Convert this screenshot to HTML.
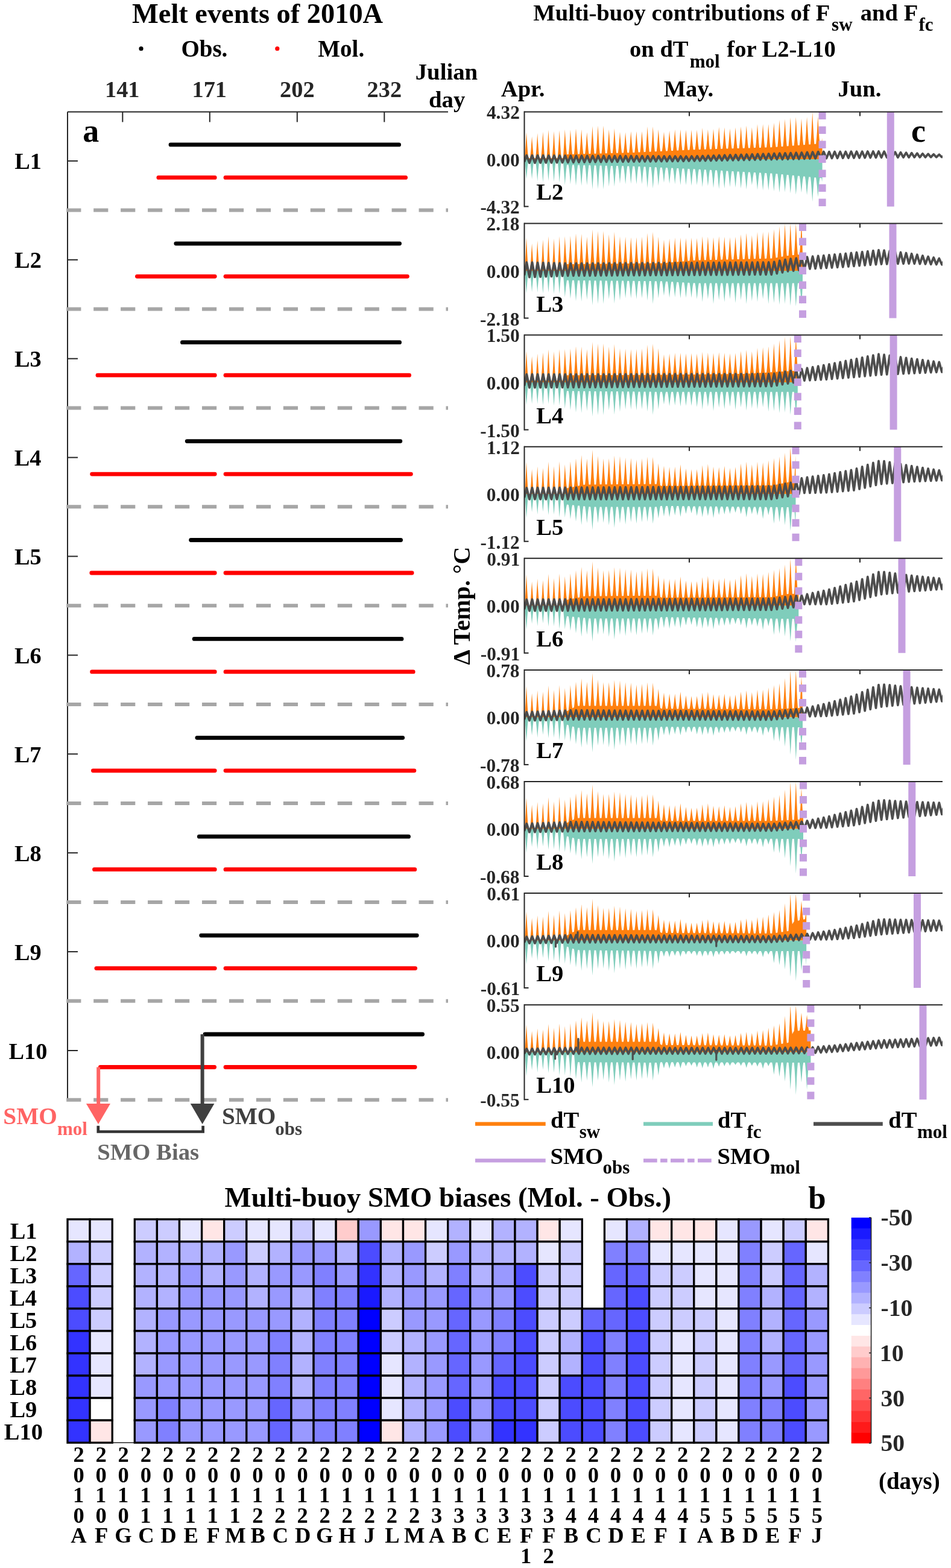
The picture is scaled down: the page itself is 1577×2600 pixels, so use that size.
<!DOCTYPE html>
<html><head><meta charset="utf-8"><title>Figure</title>
<style>html,body{margin:0;padding:0;background:#fff;} svg{display:block;} text{font-family:'Liberation Serif', 'Times New Roman', serif;font-weight:bold;}</style>
</head><body>
<svg width="1577" height="2600" viewBox="0 0 1577 2600">
<rect width="1577" height="2600" fill="#fff"/>
<text x="219.0" y="37.6" font-size="46.4" fill="#000" text-anchor="start" >Melt events of 2010A</text>
<circle cx="234" cy="80.7" r="3.6" fill="#000"/>
<text x="300.4" y="94.0" font-size="39" fill="#000" text-anchor="start" >Obs.</text>
<circle cx="459.8" cy="80.7" r="3.6" fill="#f00"/>
<text x="527.3" y="94.0" font-size="39" fill="#000" text-anchor="start" >Mol.</text>
<line x1="112.0" y1="185.4" x2="743.0" y2="185.4" stroke="#262626" stroke-width="2" />
<line x1="112.0" y1="185.4" x2="112.0" y2="1824.5" stroke="#262626" stroke-width="2" />
<line x1="203.3" y1="185.4" x2="203.3" y2="202.4" stroke="#262626" stroke-width="2" />
<text x="174.0" y="161.0" font-size="38.3" fill="#262626" text-anchor="start" >141</text>
<line x1="347.8" y1="185.4" x2="347.8" y2="202.4" stroke="#262626" stroke-width="2" />
<text x="318.5" y="161.0" font-size="38.3" fill="#262626" text-anchor="start" >171</text>
<line x1="492.8" y1="185.4" x2="492.8" y2="202.4" stroke="#262626" stroke-width="2" />
<text x="464.1" y="161.0" font-size="38.3" fill="#262626" text-anchor="start" >202</text>
<line x1="637.3" y1="185.4" x2="637.3" y2="202.4" stroke="#262626" stroke-width="2" />
<text x="608.6" y="161.0" font-size="38.3" fill="#262626" text-anchor="start" >232</text>
<text x="688.7" y="132.0" font-size="38.8" fill="#000" text-anchor="start" >Julian</text>
<text x="711.0" y="177.6" font-size="38.8" fill="#000" text-anchor="start" >day</text>
<text x="137.3" y="235.0" font-size="54" fill="#000" text-anchor="start" >a</text>
<line x1="112.0" y1="266.9" x2="129.0" y2="266.9" stroke="#262626" stroke-width="2" />
<text x="24.3" y="280.4" font-size="38.3" fill="#000" text-anchor="start" >L1</text>
<line x1="283.0" y1="239.9" x2="661.6" y2="239.9" stroke="#000" stroke-width="6.8" stroke-linecap="round"/>
<line x1="262.9" y1="294.4" x2="356.20000000000005" y2="294.4" stroke="#f00" stroke-width="6.8" stroke-linecap="round"/>
<line x1="374.0" y1="294.4" x2="672.6" y2="294.4" stroke="#f00" stroke-width="6.8" stroke-linecap="round"/>
<line x1="110.2" y1="348.6" x2="743" y2="348.6" stroke="#a6a6a6" stroke-width="6" stroke-dasharray="24.2 20.75"/>
<line x1="112.0" y1="430.8" x2="129.0" y2="430.8" stroke="#262626" stroke-width="2" />
<text x="24.1" y="444.3" font-size="38.3" fill="#000" text-anchor="start" >L2</text>
<line x1="291.79999999999995" y1="403.8" x2="662.6" y2="403.8" stroke="#000" stroke-width="6.8" stroke-linecap="round"/>
<line x1="227.4" y1="458.3" x2="356.20000000000005" y2="458.3" stroke="#f00" stroke-width="6.8" stroke-linecap="round"/>
<line x1="374.0" y1="458.3" x2="675.4" y2="458.3" stroke="#f00" stroke-width="6.8" stroke-linecap="round"/>
<line x1="110.2" y1="512.5" x2="743" y2="512.5" stroke="#a6a6a6" stroke-width="6" stroke-dasharray="24.2 20.75"/>
<line x1="112.0" y1="594.7" x2="129.0" y2="594.7" stroke="#262626" stroke-width="2" />
<text x="24.0" y="608.2" font-size="38.3" fill="#000" text-anchor="start" >L3</text>
<line x1="302.4" y1="567.7" x2="662.6" y2="567.7" stroke="#000" stroke-width="6.8" stroke-linecap="round"/>
<line x1="162.0" y1="622.2" x2="356.20000000000005" y2="622.2" stroke="#f00" stroke-width="6.8" stroke-linecap="round"/>
<line x1="374.0" y1="622.2" x2="678.6" y2="622.2" stroke="#f00" stroke-width="6.8" stroke-linecap="round"/>
<line x1="110.2" y1="676.4" x2="743" y2="676.4" stroke="#a6a6a6" stroke-width="6" stroke-dasharray="24.2 20.75"/>
<line x1="112.0" y1="758.6" x2="129.0" y2="758.6" stroke="#262626" stroke-width="2" />
<text x="23.7" y="772.1" font-size="38.3" fill="#000" text-anchor="start" >L4</text>
<line x1="310.2" y1="731.6" x2="663.8000000000001" y2="731.6" stroke="#000" stroke-width="6.8" stroke-linecap="round"/>
<line x1="152.6" y1="786.1" x2="356.20000000000005" y2="786.1" stroke="#f00" stroke-width="6.8" stroke-linecap="round"/>
<line x1="374.0" y1="786.1" x2="681.4" y2="786.1" stroke="#f00" stroke-width="6.8" stroke-linecap="round"/>
<line x1="110.2" y1="840.3" x2="743" y2="840.3" stroke="#a6a6a6" stroke-width="6" stroke-dasharray="24.2 20.75"/>
<line x1="112.0" y1="922.5" x2="129.0" y2="922.5" stroke="#262626" stroke-width="2" />
<text x="24.0" y="936.0" font-size="38.3" fill="#000" text-anchor="start" >L5</text>
<line x1="316.59999999999997" y1="895.5" x2="664.6" y2="895.5" stroke="#000" stroke-width="6.8" stroke-linecap="round"/>
<line x1="151.8" y1="950.0" x2="356.20000000000005" y2="950.0" stroke="#f00" stroke-width="6.8" stroke-linecap="round"/>
<line x1="374.0" y1="950.0" x2="683.1" y2="950.0" stroke="#f00" stroke-width="6.8" stroke-linecap="round"/>
<line x1="110.2" y1="1004.2" x2="743" y2="1004.2" stroke="#a6a6a6" stroke-width="6" stroke-dasharray="24.2 20.75"/>
<line x1="112.0" y1="1086.4" x2="129.0" y2="1086.4" stroke="#262626" stroke-width="2" />
<text x="23.9" y="1099.9" font-size="38.3" fill="#000" text-anchor="start" >L6</text>
<line x1="322.09999999999997" y1="1059.4" x2="666.0" y2="1059.4" stroke="#000" stroke-width="6.8" stroke-linecap="round"/>
<line x1="152.6" y1="1113.9" x2="356.20000000000005" y2="1113.9" stroke="#f00" stroke-width="6.8" stroke-linecap="round"/>
<line x1="374.0" y1="1113.9" x2="685.2" y2="1113.9" stroke="#f00" stroke-width="6.8" stroke-linecap="round"/>
<line x1="110.2" y1="1168.1" x2="743" y2="1168.1" stroke="#a6a6a6" stroke-width="6" stroke-dasharray="24.2 20.75"/>
<line x1="112.0" y1="1250.3" x2="129.0" y2="1250.3" stroke="#262626" stroke-width="2" />
<text x="23.8" y="1263.8" font-size="38.3" fill="#000" text-anchor="start" >L7</text>
<line x1="326.9" y1="1223.3" x2="667.7" y2="1223.3" stroke="#000" stroke-width="6.8" stroke-linecap="round"/>
<line x1="154.4" y1="1277.8" x2="356.20000000000005" y2="1277.8" stroke="#f00" stroke-width="6.8" stroke-linecap="round"/>
<line x1="374.0" y1="1277.8" x2="686.9" y2="1277.8" stroke="#f00" stroke-width="6.8" stroke-linecap="round"/>
<line x1="110.2" y1="1332.0" x2="743" y2="1332.0" stroke="#a6a6a6" stroke-width="6" stroke-dasharray="24.2 20.75"/>
<line x1="112.0" y1="1414.2" x2="129.0" y2="1414.2" stroke="#262626" stroke-width="2" />
<text x="24.0" y="1427.7" font-size="38.3" fill="#000" text-anchor="start" >L8</text>
<line x1="330.29999999999995" y1="1387.2" x2="677.5" y2="1387.2" stroke="#000" stroke-width="6.8" stroke-linecap="round"/>
<line x1="156.5" y1="1441.7" x2="356.20000000000005" y2="1441.7" stroke="#f00" stroke-width="6.8" stroke-linecap="round"/>
<line x1="374.0" y1="1441.7" x2="687.8000000000001" y2="1441.7" stroke="#f00" stroke-width="6.8" stroke-linecap="round"/>
<line x1="110.2" y1="1495.9" x2="743" y2="1495.9" stroke="#a6a6a6" stroke-width="6" stroke-dasharray="24.2 20.75"/>
<line x1="112.0" y1="1578.1" x2="129.0" y2="1578.1" stroke="#262626" stroke-width="2" />
<text x="24.0" y="1591.6" font-size="38.3" fill="#000" text-anchor="start" >L9</text>
<line x1="333.7" y1="1551.1" x2="691.2" y2="1551.1" stroke="#000" stroke-width="6.8" stroke-linecap="round"/>
<line x1="159.9" y1="1605.6" x2="356.20000000000005" y2="1605.6" stroke="#f00" stroke-width="6.8" stroke-linecap="round"/>
<line x1="374.0" y1="1605.6" x2="688.6" y2="1605.6" stroke="#f00" stroke-width="6.8" stroke-linecap="round"/>
<line x1="110.2" y1="1659.8" x2="743" y2="1659.8" stroke="#a6a6a6" stroke-width="6" stroke-dasharray="24.2 20.75"/>
<line x1="112.0" y1="1742.0" x2="129.0" y2="1742.0" stroke="#262626" stroke-width="2" />
<text x="14.5" y="1755.5" font-size="38.3" fill="#000" text-anchor="start" >L10</text>
<line x1="340.0" y1="1715.0" x2="700.6" y2="1715.0" stroke="#000" stroke-width="6.8" stroke-linecap="round"/>
<line x1="166.4" y1="1769.5" x2="355.6" y2="1769.5" stroke="#f00" stroke-width="6.8" stroke-linecap="round"/>
<line x1="374.0" y1="1769.5" x2="688.1" y2="1769.5" stroke="#f00" stroke-width="6.8" stroke-linecap="round"/>
<line x1="110.2" y1="1823.7" x2="743" y2="1823.7" stroke="#a6a6a6" stroke-width="6" stroke-dasharray="24.2 20.75"/>
<line x1="163.2" y1="1769.5" x2="163.2" y2="1832.0" stroke="#ff6464" stroke-width="6" />
<polygon points="142.9,1830 183,1830 163,1864.1" fill="#ff6464"/>
<line x1="335.6" y1="1715.0" x2="335.6" y2="1832.0" stroke="#404040" stroke-width="6" />
<polygon points="315.8,1830 355.4,1830 335.6,1864.1" fill="#404040"/>
<polyline points="162.8,1866.8 162.8,1876.5 336.6,1876.5 336.6,1866.8" fill="none" stroke="#333" stroke-width="4.7"/>
<text x="161.3" y="1923.0" font-size="38.7" fill="#666" text-anchor="start" >SMO Bias</text>
<text x="5.3" y="1864.1" font-size="39.3" fill="#ff6464" text-anchor="start" >SMO</text>
<text x="94.9" y="1882.2" font-size="31" fill="#ff6464" text-anchor="start" >mol</text>
<text x="367.9" y="1864.1" font-size="39.3" fill="#404040" text-anchor="start" >SMO</text>
<text x="456.3" y="1882.2" font-size="31" fill="#404040" text-anchor="start" >obs</text>
<text x="884.3" y="34.0" font-size="38.6" fill="#000" text-anchor="start" >Multi-buoy contributions of F</text>
<text x="1379.1" y="50.5" font-size="31" fill="#000" text-anchor="start" >sw</text>
<text x="1426.8" y="34.0" font-size="38.6" fill="#000" text-anchor="start" >and F</text>
<text x="1523.4" y="50.5" font-size="31" fill="#000" text-anchor="start" >fc</text>
<text x="1044.0" y="94.0" font-size="38.6" fill="#000" text-anchor="start" >on dT</text>
<text x="1143.7" y="112.0" font-size="31" fill="#000" text-anchor="start" >mol</text>
<text x="1205.3" y="94.0" font-size="38.6" fill="#000" text-anchor="start" >for L2-L10</text>
<text x="830.8" y="160.0" font-size="38.6" fill="#000" text-anchor="start" >Apr.</text>
<text x="1100.7" y="160.0" font-size="38.6" fill="#000" text-anchor="start" >May.</text>
<text x="1389.5" y="160.0" font-size="38.6" fill="#000" text-anchor="start" >Jun.</text>
<text x="1511.0" y="235.0" font-size="54" fill="#000" text-anchor="start" >c</text>
<text transform="translate(778.6,1004.5) rotate(-90)" x="0" y="0" font-size="40.4" fill="#000" text-anchor="middle">Δ Temp. °C</text>
<clipPath id="cp0"><rect x="869.5" y="185.4" width="693.5" height="157"/></clipPath>
<g clip-path="url(#cp0)">
<path d="M869.5,263.9L869.5,262.3L869.8,262.3L870.7,253.7L871.6,241.6L872.3,229.9L873.0,219.2L873.6,229.9L874.3,241.6L875.2,253.7L876.2,262.3L877.5,262.3L878.9,262.3L879.8,255.1L880.7,245.0L881.4,235.2L882.1,226.2L882.7,235.2L883.5,245.0L884.4,255.1L885.3,262.3L886.6,262.3L888.0,262.3L888.9,254.0L889.8,242.4L890.6,231.1L891.2,220.7L891.8,231.1L892.6,242.4L893.5,254.0L894.4,262.3L895.8,262.3L897.1,262.3L898.0,253.5L899.0,241.2L899.7,229.4L900.3,218.4L901.0,229.4L901.7,241.2L902.6,253.5L903.5,262.3L904.9,262.3L906.3,262.3L907.2,252.9L908.1,239.7L908.8,227.0L909.4,215.2L910.1,227.0L910.8,239.7L911.7,252.9L912.6,262.3L914.0,262.3L915.4,262.3L916.3,253.4L917.2,240.9L917.9,228.8L918.6,217.6L919.2,228.8L919.9,240.9L920.8,253.4L921.8,262.3L923.1,262.3L924.5,262.3L925.4,253.1L926.3,240.1L927.0,227.6L927.7,216.0L928.3,227.6L929.1,240.1L930.0,253.1L930.9,262.3L932.2,262.3L933.6,262.0L934.5,251.7L935.4,238.1L936.2,225.6L936.8,214.4L937.4,225.2L938.2,236.5L939.1,247.7L940.0,256.0L941.4,256.0L942.7,255.9L943.6,247.8L944.6,236.4L945.3,225.4L945.9,215.2L946.6,225.4L947.3,236.3L948.2,247.7L949.1,255.8L950.5,255.7L951.9,255.7L952.8,247.1L953.7,235.1L954.4,223.6L955.0,212.9L955.7,223.6L956.4,235.1L957.3,247.0L958.2,255.5L959.6,255.5L961.0,255.4L961.9,247.2L962.8,235.7L963.5,224.7L964.2,214.4L964.8,224.7L965.5,235.7L966.4,247.1L967.4,255.3L968.7,255.2L970.1,255.2L971.0,248.0L971.9,237.9L972.6,228.1L973.3,219.2L973.9,228.1L974.7,237.8L975.6,247.9L976.5,255.0L977.8,255.0L979.2,254.9L980.1,245.7L981.0,232.8L981.8,220.4L982.4,208.9L983.0,220.4L983.8,232.8L984.7,245.6L985.6,254.8L987.0,254.7L988.3,254.7L989.2,245.4L990.2,232.3L990.9,219.8L991.5,208.2L992.2,219.8L992.9,232.3L993.8,245.3L994.7,254.5L996.1,254.5L997.5,254.4L998.4,245.2L999.3,232.2L1000.0,219.7L1000.6,208.2L1001.3,219.7L1002.0,232.2L1002.9,245.0L1003.8,254.2L1005.2,254.2L1006.6,254.2L1007.5,246.2L1008.4,235.1L1009.1,224.4L1009.8,214.4L1010.4,224.3L1011.1,235.0L1012.0,246.1L1013.0,254.0L1014.3,254.0L1015.7,253.9L1016.6,245.7L1017.5,234.2L1018.2,223.1L1018.9,212.9L1019.5,223.1L1020.3,234.2L1021.2,245.6L1022.1,253.7L1023.4,253.7L1024.8,253.7L1025.7,246.6L1026.6,236.7L1027.4,227.2L1028.0,218.4L1028.6,227.2L1029.4,236.7L1030.3,246.5L1031.2,253.5L1032.6,253.4L1033.9,253.4L1034.8,246.5L1035.8,236.9L1036.5,227.7L1037.1,219.2L1037.8,227.7L1038.5,236.9L1039.4,246.4L1040.3,253.2L1041.7,253.2L1043.1,253.2L1044.0,246.0L1044.9,236.1L1045.6,226.5L1046.2,217.6L1046.9,226.5L1047.6,236.0L1048.5,245.9L1049.4,253.0L1050.8,252.9L1052.2,252.9L1053.1,245.8L1054.0,235.9L1054.7,226.4L1055.4,217.6L1056.0,226.4L1056.7,235.8L1057.6,245.6L1058.6,252.6L1059.9,252.5L1061.3,252.5L1062.2,245.5L1063.1,235.7L1063.8,226.3L1064.5,217.6L1065.1,226.3L1065.9,235.6L1066.8,245.3L1067.7,252.2L1069.0,252.1L1070.4,252.0L1071.3,243.5L1072.2,231.7L1073.0,220.3L1073.6,209.7L1074.2,220.3L1075.0,231.6L1075.9,243.4L1076.8,251.7L1078.2,251.7L1079.5,251.6L1080.4,243.2L1081.4,231.5L1082.1,220.2L1082.7,209.7L1083.4,220.2L1084.1,231.4L1085.0,243.0L1085.9,251.3L1087.3,251.2L1088.7,251.2L1089.6,243.8L1090.5,233.5L1091.2,223.6L1091.8,214.4L1092.5,223.6L1093.2,233.4L1094.1,243.6L1095.0,250.9L1096.4,250.8L1097.8,250.8L1098.7,244.2L1099.6,235.2L1100.3,226.4L1101.0,218.4L1101.6,226.4L1102.3,235.1L1103.2,244.1L1104.2,250.5L1105.5,250.4L1106.9,250.3L1107.8,243.6L1108.7,234.2L1109.4,225.2L1110.1,216.8L1110.7,225.1L1111.5,234.1L1112.4,243.4L1113.3,250.0L1114.6,250.0L1116.0,249.9L1116.9,242.8L1117.8,232.8L1118.6,223.3L1119.2,214.4L1119.8,223.3L1120.6,232.8L1121.5,242.6L1122.4,249.6L1123.8,249.5L1125.1,249.5L1126.0,242.4L1127.0,232.6L1127.7,223.2L1128.3,214.4L1129.0,223.2L1129.7,232.5L1130.6,242.3L1131.5,249.2L1132.9,249.1L1134.3,249.0L1135.2,242.2L1136.1,232.8L1136.8,223.7L1137.4,215.2L1138.1,223.6L1138.8,232.7L1139.7,242.1L1140.6,248.7L1142.0,248.7L1143.4,248.6L1144.3,241.9L1145.2,232.5L1145.9,223.5L1146.6,215.2L1147.2,223.5L1147.9,232.5L1148.8,241.7L1149.8,248.3L1151.1,248.3L1152.5,248.2L1153.4,241.6L1154.3,232.3L1155.0,223.5L1155.7,215.2L1156.3,223.4L1157.1,232.3L1158.0,241.5L1158.9,248.0L1160.2,248.0L1161.6,247.9L1162.5,240.7L1163.4,230.7L1164.2,221.0L1164.8,212.1L1165.4,221.0L1166.2,230.6L1167.1,240.6L1168.0,247.7L1169.4,247.7L1170.7,247.6L1171.6,241.0L1172.6,231.7L1173.3,222.7L1173.9,214.4L1174.6,222.7L1175.3,231.6L1176.2,240.9L1177.1,247.4L1178.5,247.4L1179.9,247.4L1180.8,240.6L1181.7,231.1L1182.4,222.1L1183.0,213.7L1183.7,222.1L1184.4,231.1L1185.3,240.5L1186.2,247.2L1187.6,247.1L1189.0,247.1L1189.9,239.7L1190.8,229.5L1191.5,219.6L1192.2,210.5L1192.8,219.6L1193.5,229.5L1194.4,239.6L1195.4,246.9L1196.7,246.8L1198.1,246.8L1199.0,239.7L1199.9,229.7L1200.6,220.2L1201.3,211.3L1201.9,220.1L1202.7,229.7L1203.6,239.6L1204.5,246.6L1205.8,246.6L1207.2,246.5L1208.1,239.8L1209.0,230.3L1209.8,221.3L1210.4,212.9L1211.0,221.3L1211.8,230.3L1212.7,239.6L1213.6,246.3L1215.0,246.3L1216.3,246.2L1217.2,239.2L1218.2,229.4L1218.9,220.0L1219.5,211.3L1220.2,220.0L1220.9,229.4L1221.8,239.1L1222.7,246.0L1224.1,246.0L1225.5,245.9L1226.4,238.7L1227.3,228.5L1228.0,218.8L1228.6,209.7L1229.3,218.8L1230.0,228.5L1230.9,238.6L1231.8,245.8L1233.2,245.7L1234.6,245.7L1235.5,238.1L1236.4,227.6L1237.1,217.5L1237.8,208.2L1238.4,217.5L1239.1,227.6L1240.0,238.0L1241.0,245.5L1242.3,245.4L1243.7,245.4L1244.6,238.5L1245.5,229.0L1246.2,219.8L1246.9,211.3L1247.5,219.8L1248.3,229.0L1249.2,238.4L1250.1,245.2L1251.4,245.1L1252.8,245.1L1253.7,237.2L1254.6,226.2L1255.4,215.6L1256.0,205.8L1256.6,215.6L1257.4,226.2L1258.3,237.1L1259.2,244.9L1260.6,244.9L1261.9,244.8L1262.8,237.0L1263.8,226.1L1264.5,215.5L1265.1,205.8L1265.8,215.5L1266.5,226.0L1267.4,236.9L1268.3,244.6L1269.7,244.6L1271.1,244.5L1272.0,236.8L1272.9,225.9L1273.6,215.5L1274.2,205.8L1274.9,215.5L1275.6,225.9L1276.5,236.7L1277.4,244.4L1278.8,244.3L1280.2,244.3L1281.1,236.0L1282.0,224.6L1282.7,213.6L1283.4,203.5L1284.0,213.6L1284.7,224.5L1285.6,235.8L1286.6,243.8L1287.9,243.7L1289.3,243.6L1290.2,234.5L1291.1,222.0L1291.8,209.9L1292.5,198.7L1293.1,209.9L1293.9,221.9L1294.8,234.3L1295.7,243.1L1297.0,243.0L1298.4,242.9L1299.3,233.7L1300.2,220.9L1301.0,208.5L1301.6,197.2L1302.2,208.5L1303.0,220.7L1303.9,233.4L1304.8,242.4L1306.2,242.3L1307.5,242.2L1308.4,232.6L1309.4,219.4L1310.1,206.6L1310.7,194.8L1311.4,206.6L1312.1,219.3L1313.0,232.4L1313.9,241.7L1315.3,241.6L1316.7,241.5L1317.6,231.9L1318.5,218.6L1319.2,205.8L1319.8,194.0L1320.5,205.8L1321.2,218.5L1322.1,231.6L1323.0,241.0L1324.4,240.9L1325.8,240.8L1326.7,231.8L1327.6,219.4L1328.3,207.4L1329.0,196.4L1329.6,207.4L1330.3,219.3L1331.2,231.6L1332.2,240.3L1333.5,240.2L1334.9,240.1L1335.8,230.8L1336.7,217.9L1337.4,205.5L1338.1,194.0L1338.7,205.5L1339.5,217.8L1340.4,230.5L1341.3,239.6L1342.6,239.5L1344.0,239.4L1344.9,228.5L1345.8,213.4L1346.6,198.8L1347.2,185.4L1347.8,198.8L1348.6,213.3L1349.5,228.2L1350.4,238.9L1351.8,238.8L1353.1,238.7L1354.0,229.5L1355.0,216.8L1355.7,204.6L1356.3,193.2L1357.0,204.5L1357.7,216.7L1358.6,229.3L1359.5,238.2L1360.9,238.1L1362.3,238.0L1363.2,229.0L1363.6,238.0L1363.6,263.9Z" fill="#ff800e"/>
<path d="M869.5,263.9L869.5,266.3L869.8,266.3L870.7,272.4L871.6,281.0L872.3,289.2L873.0,296.9L873.6,289.2L874.3,281.0L875.2,272.4L876.2,266.3L877.5,266.3L878.9,266.3L879.8,272.4L880.7,281.0L881.4,289.2L882.1,296.9L882.7,289.2L883.5,281.0L884.4,272.4L885.3,266.3L886.6,266.3L888.0,266.3L888.9,273.2L889.8,282.8L890.6,292.2L891.2,300.8L891.8,292.2L892.6,282.8L893.5,273.2L894.4,266.3L895.8,266.3L897.1,266.3L898.0,273.5L899.0,283.6L899.7,293.3L900.3,302.4L901.0,293.3L901.7,283.6L902.6,273.5L903.5,266.3L904.9,266.3L906.3,266.3L907.2,273.0L908.1,282.5L908.8,291.6L909.4,300.0L910.1,291.6L910.8,282.5L911.7,273.0L912.6,266.3L914.0,266.3L915.4,266.3L916.3,273.3L917.2,283.2L917.9,292.7L918.6,301.6L919.2,292.7L919.9,283.2L920.8,273.3L921.8,266.3L923.1,266.3L924.5,266.3L925.4,273.6L926.3,284.0L927.0,293.9L927.7,303.1L928.3,293.9L929.1,284.0L930.0,273.6L930.9,266.3L932.2,266.3L933.6,266.6L934.5,275.6L935.4,287.3L936.2,297.8L936.8,307.1L937.4,298.2L938.2,289.1L939.1,280.1L940.0,273.3L941.4,273.4L942.7,273.4L943.6,279.8L944.6,288.8L945.3,297.5L945.9,305.5L946.6,297.5L947.3,288.9L948.2,279.9L949.1,273.5L950.5,273.6L951.9,273.6L952.8,280.5L953.7,290.1L954.4,299.3L955.0,307.9L955.7,299.3L956.4,290.1L957.3,280.5L958.2,273.7L959.6,273.8L961.0,273.8L961.9,280.6L962.8,290.2L963.5,299.4L964.2,307.9L964.8,299.4L965.5,290.2L966.4,280.7L967.4,273.9L968.7,273.9L970.1,274.0L971.0,280.6L971.9,289.9L972.6,298.8L973.3,307.1L973.9,298.8L974.7,289.9L975.6,280.7L976.5,274.1L977.8,274.1L979.2,274.2L980.1,282.2L981.0,293.4L981.8,304.2L982.4,314.1L983.0,304.2L983.8,293.4L984.7,282.2L985.6,274.3L987.0,274.3L988.3,274.4L989.2,282.2L990.2,293.1L990.9,303.6L991.5,313.4L992.2,303.6L992.9,293.1L993.8,282.2L994.7,274.5L996.1,274.5L997.5,274.5L998.4,282.5L999.3,293.6L1000.0,304.3L1000.6,314.1L1001.3,304.3L1002.0,293.6L1002.9,282.6L1003.8,274.7L1005.2,274.7L1006.6,274.7L1007.5,281.7L1008.4,291.4L1009.1,300.8L1009.8,309.4L1010.4,300.8L1011.1,291.4L1012.0,281.8L1013.0,274.9L1014.3,274.9L1015.7,274.9L1016.6,281.8L1017.5,291.5L1018.2,300.8L1018.9,309.4L1019.5,300.8L1020.3,291.5L1021.2,281.9L1022.1,275.1L1023.4,275.1L1024.8,275.1L1025.7,281.0L1026.6,289.3L1027.4,297.3L1028.0,304.7L1028.6,297.3L1029.4,289.4L1030.3,281.1L1031.2,275.2L1032.6,275.3L1033.9,275.3L1034.8,281.4L1035.8,289.8L1036.5,298.0L1037.1,305.5L1037.8,298.0L1038.5,289.8L1039.4,281.4L1040.3,275.4L1041.7,275.5L1043.1,275.5L1044.0,281.4L1044.9,289.5L1045.6,297.4L1046.2,304.7L1046.9,297.4L1047.6,289.6L1048.5,281.4L1049.4,275.6L1050.8,275.7L1052.2,275.7L1053.1,281.7L1054.0,290.0L1054.7,298.1L1055.4,305.5L1056.0,298.1L1056.7,290.1L1057.6,281.9L1058.6,276.0L1059.9,276.1L1061.3,276.1L1062.2,282.0L1063.1,290.3L1063.8,298.2L1064.5,305.5L1065.1,298.2L1065.9,290.3L1066.8,282.2L1067.7,276.4L1069.0,276.5L1070.4,276.5L1071.3,283.6L1072.2,293.5L1073.0,303.0L1073.6,311.8L1074.2,303.0L1075.0,293.6L1075.9,283.8L1076.8,276.8L1078.2,276.9L1079.5,277.0L1080.4,284.1L1081.4,294.1L1082.1,303.7L1082.7,312.6L1083.4,303.7L1084.1,294.2L1085.0,284.3L1085.9,277.3L1087.3,277.3L1088.7,277.4L1089.6,283.5L1090.5,292.1L1091.2,300.3L1091.8,307.9L1092.5,300.3L1093.2,292.1L1094.1,283.7L1095.0,277.7L1096.4,277.8L1097.8,277.8L1098.7,282.9L1099.6,290.0L1100.3,296.8L1101.0,303.1L1101.6,296.9L1102.3,290.1L1103.2,283.1L1104.2,278.1L1105.5,278.2L1106.9,278.3L1107.8,283.6L1108.7,291.0L1109.4,298.1L1110.1,304.7L1110.7,298.1L1111.5,291.1L1112.4,283.8L1113.3,278.6L1114.6,278.6L1116.0,278.7L1116.9,284.1L1117.8,291.6L1118.6,298.8L1119.2,305.5L1119.8,298.8L1120.6,291.7L1121.5,284.3L1122.4,279.0L1123.8,279.0L1125.1,279.1L1126.0,284.7L1127.0,292.6L1127.7,300.1L1128.3,307.1L1129.0,300.1L1129.7,292.6L1130.6,284.9L1131.5,279.4L1132.9,279.5L1134.3,279.5L1135.2,285.1L1136.1,292.8L1136.8,300.2L1137.4,307.1L1138.1,300.2L1138.8,292.9L1139.7,285.3L1140.6,279.8L1142.0,279.9L1143.4,280.0L1144.3,285.6L1145.2,293.4L1145.9,300.9L1146.6,307.9L1147.2,300.9L1147.9,293.5L1148.8,285.8L1149.8,280.3L1151.1,280.3L1152.5,280.4L1153.4,285.8L1154.3,293.3L1155.0,300.4L1155.7,307.1L1156.3,300.5L1157.1,293.3L1158.0,286.0L1158.9,280.8L1160.2,280.8L1161.6,280.9L1162.5,286.8L1163.4,295.0L1164.2,302.9L1164.8,310.2L1165.4,302.9L1166.2,295.1L1167.1,287.0L1168.0,281.3L1169.4,281.3L1170.7,281.4L1171.6,286.9L1172.6,294.5L1173.3,301.9L1173.9,308.6L1174.6,301.9L1175.3,294.6L1176.2,287.1L1177.1,281.8L1178.5,281.8L1179.9,281.9L1180.8,287.9L1181.7,296.3L1182.4,304.4L1183.0,311.8L1183.7,304.4L1184.4,296.4L1185.3,288.1L1186.2,282.3L1187.6,282.3L1189.0,282.4L1189.9,288.6L1190.8,297.3L1191.5,305.7L1192.2,313.4L1192.8,305.7L1193.5,297.4L1194.4,288.8L1195.4,282.8L1196.7,282.8L1198.1,282.9L1199.0,288.9L1199.9,297.2L1200.6,305.2L1201.3,312.6L1201.9,305.2L1202.7,297.3L1203.6,289.1L1204.5,283.3L1205.8,283.4L1207.2,283.4L1208.1,288.8L1209.0,296.3L1209.8,303.6L1210.4,310.2L1211.0,303.6L1211.8,296.4L1212.7,289.0L1213.6,283.8L1215.0,283.9L1216.3,283.9L1217.2,289.4L1218.2,297.0L1218.9,304.3L1219.5,311.0L1220.2,304.3L1220.9,297.1L1221.8,289.6L1222.7,284.3L1224.1,284.4L1225.5,284.4L1226.4,290.1L1227.3,298.0L1228.0,305.6L1228.6,312.6L1229.3,305.6L1230.0,298.1L1230.9,290.3L1231.8,284.8L1233.2,284.9L1234.6,284.9L1235.5,290.8L1236.4,299.0L1237.1,306.9L1237.8,314.1L1238.4,306.9L1239.1,299.1L1240.0,291.0L1241.0,285.3L1242.3,285.4L1243.7,285.4L1244.6,289.8L1245.5,295.9L1246.2,301.7L1246.9,307.1L1247.5,301.7L1248.3,296.0L1249.2,290.0L1250.1,285.8L1251.4,285.9L1252.8,286.0L1253.7,291.8L1254.6,299.9L1255.4,307.7L1256.0,314.9L1256.6,307.7L1257.4,300.0L1258.3,292.0L1259.2,286.3L1260.6,286.4L1261.9,286.5L1262.8,292.3L1263.8,300.6L1264.5,308.4L1265.1,315.7L1265.8,308.4L1266.5,300.6L1267.4,292.5L1268.3,286.8L1269.7,286.9L1271.1,287.0L1272.0,292.8L1272.9,300.8L1273.6,308.6L1274.2,315.7L1274.9,308.6L1275.6,300.9L1276.5,293.0L1277.4,287.3L1278.8,287.4L1280.2,287.5L1281.1,293.5L1282.0,301.9L1282.7,309.9L1283.4,317.3L1284.0,309.9L1284.7,302.0L1285.6,293.9L1286.6,288.1L1287.9,288.2L1289.3,288.3L1290.2,294.7L1291.1,303.5L1291.8,311.9L1292.5,319.6L1293.1,311.9L1293.9,303.6L1294.8,295.0L1295.7,289.0L1297.0,289.1L1298.4,289.2L1299.3,295.2L1300.2,303.5L1301.0,311.5L1301.6,318.8L1302.2,311.5L1303.0,303.7L1303.9,295.6L1304.8,289.8L1306.2,290.0L1307.5,290.1L1308.4,296.2L1309.4,304.7L1310.1,312.9L1310.7,320.4L1311.4,312.9L1312.1,304.9L1313.0,296.6L1313.9,290.7L1315.3,290.8L1316.7,291.0L1317.6,297.4L1318.5,306.3L1319.2,314.9L1319.8,322.8L1320.5,314.9L1321.2,306.5L1322.1,297.7L1323.0,291.6L1324.4,291.7L1325.8,291.8L1326.7,297.5L1327.6,305.3L1328.3,312.7L1329.0,319.6L1329.6,312.8L1330.3,305.4L1331.2,297.8L1332.2,292.4L1333.5,292.6L1334.9,292.7L1335.8,298.9L1336.7,307.6L1337.4,315.9L1338.1,323.6L1338.7,315.9L1339.5,307.7L1340.4,299.3L1341.3,293.3L1342.6,293.5L1344.0,293.6L1344.9,301.8L1345.8,313.3L1346.6,324.4L1347.2,334.5L1347.8,324.4L1348.6,313.5L1349.5,302.2L1350.4,294.2L1351.8,294.3L1353.1,294.5L1354.0,301.0L1355.0,310.0L1355.7,318.7L1356.3,326.7L1357.0,318.7L1357.7,310.2L1358.6,301.3L1359.5,295.1L1360.9,295.2L1362.3,295.3L1363.2,301.6L1363.6,295.3L1363.6,263.9Z" fill="#7fcdbb"/>
<path d="M869.5,268.4L869.9,267.2L871.1,263.9L872.2,260.6L873.3,257.6L874.5,260.6L875.6,263.9L876.8,267.2L877.9,270.1L879.0,267.2L880.2,263.9L881.3,260.6L882.5,257.7L883.6,260.6L884.7,263.9L885.9,267.1L887.0,270.0L888.2,267.1L889.3,263.8L890.4,260.6L891.6,257.7L892.7,260.6L893.9,263.8L895.0,267.0L896.1,269.9L897.3,267.0L898.4,263.8L899.6,260.6L900.7,257.8L901.8,260.6L903.0,263.8L904.1,267.0L905.3,269.8L906.4,267.0L907.5,263.8L908.7,260.6L909.8,257.9L911.0,260.6L912.1,263.8L913.2,266.9L914.4,269.7L915.5,266.9L916.7,263.8L917.8,260.6L918.9,257.9L920.1,260.7L921.2,263.8L922.4,266.8L923.5,269.6L924.6,266.8L925.8,263.7L926.9,260.7L928.1,258.0L929.2,260.7L930.3,263.7L931.5,266.8L932.6,269.5L933.8,266.8L934.9,263.7L936.0,260.7L937.2,258.0L938.3,260.7L939.5,263.7L940.6,266.7L941.7,269.4L942.9,266.7L944.0,263.7L945.2,260.7L946.3,258.1L947.4,260.7L948.6,263.7L949.7,266.6L950.9,269.2L952.0,266.6L953.1,263.7L954.3,260.7L955.4,258.1L956.6,260.7L957.7,263.6L958.8,266.6L960.0,269.1L961.1,266.6L962.3,263.6L963.4,260.7L964.5,258.2L965.7,260.7L966.8,263.6L968.0,266.5L969.1,269.0L970.2,266.5L971.4,263.6L972.5,260.7L973.7,258.2L974.8,260.7L975.9,263.6L977.1,266.4L978.2,268.9L979.4,266.4L980.5,263.6L981.6,260.8L982.8,258.3L983.9,260.8L985.1,263.6L986.2,266.4L987.3,268.8L988.5,266.3L989.6,263.6L990.8,260.8L991.9,258.3L993.0,260.8L994.2,263.5L995.3,266.3L996.5,268.7L997.6,266.3L998.7,263.5L999.9,260.8L1001.0,258.4L1002.2,260.8L1003.3,263.5L1004.4,266.2L1005.6,268.6L1006.7,266.2L1007.9,263.5L1009.0,260.8L1010.1,258.4L1011.3,260.8L1012.4,263.5L1013.6,266.2L1014.7,268.5L1015.8,266.1L1017.0,263.5L1018.1,260.8L1019.3,258.5L1020.4,260.8L1021.5,263.5L1022.7,266.1L1023.8,268.4L1025.0,266.1L1026.1,263.5L1027.2,260.8L1028.4,258.5L1029.5,260.8L1030.7,263.4L1031.8,266.0L1032.9,268.3L1034.1,266.0L1035.2,263.4L1036.4,260.8L1037.5,258.6L1038.6,260.9L1039.8,263.4L1040.9,266.0L1042.1,268.2L1043.2,265.9L1044.3,263.4L1045.5,260.9L1046.6,258.6L1047.8,260.9L1048.9,263.4L1050.0,265.9L1051.2,268.1L1052.3,265.9L1053.5,263.4L1054.6,260.9L1055.7,258.7L1056.9,260.9L1058.0,263.4L1059.2,265.8L1060.3,268.0L1061.4,265.8L1062.6,263.3L1063.7,260.9L1064.9,258.7L1066.0,260.9L1067.1,263.3L1068.3,265.8L1069.4,267.9L1070.6,265.7L1071.7,263.3L1072.8,260.9L1074.0,258.8L1075.1,260.9L1076.3,263.3L1077.4,265.7L1078.5,267.8L1079.7,265.7L1080.8,263.3L1082.0,260.9L1083.1,258.8L1084.2,260.9L1085.4,263.3L1086.5,265.6L1087.7,267.7L1088.8,265.6L1089.9,263.3L1091.1,260.9L1092.2,258.9L1093.4,260.9L1094.5,263.3L1095.6,265.6L1096.8,267.6L1097.9,265.5L1099.1,263.2L1100.2,261.0L1101.3,259.0L1102.5,261.0L1103.6,263.2L1104.8,265.5L1105.9,267.5L1107.0,265.5L1108.2,263.2L1109.3,261.0L1110.5,259.0L1111.6,261.0L1112.7,263.2L1113.9,265.4L1115.0,267.4L1116.2,265.4L1117.3,263.2L1118.4,261.0L1119.6,259.1L1120.7,261.0L1121.9,263.2L1123.0,265.3L1124.1,267.3L1125.3,265.3L1126.4,263.2L1127.6,261.0L1128.7,259.1L1129.8,261.0L1131.0,263.1L1132.1,265.3L1133.3,267.2L1134.4,265.3L1135.5,263.1L1136.7,261.0L1137.8,259.2L1139.0,261.0L1140.1,263.1L1141.2,265.2L1142.4,267.0L1143.5,265.2L1144.7,263.1L1145.8,261.0L1146.9,259.1L1148.1,260.9L1149.2,263.0L1150.4,265.0L1151.5,266.9L1152.6,265.0L1153.8,262.8L1154.9,260.7L1156.1,258.8L1157.2,260.6L1158.3,262.7L1159.5,264.8L1160.6,266.7L1161.8,264.8L1162.9,262.6L1164.0,260.4L1165.2,258.5L1166.3,260.3L1167.5,262.5L1168.6,264.6L1169.7,266.5L1170.9,264.6L1172.0,262.4L1173.2,260.1L1174.3,258.2L1175.4,260.1L1176.6,262.3L1177.7,264.4L1178.9,266.4L1180.0,264.4L1181.1,262.1L1182.3,259.9L1183.4,257.9L1184.6,259.8L1185.7,262.0L1186.8,264.2L1188.0,266.2L1189.1,264.2L1190.3,261.9L1191.4,259.6L1192.5,257.6L1193.7,259.5L1194.8,261.8L1196.0,264.0L1197.1,266.0L1198.2,264.0L1199.4,261.7L1200.5,259.3L1201.7,257.3L1202.8,259.3L1203.9,261.5L1205.1,263.8L1206.2,265.9L1207.4,263.8L1208.5,261.4L1209.6,259.1L1210.8,257.0L1211.9,259.0L1213.1,261.3L1214.2,263.6L1215.3,265.7L1216.5,263.6L1217.6,261.2L1218.8,258.8L1219.9,256.7L1221.0,258.7L1222.2,261.1L1223.3,263.4L1224.5,265.5L1225.6,263.4L1226.7,261.0L1227.9,258.5L1229.0,256.4L1230.2,258.5L1231.3,260.8L1232.4,263.2L1233.6,265.4L1234.7,263.2L1235.9,260.7L1237.0,258.2L1238.1,256.1L1239.3,258.2L1240.4,260.6L1241.6,263.0L1242.7,265.2L1243.8,263.0L1245.0,260.5L1246.1,258.0L1247.3,255.8L1248.4,257.9L1249.5,260.4L1250.7,262.8L1251.8,265.0L1253.0,262.8L1254.1,260.2L1255.2,257.7L1256.4,255.5L1257.5,257.6L1258.7,260.1L1259.8,262.6L1260.9,264.8L1262.1,262.6L1263.2,260.0L1264.4,257.4L1265.5,255.2L1266.6,257.4L1267.8,259.9L1268.9,262.4L1270.1,264.7L1271.2,262.4L1272.3,259.8L1273.5,257.2L1274.6,254.9L1275.8,257.1L1276.9,259.7L1278.0,262.2L1279.2,264.5L1280.3,262.2L1281.5,259.5L1282.6,256.9L1283.7,254.5L1284.9,256.8L1286.0,259.4L1287.2,262.0L1288.3,264.3L1289.4,262.0L1290.6,259.3L1291.7,256.6L1292.9,254.2L1294.0,256.6L1295.1,259.2L1296.3,261.8L1297.4,264.2L1298.6,261.8L1299.7,259.1L1300.8,256.4L1302.0,253.9L1303.1,256.3L1304.3,259.0L1305.4,261.6L1306.5,264.0L1307.7,261.6L1308.8,258.8L1310.0,256.1L1311.1,253.6L1312.2,256.0L1313.4,258.7L1314.5,261.4L1315.7,263.8L1316.8,261.4L1317.9,258.6L1319.1,255.8L1320.2,253.3L1321.4,255.7L1322.5,258.5L1323.6,261.2L1324.8,263.7L1325.9,261.2L1327.1,258.3L1328.2,255.5L1329.3,253.0L1330.5,255.4L1331.6,258.1L1332.8,260.9L1333.9,263.3L1335.0,260.8L1336.2,257.9L1337.3,255.1L1338.5,252.5L1339.6,255.0L1340.7,257.7L1341.9,260.5L1343.0,263.0L1344.2,260.5L1345.3,257.6L1346.4,254.6L1347.6,252.1L1348.7,254.5L1349.9,257.4L1351.0,260.2L1352.1,262.7L1353.3,260.1L1354.4,257.2L1355.6,254.2L1356.7,251.6L1357.8,254.1L1359.0,257.0L1360.1,259.8L1361.3,262.4L1362.4,259.8L1363.5,256.9L1364.7,254.0L1365.8,251.4L1367.0,254.0L1368.1,257.0L1369.2,259.9L1370.4,262.5L1371.5,259.9L1372.7,257.0L1373.8,254.2L1374.9,251.6L1376.1,254.2L1377.2,257.0L1378.4,259.9L1379.5,262.4L1380.6,259.9L1381.8,257.0L1382.9,254.1L1384.1,251.5L1385.2,254.1L1386.3,256.9L1387.5,259.8L1388.6,262.3L1389.8,259.7L1390.9,256.9L1392.0,254.0L1393.2,251.5L1394.3,254.0L1395.5,256.8L1396.6,259.7L1397.7,262.1L1398.9,259.6L1400.0,256.8L1401.2,253.9L1402.3,251.4L1403.4,253.9L1404.6,256.7L1405.7,259.5L1406.9,262.0L1408.0,259.5L1409.1,256.7L1410.3,253.8L1411.4,251.3L1412.6,253.8L1413.7,256.6L1414.8,259.4L1416.0,261.9L1417.1,259.4L1418.3,256.6L1419.4,253.7L1420.5,251.3L1421.7,253.7L1422.8,256.5L1424.0,259.3L1425.1,261.7L1426.2,259.3L1427.4,256.5L1428.5,253.7L1429.7,251.2L1430.8,253.6L1431.9,256.4L1433.1,259.2L1434.2,261.6L1435.4,259.1L1436.5,256.3L1437.6,253.6L1438.8,251.1L1439.9,253.6L1441.1,256.3L1442.2,259.0L1443.3,261.4L1444.5,259.0L1445.6,256.2L1446.8,253.5L1447.9,251.1L1449.0,253.5L1450.2,256.2L1451.3,258.9L1452.5,261.3L1453.6,258.9L1454.7,256.1L1455.9,253.4L1457.0,251.0L1458.2,253.4L1459.3,256.1L1460.4,258.8L1461.6,261.2L1462.7,258.8L1463.9,256.1L1465.0,253.5L1466.1,251.2L1467.3,253.5L1468.4,256.2L1469.6,258.8L1470.7,261.1L1471.8,258.8L1473.0,256.3L1474.1,253.8L1475.3,251.7L1476.4,253.9L1477.5,256.4L1478.7,258.9L1479.8,261.0L1481.0,258.9L1482.1,256.5L1483.2,254.2L1484.4,252.2L1485.5,254.3L1486.7,256.7L1487.8,259.0L1488.9,261.0L1490.1,259.0L1491.2,256.8L1492.4,254.6L1493.5,252.7L1494.6,254.7L1495.8,256.9L1496.9,259.1L1498.1,260.9L1499.2,259.1L1500.3,257.0L1501.5,255.0L1502.6,253.2L1503.8,255.1L1504.9,257.1L1506.0,259.1L1507.2,260.9L1508.3,259.1L1509.5,257.2L1510.6,255.4L1511.7,253.7L1512.9,255.4L1514.0,257.3L1515.2,259.2L1516.3,260.8L1517.4,259.2L1518.6,257.5L1519.7,255.7L1520.9,254.2L1522.0,255.8L1523.1,257.6L1524.3,259.3L1525.4,260.8L1526.6,259.3L1527.7,257.7L1528.8,256.1L1530.0,254.8L1531.1,256.2L1532.3,257.8L1533.4,259.4L1534.5,260.7L1535.7,259.4L1536.8,257.9L1538.0,256.5L1539.1,255.3L1540.2,256.6L1541.4,258.0L1542.5,259.4L1543.7,260.6L1544.8,259.5L1545.9,258.1L1547.1,256.9L1548.2,255.8L1549.4,257.0L1550.5,258.3L1551.6,259.5L1552.8,260.6L1553.9,259.5L1555.1,258.4L1556.2,257.3L1557.3,256.3L1558.5,257.3L1559.6,258.5L1560.8,259.6L1561.9,260.5L1563.0,259.6L1564.2,258.6L1564.4,258.3" fill="none" stroke="#4d4d4d" stroke-width="3.8" stroke-linejoin="round"/>
</g>
<line x1="1363.6" y1="185.4" x2="1363.6" y2="342.4" stroke="#c59fe0" stroke-width="12" stroke-dasharray="12.5 11.5"/>
<line x1="1476.8" y1="185.4" x2="1476.8" y2="342.4" stroke="#c59fe0" stroke-width="12"/>
<line x1="869.5" y1="185.4" x2="1563.0" y2="185.4" stroke="#262626" stroke-width="2" />
<line x1="869.5" y1="184.4" x2="869.5" y2="343.4" stroke="#262626" stroke-width="2" />
<line x1="869.5" y1="342.4" x2="876.5" y2="342.4" stroke="#262626" stroke-width="2" />
<line x1="1143.0" y1="185.4" x2="1143.0" y2="192.4" stroke="#262626" stroke-width="2" />
<line x1="1426.0" y1="185.4" x2="1426.0" y2="192.4" stroke="#262626" stroke-width="2" />
<text x="806.9" y="197.2" font-size="31.4" fill="#262626" text-anchor="start" >4.32</text>
<text x="806.7" y="275.5" font-size="31.4" fill="#262626" text-anchor="start" >0.00</text>
<text x="796.4" y="354.4" font-size="31.4" fill="#262626" text-anchor="start" >-4.32</text>
<text x="889.3" y="331.4" font-size="38.6" fill="#000" text-anchor="start" >L2</text>
<clipPath id="cp1"><rect x="869.5" y="370.5" width="693.5" height="157"/></clipPath>
<g clip-path="url(#cp1)">
<path d="M869.5,449.0L869.5,447.4L869.8,447.4L870.7,436.8L871.6,421.8L872.3,407.4L873.0,394.1L873.6,407.4L874.3,421.8L875.2,436.8L876.2,447.4L877.5,447.4L878.9,447.4L879.8,438.6L880.7,426.3L881.4,414.5L882.1,403.5L882.7,414.5L883.5,426.3L884.4,438.6L885.3,447.4L886.6,447.4L888.0,447.4L888.9,437.7L889.8,424.1L890.6,410.9L891.2,398.8L891.8,410.9L892.6,424.1L893.5,437.7L894.4,447.4L895.8,447.4L897.1,447.4L898.0,437.4L899.0,423.3L899.7,409.8L900.3,397.2L901.0,409.8L901.7,423.3L902.6,437.4L903.5,447.4L904.9,447.4L906.3,447.4L907.2,436.3L908.1,420.7L908.8,405.6L909.4,391.7L910.1,405.6L910.8,420.7L911.7,436.3L912.6,447.4L914.0,447.4L915.4,447.4L916.3,437.1L917.2,422.6L917.9,408.6L918.6,395.6L919.2,408.6L919.9,422.6L920.8,437.1L921.8,447.4L923.1,447.4L924.5,447.4L925.4,436.3L926.3,420.7L927.0,405.6L927.7,391.7L928.3,405.6L929.1,420.7L930.0,436.3L930.9,447.4L932.2,447.4L933.6,447.0L934.5,434.7L935.4,418.8L936.2,404.4L936.8,391.7L937.4,403.9L938.2,416.4L939.1,428.7L940.0,438.0L941.4,438.0L942.7,438.0L943.6,428.6L944.6,415.4L945.3,402.7L945.9,390.9L946.6,402.7L947.3,415.4L948.2,428.5L949.1,437.9L950.5,437.9L951.9,437.9L952.8,427.7L953.7,413.4L954.4,399.7L955.0,387.0L955.7,399.7L956.4,413.4L957.3,427.7L958.2,437.8L959.6,437.8L961.0,437.8L961.9,427.8L962.8,413.8L963.5,400.3L964.2,387.8L964.8,400.3L965.5,413.8L966.4,427.7L967.4,437.7L968.7,437.7L970.1,437.7L971.0,428.6L971.9,416.0L972.6,403.8L973.3,392.5L973.9,403.8L974.7,416.0L975.6,428.6L976.5,437.6L977.8,437.6L979.2,437.6L980.1,426.1L981.0,410.1L981.8,394.6L982.4,380.3L983.0,394.6L983.8,410.1L984.7,426.1L985.6,437.5L987.0,437.5L988.3,437.5L989.2,426.6L990.2,411.4L990.9,396.7L991.5,383.1L992.2,396.7L992.9,411.4L993.8,426.6L994.7,437.5L996.1,437.4L997.5,437.4L998.4,426.5L999.3,411.3L1000.0,396.6L1000.6,383.1L1001.3,396.6L1002.0,411.3L1002.9,426.5L1003.8,437.4L1005.2,437.4L1006.6,437.3L1007.5,427.6L1008.4,413.9L1009.1,400.7L1009.8,388.6L1010.4,400.7L1011.1,413.9L1012.0,427.5L1013.0,437.3L1014.3,437.3L1015.7,437.2L1016.6,426.7L1017.5,412.0L1018.2,397.8L1018.9,384.6L1019.5,397.8L1020.3,412.0L1021.2,426.7L1022.1,437.2L1023.4,437.2L1024.8,437.2L1025.7,428.1L1026.6,415.3L1027.4,403.1L1028.0,391.7L1028.6,403.1L1029.4,415.3L1030.3,428.0L1031.2,437.1L1032.6,437.1L1033.9,437.1L1034.8,428.1L1035.8,415.7L1036.5,403.6L1037.1,392.5L1037.8,403.6L1038.5,415.6L1039.4,428.1L1040.3,437.0L1041.7,437.0L1043.1,437.0L1044.0,428.2L1044.9,416.0L1045.6,404.2L1046.2,393.3L1046.9,404.2L1047.6,416.0L1048.5,428.2L1049.4,436.9L1050.8,436.9L1052.2,436.9L1053.1,428.2L1054.0,415.9L1054.7,404.2L1055.4,393.3L1056.0,404.2L1056.7,415.9L1057.6,428.1L1058.6,436.8L1059.9,436.8L1061.3,436.8L1062.2,427.9L1063.1,415.5L1063.8,403.6L1064.5,392.5L1065.1,403.6L1065.9,415.5L1066.8,427.9L1067.7,436.7L1069.0,436.7L1070.4,436.7L1071.3,426.6L1072.2,412.5L1073.0,398.8L1073.6,386.2L1074.2,398.8L1075.0,412.4L1075.9,426.6L1076.8,436.6L1078.2,436.6L1079.5,436.6L1080.4,426.2L1081.4,411.7L1082.1,397.6L1082.7,384.6L1083.4,397.6L1084.1,411.6L1085.0,426.2L1085.9,436.6L1087.3,436.5L1088.7,436.5L1089.6,427.7L1090.5,415.4L1091.2,403.5L1091.8,392.5L1092.5,403.5L1093.2,415.4L1094.1,427.7L1095.0,436.5L1096.4,436.5L1097.8,436.4L1098.7,428.5L1099.6,417.5L1100.3,406.9L1101.0,397.2L1101.6,406.9L1102.3,417.4L1103.2,428.2L1104.2,435.9L1105.5,435.7L1106.9,435.6L1107.8,427.6L1108.7,416.3L1109.4,405.6L1110.1,395.6L1110.7,405.5L1111.5,416.2L1112.4,427.3L1113.3,435.1L1114.6,435.0L1116.0,434.8L1116.9,426.6L1117.8,415.2L1118.6,404.2L1119.2,394.1L1119.8,404.2L1120.6,415.1L1121.5,426.3L1122.4,434.3L1123.8,434.2L1125.1,434.1L1126.0,426.0L1127.0,414.8L1127.7,404.0L1128.3,394.1L1129.0,404.0L1129.7,414.7L1130.6,425.7L1131.5,433.5L1132.9,433.4L1134.3,433.3L1135.2,425.5L1136.1,414.7L1136.8,404.4L1137.4,394.8L1138.1,404.4L1138.8,414.6L1139.7,425.2L1140.6,432.7L1142.0,432.6L1143.4,432.5L1144.3,424.7L1145.2,414.0L1145.9,403.6L1146.6,394.1L1147.2,403.6L1147.9,413.8L1148.8,424.4L1149.8,431.9L1151.1,431.8L1152.5,431.7L1153.4,424.3L1154.3,414.0L1155.0,404.0L1155.7,394.8L1156.3,404.0L1157.1,414.0L1158.0,424.2L1158.9,431.6L1160.2,431.5L1161.6,431.5L1162.5,423.5L1163.4,412.4L1164.2,401.6L1164.8,391.7L1165.4,401.6L1166.2,412.3L1167.1,423.4L1168.0,431.3L1169.4,431.3L1170.7,431.3L1171.6,423.5L1172.6,412.6L1173.3,402.2L1173.9,392.5L1174.6,402.2L1175.3,412.6L1176.2,423.4L1177.1,431.1L1178.5,431.1L1179.9,431.1L1180.8,423.5L1181.7,412.9L1182.4,402.7L1183.0,393.3L1183.7,402.7L1184.4,412.9L1185.3,423.4L1186.2,430.9L1187.6,430.9L1189.0,430.8L1189.9,423.0L1190.8,412.0L1191.5,401.5L1192.2,391.7L1192.8,401.5L1193.5,412.0L1194.4,422.9L1195.4,430.7L1196.7,430.6L1198.1,430.6L1199.0,423.0L1199.9,412.3L1200.6,402.0L1201.3,392.5L1201.9,402.0L1202.7,412.2L1203.6,422.9L1204.5,430.4L1205.8,430.4L1207.2,430.4L1208.1,422.9L1209.0,412.5L1209.8,402.5L1210.4,393.3L1211.0,402.5L1211.8,412.5L1212.7,422.8L1213.6,430.2L1215.0,430.2L1216.3,430.2L1217.2,422.6L1218.2,412.0L1218.9,401.9L1219.5,392.5L1220.2,401.9L1220.9,412.0L1221.8,422.5L1222.7,430.0L1224.1,430.0L1225.5,429.9L1226.4,421.6L1227.3,410.0L1228.0,398.9L1228.6,388.6L1229.3,398.9L1230.0,410.0L1230.9,421.5L1231.8,429.8L1233.2,429.7L1234.6,429.7L1235.5,421.0L1236.4,408.8L1237.1,397.1L1237.8,386.2L1238.4,397.1L1239.1,408.8L1240.0,420.9L1241.0,429.5L1242.3,429.5L1243.7,429.5L1244.6,421.6L1245.5,410.6L1246.2,399.9L1246.9,390.1L1247.5,399.9L1248.3,410.5L1249.2,421.5L1250.1,429.3L1251.4,429.3L1252.8,429.3L1253.7,420.3L1254.6,407.8L1255.4,395.8L1256.0,384.6L1256.6,395.8L1257.4,407.8L1258.3,420.2L1259.2,429.1L1260.6,429.1L1261.9,429.0L1262.8,420.1L1263.8,407.7L1264.5,395.7L1265.1,384.6L1265.8,395.7L1266.5,407.7L1267.4,420.0L1268.3,428.9L1269.7,428.8L1271.1,428.8L1272.0,419.8L1272.9,407.2L1273.6,395.1L1274.2,383.8L1274.9,395.1L1275.6,407.2L1276.5,419.7L1277.4,428.7L1278.8,428.6L1280.2,428.5L1281.1,418.7L1282.0,405.0L1282.7,392.0L1283.4,379.9L1284.0,391.9L1284.7,404.8L1285.6,418.1L1286.6,427.4L1287.9,427.2L1289.3,427.0L1290.2,416.5L1291.1,402.0L1291.8,388.0L1292.5,375.2L1293.1,388.0L1293.9,401.7L1294.8,415.9L1295.7,425.9L1297.0,425.6L1298.4,425.4L1299.3,414.3L1300.2,398.9L1301.0,384.1L1301.6,370.5L1302.2,384.1L1303.0,398.6L1303.9,413.7L1304.8,424.3L1306.2,424.1L1307.5,423.9L1308.4,413.1L1309.4,398.1L1310.1,383.8L1310.7,370.5L1311.4,383.7L1312.1,398.0L1313.0,412.7L1313.9,423.2L1315.3,423.1L1316.7,422.9L1317.6,412.4L1318.5,397.7L1319.2,383.5L1319.8,370.5L1320.5,383.5L1321.2,397.5L1322.1,412.0L1323.0,422.3L1324.4,422.2L1325.8,422.0L1326.7,411.7L1327.6,397.2L1328.3,383.3L1329.0,370.5L1329.6,383.3L1330.3,397.1L1331.0,421.5L1331.0,449.0Z" fill="#ff800e"/>
<path d="M869.5,449.0L869.5,451.4L869.8,451.4L870.7,458.4L871.6,468.3L872.3,477.8L873.0,486.7L873.6,477.8L874.3,468.3L875.2,458.4L876.2,451.4L877.5,451.4L878.9,451.4L879.8,457.9L880.7,467.2L881.4,476.1L882.1,484.3L882.7,476.1L883.5,467.2L884.4,457.9L885.3,451.4L886.6,451.4L888.0,451.4L888.9,458.1L889.8,467.6L890.6,476.7L891.2,485.1L891.8,476.7L892.6,467.6L893.5,458.1L894.4,451.4L895.8,451.4L897.1,451.4L898.0,458.4L899.0,468.3L899.7,477.8L900.3,486.7L901.0,477.8L901.7,468.3L902.6,458.4L903.5,451.4L904.9,451.4L906.3,451.4L907.2,458.1L908.1,467.6L908.8,476.7L909.4,485.1L910.1,476.7L910.8,467.6L911.7,458.1L912.6,451.4L914.0,451.4L915.4,451.4L916.3,458.6L917.2,468.7L917.9,478.4L918.6,487.5L919.2,478.4L919.9,468.7L920.8,458.6L921.8,451.4L923.1,451.4L924.5,451.4L925.4,458.6L926.3,468.7L927.0,478.4L927.7,487.5L928.3,478.4L929.1,468.7L930.0,458.6L930.9,451.4L932.2,451.4L933.6,452.0L934.5,462.0L935.4,474.0L936.2,484.3L936.8,493.0L937.4,485.1L938.2,477.5L939.1,470.4L940.0,464.7L941.4,464.7L942.7,464.7L943.6,470.9L944.6,479.4L945.3,487.7L945.9,495.3L946.6,487.7L947.3,479.4L948.2,470.9L949.1,464.8L950.5,464.8L951.9,464.8L952.8,471.7L953.7,481.4L954.4,490.6L955.0,499.2L955.7,490.6L956.4,481.4L957.3,471.8L958.2,464.9L959.6,464.9L961.0,464.9L961.9,471.9L962.8,481.8L963.5,491.3L964.2,500.0L964.8,491.3L965.5,481.8L966.4,472.0L967.4,465.0L968.7,465.0L970.1,465.0L971.0,471.4L971.9,480.3L972.6,488.9L973.3,496.9L973.9,488.9L974.7,480.3L975.6,471.4L976.5,465.1L977.8,465.1L979.2,465.1L980.1,473.3L981.0,484.9L981.8,496.0L982.4,506.3L983.0,496.0L983.8,484.9L984.7,473.4L985.6,465.2L987.0,465.2L988.3,465.2L989.2,472.9L990.2,483.8L990.9,494.3L991.5,503.9L992.2,494.3L992.9,483.8L993.8,473.0L994.7,465.3L996.1,465.3L997.5,465.3L998.4,473.0L999.3,483.9L1000.0,494.3L1000.6,503.9L1001.3,494.3L1002.0,483.9L1002.9,473.1L1003.8,465.3L1005.2,465.4L1006.6,465.4L1007.5,471.5L1008.4,480.1L1009.1,488.4L1009.8,496.1L1010.4,488.4L1011.1,480.1L1012.0,471.6L1013.0,465.4L1014.3,465.4L1015.7,465.5L1016.6,473.0L1017.5,483.6L1018.2,493.7L1018.9,503.2L1019.5,493.7L1020.3,483.6L1021.2,473.0L1022.1,465.5L1023.4,465.5L1024.8,465.6L1025.7,472.1L1026.6,481.4L1027.4,490.2L1028.0,498.5L1028.6,490.2L1029.4,481.4L1030.3,472.2L1031.2,465.6L1032.6,465.6L1033.9,465.6L1034.8,471.4L1035.8,479.5L1036.5,487.3L1037.1,494.5L1037.8,487.3L1038.5,479.5L1039.4,471.5L1040.3,465.7L1041.7,465.7L1043.1,465.7L1044.0,471.5L1044.9,479.6L1045.6,487.3L1046.2,494.5L1046.9,487.3L1047.6,479.6L1048.5,471.5L1049.4,465.8L1050.8,465.8L1052.2,465.8L1053.1,471.9L1054.0,480.4L1054.7,488.5L1055.4,496.1L1056.0,488.5L1056.7,480.4L1057.6,471.9L1058.6,465.9L1059.9,465.9L1061.3,465.9L1062.2,471.6L1063.1,479.7L1063.8,487.4L1064.5,494.5L1065.1,487.4L1065.9,479.7L1066.8,471.7L1067.7,466.0L1069.0,466.0L1070.4,466.0L1071.3,472.5L1072.2,481.6L1073.0,490.3L1073.6,498.5L1074.2,490.4L1075.0,481.6L1075.9,472.5L1076.8,466.1L1078.2,466.1L1079.5,466.1L1080.4,473.7L1081.4,484.3L1082.1,494.5L1082.7,503.9L1083.4,494.5L1084.1,484.3L1085.0,473.7L1085.9,466.2L1087.3,466.2L1088.7,466.2L1089.6,471.9L1090.5,479.8L1091.2,487.4L1091.8,494.5L1092.5,487.5L1093.2,479.8L1094.1,471.9L1095.0,466.2L1096.4,466.3L1097.8,466.3L1098.7,471.2L1099.6,478.0L1100.3,484.6L1101.0,490.6L1101.6,484.6L1102.3,478.1L1103.2,471.4L1104.2,466.7L1105.5,466.7L1106.9,466.8L1107.8,472.2L1108.7,479.8L1109.4,487.0L1110.1,493.7L1110.7,487.1L1111.5,479.9L1112.4,472.4L1113.3,467.2L1114.6,467.3L1116.0,467.3L1116.9,472.5L1117.8,479.7L1118.6,486.6L1119.2,493.0L1119.8,486.6L1120.6,479.8L1121.5,472.7L1122.4,467.7L1123.8,467.8L1125.1,467.9L1126.0,473.2L1127.0,480.7L1127.7,487.9L1128.3,494.5L1129.0,487.9L1129.7,480.8L1130.6,473.4L1131.5,468.2L1132.9,468.3L1134.3,468.4L1135.2,473.5L1136.1,480.6L1136.8,487.4L1137.4,493.7L1138.1,487.5L1138.8,480.7L1139.7,473.7L1140.6,468.7L1142.0,468.8L1143.4,468.9L1144.3,473.9L1145.2,480.9L1145.9,487.6L1146.6,493.7L1147.2,487.6L1147.9,481.0L1148.8,474.1L1149.8,469.3L1151.1,469.3L1152.5,469.4L1153.4,474.7L1154.3,482.2L1155.0,489.4L1155.7,496.1L1156.3,489.4L1157.1,482.2L1158.0,474.7L1158.9,469.4L1160.2,469.4L1161.6,469.4L1162.5,475.7L1163.4,484.5L1164.2,493.0L1164.8,500.8L1165.4,493.0L1166.2,484.5L1167.1,475.7L1168.0,469.4L1169.4,469.4L1170.7,469.4L1171.6,474.7L1172.6,482.2L1173.3,489.4L1173.9,496.1L1174.6,489.4L1175.3,482.2L1176.2,474.7L1177.1,469.4L1178.5,469.4L1179.9,469.4L1180.8,476.3L1181.7,486.0L1182.4,495.3L1183.0,503.9L1183.7,495.3L1184.4,486.0L1185.3,476.3L1186.2,469.4L1187.6,469.4L1189.0,469.4L1189.9,475.1L1190.8,483.0L1191.5,490.6L1192.2,497.7L1192.8,490.6L1193.5,483.0L1194.4,475.1L1195.4,469.4L1196.7,469.4L1198.1,469.4L1199.0,475.7L1199.9,484.5L1200.6,493.0L1201.3,500.8L1201.9,493.0L1202.7,484.5L1203.6,475.7L1204.5,469.4L1205.8,469.4L1207.2,469.4L1208.1,474.7L1209.0,482.2L1209.8,489.4L1210.4,496.1L1211.0,489.4L1211.8,482.2L1212.7,474.7L1213.6,469.4L1215.0,469.4L1216.3,469.4L1217.2,476.0L1218.2,485.2L1218.9,494.1L1219.5,502.4L1220.2,494.1L1220.9,485.2L1221.8,476.0L1222.7,469.4L1224.1,469.4L1225.5,469.4L1226.4,475.1L1227.3,483.0L1228.0,490.6L1228.6,497.7L1229.3,490.6L1230.0,483.0L1230.9,475.1L1231.8,469.4L1233.2,469.4L1234.6,469.4L1235.5,476.3L1236.4,486.0L1237.1,495.3L1237.8,503.9L1238.4,495.3L1239.1,486.0L1240.0,476.3L1241.0,469.4L1242.3,469.4L1243.7,469.4L1244.6,475.4L1245.5,483.7L1246.2,491.8L1246.9,499.2L1247.5,491.8L1248.3,483.7L1249.2,475.4L1250.1,469.4L1251.4,469.4L1252.8,469.4L1253.7,475.7L1254.6,484.5L1255.4,493.0L1256.0,500.8L1256.6,493.0L1257.4,484.5L1258.3,475.7L1259.2,469.4L1260.6,469.4L1261.9,469.4L1262.8,474.7L1263.8,482.2L1264.5,489.4L1265.1,496.1L1265.8,489.4L1266.5,482.2L1267.4,474.7L1268.3,469.4L1269.7,469.4L1271.1,469.4L1272.0,476.3L1272.9,486.0L1273.6,495.3L1274.2,503.9L1274.9,495.3L1275.6,486.0L1276.5,476.3L1277.4,469.4L1278.8,469.4L1280.2,469.4L1281.1,476.0L1282.0,485.2L1282.7,494.1L1283.4,502.4L1284.0,494.1L1284.7,485.2L1285.6,476.0L1286.6,469.4L1287.9,469.4L1289.3,469.4L1290.2,476.6L1291.1,486.7L1291.8,496.5L1292.5,505.5L1293.1,496.5L1293.9,486.7L1294.8,476.6L1295.7,469.4L1297.0,469.4L1298.4,469.4L1299.3,476.3L1300.2,486.0L1301.0,495.3L1301.6,503.9L1302.2,495.3L1303.0,486.0L1303.9,476.3L1304.8,469.4L1306.2,469.4L1307.5,469.4L1308.4,476.9L1309.4,487.5L1310.1,497.7L1310.7,507.1L1311.4,497.7L1312.1,487.5L1313.0,476.9L1313.9,469.4L1315.3,469.4L1316.7,469.4L1317.6,477.1L1318.5,487.9L1319.2,498.3L1319.8,507.9L1320.5,498.3L1321.2,487.9L1322.1,477.1L1323.0,469.4L1324.4,469.4L1325.8,469.4L1326.7,476.6L1327.6,486.7L1328.3,496.5L1329.0,505.5L1329.6,496.5L1330.3,486.7L1331.0,469.4L1331.0,449.0Z" fill="#7fcdbb"/>
<path d="M869.5,456.3L869.9,454.1L871.1,447.4L872.2,440.8L873.3,435.0L874.5,440.8L875.6,447.4L876.8,453.9L877.9,459.7L879.0,453.9L880.2,447.4L881.3,440.9L882.5,435.2L883.6,440.9L884.7,447.3L885.9,453.7L887.0,459.3L888.2,453.7L889.3,447.3L890.4,441.0L891.6,435.5L892.7,441.0L893.9,447.3L895.0,453.5L896.1,459.0L897.3,453.5L898.4,447.3L899.6,441.1L900.7,435.7L901.8,441.1L903.0,447.2L904.1,453.3L905.3,458.6L906.4,453.3L907.5,447.2L908.7,441.2L909.8,435.9L911.0,441.2L912.1,447.2L913.2,453.1L914.4,458.3L915.5,453.0L916.7,447.2L917.8,441.3L918.9,436.2L920.1,441.3L921.2,447.1L922.4,452.9L923.5,457.9L924.6,452.8L925.8,447.1L926.9,441.4L928.1,436.4L929.2,441.4L930.3,447.1L931.5,452.7L932.6,457.6L933.8,452.6L934.9,447.1L936.0,441.5L937.2,436.7L938.3,441.5L939.5,447.0L940.6,452.5L941.7,457.2L942.9,452.4L944.0,447.0L945.2,441.6L946.3,436.8L947.4,441.6L948.6,447.0L949.7,452.4L950.9,457.2L952.0,452.4L953.1,447.0L954.3,441.5L955.4,436.7L956.6,441.5L957.7,446.9L958.8,452.3L960.0,457.1L961.1,452.3L962.3,446.9L963.4,441.5L964.5,436.7L965.7,441.5L966.8,446.9L968.0,452.3L969.1,457.1L970.2,452.3L971.4,446.8L972.5,441.4L973.7,436.6L974.8,441.4L975.9,446.8L977.1,452.2L978.2,457.0L979.4,452.2L980.5,446.8L981.6,441.4L982.8,436.6L983.9,441.4L985.1,446.8L986.2,452.2L987.3,457.0L988.5,452.2L989.6,446.7L990.8,441.3L991.9,436.5L993.0,441.3L994.2,446.7L995.3,452.1L996.5,456.9L997.6,452.1L998.7,446.7L999.9,441.3L1001.0,436.5L1002.2,441.2L1003.3,446.7L1004.4,452.1L1005.6,456.9L1006.7,452.1L1007.9,446.6L1009.0,441.2L1010.1,436.4L1011.3,441.2L1012.4,446.6L1013.6,452.0L1014.7,456.8L1015.8,452.0L1017.0,446.6L1018.1,441.2L1019.3,436.4L1020.4,441.1L1021.5,446.6L1022.7,452.0L1023.8,456.7L1025.0,452.0L1026.1,446.5L1027.2,441.1L1028.4,436.3L1029.5,441.1L1030.7,446.5L1031.8,451.9L1032.9,456.7L1034.1,451.9L1035.2,446.5L1036.4,441.1L1037.5,436.3L1038.6,441.0L1039.8,446.5L1040.9,451.9L1042.1,456.6L1043.2,451.9L1044.3,446.4L1045.5,441.0L1046.6,436.2L1047.8,441.0L1048.9,446.4L1050.0,451.8L1051.2,456.6L1052.3,451.8L1053.5,446.4L1054.6,440.9L1055.7,436.2L1056.9,440.9L1058.0,446.3L1059.2,451.8L1060.3,456.5L1061.4,451.7L1062.6,446.3L1063.7,440.9L1064.9,436.1L1066.0,440.9L1067.1,446.3L1068.3,451.7L1069.4,456.5L1070.6,451.7L1071.7,446.3L1072.8,440.8L1074.0,436.1L1075.1,440.8L1076.3,446.2L1077.4,451.7L1078.5,456.4L1079.7,451.6L1080.8,446.2L1082.0,440.8L1083.1,436.0L1084.2,440.8L1085.4,446.2L1086.5,451.6L1087.7,456.4L1088.8,451.6L1089.9,446.2L1091.1,440.7L1092.2,435.9L1093.4,440.7L1094.5,446.1L1095.6,451.6L1096.8,456.3L1097.9,451.5L1099.1,446.1L1100.2,440.7L1101.3,435.9L1102.5,440.7L1103.6,446.1L1104.8,451.5L1105.9,456.3L1107.0,451.5L1108.2,446.1L1109.3,440.6L1110.5,435.8L1111.6,440.6L1112.7,446.0L1113.9,451.4L1115.0,456.2L1116.2,451.4L1117.3,446.0L1118.4,440.6L1119.6,435.8L1120.7,440.6L1121.9,446.0L1123.0,451.4L1124.1,456.2L1125.3,451.4L1126.4,446.0L1127.6,440.5L1128.7,435.7L1129.8,440.5L1131.0,445.9L1132.1,451.3L1133.3,456.1L1134.4,451.3L1135.5,445.9L1136.7,440.5L1137.8,435.7L1139.0,440.5L1140.1,445.9L1141.2,451.3L1142.4,456.1L1143.5,451.3L1144.7,445.9L1145.8,440.4L1146.9,435.6L1148.1,440.4L1149.2,445.8L1150.4,451.2L1151.5,456.0L1152.6,451.2L1153.8,445.8L1154.9,440.4L1156.1,435.6L1157.2,440.4L1158.3,445.8L1159.5,451.2L1160.6,456.0L1161.8,451.2L1162.9,445.7L1164.0,440.3L1165.2,435.5L1166.3,440.3L1167.5,445.7L1168.6,451.1L1169.7,455.9L1170.9,451.1L1172.0,445.7L1173.2,440.3L1174.3,435.5L1175.4,440.3L1176.6,445.7L1177.7,451.1L1178.9,455.9L1180.0,451.1L1181.1,445.6L1182.3,440.2L1183.4,435.4L1184.6,440.2L1185.7,445.6L1186.8,451.0L1188.0,455.8L1189.1,451.0L1190.3,445.6L1191.4,440.2L1192.5,435.4L1193.7,440.2L1194.8,445.6L1196.0,451.0L1197.1,455.8L1198.2,451.0L1199.4,445.5L1200.5,440.1L1201.7,435.3L1202.8,440.1L1203.9,445.5L1205.1,450.9L1206.2,455.7L1207.4,450.9L1208.5,445.5L1209.6,440.1L1210.8,435.3L1211.9,440.0L1213.1,445.5L1214.2,450.9L1215.3,455.7L1216.5,450.9L1217.6,445.4L1218.8,440.0L1219.9,435.2L1221.0,440.0L1222.2,445.4L1223.3,450.8L1224.5,455.6L1225.6,450.8L1226.7,445.4L1227.9,440.0L1229.0,435.2L1230.2,439.9L1231.3,445.4L1232.4,450.8L1233.6,455.5L1234.7,450.8L1235.9,445.3L1237.0,439.9L1238.1,435.1L1239.3,439.9L1240.4,445.3L1241.6,450.7L1242.7,455.5L1243.8,450.7L1245.0,445.3L1246.1,439.8L1247.3,435.1L1248.4,439.8L1249.5,445.2L1250.7,450.7L1251.8,455.4L1253.0,450.6L1254.1,445.2L1255.2,439.8L1256.4,435.0L1257.5,439.8L1258.7,445.2L1259.8,450.6L1260.9,455.4L1262.1,450.6L1263.2,445.2L1264.4,439.7L1265.5,435.0L1266.6,439.7L1267.8,445.1L1268.9,450.6L1270.1,455.3L1271.2,450.5L1272.3,445.1L1273.5,439.7L1274.6,434.9L1275.8,439.7L1276.9,445.1L1278.0,450.5L1279.2,455.3L1280.3,450.4L1281.5,444.8L1282.6,439.1L1283.7,434.1L1284.9,438.7L1286.0,443.8L1287.2,449.0L1288.3,453.6L1289.4,448.6L1290.6,442.9L1291.7,437.3L1292.9,432.3L1294.0,436.8L1295.1,442.0L1296.3,447.2L1297.4,451.8L1298.6,446.7L1299.7,441.1L1300.8,435.5L1302.0,430.4L1303.1,435.0L1304.3,440.2L1305.4,445.4L1306.5,449.9L1307.7,445.0L1308.8,439.4L1310.0,433.9L1311.1,429.0L1312.2,433.7L1313.4,439.0L1314.5,444.3L1315.7,449.0L1316.8,444.1L1317.9,438.5L1319.1,433.0L1320.2,428.1L1321.4,432.8L1322.5,438.1L1323.6,443.4L1324.8,448.0L1325.9,443.1L1327.1,437.6L1328.2,432.1L1329.3,427.2L1330.5,431.9L1331.6,437.1L1332.8,442.4L1333.9,447.1L1335.0,442.1L1336.2,436.6L1337.3,431.0L1338.5,426.1L1339.6,430.7L1340.7,436.0L1341.9,441.3L1343.0,445.9L1344.2,441.0L1345.3,435.5L1346.4,430.0L1347.6,425.1L1348.7,429.8L1349.9,435.2L1351.0,440.6L1352.1,445.4L1353.3,440.5L1354.4,434.9L1355.6,429.3L1356.7,424.3L1357.8,429.1L1359.0,434.6L1360.1,440.0L1361.3,444.8L1362.4,439.9L1363.5,434.2L1364.7,428.6L1365.8,423.6L1367.0,428.4L1368.1,433.9L1369.2,439.4L1370.4,444.3L1371.5,439.3L1372.7,433.6L1373.8,427.9L1374.9,422.8L1376.1,427.7L1377.2,433.3L1378.4,438.8L1379.5,443.8L1380.6,438.7L1381.8,432.9L1382.9,427.1L1384.1,422.0L1385.2,427.0L1386.3,432.6L1387.5,438.3L1388.6,443.2L1389.8,438.1L1390.9,432.3L1392.0,426.4L1393.2,421.2L1394.3,426.2L1395.5,431.9L1396.6,437.7L1397.7,442.7L1398.9,437.5L1400.0,431.6L1401.2,425.7L1402.3,420.4L1403.4,425.4L1404.6,431.2L1405.7,436.9L1406.9,442.0L1408.0,436.8L1409.1,430.8L1410.3,424.8L1411.4,419.4L1412.6,424.5L1413.7,430.4L1414.8,436.2L1416.0,441.3L1417.1,436.0L1418.3,430.0L1419.4,423.9L1420.5,418.5L1421.7,423.7L1422.8,429.5L1424.0,435.4L1425.1,440.6L1426.2,435.2L1427.4,429.1L1428.5,423.0L1429.7,417.6L1430.8,422.8L1431.9,428.7L1433.1,434.7L1434.2,439.9L1435.4,434.5L1436.5,428.3L1437.6,422.1L1438.8,416.6L1439.9,421.9L1441.1,427.9L1442.2,433.9L1443.3,439.2L1444.5,433.7L1445.6,427.5L1446.8,421.2L1447.9,415.7L1449.0,421.0L1450.2,427.1L1451.3,433.2L1452.5,438.6L1453.6,433.0L1454.7,426.7L1455.9,420.3L1457.0,414.7L1458.2,420.1L1459.3,426.3L1460.4,432.5L1461.6,438.0L1462.7,432.5L1463.9,426.4L1465.0,420.4L1466.1,415.2L1467.3,420.6L1468.4,426.7L1469.6,432.6L1470.7,437.8L1471.8,432.6L1473.0,426.9L1474.1,421.2L1475.3,416.3L1476.4,421.4L1477.5,427.1L1478.7,432.7L1479.8,437.6L1481.0,432.8L1482.1,427.3L1483.2,422.0L1484.4,417.4L1485.5,422.2L1486.7,427.6L1487.8,432.8L1488.9,437.4L1490.1,432.9L1491.2,427.8L1492.4,422.8L1493.5,418.4L1494.6,423.0L1495.8,428.0L1496.9,432.9L1498.1,437.2L1499.2,433.0L1500.3,428.2L1501.5,423.5L1502.6,419.5L1503.8,423.7L1504.9,428.4L1506.0,433.1L1507.2,437.1L1508.3,433.1L1509.5,428.7L1510.6,424.5L1511.7,420.8L1512.9,424.8L1514.0,429.2L1515.2,433.5L1516.3,437.3L1517.4,433.7L1518.6,429.7L1519.7,425.7L1520.9,422.3L1522.0,426.0L1523.1,430.1L1524.3,434.1L1525.4,437.6L1526.6,434.3L1527.7,430.6L1528.8,427.0L1530.0,423.9L1531.1,427.3L1532.3,431.0L1533.4,434.7L1534.5,437.9L1535.7,434.9L1536.8,431.5L1538.0,428.2L1539.1,425.4L1540.2,428.5L1541.4,432.0L1542.5,435.3L1543.7,438.2L1544.8,435.4L1545.9,432.4L1547.1,429.5L1548.2,426.9L1549.4,429.8L1550.5,432.9L1551.6,435.9L1552.8,438.5L1553.9,436.0L1555.1,433.3L1556.2,430.7L1557.3,428.5L1558.5,431.0L1559.6,433.8L1560.8,436.5L1561.9,438.8L1563.0,436.6L1564.2,434.1L1564.4,433.5" fill="none" stroke="#4d4d4d" stroke-width="3.8" stroke-linejoin="round"/>
</g>
<line x1="1331.0" y1="370.5" x2="1331.0" y2="527.5" stroke="#c59fe0" stroke-width="12" stroke-dasharray="12.5 11.5"/>
<line x1="1480.5" y1="370.5" x2="1480.5" y2="527.5" stroke="#c59fe0" stroke-width="12"/>
<line x1="869.5" y1="370.5" x2="1563.0" y2="370.5" stroke="#262626" stroke-width="2" />
<line x1="869.5" y1="369.5" x2="869.5" y2="528.5" stroke="#262626" stroke-width="2" />
<line x1="869.5" y1="527.5" x2="876.5" y2="527.5" stroke="#262626" stroke-width="2" />
<line x1="1143.0" y1="370.5" x2="1143.0" y2="377.5" stroke="#262626" stroke-width="2" />
<line x1="1426.0" y1="370.5" x2="1426.0" y2="377.5" stroke="#262626" stroke-width="2" />
<text x="806.6" y="382.3" font-size="31.4" fill="#262626" text-anchor="start" >2.18</text>
<text x="806.7" y="460.6" font-size="31.4" fill="#262626" text-anchor="start" >0.00</text>
<text x="796.1" y="539.5" font-size="31.4" fill="#262626" text-anchor="start" >-2.18</text>
<text x="889.3" y="516.5" font-size="38.6" fill="#000" text-anchor="start" >L3</text>
<clipPath id="cp2"><rect x="869.5" y="555.6" width="693.5" height="157"/></clipPath>
<g clip-path="url(#cp2)">
<path d="M869.5,634.1L869.5,631.0L869.8,631.0L870.7,621.1L871.6,607.4L872.3,594.2L873.0,581.9L873.6,594.2L874.3,607.4L875.2,621.1L876.2,631.0L877.5,631.0L878.9,631.0L879.8,622.9L880.7,611.7L881.4,600.8L882.1,590.8L882.7,600.8L883.5,611.7L884.4,622.9L885.3,631.0L886.6,631.0L888.0,631.0L888.9,622.0L889.8,609.5L890.6,597.4L891.2,586.2L891.8,597.4L892.6,609.5L893.5,622.0L894.4,631.0L895.8,631.0L897.1,631.0L898.0,621.7L899.0,608.7L899.7,596.2L900.3,584.6L901.0,596.2L901.7,608.7L902.6,621.7L903.5,631.0L904.9,631.0L906.3,631.0L907.2,620.6L908.1,606.1L908.8,592.1L909.4,579.2L910.1,592.1L910.8,606.1L911.7,620.6L912.6,631.0L914.0,631.0L915.4,631.0L916.3,621.3L917.2,607.9L917.9,594.9L918.6,582.8L919.2,594.9L919.9,607.9L920.8,621.3L921.8,631.0L923.1,631.0L924.5,631.0L925.4,620.6L926.3,606.0L927.0,591.9L927.7,578.9L928.3,591.9L929.1,606.0L930.0,620.6L930.9,631.0L932.2,631.0L933.6,630.5L934.5,619.0L935.4,604.2L936.2,590.7L936.8,578.8L937.4,590.2L938.2,602.0L939.1,613.6L940.0,622.3L941.4,622.3L942.7,622.3L943.6,613.4L944.6,601.0L945.3,589.0L945.9,577.9L946.6,589.0L947.3,601.0L948.2,613.4L949.1,622.3L950.5,622.3L951.9,622.3L952.8,612.6L953.7,599.1L954.4,586.1L955.0,574.0L955.7,586.1L956.4,599.1L957.3,612.6L958.2,622.2L959.6,622.2L961.0,622.2L961.9,612.7L962.8,599.4L963.5,586.5L964.2,574.7L964.8,586.5L965.5,599.4L966.4,612.7L967.4,622.2L968.7,622.2L970.1,622.2L971.0,613.6L971.9,601.5L972.6,589.9L973.3,579.1L973.9,589.9L974.7,601.5L975.6,613.5L976.5,622.1L977.8,622.1L979.2,622.1L980.1,611.1L981.0,595.7L981.8,580.9L982.4,567.1L983.0,580.9L983.8,595.7L984.7,611.1L985.6,622.1L987.0,622.1L988.3,622.1L989.2,611.6L990.2,596.9L990.9,582.8L991.5,569.7L992.2,582.8L992.9,596.9L993.8,611.6L994.7,622.0L996.1,622.0L997.5,622.0L998.4,611.5L999.3,596.8L1000.0,582.7L1000.6,569.5L1001.3,582.7L1002.0,596.8L1002.9,611.5L1003.8,622.0L1005.2,622.0L1006.6,622.0L1007.5,612.5L1008.4,599.3L1009.1,586.6L1009.8,574.8L1010.4,586.6L1011.1,599.3L1012.0,612.5L1013.0,622.0L1014.3,622.0L1015.7,621.9L1016.6,611.7L1017.5,597.4L1018.2,583.6L1018.9,570.8L1019.5,583.6L1020.3,597.4L1021.2,611.7L1022.1,621.9L1023.4,621.9L1024.8,621.9L1025.7,613.0L1026.6,600.6L1027.4,588.7L1028.0,577.6L1028.6,588.7L1029.4,600.6L1030.3,613.0L1031.2,621.9L1032.6,621.9L1033.9,621.9L1034.8,613.1L1035.8,600.9L1036.5,589.2L1037.1,578.3L1037.8,589.2L1038.5,600.9L1039.4,613.1L1040.3,621.8L1041.7,621.8L1043.1,621.8L1044.0,613.2L1044.9,601.2L1045.6,589.7L1046.2,578.9L1046.9,589.7L1047.6,601.2L1048.5,613.2L1049.4,621.8L1050.8,621.8L1052.2,621.8L1053.1,613.2L1054.0,601.2L1054.7,589.6L1055.4,578.8L1056.0,589.6L1056.7,601.1L1057.6,613.2L1058.6,621.7L1059.9,621.7L1061.3,621.7L1062.2,613.0L1063.1,600.7L1063.8,588.9L1064.5,577.9L1065.1,588.9L1065.9,600.7L1066.8,612.9L1067.7,621.7L1069.0,621.7L1070.4,621.7L1071.3,611.6L1072.2,597.6L1073.0,584.1L1073.6,571.6L1074.2,584.1L1075.0,597.6L1075.9,611.6L1076.8,621.6L1078.2,621.6L1079.5,621.6L1080.4,611.3L1081.4,596.8L1082.1,582.8L1082.7,569.9L1083.4,582.8L1084.1,596.8L1085.0,611.3L1085.9,621.6L1087.3,621.6L1088.7,621.6L1089.6,612.8L1090.5,600.5L1091.2,588.6L1091.8,577.6L1092.5,588.6L1093.2,600.5L1094.1,612.8L1095.0,621.6L1096.4,621.5L1097.8,621.5L1098.7,614.7L1099.6,605.2L1100.3,596.0L1101.0,587.5L1101.6,596.0L1102.3,605.2L1103.2,614.7L1104.2,621.5L1105.5,621.4L1106.9,621.4L1107.8,614.4L1108.7,604.5L1109.4,595.0L1110.1,586.2L1110.7,595.0L1111.5,604.5L1112.4,614.3L1113.3,621.4L1114.6,621.3L1116.0,621.3L1116.9,614.0L1117.8,603.8L1118.6,594.0L1119.2,584.9L1119.8,594.0L1120.6,603.8L1121.5,614.0L1122.4,621.3L1123.8,621.2L1125.1,621.2L1126.0,614.0L1127.0,603.9L1127.7,594.1L1128.3,585.1L1129.0,594.1L1129.7,603.8L1130.6,613.9L1131.5,621.1L1132.9,621.1L1134.3,621.1L1135.2,614.1L1136.1,604.2L1136.8,594.7L1137.4,585.9L1138.1,594.7L1138.8,604.2L1139.7,614.0L1140.6,621.0L1142.0,621.0L1143.4,621.0L1144.3,613.9L1145.2,603.9L1145.9,594.3L1146.6,585.4L1147.2,594.3L1147.9,603.9L1148.8,613.8L1149.8,620.9L1151.1,620.9L1152.5,620.9L1153.4,614.0L1154.3,604.2L1155.0,594.9L1155.7,586.2L1156.3,594.9L1157.1,604.2L1158.0,613.9L1158.9,620.8L1160.2,620.8L1161.6,620.8L1162.5,613.4L1163.4,602.9L1164.2,592.9L1164.8,583.6L1165.4,592.9L1166.2,602.9L1167.1,613.3L1168.0,620.7L1169.4,620.7L1170.7,620.7L1171.6,613.4L1172.6,603.3L1173.3,593.5L1173.9,584.4L1174.6,593.5L1175.3,603.3L1176.2,613.4L1177.1,620.6L1178.5,620.6L1179.9,620.6L1180.8,613.5L1181.7,603.6L1182.4,594.1L1183.0,585.3L1183.7,594.1L1184.4,603.6L1185.3,613.5L1186.2,620.5L1187.6,620.5L1189.0,620.5L1189.9,613.2L1190.8,603.0L1191.5,593.2L1192.2,584.1L1192.8,593.2L1193.5,603.0L1194.4,613.2L1195.4,620.4L1196.7,620.4L1198.1,620.4L1199.0,613.3L1199.9,603.3L1200.6,593.8L1201.3,584.9L1201.9,593.8L1202.7,603.3L1203.6,613.2L1204.5,620.3L1205.8,620.3L1207.2,620.3L1208.1,613.4L1209.0,603.7L1209.8,594.4L1210.4,585.7L1211.0,594.4L1211.8,603.7L1212.7,613.3L1213.6,620.2L1215.0,620.2L1216.3,620.2L1217.2,613.2L1218.2,603.4L1218.9,593.9L1219.5,585.2L1220.2,593.9L1220.9,603.4L1221.8,613.1L1222.7,620.1L1224.1,620.1L1225.5,620.1L1226.4,612.4L1227.3,601.8L1228.0,591.5L1228.6,582.0L1229.3,591.5L1230.0,601.7L1230.9,612.4L1231.8,620.0L1233.2,620.0L1234.6,620.0L1235.5,611.9L1236.4,600.8L1237.1,590.0L1237.8,580.1L1238.4,590.0L1239.1,600.7L1240.0,611.7L1241.0,619.6L1242.3,619.5L1243.7,619.4L1244.6,612.0L1245.5,601.7L1246.2,591.7L1246.9,582.6L1247.5,591.7L1248.3,601.6L1249.2,611.8L1250.1,619.0L1251.4,618.9L1252.8,618.8L1253.7,610.4L1254.6,598.6L1255.4,587.3L1256.0,576.8L1256.6,587.3L1257.4,598.5L1258.3,610.1L1259.2,618.4L1260.6,618.3L1261.9,618.3L1262.8,609.7L1263.8,597.8L1264.5,586.4L1265.1,575.8L1265.8,586.4L1266.5,597.8L1267.4,609.5L1268.3,617.9L1269.7,617.8L1271.1,617.7L1272.0,608.9L1272.9,596.7L1273.6,585.0L1274.2,574.2L1274.9,585.0L1275.6,596.6L1276.5,608.7L1277.4,617.3L1278.8,617.2L1280.2,617.1L1281.1,607.6L1282.0,594.2L1282.7,581.4L1283.4,569.5L1284.0,581.4L1284.7,594.1L1285.6,607.3L1286.6,616.7L1287.9,616.6L1289.3,616.6L1290.2,606.0L1291.1,591.3L1291.8,577.1L1292.5,564.0L1293.1,577.1L1293.9,591.2L1294.8,605.8L1295.7,616.2L1297.0,616.1L1298.4,616.0L1299.3,604.5L1300.2,588.4L1301.0,572.9L1301.6,558.5L1302.2,572.8L1303.0,588.3L1303.9,604.2L1304.8,615.6L1306.2,615.5L1307.5,615.4L1308.4,603.8L1309.4,587.6L1310.1,572.0L1310.7,557.6L1311.4,572.0L1312.1,587.5L1313.0,603.6L1313.9,615.0L1315.3,614.9L1316.7,614.9L1317.6,603.2L1318.5,586.8L1319.2,571.1L1319.8,556.6L1320.5,571.1L1321.2,586.7L1322.1,602.9L1322.8,614.5L1322.8,634.1Z" fill="#ff800e"/>
<path d="M869.5,634.1L869.5,636.5L869.8,636.5L870.7,643.5L871.6,653.4L872.3,662.9L873.0,671.8L873.6,662.9L874.3,653.4L875.2,643.5L876.2,636.5L877.5,636.5L878.9,636.5L879.8,643.0L880.7,652.3L881.4,661.2L882.1,669.4L882.7,661.2L883.5,652.3L884.4,643.0L885.3,636.5L886.6,636.5L888.0,636.5L888.9,643.2L889.8,652.6L890.6,661.7L891.2,670.1L891.8,661.7L892.6,652.6L893.5,643.2L894.4,636.5L895.8,636.5L897.1,636.5L898.0,643.5L899.0,653.4L899.7,662.9L900.3,671.7L901.0,662.9L901.7,653.4L902.6,643.5L903.5,636.5L904.9,636.5L906.3,636.5L907.2,643.2L908.1,652.6L908.8,661.7L909.4,670.1L910.1,661.7L910.8,652.6L911.7,643.2L912.6,636.5L914.0,636.5L915.4,636.5L916.3,643.6L917.2,653.7L917.9,663.4L918.6,672.4L919.2,663.4L919.9,653.7L920.8,643.6L921.8,636.5L923.1,636.5L924.5,636.5L925.4,643.6L926.3,653.7L927.0,663.4L927.7,672.4L928.3,663.4L929.1,653.7L930.0,643.6L930.9,636.5L932.2,636.5L933.6,637.0L934.5,646.8L935.4,658.6L936.2,669.0L936.8,677.8L937.4,669.7L938.2,661.7L939.1,654.1L940.0,648.2L941.4,648.3L942.7,648.3L943.6,654.6L944.6,663.6L945.3,672.2L945.9,680.1L946.6,672.2L947.3,663.6L948.2,654.7L949.1,648.3L950.5,648.3L951.9,648.4L952.8,655.5L953.7,665.5L954.4,675.1L955.0,684.0L955.7,675.1L956.4,665.5L957.3,655.5L958.2,648.4L959.6,648.4L961.0,648.4L961.9,655.7L962.8,665.9L963.5,675.6L964.2,684.7L964.8,675.6L965.5,665.9L966.4,655.7L967.4,648.5L968.7,648.5L970.1,648.5L971.0,655.1L971.9,664.4L972.6,673.3L973.3,681.5L973.9,673.3L974.7,664.4L975.6,655.2L976.5,648.6L977.8,648.6L979.2,648.6L980.1,657.1L981.0,668.9L981.8,680.3L982.4,690.8L983.0,680.3L983.8,668.9L984.7,657.1L985.6,648.7L987.0,648.7L988.3,648.7L989.2,656.7L990.2,667.8L990.9,678.5L991.5,688.5L992.2,678.5L992.9,667.8L993.8,656.7L994.7,648.8L996.1,648.8L997.5,648.8L998.4,656.7L999.3,667.8L1000.0,678.5L1000.6,688.4L1001.3,678.5L1002.0,667.8L1002.9,656.8L1003.8,648.9L1005.2,648.9L1006.6,648.9L1007.5,655.2L1008.4,664.1L1009.1,672.7L1009.8,680.6L1010.4,672.7L1011.1,664.1L1012.0,655.3L1013.0,649.0L1014.3,649.0L1015.7,649.0L1016.6,656.7L1017.5,667.5L1018.2,677.9L1018.9,687.5L1019.5,677.9L1020.3,667.5L1021.2,656.7L1022.1,649.1L1023.4,649.1L1024.8,649.1L1025.7,655.8L1026.6,665.3L1027.4,674.4L1028.0,682.9L1028.6,674.4L1029.4,665.3L1030.3,655.9L1031.2,649.1L1032.6,649.2L1033.9,649.2L1034.8,655.1L1035.8,663.5L1036.5,671.5L1037.1,678.9L1037.8,671.5L1038.5,663.5L1039.4,655.2L1040.3,649.2L1041.7,649.2L1043.1,649.3L1044.0,655.2L1044.9,663.5L1045.6,671.5L1046.2,678.9L1046.9,671.5L1047.6,663.5L1048.5,655.2L1049.4,649.3L1050.8,649.3L1052.2,649.4L1053.1,655.6L1054.0,664.3L1054.7,672.7L1055.4,680.4L1056.0,672.7L1056.7,664.3L1057.6,655.6L1058.6,649.4L1059.9,649.4L1061.3,649.4L1062.2,655.3L1063.1,663.6L1063.8,671.5L1064.5,678.8L1065.1,671.5L1065.9,663.6L1066.8,655.4L1067.7,649.5L1069.0,649.5L1070.4,649.5L1071.3,656.2L1072.2,665.4L1073.0,674.4L1073.6,682.6L1074.2,674.4L1075.0,665.5L1075.9,656.2L1076.8,649.6L1078.2,649.6L1079.5,649.6L1080.4,657.3L1081.4,668.1L1082.1,678.4L1082.7,688.0L1083.4,678.4L1084.1,668.1L1085.0,657.3L1085.9,649.7L1087.3,649.7L1088.7,649.7L1089.6,655.5L1090.5,663.6L1091.2,671.5L1091.8,678.7L1092.5,671.5L1093.2,663.7L1094.1,655.6L1095.0,649.8L1096.4,649.8L1097.8,649.8L1098.7,654.0L1099.6,659.8L1100.3,665.5L1101.0,670.7L1101.6,665.5L1102.3,659.8L1103.2,654.0L1104.2,649.8L1105.5,649.8L1106.9,649.8L1107.8,654.5L1108.7,661.1L1109.4,667.5L1110.1,673.4L1110.7,667.5L1111.5,661.1L1112.4,654.5L1113.3,649.8L1114.6,649.8L1116.0,649.8L1116.9,654.4L1117.8,660.7L1118.6,666.9L1119.2,672.6L1119.8,666.9L1120.6,660.7L1121.5,654.4L1122.4,649.8L1123.8,649.8L1125.1,649.8L1126.0,654.6L1127.0,661.4L1127.7,667.9L1128.3,673.9L1129.0,667.9L1129.7,661.4L1130.6,654.6L1131.5,649.8L1132.9,649.8L1134.3,649.8L1135.2,654.5L1136.1,661.0L1136.8,667.3L1137.4,673.1L1138.1,667.3L1138.8,661.0L1139.7,654.5L1140.6,649.8L1142.0,649.8L1143.4,649.8L1144.3,654.4L1145.2,660.9L1145.9,667.2L1146.6,673.0L1147.2,667.2L1147.9,660.9L1148.8,654.4L1149.8,649.8L1151.1,649.8L1152.5,649.8L1153.4,654.8L1154.3,661.9L1155.0,668.7L1155.7,675.0L1156.3,668.7L1157.1,661.9L1158.0,654.8L1158.9,649.8L1160.2,649.8L1161.6,649.8L1162.5,655.6L1163.4,663.8L1164.2,671.7L1164.8,679.0L1165.4,671.7L1166.2,663.8L1167.1,655.6L1168.0,649.8L1169.4,649.8L1170.7,649.8L1171.6,654.8L1172.6,661.8L1173.3,668.5L1173.9,674.8L1174.6,668.5L1175.3,661.8L1176.2,654.8L1177.1,649.8L1178.5,649.8L1179.9,649.8L1180.8,656.1L1181.7,665.0L1182.4,673.6L1183.0,681.5L1183.7,673.6L1184.4,665.0L1185.3,656.1L1186.2,649.8L1187.6,649.8L1189.0,649.8L1189.9,655.0L1190.8,662.4L1191.5,669.4L1192.2,676.0L1192.8,669.4L1193.5,662.4L1194.4,655.0L1195.4,649.8L1196.7,649.8L1198.1,649.8L1199.0,655.6L1199.9,663.6L1200.6,671.4L1201.3,678.6L1201.9,671.4L1202.7,663.6L1203.6,655.6L1204.5,649.8L1205.8,649.8L1207.2,649.8L1208.1,654.7L1209.0,661.6L1209.8,668.3L1210.4,674.4L1211.0,668.3L1211.8,661.6L1212.7,654.7L1213.6,649.8L1215.0,649.8L1216.3,649.8L1217.2,655.8L1218.2,664.1L1218.9,672.2L1219.5,679.7L1220.2,672.2L1220.9,664.1L1221.8,655.8L1222.7,649.8L1224.1,649.8L1225.5,649.8L1226.4,655.0L1227.3,662.2L1228.0,669.1L1228.6,675.6L1229.3,669.1L1230.0,662.2L1230.9,655.0L1231.8,649.8L1233.2,649.8L1234.6,649.8L1235.5,656.0L1236.4,664.7L1237.1,673.1L1237.8,680.8L1238.4,673.1L1239.1,664.7L1240.0,656.0L1241.0,649.8L1242.3,649.8L1243.7,649.8L1244.6,655.3L1245.5,663.0L1246.2,670.4L1246.9,677.2L1247.5,670.4L1248.3,663.0L1249.2,655.3L1250.1,649.8L1251.4,649.8L1252.8,649.8L1253.7,655.6L1254.6,663.8L1255.4,671.7L1256.0,679.0L1256.6,671.7L1257.4,663.8L1258.3,655.6L1259.2,649.8L1260.6,649.8L1261.9,649.8L1262.8,654.9L1263.8,662.0L1264.5,668.9L1265.1,675.3L1265.8,668.9L1266.5,662.0L1267.4,654.9L1268.3,649.8L1269.7,649.8L1271.1,649.8L1272.0,656.4L1272.9,665.6L1273.6,674.4L1274.2,682.6L1274.9,674.4L1275.6,665.6L1276.5,656.4L1277.4,649.8L1278.8,649.8L1280.2,649.8L1281.1,656.2L1282.0,665.1L1282.7,673.7L1283.4,681.7L1284.0,673.7L1284.7,665.1L1285.6,656.2L1286.6,649.8L1287.9,649.8L1289.3,649.8L1290.2,656.8L1291.1,666.7L1291.8,676.2L1292.5,685.0L1293.1,676.2L1293.9,666.7L1294.8,656.8L1295.7,649.8L1297.0,649.8L1298.4,649.8L1299.3,656.7L1300.2,666.3L1301.0,675.6L1301.6,684.2L1302.2,675.6L1303.0,666.3L1303.9,656.7L1304.8,649.8L1306.2,649.8L1307.5,649.8L1308.4,657.4L1309.4,668.1L1310.1,678.3L1310.7,687.8L1311.4,678.3L1312.1,668.1L1313.0,657.4L1313.9,649.8L1315.3,649.8L1316.7,649.8L1317.6,657.7L1318.5,668.8L1319.2,679.4L1319.8,689.3L1320.5,679.4L1321.2,668.8L1322.1,657.7L1322.8,649.8L1322.8,634.1Z" fill="#7fcdbb"/>
<path d="M869.5,639.5L869.9,637.6L871.1,631.7L872.2,625.9L873.3,620.7L874.5,625.9L875.6,631.7L876.8,637.5L877.9,642.7L879.0,637.5L880.2,631.7L881.3,625.9L882.5,620.7L883.6,625.9L884.7,631.7L885.9,637.5L887.0,642.6L888.2,637.5L889.3,631.7L890.4,625.8L891.6,620.7L892.7,625.8L893.9,631.7L895.0,637.5L896.1,642.6L897.3,637.4L898.4,631.6L899.6,625.8L900.7,620.7L901.8,625.8L903.0,631.6L904.1,637.4L905.3,642.5L906.4,637.4L907.5,631.6L908.7,625.8L909.8,620.7L911.0,625.8L912.1,631.6L913.2,637.4L914.4,642.5L915.5,637.4L916.7,631.6L917.8,625.8L918.9,620.7L920.1,625.8L921.2,631.5L922.4,637.3L923.5,642.4L924.6,637.3L925.8,631.5L926.9,625.7L928.1,620.6L929.2,625.7L930.3,631.5L931.5,637.3L932.6,642.4L933.8,637.3L934.9,631.5L936.0,625.7L937.2,620.6L938.3,625.7L939.5,631.5L940.6,637.2L941.7,642.3L942.9,637.2L944.0,631.5L945.2,625.7L946.3,620.6L947.4,625.7L948.6,631.4L949.7,637.2L950.9,642.3L952.0,637.2L953.1,631.4L954.3,625.7L955.4,620.6L956.6,625.7L957.7,631.4L958.8,637.2L960.0,642.2L961.1,637.1L962.3,631.4L963.4,625.6L964.5,620.6L965.7,625.6L966.8,631.4L968.0,637.1L969.1,642.2L970.2,637.1L971.4,631.4L972.5,625.6L973.7,620.5L974.8,625.6L975.9,631.3L977.1,637.1L978.2,642.1L979.4,637.1L980.5,631.3L981.6,625.6L982.8,620.5L983.9,625.6L985.1,631.3L986.2,637.0L987.3,642.1L988.5,637.0L989.6,631.3L990.8,625.6L991.9,620.5L993.0,625.5L994.2,631.3L995.3,637.0L996.5,642.0L997.6,637.0L998.7,631.3L999.9,625.5L1001.0,620.5L1002.2,625.5L1003.3,631.2L1004.4,636.9L1005.6,642.0L1006.7,636.9L1007.9,631.2L1009.0,625.5L1010.1,620.5L1011.3,625.5L1012.4,631.2L1013.6,636.9L1014.7,641.9L1015.8,636.9L1017.0,631.2L1018.1,625.5L1019.3,620.4L1020.4,625.5L1021.5,631.2L1022.7,636.9L1023.8,641.9L1025.0,636.8L1026.1,631.1L1027.2,625.5L1028.4,620.4L1029.5,625.4L1030.7,631.1L1031.8,636.8L1032.9,641.8L1034.1,636.8L1035.2,631.1L1036.4,625.4L1037.5,620.4L1038.6,625.4L1039.8,631.1L1040.9,636.8L1042.1,641.8L1043.2,636.8L1044.3,631.1L1045.5,625.4L1046.6,620.4L1047.8,625.4L1048.9,631.1L1050.0,636.7L1051.2,641.7L1052.3,636.7L1053.5,631.0L1054.6,625.4L1055.7,620.4L1056.9,625.4L1058.0,631.0L1059.2,636.7L1060.3,641.7L1061.4,636.7L1062.6,631.0L1063.7,625.3L1064.9,620.3L1066.0,625.3L1067.1,631.0L1068.3,636.6L1069.4,641.6L1070.6,636.6L1071.7,631.0L1072.8,625.3L1074.0,620.3L1075.1,625.3L1076.3,631.0L1077.4,636.6L1078.5,641.6L1079.7,636.6L1080.8,630.9L1082.0,625.3L1083.1,620.3L1084.2,625.3L1085.4,630.9L1086.5,636.6L1087.7,641.5L1088.8,636.5L1089.9,630.9L1091.1,625.3L1092.2,620.3L1093.4,625.3L1094.5,630.9L1095.6,636.5L1096.8,641.5L1097.9,636.5L1099.1,630.9L1100.2,625.2L1101.3,620.3L1102.5,625.2L1103.6,630.8L1104.8,636.5L1105.9,641.4L1107.0,636.5L1108.2,630.8L1109.3,625.2L1110.5,620.3L1111.6,625.2L1112.7,630.8L1113.9,636.4L1115.0,641.4L1116.2,636.4L1117.3,630.8L1118.4,625.2L1119.6,620.2L1120.7,625.2L1121.9,630.8L1123.0,636.4L1124.1,641.3L1125.3,636.4L1126.4,630.8L1127.6,625.2L1128.7,620.2L1129.8,625.2L1131.0,630.7L1132.1,636.3L1133.3,641.3L1134.4,636.3L1135.5,630.7L1136.7,625.1L1137.8,620.2L1139.0,625.1L1140.1,630.7L1141.2,636.3L1142.4,641.2L1143.5,636.3L1144.7,630.7L1145.8,625.1L1146.9,620.2L1148.1,625.1L1149.2,630.7L1150.4,636.2L1151.5,641.2L1152.6,636.2L1153.8,630.7L1154.9,625.1L1156.1,620.2L1157.2,625.1L1158.3,630.6L1159.5,636.2L1160.6,641.1L1161.8,636.2L1162.9,630.6L1164.0,625.1L1165.2,620.1L1166.3,625.0L1167.5,630.6L1168.6,636.2L1169.7,641.1L1170.9,636.2L1172.0,630.6L1173.2,625.0L1174.3,620.1L1175.4,625.0L1176.6,630.6L1177.7,636.1L1178.9,641.0L1180.0,636.1L1181.1,630.6L1182.3,625.0L1183.4,620.1L1184.6,625.0L1185.7,630.5L1186.8,636.1L1188.0,641.0L1189.1,636.1L1190.3,630.5L1191.4,625.0L1192.5,620.1L1193.7,625.0L1194.8,630.5L1196.0,636.0L1197.1,640.9L1198.2,636.0L1199.4,630.5L1200.5,624.9L1201.7,620.1L1202.8,624.9L1203.9,630.5L1205.1,636.0L1206.2,640.9L1207.4,636.0L1208.5,630.4L1209.6,624.9L1210.8,620.0L1211.9,624.9L1213.1,630.4L1214.2,635.9L1215.3,640.8L1216.5,635.9L1217.6,630.4L1218.8,624.9L1219.9,620.0L1221.0,624.9L1222.2,630.4L1223.3,635.9L1224.5,640.8L1225.6,635.9L1226.7,630.4L1227.9,624.9L1229.0,620.0L1230.2,624.9L1231.3,630.4L1232.4,635.9L1233.6,640.7L1234.7,635.8L1235.9,630.3L1237.0,624.8L1238.1,620.0L1239.3,624.8L1240.4,630.3L1241.6,635.8L1242.7,640.7L1243.8,635.8L1245.0,630.3L1246.1,624.8L1247.3,620.0L1248.4,624.8L1249.5,630.3L1250.7,635.8L1251.8,640.6L1253.0,635.8L1254.1,630.3L1255.2,624.8L1256.4,619.9L1257.5,624.8L1258.7,630.3L1259.8,635.7L1260.9,640.6L1262.1,635.7L1263.2,630.2L1264.4,624.8L1265.5,619.9L1266.6,624.8L1267.8,630.2L1268.9,635.7L1270.1,640.5L1271.2,635.7L1272.3,630.2L1273.5,624.7L1274.6,619.9L1275.8,624.7L1276.9,630.2L1278.0,635.6L1279.2,640.5L1280.3,635.6L1281.5,629.9L1282.6,624.3L1283.7,619.3L1284.9,623.9L1286.0,629.2L1287.2,634.4L1288.3,639.1L1289.4,634.1L1290.6,628.4L1291.7,622.8L1292.9,617.8L1294.0,622.4L1295.1,627.7L1296.3,632.9L1297.4,637.5L1298.6,632.5L1299.7,626.9L1300.8,621.3L1302.0,616.3L1303.1,620.9L1304.3,626.2L1305.4,631.4L1306.5,636.0L1307.7,631.0L1308.8,625.4L1310.0,619.8L1311.1,614.8L1312.2,619.4L1313.4,624.7L1314.5,629.9L1315.7,634.5L1316.8,629.5L1317.9,623.9L1319.1,618.3L1320.2,613.3L1321.4,617.9L1322.5,623.2L1323.6,628.3L1324.8,632.8L1325.9,627.8L1327.1,622.2L1328.2,616.7L1329.3,611.8L1330.5,616.3L1331.6,621.4L1332.8,626.5L1333.9,631.1L1335.0,626.3L1336.2,620.8L1337.3,615.3L1338.5,610.3L1339.6,614.9L1340.7,620.3L1341.9,625.8L1343.0,630.6L1344.2,625.6L1345.3,619.8L1346.4,613.9L1347.6,608.7L1348.7,613.6L1349.9,619.3L1351.0,625.0L1352.1,630.1L1353.3,624.8L1354.4,618.7L1355.6,612.6L1356.7,607.1L1357.8,612.3L1359.0,618.2L1360.1,624.2L1361.3,629.6L1362.4,624.0L1363.5,617.7L1364.7,611.3L1365.8,605.5L1367.0,611.0L1368.1,617.2L1369.2,623.5L1370.4,629.1L1371.5,623.3L1372.7,616.6L1373.8,609.9L1374.9,603.9L1376.1,609.5L1377.2,616.0L1378.4,622.5L1379.5,628.4L1380.6,622.3L1381.8,615.4L1382.9,608.4L1384.1,602.1L1385.2,608.0L1386.3,614.7L1387.5,621.6L1388.6,627.7L1389.8,621.3L1390.9,614.1L1392.0,606.8L1393.2,600.3L1394.3,606.4L1395.5,613.5L1396.6,620.6L1397.7,626.9L1398.9,620.4L1400.0,612.8L1401.2,605.3L1402.3,598.5L1403.4,604.9L1404.6,612.2L1405.7,619.6L1406.9,626.2L1408.0,619.4L1409.1,611.6L1410.3,603.7L1411.4,596.7L1412.6,603.4L1413.7,611.0L1414.8,618.6L1416.0,625.5L1417.1,618.4L1418.3,610.3L1419.4,602.2L1420.5,594.9L1421.7,601.7L1422.8,609.6L1424.0,617.6L1425.1,624.6L1426.2,617.3L1427.4,608.9L1428.5,600.5L1429.7,592.9L1430.8,600.1L1431.9,608.2L1433.1,616.5L1434.2,623.8L1435.4,616.2L1436.5,607.5L1437.6,598.8L1438.8,591.0L1439.9,598.4L1441.1,606.8L1442.2,615.3L1443.3,622.9L1444.5,615.1L1445.6,606.1L1446.8,597.1L1447.9,589.1L1449.0,596.7L1450.2,605.4L1451.3,614.2L1452.5,622.0L1453.6,613.9L1454.7,604.7L1455.9,595.4L1457.0,587.2L1458.2,595.1L1459.3,604.3L1460.4,613.4L1461.6,621.4L1462.7,613.4L1463.9,604.6L1465.0,595.8L1466.1,588.2L1467.3,596.0L1468.4,604.8L1469.6,613.4L1470.7,620.9L1471.8,613.4L1473.0,605.0L1474.1,596.7L1475.3,589.5L1476.4,596.9L1477.5,605.2L1478.7,613.4L1479.8,620.5L1481.0,613.4L1482.1,605.4L1483.2,597.6L1484.4,590.8L1485.5,597.8L1486.7,605.6L1487.8,613.4L1488.9,620.1L1490.1,613.3L1491.2,605.8L1492.4,598.4L1493.5,592.0L1494.6,598.7L1495.8,606.1L1496.9,613.3L1498.1,619.6L1499.2,613.3L1500.3,606.3L1501.5,599.3L1502.6,593.3L1503.8,599.6L1504.9,606.5L1506.0,613.3L1507.2,619.2L1508.3,613.3L1509.5,606.7L1510.6,600.2L1511.7,594.6L1512.9,600.4L1514.0,606.9L1515.2,613.3L1516.3,618.8L1517.4,613.3L1518.6,607.1L1519.7,601.0L1520.9,595.7L1522.0,601.2L1523.1,607.3L1524.3,613.3L1525.4,618.4L1526.6,613.2L1527.7,607.5L1528.8,601.8L1530.0,596.9L1531.1,602.0L1532.3,607.7L1533.4,613.2L1534.5,618.0L1535.7,613.2L1536.8,607.9L1538.0,602.6L1539.1,598.1L1540.2,602.8L1541.4,608.1L1542.5,613.2L1543.7,617.6L1544.8,613.2L1545.9,608.3L1547.1,603.4L1548.2,599.3L1549.4,603.6L1550.5,608.5L1551.6,613.2L1552.8,617.3L1553.9,613.2L1555.1,608.7L1556.2,604.2L1557.3,600.4L1558.5,604.4L1559.6,608.9L1560.8,613.2L1561.9,616.9L1563.0,613.1L1564.2,609.0L1564.4,608.0" fill="none" stroke="#4d4d4d" stroke-width="3.8" stroke-linejoin="round"/>
</g>
<line x1="1322.8" y1="555.6" x2="1322.8" y2="712.6" stroke="#c59fe0" stroke-width="12" stroke-dasharray="12.5 11.5"/>
<line x1="1481.6" y1="555.6" x2="1481.6" y2="712.6" stroke="#c59fe0" stroke-width="12"/>
<line x1="869.5" y1="555.6" x2="1563.0" y2="555.6" stroke="#262626" stroke-width="2" />
<line x1="869.5" y1="554.6" x2="869.5" y2="713.6" stroke="#262626" stroke-width="2" />
<line x1="869.5" y1="712.6" x2="876.5" y2="712.6" stroke="#262626" stroke-width="2" />
<line x1="1143.0" y1="555.6" x2="1143.0" y2="562.6" stroke="#262626" stroke-width="2" />
<line x1="1426.0" y1="555.6" x2="1426.0" y2="562.6" stroke="#262626" stroke-width="2" />
<text x="806.7" y="567.4" font-size="31.4" fill="#262626" text-anchor="start" >1.50</text>
<text x="806.7" y="645.7" font-size="31.4" fill="#262626" text-anchor="start" >0.00</text>
<text x="796.3" y="724.6" font-size="31.4" fill="#262626" text-anchor="start" >-1.50</text>
<text x="889.3" y="701.6" font-size="38.6" fill="#000" text-anchor="start" >L4</text>
<clipPath id="cp3"><rect x="869.5" y="740.6999999999999" width="693.5" height="157"/></clipPath>
<g clip-path="url(#cp3)">
<path d="M869.5,819.2L869.5,819.2L869.8,819.2L870.7,808.5L871.6,793.6L872.3,779.2L873.0,765.8L873.6,779.2L874.3,793.6L875.2,808.5L876.2,819.2L877.5,819.2L878.9,819.2L879.8,811.0L880.7,799.5L881.4,788.3L882.1,778.1L882.7,788.3L883.5,799.5L884.4,811.0L885.3,819.2L886.6,819.2L888.0,819.2L888.9,810.0L889.8,797.2L890.6,784.8L891.2,773.3L891.8,784.8L892.6,797.2L893.5,810.0L894.4,819.2L895.8,819.2L897.1,819.2L898.0,810.5L899.0,798.4L899.7,786.7L900.3,775.9L901.0,786.7L901.7,798.4L902.6,810.5L903.5,819.2L904.9,819.2L906.3,819.2L907.2,808.5L908.1,793.4L908.8,779.0L909.4,765.6L910.1,779.0L910.8,793.4L911.7,808.5L912.6,819.2L914.0,819.2L915.4,819.2L916.3,809.9L917.2,797.0L917.9,784.5L918.6,772.9L919.2,784.5L919.9,797.0L920.8,809.9L921.8,819.2L923.1,819.2L924.5,819.2L925.4,808.4L926.3,793.2L927.0,778.6L927.7,765.0L928.3,778.6L929.1,793.2L930.0,808.4L930.9,819.2L932.2,819.2L933.6,818.7L934.5,807.7L935.4,793.7L936.2,781.0L936.8,769.9L937.4,780.5L938.2,791.2L939.1,801.8L940.0,809.5L941.4,809.3L942.7,809.0L943.6,800.1L944.6,787.8L945.3,776.1L945.9,765.3L946.6,776.0L947.3,787.5L948.2,799.4L949.1,807.7L950.5,807.4L951.9,807.1L952.8,797.5L953.7,784.3L954.4,771.6L955.0,759.9L955.7,771.5L956.4,784.0L957.3,796.8L958.2,805.8L959.6,805.6L961.0,805.3L961.9,795.0L962.8,780.7L963.5,767.1L964.2,754.5L964.8,767.0L965.5,780.4L966.4,794.2L967.4,804.0L968.7,803.7L970.1,803.5L971.0,794.8L971.9,782.7L972.6,771.0L973.3,760.2L973.9,771.0L974.7,782.7L975.6,794.8L976.5,803.5L977.8,803.4L979.2,803.4L980.1,791.9L981.0,775.8L981.8,760.2L982.4,745.8L983.0,760.2L983.8,775.8L984.7,791.9L985.6,803.4L987.0,803.4L988.3,803.4L989.2,793.9L990.2,780.6L990.9,767.8L991.5,756.0L992.2,767.8L992.9,780.6L993.8,793.9L994.7,803.3L996.1,803.3L997.5,803.3L998.4,794.7L999.3,782.7L1000.0,771.1L1000.6,760.3L1001.3,771.1L1002.0,782.7L1002.9,794.7L1003.8,803.3L1005.2,803.3L1006.6,803.3L1007.5,794.6L1008.4,782.5L1009.1,770.8L1009.8,759.9L1010.4,770.8L1011.1,782.5L1012.0,794.6L1013.0,803.2L1014.3,803.2L1015.7,803.2L1016.6,793.7L1017.5,780.3L1018.2,767.4L1018.9,755.5L1019.5,767.4L1020.3,780.3L1021.2,793.6L1022.1,803.2L1023.4,803.1L1024.8,803.1L1025.7,793.7L1026.6,780.5L1027.4,767.7L1028.0,755.9L1028.6,767.7L1029.4,780.5L1030.3,793.7L1031.2,803.1L1032.6,803.1L1033.9,803.1L1034.8,794.2L1035.8,781.8L1036.5,769.9L1037.1,758.8L1037.8,769.9L1038.5,781.8L1039.4,794.2L1040.3,803.0L1041.7,803.0L1043.1,803.0L1044.0,794.3L1044.9,782.0L1045.6,770.2L1046.2,759.2L1046.9,770.2L1047.6,782.0L1048.5,794.2L1049.4,803.0L1050.8,803.0L1052.2,803.0L1053.1,794.8L1054.0,783.4L1054.7,772.3L1055.4,762.1L1056.0,772.3L1056.7,783.4L1057.6,794.8L1058.6,802.9L1059.9,802.9L1061.3,802.9L1062.2,794.3L1063.1,782.4L1063.8,770.8L1064.5,760.1L1065.1,770.8L1065.9,782.3L1066.8,794.3L1067.7,802.9L1069.0,802.8L1070.4,802.8L1071.3,793.7L1072.2,780.9L1073.0,768.6L1073.6,757.2L1074.2,768.6L1075.0,780.9L1075.9,793.7L1076.8,802.8L1078.2,802.8L1079.5,802.8L1080.4,793.8L1081.4,781.1L1082.1,769.0L1082.7,757.7L1083.4,769.0L1084.1,781.1L1085.0,793.7L1085.9,802.7L1087.3,802.7L1088.7,802.8L1089.6,796.2L1090.5,786.6L1091.2,777.2L1091.8,768.3L1092.5,777.3L1093.2,787.1L1094.1,797.4L1095.0,805.0L1096.4,805.5L1097.8,805.9L1098.7,799.1L1099.6,789.7L1100.3,780.7L1101.0,772.3L1101.6,780.7L1102.3,789.7L1103.2,799.1L1104.2,805.8L1105.5,805.8L1106.9,805.8L1107.8,799.4L1108.7,790.5L1109.4,781.9L1110.1,773.9L1110.7,781.9L1111.5,790.5L1112.4,799.4L1113.3,805.8L1114.6,805.8L1116.0,805.8L1116.9,799.4L1117.8,790.4L1118.6,781.8L1119.2,773.8L1119.8,781.8L1120.6,790.4L1121.5,799.4L1122.4,805.7L1123.8,805.7L1125.1,805.7L1126.0,798.6L1127.0,788.6L1127.7,779.0L1128.3,770.0L1129.0,779.0L1129.7,788.6L1130.6,798.6L1131.5,805.7L1132.9,805.7L1134.3,805.7L1135.2,799.9L1136.1,791.8L1136.8,784.0L1137.4,776.7L1138.1,784.0L1138.8,791.8L1139.7,799.9L1140.6,805.7L1142.0,805.7L1143.4,805.7L1144.3,800.1L1145.2,792.4L1145.9,784.9L1146.6,778.0L1147.2,784.9L1147.9,792.4L1148.8,800.1L1149.8,805.6L1151.1,805.6L1152.5,805.6L1153.4,800.1L1154.3,792.3L1155.0,784.8L1155.7,777.9L1156.3,784.8L1157.1,792.3L1158.0,800.0L1158.9,805.6L1160.2,805.6L1161.6,805.6L1162.5,798.7L1163.4,789.1L1164.2,779.9L1164.8,771.3L1165.4,779.9L1166.2,789.1L1167.1,798.7L1168.0,805.6L1169.4,805.5L1170.7,805.5L1171.6,798.3L1172.6,788.2L1173.3,778.4L1173.9,769.3L1174.6,778.4L1175.3,788.1L1176.2,798.3L1177.1,805.5L1178.5,805.5L1179.9,805.5L1180.8,799.2L1181.7,790.3L1182.4,781.7L1183.0,773.8L1183.7,781.7L1184.4,790.3L1185.3,799.1L1186.2,805.5L1187.6,805.5L1189.0,805.5L1189.9,799.3L1190.8,790.6L1191.5,782.3L1192.2,774.6L1192.8,782.3L1193.5,790.6L1194.4,799.3L1195.4,805.4L1196.7,805.4L1198.1,805.4L1199.0,798.9L1199.9,789.7L1200.6,780.8L1201.3,772.6L1201.9,780.8L1202.7,789.7L1203.6,798.8L1204.5,805.4L1205.8,805.4L1207.2,805.4L1208.1,799.5L1209.0,791.2L1209.8,783.2L1210.4,775.8L1211.0,783.2L1211.8,791.2L1212.7,799.4L1213.6,805.4L1215.0,805.3L1216.3,805.3L1217.2,799.1L1218.2,790.4L1218.9,782.0L1219.5,774.2L1220.2,782.0L1220.9,790.4L1221.8,799.1L1222.7,805.3L1224.1,805.3L1225.5,805.3L1226.4,797.9L1227.3,787.6L1228.0,777.7L1228.6,768.5L1229.3,777.7L1230.0,787.6L1230.9,797.9L1231.8,805.3L1233.2,805.3L1234.6,805.3L1235.5,797.3L1236.4,786.2L1237.1,775.4L1237.8,765.5L1238.4,775.4L1239.1,786.2L1240.0,797.3L1241.0,805.2L1242.3,805.2L1243.7,805.2L1244.6,798.2L1245.5,788.3L1246.2,778.8L1246.9,770.0L1247.5,778.8L1248.3,788.3L1249.2,798.2L1250.1,805.2L1251.4,805.2L1252.8,805.2L1253.7,797.3L1254.6,786.2L1255.4,775.5L1256.0,765.6L1256.6,775.5L1257.4,786.2L1258.3,797.3L1259.2,805.2L1260.6,805.2L1261.9,805.1L1262.8,797.4L1263.8,786.5L1264.5,776.1L1265.1,766.4L1265.8,776.1L1266.5,786.5L1267.4,797.4L1268.3,805.1L1269.7,805.1L1271.1,805.1L1272.0,796.7L1272.9,785.0L1273.6,773.6L1274.2,763.2L1274.9,773.6L1275.6,785.0L1276.5,796.7L1277.4,805.1L1278.8,805.1L1280.2,805.0L1281.1,795.8L1282.0,783.0L1282.7,770.8L1283.4,759.6L1284.0,770.8L1284.7,782.7L1285.6,795.1L1286.6,803.7L1287.9,803.5L1289.3,803.2L1290.2,793.8L1291.1,780.8L1291.8,768.4L1292.5,757.0L1293.1,768.4L1293.9,780.6L1294.8,793.1L1295.7,801.9L1297.0,801.6L1298.4,801.4L1299.3,791.1L1300.2,776.9L1301.0,763.3L1301.6,750.8L1302.2,763.2L1303.0,776.6L1303.9,790.4L1304.8,800.1L1306.2,799.8L1307.5,799.6L1308.4,788.0L1309.4,771.7L1310.1,756.0L1310.7,741.5L1311.4,756.0L1312.1,771.7L1313.0,788.0L1313.9,799.6L1315.3,799.6L1316.7,799.6L1317.6,787.8L1318.5,771.3L1319.2,755.4L1319.5,799.6L1319.5,819.2Z" fill="#ff800e"/>
<path d="M869.5,819.2L869.5,820.8L869.8,820.8L870.7,828.5L871.6,839.2L872.3,849.6L873.0,859.2L873.6,849.6L874.3,839.2L875.2,828.5L876.2,820.8L877.5,820.8L878.9,820.8L879.8,826.4L880.7,834.4L881.4,842.0L882.1,849.1L882.7,842.0L883.5,834.4L884.4,826.4L885.3,820.8L886.6,820.8L888.0,820.8L888.9,827.2L889.8,836.3L890.6,845.0L891.2,853.1L891.8,845.0L892.6,836.3L893.5,827.2L894.4,820.8L895.8,820.8L897.1,820.8L898.0,826.3L899.0,834.0L899.7,841.5L900.3,848.4L901.0,841.5L901.7,834.0L902.6,826.3L903.5,820.8L904.9,820.8L906.3,820.8L907.2,827.4L908.1,836.7L908.8,845.7L909.4,854.0L910.1,845.7L910.8,836.7L911.7,827.4L912.6,820.8L914.0,820.8L915.4,820.8L916.3,827.3L917.2,836.4L917.9,845.2L918.6,853.3L919.2,845.2L919.9,836.4L920.8,827.3L921.8,820.8L923.1,820.8L924.5,820.8L925.4,828.2L926.3,838.7L927.0,848.8L927.7,858.1L928.3,848.8L929.1,838.7L930.0,828.2L930.9,820.8L932.2,820.8L933.6,821.6L934.5,831.0L935.4,841.9L936.2,850.9L936.8,858.2L937.4,851.8L938.2,846.0L939.1,840.8L940.0,836.6L941.4,836.7L942.7,836.9L943.6,841.7L944.6,848.4L945.3,854.8L945.9,860.7L946.6,854.8L947.3,848.5L948.2,842.1L949.1,837.5L950.5,837.6L951.9,837.7L952.8,843.2L953.7,850.8L954.4,858.1L955.0,864.8L955.7,858.1L956.4,851.0L957.3,843.6L958.2,838.4L959.6,838.5L961.0,838.6L961.9,845.1L962.8,854.0L963.5,862.6L964.2,870.5L964.8,862.6L965.5,854.2L966.4,845.4L967.4,839.3L968.7,839.4L970.1,839.5L971.0,845.2L971.9,853.0L972.6,860.5L973.3,867.4L973.9,860.5L974.7,853.1L975.6,845.5L976.5,840.2L977.8,840.3L979.2,840.4L980.1,848.1L981.0,858.8L981.8,869.2L982.4,878.7L983.0,869.2L983.8,858.8L984.7,848.1L985.6,840.4L987.0,840.4L988.3,840.4L989.2,845.8L990.2,853.4L990.9,860.8L991.5,867.6L992.2,860.8L992.9,853.4L993.8,845.8L994.7,840.4L996.1,840.4L997.5,840.4L998.4,845.7L999.3,853.1L1000.0,860.2L1000.6,866.9L1001.3,860.2L1002.0,853.1L1002.9,845.7L1003.8,840.4L1005.2,840.4L1006.6,840.4L1007.5,846.5L1008.4,855.1L1009.1,863.4L1009.8,871.0L1010.4,863.4L1011.1,855.1L1012.0,846.5L1013.0,840.4L1014.3,840.4L1015.7,840.4L1016.6,847.4L1017.5,857.1L1018.2,866.5L1018.9,875.2L1019.5,866.5L1020.3,857.1L1021.2,847.4L1022.1,840.4L1023.4,840.4L1024.8,840.4L1025.7,845.9L1026.6,853.6L1027.4,861.1L1028.0,868.0L1028.6,861.1L1029.4,853.6L1030.3,845.9L1031.2,840.4L1032.6,840.4L1033.9,840.4L1034.8,846.3L1035.8,854.5L1036.5,862.4L1037.1,869.7L1037.8,862.4L1038.5,854.5L1039.4,846.3L1040.3,840.4L1041.7,840.4L1043.1,840.4L1044.0,845.5L1044.9,852.5L1045.6,859.4L1046.2,865.7L1046.9,859.4L1047.6,852.5L1048.5,845.5L1049.4,840.4L1050.8,840.4L1052.2,840.4L1053.1,846.0L1054.0,853.8L1054.7,861.3L1055.4,868.3L1056.0,861.3L1056.7,853.8L1057.6,846.0L1058.6,840.4L1059.9,840.4L1061.3,840.4L1062.2,845.5L1063.1,852.6L1063.8,859.5L1064.5,865.9L1065.1,859.5L1065.9,852.6L1066.8,845.5L1067.7,840.4L1069.0,840.4L1070.4,840.4L1071.3,845.4L1072.2,852.3L1073.0,859.0L1073.6,865.2L1074.2,859.0L1075.0,852.3L1075.9,845.4L1076.8,840.4L1078.2,840.4L1079.5,840.4L1080.4,846.0L1081.4,853.9L1082.1,861.5L1082.7,868.6L1083.4,861.5L1084.1,853.9L1085.0,846.0L1085.9,840.4L1087.3,840.4L1088.7,840.3L1089.6,844.1L1090.5,849.4L1091.2,854.7L1091.8,859.6L1092.5,854.6L1093.2,849.2L1094.1,843.4L1095.0,839.2L1096.4,839.0L1097.8,838.8L1098.7,842.4L1099.6,847.3L1100.3,852.1L1101.0,856.5L1101.6,852.1L1102.3,847.3L1103.2,842.4L1104.2,838.9L1105.5,838.9L1106.9,838.9L1107.8,842.7L1108.7,847.9L1109.4,853.0L1110.1,857.6L1110.7,853.0L1111.5,847.9L1112.4,842.7L1113.3,839.0L1114.6,839.0L1116.0,839.0L1116.9,842.2L1117.8,846.6L1118.6,850.9L1119.2,854.8L1119.8,850.9L1120.6,846.6L1121.5,842.2L1122.4,839.1L1123.8,839.1L1125.1,839.1L1126.0,842.7L1127.0,847.7L1127.7,852.5L1128.3,857.0L1129.0,852.5L1129.7,847.7L1130.6,842.7L1131.5,839.2L1132.9,839.2L1134.3,839.2L1135.2,841.8L1136.1,845.4L1136.8,848.9L1137.4,852.1L1138.1,848.9L1138.8,845.4L1139.7,841.8L1140.6,839.3L1142.0,839.3L1143.4,839.3L1144.3,841.7L1145.2,845.1L1145.9,848.3L1146.6,851.3L1147.2,848.3L1147.9,845.1L1148.8,841.7L1149.8,839.4L1151.1,839.4L1152.5,839.4L1153.4,842.6L1154.3,847.1L1155.0,851.4L1155.7,855.4L1156.3,851.4L1157.1,847.1L1158.0,842.7L1158.9,839.5L1160.2,839.5L1161.6,839.5L1162.5,843.1L1163.4,848.2L1164.2,853.1L1164.8,857.6L1165.4,853.1L1166.2,848.2L1167.1,843.2L1168.0,839.6L1169.4,839.6L1170.7,839.6L1171.6,842.8L1172.6,847.3L1173.3,851.7L1173.9,855.7L1174.6,851.7L1175.3,847.4L1176.2,842.9L1177.1,839.7L1178.5,839.7L1179.9,839.7L1180.8,843.6L1181.7,848.9L1182.4,854.1L1183.0,858.9L1183.7,854.1L1184.4,849.0L1185.3,843.6L1186.2,839.8L1187.6,839.8L1189.0,839.8L1189.9,842.6L1190.8,846.6L1191.5,850.4L1192.2,854.0L1192.8,850.4L1193.5,846.6L1194.4,842.7L1195.4,839.9L1196.7,839.9L1198.1,839.9L1199.0,842.5L1199.9,846.2L1200.6,849.8L1201.3,853.1L1201.9,849.8L1202.7,846.2L1203.6,842.6L1204.5,840.0L1205.8,840.0L1207.2,840.0L1208.1,842.4L1209.0,845.9L1209.8,849.1L1210.4,852.2L1211.0,849.1L1211.8,845.9L1212.7,842.5L1213.6,840.1L1215.0,840.1L1216.3,840.1L1217.2,842.1L1218.2,845.0L1218.9,847.7L1219.5,850.2L1220.2,847.7L1220.9,845.0L1221.8,842.2L1222.7,840.2L1224.1,840.2L1225.5,840.2L1226.4,842.6L1227.3,846.1L1228.0,849.4L1228.6,852.5L1229.3,849.4L1230.0,846.1L1230.9,842.7L1231.8,840.3L1233.2,840.3L1234.6,840.3L1235.5,843.8L1236.4,848.7L1237.1,853.4L1237.8,857.8L1238.4,853.4L1239.1,848.7L1240.0,843.8L1241.0,840.3L1242.3,840.4L1243.7,840.4L1244.6,842.9L1245.5,846.3L1246.2,849.6L1246.9,852.7L1247.5,849.6L1248.3,846.3L1249.2,842.9L1250.1,840.4L1251.4,840.5L1252.8,840.5L1253.7,843.4L1254.6,847.4L1255.4,851.3L1256.0,855.0L1256.6,851.3L1257.4,847.4L1258.3,843.4L1259.2,840.5L1260.6,840.6L1261.9,840.6L1262.8,844.5L1263.8,850.1L1264.5,855.4L1265.1,860.4L1265.8,855.4L1266.5,850.1L1267.4,844.6L1268.3,840.6L1269.7,840.7L1271.1,840.7L1272.0,843.4L1272.9,847.2L1273.6,850.8L1274.2,854.2L1274.9,850.8L1275.6,847.2L1276.5,843.4L1277.4,840.7L1278.8,840.8L1280.2,840.8L1281.1,846.3L1282.0,854.0L1282.7,861.4L1283.4,868.3L1284.0,861.4L1284.7,854.0L1285.6,846.3L1286.6,840.8L1287.9,840.8L1289.3,840.9L1290.2,845.9L1291.1,853.0L1291.8,859.8L1292.5,866.1L1293.1,859.8L1293.9,853.0L1294.8,846.0L1295.7,840.9L1297.0,840.9L1298.4,841.0L1299.3,847.0L1300.2,855.4L1301.0,863.6L1301.6,871.1L1302.2,863.6L1303.0,855.5L1303.9,847.0L1304.8,841.0L1306.2,841.0L1307.5,841.1L1308.4,848.9L1309.4,859.8L1310.1,870.4L1310.7,880.2L1311.4,870.4L1312.1,859.9L1313.0,848.9L1313.9,841.1L1315.3,841.1L1316.7,841.2L1317.6,849.5L1318.5,861.1L1319.2,872.4L1319.5,841.2L1319.5,819.2Z" fill="#7fcdbb"/>
<path d="M869.5,825.1L869.9,823.4L871.1,818.4L872.2,813.4L873.3,809.0L874.5,813.4L875.6,818.4L876.8,823.4L877.9,827.8L879.0,823.4L880.2,818.4L881.3,813.3L882.5,808.9L883.6,813.3L884.7,818.4L885.9,823.4L887.0,827.8L888.2,823.4L889.3,818.3L890.4,813.3L891.6,808.8L892.7,813.3L893.9,818.3L895.0,823.4L896.1,827.8L897.3,823.4L898.4,818.3L899.6,813.2L900.7,808.8L901.8,813.2L903.0,818.3L904.1,823.3L905.3,827.8L906.4,823.3L907.5,818.3L908.7,813.2L909.8,808.7L911.0,813.2L912.1,818.3L913.2,823.3L914.4,827.8L915.5,823.3L916.7,818.2L917.8,813.1L918.9,808.6L920.1,813.1L921.2,818.2L922.4,823.3L923.5,827.8L924.6,823.3L925.8,818.2L926.9,813.1L928.1,808.6L929.2,813.1L930.3,818.2L931.5,823.3L932.6,827.8L933.8,823.3L934.9,818.2L936.0,813.0L937.2,808.5L938.3,813.0L939.5,818.1L940.6,823.3L941.7,827.8L942.9,823.3L944.0,818.1L945.2,813.0L946.3,808.4L947.4,813.0L948.6,818.1L949.7,823.3L950.9,827.8L952.0,823.3L953.1,818.1L954.3,812.9L955.4,808.4L956.6,812.9L957.7,818.1L958.8,823.2L960.0,827.8L961.1,823.2L962.3,818.1L963.4,812.9L964.5,808.3L965.7,812.9L966.8,818.0L968.0,823.2L969.1,827.8L970.2,823.2L971.4,818.0L972.5,812.8L973.7,808.2L974.8,812.8L975.9,818.0L977.1,823.2L978.2,827.8L979.4,823.2L980.5,818.0L981.6,812.8L982.8,808.2L983.9,812.8L985.1,818.0L986.2,823.2L987.3,827.8L988.5,823.2L989.6,818.0L990.8,812.7L991.9,808.1L993.0,812.7L994.2,817.9L995.3,823.2L996.5,827.8L997.6,823.2L998.7,817.9L999.9,812.7L1001.0,808.0L1002.2,812.7L1003.3,817.9L1004.4,823.2L1005.6,827.8L1006.7,823.1L1007.9,817.9L1009.0,812.6L1010.1,808.0L1011.3,812.6L1012.4,817.9L1013.6,823.1L1014.7,827.8L1015.8,823.1L1017.0,817.9L1018.1,812.6L1019.3,807.9L1020.4,812.6L1021.5,817.8L1022.7,823.1L1023.8,827.8L1025.0,823.1L1026.1,817.8L1027.2,812.5L1028.4,807.8L1029.5,812.5L1030.7,817.8L1031.8,823.1L1032.9,827.8L1034.1,823.1L1035.2,817.8L1036.4,812.5L1037.5,807.8L1038.6,812.5L1039.8,817.8L1040.9,823.1L1042.1,827.8L1043.2,823.1L1044.3,817.7L1045.5,812.4L1046.6,807.7L1047.8,812.4L1048.9,817.7L1050.0,823.1L1051.2,827.8L1052.3,823.1L1053.5,817.7L1054.6,812.4L1055.7,807.6L1056.9,812.3L1058.0,817.7L1059.2,823.0L1060.3,827.8L1061.4,823.0L1062.6,817.7L1063.7,812.3L1064.9,807.6L1066.0,812.3L1067.1,817.7L1068.3,823.0L1069.4,827.8L1070.6,823.0L1071.7,817.6L1072.8,812.3L1074.0,807.5L1075.1,812.2L1076.3,817.6L1077.4,823.0L1078.5,827.8L1079.7,823.0L1080.8,817.6L1082.0,812.2L1083.1,807.4L1084.2,812.2L1085.4,817.6L1086.5,823.0L1087.7,827.8L1088.8,823.0L1089.9,817.6L1091.1,812.2L1092.2,807.4L1093.4,812.1L1094.5,817.6L1095.6,823.0L1096.8,827.8L1097.9,823.0L1099.1,817.5L1100.2,812.1L1101.3,807.3L1102.5,812.1L1103.6,817.5L1104.8,823.0L1105.9,827.8L1107.0,822.9L1108.2,817.5L1109.3,812.1L1110.5,807.2L1111.6,812.0L1112.7,817.5L1113.9,822.9L1115.0,827.8L1116.2,822.9L1117.3,817.5L1118.4,812.0L1119.6,807.2L1120.7,812.0L1121.9,817.4L1123.0,822.9L1124.1,827.8L1125.3,822.9L1126.4,817.4L1127.6,811.9L1128.7,807.1L1129.8,811.9L1131.0,817.4L1132.1,822.9L1133.3,827.7L1134.4,822.9L1135.5,817.4L1136.7,811.9L1137.8,807.0L1139.0,811.9L1140.1,817.4L1141.2,822.9L1142.4,827.7L1143.5,822.9L1144.7,817.4L1145.8,811.8L1146.9,807.0L1148.1,811.8L1149.2,817.3L1150.4,822.9L1151.5,827.7L1152.6,822.9L1153.8,817.3L1154.9,811.8L1156.1,806.9L1157.2,811.8L1158.3,817.3L1159.5,822.8L1160.6,827.7L1161.8,822.8L1162.9,817.3L1164.0,811.7L1165.2,806.8L1166.3,811.7L1167.5,817.3L1168.6,822.8L1169.7,827.7L1170.9,822.8L1172.0,817.3L1173.2,811.7L1174.3,806.8L1175.4,811.7L1176.6,817.2L1177.7,822.8L1178.9,827.7L1180.0,822.8L1181.1,817.2L1182.3,811.6L1183.4,806.7L1184.6,811.6L1185.7,817.2L1186.8,822.8L1188.0,827.7L1189.1,822.8L1190.3,817.2L1191.4,811.6L1192.5,806.6L1193.7,811.6L1194.8,817.2L1196.0,822.8L1197.1,827.7L1198.2,822.8L1199.4,817.2L1200.5,811.5L1201.7,806.6L1202.8,811.5L1203.9,817.1L1205.1,822.8L1206.2,827.7L1207.4,822.8L1208.5,817.1L1209.6,811.5L1210.8,806.5L1211.9,811.5L1213.1,817.1L1214.2,822.7L1215.3,827.7L1216.5,822.7L1217.6,817.1L1218.8,811.4L1219.9,806.4L1221.0,811.4L1222.2,817.1L1223.3,822.7L1224.5,827.7L1225.6,822.7L1226.7,817.0L1227.9,811.4L1229.0,806.4L1230.2,811.4L1231.3,817.0L1232.4,822.7L1233.6,827.7L1234.7,822.7L1235.9,817.0L1237.0,811.3L1238.1,806.3L1239.3,811.3L1240.4,817.0L1241.6,822.7L1242.7,827.7L1243.8,822.7L1245.0,817.0L1246.1,811.3L1247.3,806.2L1248.4,811.3L1249.5,817.0L1250.7,822.7L1251.8,827.7L1253.0,822.7L1254.1,816.9L1255.2,811.2L1256.4,806.2L1257.5,811.2L1258.7,816.9L1259.8,822.6L1260.9,827.7L1262.1,822.6L1263.2,816.9L1264.4,811.2L1265.5,806.1L1266.6,811.2L1267.8,816.9L1268.9,822.6L1270.1,827.7L1271.2,822.6L1272.3,816.9L1273.5,811.1L1274.6,806.0L1275.8,811.1L1276.9,816.9L1278.0,822.6L1279.2,827.7L1280.3,822.5L1281.5,816.6L1282.6,810.6L1283.7,805.3L1284.9,810.2L1286.0,815.7L1287.2,821.3L1288.3,826.2L1289.4,820.9L1290.6,814.9L1291.7,808.9L1292.9,803.6L1294.0,808.5L1295.1,814.1L1296.3,819.7L1297.4,824.6L1298.6,819.3L1299.7,813.3L1300.8,807.3L1302.0,801.9L1303.1,806.9L1304.3,812.5L1305.4,818.1L1306.5,823.0L1307.7,817.7L1308.8,811.6L1310.0,805.6L1311.1,800.3L1312.2,805.2L1313.4,810.8L1314.5,816.4L1315.7,821.4L1316.8,816.0L1317.9,810.0L1319.1,804.0L1320.2,798.2L1321.4,802.8L1322.5,808.3L1323.6,814.0L1324.8,819.1L1325.9,813.2L1327.1,806.4L1328.2,799.3L1329.3,792.9L1330.5,798.4L1331.6,805.0L1332.8,811.6L1333.9,817.5L1335.0,811.5L1336.2,804.6L1337.3,797.6L1338.5,791.4L1339.6,797.4L1340.7,804.3L1341.9,811.2L1343.0,817.3L1344.2,811.1L1345.3,803.9L1346.4,796.7L1347.6,790.2L1348.7,796.4L1349.9,803.6L1351.0,810.7L1352.1,817.1L1353.3,810.6L1354.4,803.2L1355.6,795.7L1356.7,789.0L1357.8,795.5L1359.0,802.9L1360.1,810.3L1361.3,816.9L1362.4,810.2L1363.5,802.5L1364.7,794.7L1365.8,787.8L1367.0,794.5L1368.1,802.2L1369.2,809.9L1370.4,816.7L1371.5,809.7L1372.7,801.7L1373.8,793.6L1374.9,786.4L1376.1,793.2L1377.2,801.1L1378.4,809.0L1379.5,816.0L1380.6,808.8L1381.8,800.5L1382.9,792.1L1384.1,784.6L1385.2,791.7L1386.3,799.8L1387.5,808.0L1388.6,815.3L1389.8,807.8L1390.9,799.2L1392.0,790.6L1393.2,782.9L1394.3,790.2L1395.5,798.6L1396.6,807.0L1397.7,814.5L1398.9,806.8L1400.0,797.9L1401.2,789.1L1402.3,781.1L1403.4,788.7L1404.6,797.3L1405.7,806.0L1406.9,813.8L1408.0,805.8L1409.1,796.7L1410.3,787.5L1411.4,779.4L1412.6,787.2L1413.7,796.1L1414.8,805.0L1416.0,813.0L1417.1,804.7L1418.3,795.2L1419.4,785.6L1420.5,777.0L1421.7,784.9L1422.8,793.9L1424.0,802.9L1425.1,810.9L1426.2,802.3L1427.4,792.5L1428.5,782.7L1429.7,773.9L1430.8,781.9L1431.9,791.2L1433.1,800.5L1434.2,808.8L1435.4,799.9L1436.5,789.9L1437.6,779.7L1438.8,770.7L1439.9,779.0L1441.1,788.5L1442.2,798.1L1443.3,806.6L1444.5,797.5L1445.6,787.2L1446.8,776.8L1447.9,767.5L1449.0,776.1L1450.2,785.8L1451.3,795.7L1452.5,804.4L1453.6,795.1L1454.7,784.5L1455.9,773.9L1457.0,764.4L1458.2,773.1L1459.3,783.2L1460.4,793.5L1461.6,802.6L1462.7,793.4L1463.9,783.3L1465.0,773.3L1466.1,764.6L1467.3,773.6L1468.4,783.5L1469.6,793.3L1470.7,801.8L1471.8,793.3L1473.0,783.7L1474.1,774.4L1475.3,766.3L1476.4,774.6L1477.5,784.0L1478.7,793.1L1479.8,801.1L1481.0,793.1L1482.1,784.2L1483.2,775.5L1484.4,767.9L1485.5,775.7L1486.7,784.4L1487.8,792.9L1488.9,800.3L1490.1,792.9L1491.2,784.6L1492.4,776.5L1493.5,769.5L1494.6,776.8L1495.8,784.9L1496.9,792.8L1498.1,799.6L1499.2,792.7L1500.3,785.1L1501.5,777.6L1502.6,771.2L1503.8,777.9L1504.9,785.3L1506.0,792.6L1507.2,798.8L1508.3,792.5L1509.5,785.5L1510.6,778.7L1511.7,772.7L1512.9,778.9L1514.0,785.8L1515.2,792.6L1516.3,798.4L1517.4,792.6L1518.6,786.1L1519.7,779.7L1520.9,774.1L1522.0,779.9L1523.1,786.3L1524.3,792.6L1525.4,798.0L1526.6,792.6L1527.7,786.6L1528.8,780.7L1530.0,775.6L1531.1,780.9L1532.3,786.8L1533.4,792.6L1534.5,797.6L1535.7,792.6L1536.8,787.1L1538.0,781.7L1539.1,777.0L1540.2,781.9L1541.4,787.4L1542.5,792.7L1543.7,797.3L1544.8,792.7L1545.9,787.6L1547.1,782.7L1548.2,778.5L1549.4,782.9L1550.5,787.9L1551.6,792.7L1552.8,796.9L1553.9,792.7L1555.1,788.2L1556.2,783.7L1557.3,779.9L1558.5,784.0L1559.6,788.4L1560.8,792.7L1561.9,796.5L1563.0,792.8L1564.2,788.6L1564.4,787.6" fill="none" stroke="#4d4d4d" stroke-width="3.8" stroke-linejoin="round"/>
</g>
<line x1="1319.5" y1="740.7" x2="1319.5" y2="897.7" stroke="#c59fe0" stroke-width="12" stroke-dasharray="12.5 11.5"/>
<line x1="1488.3" y1="740.7" x2="1488.3" y2="897.7" stroke="#c59fe0" stroke-width="12"/>
<line x1="869.5" y1="740.7" x2="1563.0" y2="740.7" stroke="#262626" stroke-width="2" />
<line x1="869.5" y1="739.7" x2="869.5" y2="898.7" stroke="#262626" stroke-width="2" />
<line x1="869.5" y1="897.7" x2="876.5" y2="897.7" stroke="#262626" stroke-width="2" />
<line x1="1143.0" y1="740.7" x2="1143.0" y2="747.7" stroke="#262626" stroke-width="2" />
<line x1="1426.0" y1="740.7" x2="1426.0" y2="747.7" stroke="#262626" stroke-width="2" />
<text x="806.9" y="752.5" font-size="31.4" fill="#262626" text-anchor="start" >1.12</text>
<text x="806.7" y="830.8" font-size="31.4" fill="#262626" text-anchor="start" >0.00</text>
<text x="796.4" y="909.7" font-size="31.4" fill="#262626" text-anchor="start" >-1.12</text>
<text x="889.3" y="886.7" font-size="38.6" fill="#000" text-anchor="start" >L5</text>
<clipPath id="cp4"><rect x="869.5" y="925.8" width="693.5" height="157"/></clipPath>
<g clip-path="url(#cp4)">
<path d="M869.5,1004.3L869.5,1004.3L869.8,1004.3L870.7,993.9L871.6,979.4L872.3,965.4L873.0,952.5L873.6,965.4L874.3,979.4L875.2,993.9L876.2,1004.3L877.5,1004.3L878.9,1004.3L879.8,996.3L880.7,985.1L881.4,974.3L882.1,964.3L882.7,974.3L883.5,985.1L884.4,996.3L885.3,1004.3L886.6,1004.3L888.0,1004.3L888.9,995.4L889.8,982.8L890.6,970.7L891.2,959.6L891.8,970.7L892.6,982.8L893.5,995.4L894.4,1004.3L895.8,1004.3L897.1,1004.3L898.0,995.8L899.0,984.0L899.7,972.5L900.3,961.9L901.0,972.5L901.7,984.0L902.6,995.8L903.5,1004.3L904.9,1004.3L906.3,1004.3L907.2,993.8L908.1,979.1L908.8,964.9L909.4,951.7L910.1,964.9L910.8,979.1L911.7,993.8L912.6,1004.3L914.0,1004.3L915.4,1004.3L916.3,995.2L917.2,982.4L917.9,970.2L918.6,958.8L919.2,970.2L919.9,982.4L920.8,995.2L921.8,1004.3L923.1,1004.3L924.5,1004.3L925.4,993.6L926.3,978.7L927.0,964.3L927.7,950.9L928.3,964.3L929.1,978.7L930.0,993.6L930.9,1004.3L932.2,1004.3L933.6,1003.8L934.5,992.9L935.4,979.1L936.2,966.6L936.8,955.6L937.4,966.0L938.2,976.6L939.1,987.0L940.0,994.6L941.4,994.4L942.7,994.1L943.6,985.3L944.6,973.2L945.3,961.6L945.9,950.9L946.6,961.5L947.3,972.9L948.2,984.6L949.1,992.8L950.5,992.5L951.9,992.2L952.8,982.7L953.7,969.6L954.4,957.0L955.0,945.4L955.7,956.9L956.4,969.3L957.3,982.0L958.2,990.9L959.6,990.7L961.0,990.4L961.9,980.2L962.8,966.0L963.5,952.4L964.2,939.9L964.8,952.4L965.5,965.7L966.4,979.4L967.4,989.1L968.7,988.8L970.1,988.6L971.0,980.0L971.9,967.9L972.6,956.2L973.3,945.4L973.9,956.2L974.7,967.9L975.6,979.9L976.5,988.6L977.8,988.5L979.2,988.5L980.1,977.0L981.0,960.9L981.8,945.3L982.4,930.9L983.0,945.3L983.8,960.9L984.7,977.0L985.6,988.5L987.0,988.5L988.3,988.5L989.2,979.0L990.2,965.7L990.9,952.9L991.5,941.1L992.2,952.9L992.9,965.7L993.8,979.0L994.7,988.4L996.1,988.4L997.5,988.4L998.4,979.8L999.3,967.8L1000.0,956.2L1000.6,945.4L1001.3,956.2L1002.0,967.8L1002.9,979.8L1003.8,988.4L1005.2,988.4L1006.6,988.4L1007.5,979.7L1008.4,967.6L1009.1,955.9L1009.8,945.0L1010.4,955.9L1011.1,967.6L1012.0,979.7L1013.0,988.3L1014.3,988.3L1015.7,988.3L1016.6,978.8L1017.5,965.4L1018.2,952.5L1018.9,940.6L1019.5,952.5L1020.3,965.4L1021.2,978.7L1022.1,988.3L1023.4,988.2L1024.8,988.2L1025.7,978.8L1026.6,965.6L1027.4,952.8L1028.0,941.0L1028.6,952.8L1029.4,965.6L1030.3,978.8L1031.2,988.2L1032.6,988.2L1033.9,988.2L1034.8,979.3L1035.8,966.9L1036.5,955.0L1037.1,943.9L1037.8,955.0L1038.5,966.9L1039.4,979.3L1040.3,988.1L1041.7,988.1L1043.1,988.1L1044.0,979.4L1044.9,967.1L1045.6,955.3L1046.2,944.3L1046.9,955.3L1047.6,967.1L1048.5,979.3L1049.4,988.1L1050.8,988.1L1052.2,988.1L1053.1,979.9L1054.0,968.5L1054.7,957.4L1055.4,947.2L1056.0,957.4L1056.7,968.5L1057.6,979.9L1058.6,988.0L1059.9,988.0L1061.3,988.0L1062.2,979.4L1063.1,967.5L1063.8,955.9L1064.5,945.2L1065.1,955.9L1065.9,967.4L1066.8,979.4L1067.7,988.0L1069.0,987.9L1070.4,987.9L1071.3,978.8L1072.2,966.0L1073.0,953.7L1073.6,942.3L1074.2,953.7L1075.0,966.0L1075.9,978.8L1076.8,987.9L1078.2,987.9L1079.5,987.9L1080.4,978.9L1081.4,966.2L1082.1,954.1L1082.7,942.8L1083.4,954.1L1084.1,966.2L1085.0,978.8L1085.9,987.8L1087.3,987.8L1088.7,987.9L1089.6,981.3L1090.5,971.7L1091.2,962.3L1091.8,953.4L1092.5,962.4L1093.2,972.2L1094.1,982.5L1095.0,990.1L1096.4,990.6L1097.8,991.0L1098.7,984.5L1099.6,975.4L1100.3,966.7L1101.0,958.6L1101.6,966.7L1102.3,975.4L1103.2,984.5L1104.2,990.9L1105.5,990.9L1106.9,990.9L1107.8,984.8L1108.7,976.1L1109.4,967.8L1110.1,960.1L1110.7,967.8L1111.5,976.1L1112.4,984.7L1113.3,990.9L1114.6,990.9L1116.0,990.9L1116.9,984.7L1117.8,976.0L1118.6,967.7L1119.2,959.9L1119.8,967.7L1120.6,976.0L1121.5,984.7L1122.4,990.8L1123.8,990.8L1125.1,990.8L1126.0,983.9L1127.0,974.2L1127.7,964.8L1128.3,956.1L1129.0,964.8L1129.7,974.2L1130.6,983.9L1131.5,990.8L1132.9,990.8L1134.3,990.8L1135.2,985.2L1136.1,977.3L1136.8,969.7L1137.4,962.6L1138.1,969.7L1138.8,977.3L1139.7,985.1L1140.6,990.8L1142.0,990.8L1143.4,990.8L1144.3,985.4L1145.2,977.8L1145.9,970.5L1146.6,963.8L1147.2,970.5L1147.9,977.8L1148.8,985.3L1149.8,990.7L1151.1,990.7L1152.5,990.7L1153.4,985.3L1154.3,977.7L1155.0,970.4L1155.7,963.6L1156.3,970.4L1157.1,977.7L1158.0,985.3L1158.9,990.7L1160.2,990.7L1161.6,990.7L1162.5,984.0L1163.4,974.5L1164.2,965.5L1164.8,957.1L1165.4,965.5L1166.2,974.5L1167.1,983.9L1168.0,990.7L1169.4,990.6L1170.7,990.6L1171.6,983.5L1172.6,973.5L1173.3,963.9L1173.9,955.0L1174.6,963.9L1175.3,973.5L1176.2,983.5L1177.1,990.6L1178.5,990.6L1179.9,990.6L1180.8,984.4L1181.7,975.6L1182.4,967.2L1183.0,959.4L1183.7,967.2L1184.4,975.6L1185.3,984.3L1186.2,990.6L1187.6,990.6L1189.0,990.6L1189.9,984.5L1190.8,975.9L1191.5,967.7L1192.2,960.1L1192.8,967.7L1193.5,975.9L1194.4,984.4L1195.4,990.5L1196.7,990.5L1198.1,990.5L1199.0,984.0L1199.9,974.9L1200.6,966.2L1201.3,958.0L1201.9,966.2L1202.7,974.9L1203.6,984.0L1204.5,990.5L1205.8,990.5L1207.2,990.5L1208.1,984.6L1209.0,976.4L1209.8,968.4L1210.4,961.1L1211.0,968.4L1211.8,976.4L1212.7,984.6L1213.6,990.5L1215.0,990.4L1216.3,990.4L1217.2,984.2L1218.2,975.6L1218.9,967.2L1219.5,959.5L1220.2,967.2L1220.9,975.6L1221.8,984.2L1222.7,990.4L1224.1,990.4L1225.5,990.4L1226.4,983.1L1227.3,972.8L1228.0,962.8L1228.6,953.7L1229.3,962.8L1230.0,972.8L1230.9,983.0L1231.8,990.4L1233.2,990.4L1234.6,990.4L1235.5,982.4L1236.4,971.3L1237.1,960.5L1237.8,950.6L1238.4,960.5L1239.1,971.3L1240.0,982.4L1241.0,990.3L1242.3,990.3L1243.7,990.3L1244.6,983.3L1245.5,973.4L1246.2,963.9L1246.9,955.1L1247.5,963.9L1248.3,973.4L1249.2,983.3L1250.1,990.3L1251.4,990.3L1252.8,990.3L1253.7,982.4L1254.6,971.3L1255.4,960.6L1256.0,950.7L1256.6,960.6L1257.4,971.3L1258.3,982.4L1259.2,990.3L1260.6,990.3L1261.9,990.2L1262.8,982.5L1263.8,971.6L1264.5,961.2L1265.1,951.5L1265.8,961.2L1266.5,971.6L1267.4,982.5L1268.3,990.2L1269.7,990.2L1271.1,990.2L1272.0,981.8L1272.9,970.1L1273.6,958.7L1274.2,948.3L1274.9,958.7L1275.6,970.1L1276.5,981.8L1277.4,990.2L1278.8,990.2L1280.2,990.1L1281.1,980.9L1282.0,968.1L1282.7,955.9L1283.4,944.7L1284.0,955.9L1284.7,967.8L1285.6,980.2L1286.6,988.8L1287.9,988.6L1289.3,988.3L1290.2,978.9L1291.1,965.9L1291.8,953.5L1292.5,942.1L1293.1,953.5L1293.9,965.7L1294.8,978.2L1295.7,987.0L1297.0,986.7L1298.4,986.5L1299.3,976.2L1300.2,962.0L1301.0,948.4L1301.6,935.9L1302.2,948.3L1303.0,961.7L1303.9,975.5L1304.8,985.2L1306.2,984.9L1307.5,984.7L1308.4,973.1L1309.4,956.8L1310.1,941.1L1310.7,926.6L1311.4,941.1L1312.1,956.8L1313.0,973.1L1313.9,984.7L1315.3,984.7L1316.7,984.7L1317.6,972.9L1318.5,956.4L1319.2,940.5L1319.8,925.8L1320.5,940.5L1321.2,956.4L1322.1,972.9L1323.0,984.7L1324.3,984.7L1324.3,1004.3Z" fill="#ff800e"/>
<path d="M869.5,1004.3L869.5,1005.9L869.8,1005.9L870.7,1013.6L871.6,1024.3L872.3,1034.7L873.0,1044.3L873.6,1034.7L874.3,1024.3L875.2,1013.6L876.2,1005.9L877.5,1005.9L878.9,1005.9L879.8,1011.5L880.7,1019.5L881.4,1027.1L882.1,1034.2L882.7,1027.1L883.5,1019.5L884.4,1011.5L885.3,1005.9L886.6,1005.9L888.0,1005.9L888.9,1012.3L889.8,1021.4L890.6,1030.1L891.2,1038.2L891.8,1030.1L892.6,1021.4L893.5,1012.3L894.4,1005.9L895.8,1005.9L897.1,1005.9L898.0,1011.4L899.0,1019.1L899.7,1026.6L900.3,1033.5L901.0,1026.6L901.7,1019.1L902.6,1011.4L903.5,1005.9L904.9,1005.9L906.3,1005.9L907.2,1012.5L908.1,1021.8L908.8,1030.8L909.4,1039.1L910.1,1030.8L910.8,1021.8L911.7,1012.5L912.6,1005.9L914.0,1005.9L915.4,1005.9L916.3,1012.4L917.2,1021.5L917.9,1030.3L918.6,1038.4L919.2,1030.3L919.9,1021.5L920.8,1012.4L921.8,1005.9L923.1,1005.9L924.5,1005.9L925.4,1013.3L926.3,1023.8L927.0,1033.9L927.7,1043.2L928.3,1033.9L929.1,1023.8L930.0,1013.3L930.9,1005.9L932.2,1005.9L933.6,1006.7L934.5,1016.1L935.4,1027.0L936.2,1036.0L936.8,1043.3L937.4,1036.9L938.2,1031.1L939.1,1025.9L940.0,1021.7L941.4,1021.8L942.7,1022.0L943.6,1026.8L944.6,1033.5L945.3,1039.9L945.9,1045.8L946.6,1039.9L947.3,1033.6L948.2,1027.2L949.1,1022.6L950.5,1022.7L951.9,1022.8L952.8,1028.3L953.7,1035.9L954.4,1043.2L955.0,1049.9L955.7,1043.2L956.4,1036.1L957.3,1028.7L958.2,1023.5L959.6,1023.6L961.0,1023.7L961.9,1030.2L962.8,1039.1L963.5,1047.7L964.2,1055.6L964.8,1047.7L965.5,1039.3L966.4,1030.5L967.4,1024.4L968.7,1024.5L970.1,1024.6L971.0,1030.3L971.9,1038.1L972.6,1045.6L973.3,1052.5L973.9,1045.6L974.7,1038.2L975.6,1030.6L976.5,1025.3L977.8,1025.4L979.2,1025.5L980.1,1033.2L981.0,1043.9L981.8,1054.3L982.4,1063.8L983.0,1054.3L983.8,1043.9L984.7,1033.2L985.6,1025.5L987.0,1025.5L988.3,1025.5L989.2,1030.9L990.2,1038.5L990.9,1045.9L991.5,1052.7L992.2,1045.9L992.9,1038.5L993.8,1030.9L994.7,1025.5L996.1,1025.5L997.5,1025.5L998.4,1030.8L999.3,1038.2L1000.0,1045.3L1000.6,1052.0L1001.3,1045.3L1002.0,1038.2L1002.9,1030.8L1003.8,1025.5L1005.2,1025.5L1006.6,1025.5L1007.5,1031.6L1008.4,1040.2L1009.1,1048.5L1009.8,1056.1L1010.4,1048.5L1011.1,1040.2L1012.0,1031.6L1013.0,1025.5L1014.3,1025.5L1015.7,1025.5L1016.6,1032.5L1017.5,1042.2L1018.2,1051.6L1018.9,1060.3L1019.5,1051.6L1020.3,1042.2L1021.2,1032.5L1022.1,1025.5L1023.4,1025.5L1024.8,1025.5L1025.7,1031.0L1026.6,1038.7L1027.4,1046.2L1028.0,1053.1L1028.6,1046.2L1029.4,1038.7L1030.3,1031.0L1031.2,1025.5L1032.6,1025.5L1033.9,1025.5L1034.8,1031.4L1035.8,1039.6L1036.5,1047.5L1037.1,1054.8L1037.8,1047.5L1038.5,1039.6L1039.4,1031.4L1040.3,1025.5L1041.7,1025.5L1043.1,1025.5L1044.0,1030.6L1044.9,1037.6L1045.6,1044.5L1046.2,1050.8L1046.9,1044.5L1047.6,1037.6L1048.5,1030.6L1049.4,1025.5L1050.8,1025.5L1052.2,1025.5L1053.1,1031.1L1054.0,1038.9L1054.7,1046.4L1055.4,1053.4L1056.0,1046.4L1056.7,1038.9L1057.6,1031.1L1058.6,1025.5L1059.9,1025.5L1061.3,1025.5L1062.2,1030.6L1063.1,1037.7L1063.8,1044.6L1064.5,1051.0L1065.1,1044.6L1065.9,1037.7L1066.8,1030.6L1067.7,1025.5L1069.0,1025.5L1070.4,1025.5L1071.3,1030.5L1072.2,1037.4L1073.0,1044.1L1073.6,1050.3L1074.2,1044.1L1075.0,1037.4L1075.9,1030.5L1076.8,1025.5L1078.2,1025.5L1079.5,1025.5L1080.4,1031.1L1081.4,1039.0L1082.1,1046.6L1082.7,1053.7L1083.4,1046.6L1084.1,1039.0L1085.0,1031.1L1085.9,1025.5L1087.3,1025.5L1088.7,1025.4L1089.6,1029.1L1090.5,1034.4L1091.2,1039.7L1091.8,1044.7L1092.5,1039.6L1093.2,1034.1L1094.1,1028.1L1095.0,1023.8L1096.4,1023.4L1097.8,1023.1L1098.7,1026.8L1099.6,1032.0L1100.3,1037.0L1101.0,1041.6L1101.6,1037.0L1102.3,1032.0L1103.2,1026.9L1104.2,1023.2L1105.5,1023.3L1106.9,1023.3L1107.8,1027.2L1108.7,1032.6L1109.4,1037.8L1110.1,1042.7L1110.7,1037.8L1111.5,1032.6L1112.4,1027.2L1113.3,1023.4L1114.6,1023.4L1116.0,1023.4L1116.9,1026.7L1117.8,1031.3L1118.6,1035.7L1119.2,1039.8L1119.8,1035.7L1120.6,1031.3L1121.5,1026.7L1122.4,1023.5L1123.8,1023.5L1125.1,1023.5L1126.0,1027.2L1127.0,1032.4L1127.7,1037.3L1128.3,1041.9L1129.0,1037.3L1129.7,1032.4L1130.6,1027.3L1131.5,1023.6L1132.9,1023.6L1134.3,1023.6L1135.2,1026.3L1136.1,1030.1L1136.8,1033.7L1137.4,1037.1L1138.1,1033.7L1138.8,1030.1L1139.7,1026.4L1140.6,1023.7L1142.0,1023.8L1143.4,1023.8L1144.3,1026.3L1145.2,1029.7L1145.9,1033.1L1146.6,1036.2L1147.2,1033.1L1147.9,1029.8L1148.8,1026.3L1149.8,1023.9L1151.1,1023.9L1152.5,1023.9L1153.4,1027.2L1154.3,1031.8L1155.0,1036.2L1155.7,1040.2L1156.3,1036.2L1157.1,1031.8L1158.0,1027.2L1158.9,1024.0L1160.2,1024.0L1161.6,1024.0L1162.5,1027.7L1163.4,1032.8L1164.2,1037.8L1164.8,1042.4L1165.4,1037.8L1166.2,1032.9L1167.1,1027.8L1168.0,1024.1L1169.4,1024.1L1170.7,1024.2L1171.6,1027.4L1172.6,1032.0L1173.3,1036.4L1173.9,1040.5L1174.6,1036.4L1175.3,1032.0L1176.2,1027.5L1177.1,1024.2L1178.5,1024.3L1179.9,1024.3L1180.8,1028.1L1181.7,1033.6L1182.4,1038.8L1183.0,1043.6L1183.7,1038.8L1184.4,1033.6L1185.3,1028.2L1186.2,1024.4L1187.6,1024.4L1189.0,1024.4L1189.9,1027.3L1190.8,1031.3L1191.5,1035.1L1192.2,1038.6L1192.8,1035.1L1193.5,1031.3L1194.4,1027.3L1195.4,1024.5L1196.7,1024.5L1198.1,1024.5L1199.0,1027.2L1199.9,1030.9L1200.6,1034.4L1201.3,1037.7L1201.9,1034.4L1202.7,1030.9L1203.6,1027.2L1204.5,1024.6L1205.8,1024.6L1207.2,1024.7L1208.1,1027.1L1209.0,1030.5L1209.8,1033.8L1210.4,1036.8L1211.0,1033.8L1211.8,1030.5L1212.7,1027.1L1213.6,1024.7L1215.0,1024.8L1216.3,1024.8L1217.2,1026.8L1218.2,1029.6L1218.9,1032.4L1219.5,1034.9L1220.2,1032.4L1220.9,1029.7L1221.8,1026.9L1222.7,1024.9L1224.1,1024.9L1225.5,1024.9L1226.4,1027.3L1227.3,1030.7L1228.0,1034.0L1228.6,1037.0L1229.3,1034.0L1230.0,1030.7L1230.9,1027.4L1231.8,1025.0L1233.2,1025.0L1234.6,1025.0L1235.5,1028.5L1236.4,1033.3L1237.1,1037.9L1237.8,1042.2L1238.4,1037.9L1239.1,1033.3L1240.0,1028.5L1241.0,1025.1L1242.3,1025.1L1243.7,1025.2L1244.6,1027.6L1245.5,1030.9L1246.2,1034.2L1246.9,1037.2L1247.5,1034.2L1248.3,1031.0L1249.2,1027.6L1250.1,1025.2L1251.4,1025.3L1252.8,1025.3L1253.7,1028.1L1254.6,1032.0L1255.4,1035.8L1256.0,1039.3L1256.6,1035.8L1257.4,1032.1L1258.3,1028.2L1259.2,1025.4L1260.6,1025.4L1261.9,1025.4L1262.8,1029.3L1263.8,1034.6L1264.5,1039.8L1265.1,1044.6L1265.8,1039.8L1266.5,1034.7L1267.4,1029.3L1268.3,1025.5L1269.7,1025.5L1271.1,1025.5L1272.0,1028.1L1272.9,1031.8L1273.6,1035.3L1274.2,1038.5L1274.9,1035.3L1275.6,1031.8L1276.5,1028.2L1277.4,1025.6L1278.8,1025.6L1280.2,1025.7L1281.1,1031.1L1282.0,1038.7L1282.7,1046.0L1283.4,1052.8L1284.0,1046.0L1284.7,1038.7L1285.6,1031.1L1286.6,1025.8L1287.9,1025.8L1289.3,1025.8L1290.2,1030.9L1291.1,1038.0L1291.8,1044.9L1292.5,1051.2L1293.1,1044.9L1293.9,1038.0L1294.8,1030.9L1295.7,1025.9L1297.0,1025.9L1298.4,1025.9L1299.3,1031.8L1300.2,1040.1L1301.0,1048.0L1301.6,1055.4L1302.2,1048.0L1303.0,1040.1L1303.9,1031.9L1304.8,1026.0L1306.2,1026.0L1307.5,1026.0L1308.4,1033.5L1309.4,1043.9L1310.1,1053.9L1310.7,1063.2L1311.4,1053.9L1312.1,1043.9L1313.0,1033.5L1313.9,1026.1L1315.3,1026.2L1316.7,1026.2L1317.6,1033.8L1318.5,1044.5L1319.2,1054.8L1319.8,1064.4L1320.5,1054.8L1321.2,1044.5L1322.1,1033.9L1323.0,1026.3L1324.3,1026.3L1324.3,1004.3Z" fill="#7fcdbb"/>
<path d="M869.5,1010.2L869.9,1008.5L871.1,1003.5L872.2,998.5L873.3,994.1L874.5,998.5L875.6,1003.5L876.8,1008.5L877.9,1012.9L879.0,1008.5L880.2,1003.5L881.3,998.5L882.5,994.0L883.6,998.5L884.7,1003.5L885.9,1008.5L887.0,1012.9L888.2,1008.4L889.3,1003.4L890.4,998.4L891.6,994.0L892.7,998.4L893.9,1003.4L895.0,1008.4L896.1,1012.8L897.3,1008.4L898.4,1003.4L899.6,998.4L900.7,994.0L901.8,998.4L903.0,1003.4L904.1,1008.4L905.3,1012.8L906.4,1008.4L907.5,1003.4L908.7,998.4L909.8,993.9L911.0,998.4L912.1,1003.4L913.2,1008.4L914.4,1012.8L915.5,1008.3L916.7,1003.3L917.8,998.3L918.9,993.9L920.1,998.3L921.2,1003.3L922.4,1008.3L923.5,1012.7L924.6,1008.3L925.8,1003.3L926.9,998.3L928.1,993.9L929.2,998.3L930.3,1003.3L931.5,1008.3L932.6,1012.7L933.8,1008.3L934.9,1003.3L936.0,998.3L937.2,993.8L938.3,998.2L939.5,1003.2L940.6,1008.2L941.7,1012.7L942.9,1008.2L944.0,1003.2L945.2,998.2L946.3,993.8L947.4,998.2L948.6,1003.2L949.7,1008.2L950.9,1012.6L952.0,1008.2L953.1,1003.2L954.3,998.2L955.4,993.8L956.6,998.2L957.7,1003.2L958.8,1008.2L960.0,1012.6L961.1,1008.2L962.3,1003.2L963.4,998.2L964.5,993.7L965.7,998.1L966.8,1003.1L968.0,1008.1L969.1,1012.6L970.2,1008.1L971.4,1003.1L972.5,998.1L973.7,993.7L974.8,998.1L975.9,1003.1L977.1,1008.1L978.2,1012.5L979.4,1008.1L980.5,1003.1L981.6,998.1L982.8,993.7L983.9,998.1L985.1,1003.1L986.2,1008.1L987.3,1012.5L988.5,1008.1L989.6,1003.1L990.8,998.0L991.9,993.6L993.0,998.0L994.2,1003.0L995.3,1008.0L996.5,1012.4L997.6,1008.0L998.7,1003.0L999.9,998.0L1001.0,993.6L1002.2,998.0L1003.3,1003.0L1004.4,1008.0L1005.6,1012.4L1006.7,1008.0L1007.9,1003.0L1009.0,998.0L1010.1,993.6L1011.3,998.0L1012.4,1003.0L1013.6,1008.0L1014.7,1012.4L1015.8,1008.0L1017.0,1003.0L1018.1,997.9L1019.3,993.5L1020.4,997.9L1021.5,1002.9L1022.7,1007.9L1023.8,1012.3L1025.0,1007.9L1026.1,1002.9L1027.2,997.9L1028.4,993.5L1029.5,997.9L1030.7,1002.9L1031.8,1007.9L1032.9,1012.3L1034.1,1007.9L1035.2,1002.9L1036.4,997.9L1037.5,993.5L1038.6,997.9L1039.8,1002.9L1040.9,1007.9L1042.1,1012.3L1043.2,1007.9L1044.3,1002.8L1045.5,997.8L1046.6,993.4L1047.8,997.8L1048.9,1002.8L1050.0,1007.8L1051.2,1012.2L1052.3,1007.8L1053.5,1002.8L1054.6,997.8L1055.7,993.4L1056.9,997.8L1058.0,1002.8L1059.2,1007.8L1060.3,1012.2L1061.4,1007.8L1062.6,1002.8L1063.7,997.8L1064.9,993.3L1066.0,997.8L1067.1,1002.8L1068.3,1007.8L1069.4,1012.2L1070.6,1007.7L1071.7,1002.7L1072.8,997.7L1074.0,993.3L1075.1,997.7L1076.3,1002.7L1077.4,1007.7L1078.5,1012.1L1079.7,1007.7L1080.8,1002.7L1082.0,997.7L1083.1,993.3L1084.2,997.7L1085.4,1002.7L1086.5,1007.7L1087.7,1012.1L1088.8,1007.7L1089.9,1002.7L1091.1,997.7L1092.2,993.2L1093.4,997.7L1094.5,1002.7L1095.6,1007.7L1096.8,1012.1L1097.9,1007.6L1099.1,1002.6L1100.2,997.6L1101.3,993.2L1102.5,997.6L1103.6,1002.6L1104.8,1007.6L1105.9,1012.0L1107.0,1007.6L1108.2,1002.6L1109.3,997.6L1110.5,993.2L1111.6,997.6L1112.7,1002.6L1113.9,1007.6L1115.0,1012.0L1116.2,1007.6L1117.3,1002.6L1118.4,997.6L1119.6,993.1L1120.7,997.6L1121.9,1002.5L1123.0,1007.5L1124.1,1012.0L1125.3,1007.5L1126.4,1002.5L1127.6,997.5L1128.7,993.1L1129.8,997.5L1131.0,1002.5L1132.1,1007.5L1133.3,1011.9L1134.4,1007.5L1135.5,1002.5L1136.7,997.5L1137.8,993.1L1139.0,997.5L1140.1,1002.5L1141.2,1007.5L1142.4,1011.9L1143.5,1007.5L1144.7,1002.5L1145.8,997.5L1146.9,993.0L1148.1,997.4L1149.2,1002.4L1150.4,1007.4L1151.5,1011.9L1152.6,1007.4L1153.8,1002.4L1154.9,997.4L1156.1,993.0L1157.2,997.4L1158.3,1002.4L1159.5,1007.4L1160.6,1011.8L1161.8,1007.4L1162.9,1002.4L1164.0,997.4L1165.2,993.0L1166.3,997.4L1167.5,1002.4L1168.6,1007.4L1169.7,1011.8L1170.9,1007.4L1172.0,1002.4L1173.2,997.4L1174.3,992.9L1175.4,997.3L1176.6,1002.3L1177.7,1007.3L1178.9,1011.8L1180.0,1007.3L1181.1,1002.3L1182.3,997.3L1183.4,992.9L1184.6,997.3L1185.7,1002.3L1186.8,1007.3L1188.0,1011.7L1189.1,1007.3L1190.3,1002.3L1191.4,997.3L1192.5,992.9L1193.7,997.3L1194.8,1002.3L1196.0,1007.3L1197.1,1011.7L1198.2,1007.3L1199.4,1002.3L1200.5,997.2L1201.7,992.8L1202.8,997.2L1203.9,1002.2L1205.1,1007.2L1206.2,1011.6L1207.4,1007.2L1208.5,1002.2L1209.6,997.2L1210.8,992.8L1211.9,997.2L1213.1,1002.2L1214.2,1007.2L1215.3,1011.6L1216.5,1007.2L1217.6,1002.2L1218.8,997.2L1219.9,992.8L1221.0,997.2L1222.2,1002.2L1223.3,1007.2L1224.5,1011.6L1225.6,1007.2L1226.7,1002.1L1227.9,997.1L1229.0,992.7L1230.2,997.1L1231.3,1002.1L1232.4,1007.1L1233.6,1011.5L1234.7,1007.1L1235.9,1002.1L1237.0,997.1L1238.1,992.7L1239.3,997.1L1240.4,1002.1L1241.6,1007.1L1242.7,1011.5L1243.8,1007.1L1245.0,1002.1L1246.1,997.1L1247.3,992.6L1248.4,997.1L1249.5,1002.1L1250.7,1007.1L1251.8,1011.5L1253.0,1007.1L1254.1,1002.0L1255.2,997.0L1256.4,992.6L1257.5,997.0L1258.7,1002.0L1259.8,1007.0L1260.9,1011.4L1262.1,1007.0L1263.2,1002.0L1264.4,997.0L1265.5,992.6L1266.6,997.0L1267.8,1002.0L1268.9,1007.0L1270.1,1011.4L1271.2,1007.0L1272.3,1002.0L1273.5,997.0L1274.6,992.5L1275.8,997.0L1276.9,1002.0L1278.0,1007.0L1279.2,1011.4L1280.3,1006.9L1281.5,1001.8L1282.6,996.6L1283.7,992.1L1284.9,996.3L1286.0,1001.2L1287.2,1006.1L1288.3,1010.3L1289.4,1005.8L1290.6,1000.6L1291.7,995.5L1292.9,990.9L1294.0,995.2L1295.1,1000.1L1296.3,1004.9L1297.4,1009.2L1298.6,1004.7L1299.7,999.5L1300.8,994.4L1302.0,989.8L1303.1,994.1L1304.3,999.0L1305.4,1003.8L1306.5,1008.1L1307.7,1003.5L1308.8,998.4L1310.0,993.2L1311.1,988.7L1312.2,993.0L1313.4,997.8L1314.5,1002.7L1315.7,1007.0L1316.8,1002.4L1317.9,997.3L1319.1,992.1L1320.2,987.6L1321.4,991.8L1322.5,996.7L1323.6,1001.6L1324.8,1005.7L1325.9,1000.7L1327.1,995.6L1328.2,990.8L1329.3,987.0L1330.5,990.5L1331.6,994.3L1332.8,998.3L1333.9,1001.9L1335.0,998.2L1336.2,993.8L1337.3,989.4L1338.5,985.3L1339.6,989.0L1340.7,993.4L1341.9,997.9L1343.0,1001.9L1344.2,997.8L1345.3,992.9L1346.4,987.9L1347.6,983.3L1348.7,987.5L1349.9,992.4L1351.0,997.4L1352.1,1001.9L1353.3,997.3L1354.4,991.9L1355.6,986.4L1356.7,981.4L1357.8,986.1L1359.0,991.4L1360.1,997.0L1361.3,1001.9L1362.4,996.9L1363.5,991.0L1364.7,985.0L1365.8,979.5L1367.0,984.6L1368.1,990.5L1369.2,996.5L1370.4,1001.9L1371.5,996.4L1372.7,989.9L1373.8,983.3L1374.9,977.3L1376.1,982.8L1377.2,989.0L1378.4,995.4L1379.5,1001.1L1380.6,995.0L1381.8,988.1L1382.9,981.2L1384.1,974.9L1385.2,980.6L1386.3,987.3L1387.5,994.1L1388.6,1000.1L1389.8,993.7L1390.9,986.4L1392.0,979.0L1393.2,972.4L1394.3,978.5L1395.5,985.6L1396.6,992.7L1397.7,999.1L1398.9,992.4L1400.0,984.7L1401.2,976.9L1402.3,969.9L1403.4,976.3L1404.6,983.8L1405.7,991.4L1406.9,998.2L1408.0,991.1L1409.1,983.0L1410.3,974.7L1411.4,967.4L1412.6,974.2L1413.7,982.1L1414.8,990.1L1416.0,997.2L1417.1,989.7L1418.3,981.0L1419.4,972.2L1420.5,964.3L1421.7,971.3L1422.8,979.4L1424.0,987.6L1425.1,994.9L1426.2,986.9L1427.4,977.8L1428.5,968.6L1429.7,960.3L1430.8,967.7L1431.9,976.2L1433.1,984.9L1434.2,992.5L1435.4,984.2L1436.5,974.6L1437.6,965.0L1438.8,956.4L1439.9,964.1L1441.1,973.1L1442.2,982.1L1443.3,990.1L1444.5,981.4L1445.6,971.5L1446.8,961.4L1447.9,952.4L1449.0,960.5L1450.2,969.9L1451.3,979.3L1452.5,987.7L1453.6,978.6L1454.7,968.3L1455.9,957.9L1457.0,948.5L1458.2,957.0L1459.3,966.7L1460.4,976.8L1461.6,985.6L1462.7,976.7L1463.9,966.7L1465.0,956.8L1466.1,948.3L1467.3,957.0L1468.4,966.8L1469.6,976.3L1470.7,984.7L1471.8,976.2L1473.0,966.8L1474.1,957.6L1475.3,949.6L1476.4,957.8L1477.5,966.9L1478.7,975.9L1479.8,983.7L1481.0,975.8L1482.1,967.0L1483.2,958.3L1484.4,950.8L1485.5,958.5L1486.7,967.1L1487.8,975.5L1488.9,982.8L1490.1,975.4L1491.2,967.1L1492.4,959.1L1493.5,952.1L1494.6,959.2L1495.8,967.2L1496.9,975.0L1498.1,981.8L1499.2,974.9L1500.3,967.3L1501.5,959.8L1502.6,953.3L1503.8,960.0L1504.9,967.4L1506.0,974.6L1507.2,980.8L1508.3,974.5L1509.5,967.4L1510.6,960.5L1511.7,954.4L1512.9,960.6L1514.0,967.5L1515.2,974.3L1516.3,980.1L1517.4,974.2L1518.6,967.6L1519.7,961.0L1520.9,955.4L1522.0,961.2L1523.1,967.6L1524.3,974.0L1525.4,979.5L1526.6,973.9L1527.7,967.7L1528.8,961.6L1530.0,956.3L1531.1,961.7L1532.3,967.8L1533.4,973.7L1534.5,978.8L1535.7,973.6L1536.8,967.8L1538.0,962.1L1539.1,957.2L1540.2,962.3L1541.4,967.9L1542.5,973.4L1543.7,978.2L1544.8,973.3L1545.9,968.0L1547.1,962.7L1548.2,958.1L1549.4,962.8L1550.5,968.0L1551.6,973.1L1552.8,977.5L1553.9,973.0L1555.1,968.1L1556.2,963.2L1557.3,959.0L1558.5,963.4L1559.6,968.1L1560.8,972.8L1561.9,976.9L1563.0,972.8L1564.2,968.2L1564.4,967.1" fill="none" stroke="#4d4d4d" stroke-width="3.8" stroke-linejoin="round"/>
</g>
<line x1="1324.3" y1="925.8" x2="1324.3" y2="1082.8" stroke="#c59fe0" stroke-width="12" stroke-dasharray="12.5 11.5"/>
<line x1="1495.5" y1="925.8" x2="1495.5" y2="1082.8" stroke="#c59fe0" stroke-width="12"/>
<line x1="869.5" y1="925.8" x2="1563.0" y2="925.8" stroke="#262626" stroke-width="2" />
<line x1="869.5" y1="924.8" x2="869.5" y2="1083.8" stroke="#262626" stroke-width="2" />
<line x1="869.5" y1="1082.8" x2="876.5" y2="1082.8" stroke="#262626" stroke-width="2" />
<line x1="1143.0" y1="925.8" x2="1143.0" y2="932.8" stroke="#262626" stroke-width="2" />
<line x1="1426.0" y1="925.8" x2="1426.0" y2="932.8" stroke="#262626" stroke-width="2" />
<text x="807.2" y="937.6" font-size="31.4" fill="#262626" text-anchor="start" >0.91</text>
<text x="806.7" y="1015.9" font-size="31.4" fill="#262626" text-anchor="start" >0.00</text>
<text x="796.7" y="1094.8" font-size="31.4" fill="#262626" text-anchor="start" >-0.91</text>
<text x="889.3" y="1071.8" font-size="38.6" fill="#000" text-anchor="start" >L6</text>
<clipPath id="cp5"><rect x="869.5" y="1110.9" width="693.5" height="157"/></clipPath>
<g clip-path="url(#cp5)">
<path d="M869.5,1189.4L869.5,1189.4L869.8,1189.4L870.7,1179.0L871.6,1164.5L872.3,1150.5L873.0,1137.6L873.6,1150.5L874.3,1164.5L875.2,1179.0L876.2,1189.4L877.5,1189.4L878.9,1189.4L879.8,1181.4L880.7,1170.2L881.4,1159.4L882.1,1149.4L882.7,1159.4L883.5,1170.2L884.4,1181.4L885.3,1189.4L886.6,1189.4L888.0,1189.4L888.9,1180.5L889.8,1167.9L890.6,1155.8L891.2,1144.7L891.8,1155.8L892.6,1167.9L893.5,1180.5L894.4,1189.4L895.8,1189.4L897.1,1189.4L898.0,1180.9L899.0,1169.1L899.7,1157.6L900.3,1147.0L901.0,1157.6L901.7,1169.1L902.6,1180.9L903.5,1189.4L904.9,1189.4L906.3,1189.4L907.2,1178.9L908.1,1164.2L908.8,1150.0L909.4,1136.8L910.1,1150.0L910.8,1164.2L911.7,1178.9L912.6,1189.4L914.0,1189.4L915.4,1189.4L916.3,1180.3L917.2,1167.5L917.9,1155.3L918.6,1143.9L919.2,1155.3L919.9,1167.5L920.8,1180.3L921.8,1189.4L923.1,1189.4L924.5,1189.4L925.4,1178.7L926.3,1163.8L927.0,1149.4L927.7,1136.0L928.3,1149.4L929.1,1163.8L930.0,1178.7L930.9,1189.4L932.2,1189.4L933.6,1188.9L934.5,1178.0L935.4,1164.2L936.2,1151.7L936.8,1140.7L937.4,1151.1L938.2,1161.7L939.1,1172.0L940.0,1179.3L941.4,1178.6L942.7,1177.8L943.6,1169.1L944.6,1157.3L945.3,1146.1L945.9,1136.0L946.6,1146.0L947.3,1156.5L948.2,1167.1L949.1,1174.4L950.5,1173.6L951.9,1172.9L952.8,1164.0L953.7,1152.0L954.4,1140.8L955.0,1130.5L955.7,1140.6L956.4,1151.3L957.3,1162.6L958.2,1170.6L959.6,1170.6L961.0,1170.6L961.9,1161.5L962.8,1148.7L963.5,1136.4L964.2,1125.0L964.8,1136.4L965.5,1148.7L966.4,1161.5L967.4,1170.6L968.7,1170.6L970.1,1170.6L971.0,1162.6L971.9,1151.3L972.6,1140.5L973.3,1130.5L973.9,1140.5L974.7,1151.3L975.6,1162.6L976.5,1170.6L977.8,1170.6L979.2,1170.6L980.1,1159.6L981.0,1144.4L981.8,1129.6L982.4,1116.0L983.0,1129.6L983.8,1144.4L984.7,1159.6L985.6,1170.6L987.0,1170.6L988.3,1170.6L989.2,1161.8L990.2,1149.5L990.9,1137.6L991.5,1126.6L992.2,1137.6L992.9,1149.5L993.8,1161.8L994.7,1170.6L996.1,1170.6L997.5,1170.6L998.4,1162.7L999.3,1151.7L1000.0,1141.1L1000.6,1131.3L1001.3,1141.1L1002.0,1151.7L1002.9,1162.7L1003.8,1170.6L1005.2,1170.6L1006.6,1170.6L1007.5,1162.7L1008.4,1151.7L1009.1,1141.1L1009.8,1131.3L1010.4,1141.1L1011.1,1151.7L1012.0,1162.7L1013.0,1170.6L1014.3,1170.6L1015.7,1170.6L1016.6,1161.9L1017.5,1149.8L1018.2,1138.2L1018.9,1127.4L1019.5,1138.2L1020.3,1149.8L1021.2,1161.9L1022.1,1170.6L1023.4,1170.6L1024.8,1170.6L1025.7,1162.1L1026.6,1150.2L1027.4,1138.8L1028.0,1128.2L1028.6,1138.8L1029.4,1150.2L1030.3,1162.1L1031.2,1170.6L1032.6,1170.6L1033.9,1170.6L1034.8,1162.7L1035.8,1151.7L1036.5,1141.1L1037.1,1131.3L1037.8,1141.1L1038.5,1151.7L1039.4,1162.7L1040.3,1170.6L1041.7,1170.6L1043.1,1170.6L1044.0,1162.9L1044.9,1152.1L1045.6,1141.7L1046.2,1132.1L1046.9,1141.7L1047.6,1152.1L1048.5,1162.9L1049.4,1170.6L1050.8,1170.6L1052.2,1170.6L1053.1,1163.5L1054.0,1153.6L1054.7,1144.1L1055.4,1135.2L1056.0,1144.1L1056.7,1153.6L1057.6,1163.5L1058.6,1170.6L1059.9,1170.6L1061.3,1170.6L1062.2,1163.2L1063.1,1152.9L1063.8,1142.9L1064.5,1133.7L1065.1,1142.9L1065.9,1152.9L1066.8,1163.2L1067.7,1170.6L1069.0,1170.6L1070.4,1170.6L1071.3,1162.7L1072.2,1151.7L1073.0,1141.1L1073.6,1131.3L1074.2,1141.1L1075.0,1151.7L1075.9,1162.7L1076.8,1170.6L1078.2,1170.6L1079.5,1170.6L1080.4,1162.9L1081.4,1152.1L1082.1,1141.7L1082.7,1132.1L1083.4,1141.7L1084.1,1152.1L1085.0,1162.9L1085.9,1170.6L1087.3,1170.6L1088.7,1170.7L1089.6,1165.4L1090.5,1157.6L1091.2,1149.7L1091.8,1142.3L1092.5,1149.9L1093.2,1158.3L1094.1,1167.3L1095.0,1174.0L1096.4,1174.7L1097.8,1175.3L1098.7,1169.9L1099.6,1162.5L1100.3,1155.3L1101.0,1148.6L1101.6,1155.3L1102.3,1162.5L1103.2,1170.0L1104.2,1175.3L1105.5,1175.3L1106.9,1175.3L1107.8,1170.3L1108.7,1163.2L1109.4,1156.4L1110.1,1150.2L1110.7,1156.4L1111.5,1163.2L1112.4,1170.3L1113.3,1175.3L1114.6,1175.3L1116.0,1175.3L1116.9,1170.3L1117.8,1163.3L1118.6,1156.5L1119.2,1150.2L1119.8,1156.5L1120.6,1163.3L1121.5,1170.3L1122.4,1175.4L1123.8,1175.4L1125.1,1175.4L1126.0,1169.7L1127.0,1161.8L1127.7,1154.1L1128.3,1147.0L1129.0,1154.1L1129.7,1161.8L1130.6,1169.7L1131.5,1175.4L1132.9,1175.4L1134.3,1175.4L1135.2,1170.9L1136.1,1164.6L1136.8,1158.5L1137.4,1152.9L1138.1,1158.5L1138.8,1164.6L1139.7,1170.9L1140.6,1175.5L1142.0,1175.5L1143.4,1175.5L1144.3,1171.2L1145.2,1165.2L1145.9,1159.4L1146.6,1154.1L1147.2,1159.4L1147.9,1165.2L1148.8,1171.2L1149.8,1175.5L1151.1,1175.5L1152.5,1175.5L1153.4,1171.2L1154.3,1165.2L1155.0,1159.4L1155.7,1154.1L1156.3,1159.4L1157.1,1165.2L1158.0,1171.2L1158.9,1175.5L1160.2,1175.5L1161.6,1175.5L1162.5,1170.2L1163.4,1162.6L1164.2,1155.3L1164.8,1148.6L1165.4,1155.3L1166.2,1162.6L1167.1,1170.2L1168.0,1175.6L1169.4,1175.6L1170.7,1175.6L1171.6,1169.9L1172.6,1161.9L1173.3,1154.2L1173.9,1147.0L1174.6,1154.2L1175.3,1161.9L1176.2,1169.9L1177.1,1175.6L1178.5,1175.6L1179.9,1175.6L1180.8,1170.7L1181.7,1163.8L1182.4,1157.1L1183.0,1150.9L1183.7,1157.1L1184.4,1163.8L1185.3,1170.7L1186.2,1175.7L1187.6,1175.7L1189.0,1175.7L1189.9,1170.9L1190.8,1164.2L1191.5,1157.7L1192.2,1151.7L1192.8,1157.7L1193.5,1164.2L1194.4,1170.9L1195.4,1175.7L1196.7,1175.7L1198.1,1175.7L1199.0,1170.6L1199.9,1163.4L1200.6,1156.5L1201.3,1150.2L1201.9,1156.5L1202.7,1163.4L1203.6,1170.6L1204.5,1175.7L1205.8,1175.7L1207.2,1175.7L1208.1,1171.2L1209.0,1164.8L1209.8,1158.6L1210.4,1152.9L1211.0,1158.6L1211.8,1164.8L1212.7,1171.2L1213.6,1175.8L1215.0,1175.8L1216.3,1175.8L1217.2,1171.0L1218.2,1164.2L1218.9,1157.7L1219.5,1151.7L1220.2,1157.7L1220.9,1164.2L1221.8,1171.0L1222.7,1175.8L1224.1,1175.8L1225.5,1175.8L1226.4,1170.1L1227.3,1162.0L1228.0,1154.2L1228.6,1147.0L1229.3,1154.2L1230.0,1162.0L1230.9,1170.1L1231.8,1175.8L1233.2,1175.9L1234.6,1175.9L1235.5,1169.6L1236.4,1160.9L1237.1,1152.5L1237.8,1144.7L1238.4,1152.5L1239.1,1160.9L1240.0,1169.6L1241.0,1175.9L1242.3,1175.9L1243.7,1175.9L1244.6,1170.3L1245.5,1162.4L1246.2,1154.8L1246.9,1147.8L1247.5,1154.8L1248.3,1162.4L1249.2,1170.3L1250.1,1175.9L1251.4,1175.9L1252.8,1175.9L1253.7,1169.4L1254.6,1160.4L1255.4,1151.6L1256.0,1143.5L1256.6,1151.6L1257.4,1160.4L1258.3,1169.5L1259.2,1176.0L1260.6,1176.0L1261.9,1176.0L1262.8,1169.5L1263.8,1160.4L1264.5,1151.6L1265.1,1143.5L1265.8,1151.6L1266.5,1160.4L1267.4,1169.5L1268.3,1176.0L1269.7,1176.0L1271.1,1176.0L1272.0,1168.8L1272.9,1158.7L1273.6,1149.0L1274.2,1139.9L1274.9,1149.0L1275.6,1158.7L1276.5,1168.8L1277.4,1176.0L1278.8,1176.1L1280.2,1176.0L1281.1,1168.0L1282.0,1156.8L1282.7,1146.0L1283.4,1136.0L1284.0,1146.0L1284.7,1156.7L1285.6,1167.8L1286.6,1175.7L1287.9,1175.7L1289.3,1175.6L1290.2,1167.0L1291.1,1155.1L1291.8,1143.5L1292.5,1132.9L1293.1,1143.5L1293.9,1155.0L1294.8,1166.9L1295.7,1175.3L1297.0,1175.3L1298.4,1175.2L1299.3,1165.0L1300.2,1150.7L1301.0,1137.0L1301.6,1124.2L1302.2,1136.9L1303.0,1150.6L1303.9,1164.8L1304.8,1174.9L1306.2,1174.8L1307.5,1174.8L1308.4,1162.1L1309.4,1144.5L1310.1,1127.4L1310.7,1111.7L1311.4,1127.4L1312.1,1144.4L1313.0,1162.0L1313.9,1174.5L1315.3,1174.4L1316.7,1174.4L1317.6,1161.6L1318.5,1143.9L1319.2,1126.7L1319.8,1110.9L1320.5,1126.7L1321.2,1143.8L1322.1,1161.5L1323.0,1174.1L1324.4,1174.0L1325.8,1173.9L1326.7,1163.5L1327.6,1148.9L1328.3,1134.9L1329.0,1121.9L1329.6,1134.9L1330.3,1148.8L1331.0,1173.7L1331.0,1189.4Z" fill="#ff800e"/>
<path d="M869.5,1189.4L869.5,1191.0L869.8,1191.0L870.7,1198.7L871.6,1209.4L872.3,1219.8L873.0,1229.4L873.6,1219.8L874.3,1209.4L875.2,1198.7L876.2,1191.0L877.5,1191.0L878.9,1191.0L879.8,1196.6L880.7,1204.5L881.4,1212.2L882.1,1219.2L882.7,1212.2L883.5,1204.5L884.4,1196.6L885.3,1191.0L886.6,1191.0L888.0,1191.0L888.9,1197.4L889.8,1206.4L890.6,1215.1L891.2,1223.2L891.8,1215.1L892.6,1206.4L893.5,1197.4L894.4,1191.0L895.8,1191.0L897.1,1191.0L898.0,1196.5L899.0,1204.2L899.7,1211.6L900.3,1218.4L901.0,1211.6L901.7,1204.2L902.6,1196.5L903.5,1191.0L904.9,1191.0L906.3,1191.0L907.2,1197.6L908.1,1206.8L908.8,1215.7L909.4,1223.9L910.1,1215.7L910.8,1206.8L911.7,1197.6L912.6,1191.0L914.0,1191.0L915.4,1191.0L916.3,1197.4L917.2,1206.4L917.9,1215.1L918.6,1223.2L919.2,1215.1L919.9,1206.4L920.8,1197.4L921.8,1191.0L923.1,1191.0L924.5,1191.0L925.4,1198.3L926.3,1208.7L927.0,1218.6L927.7,1227.9L928.3,1218.6L929.1,1208.7L930.0,1198.3L930.9,1191.0L932.2,1191.0L933.6,1191.5L934.5,1200.1L935.4,1210.7L936.2,1220.0L936.8,1227.9L937.4,1220.6L938.2,1213.4L939.1,1206.6L940.0,1201.6L941.4,1202.0L942.7,1202.4L943.6,1208.2L944.6,1216.1L945.3,1223.5L945.9,1230.2L946.6,1223.6L947.3,1216.5L948.2,1209.4L949.1,1204.4L950.5,1204.9L951.9,1205.3L952.8,1211.3L953.7,1219.5L954.4,1227.1L955.0,1234.1L955.7,1227.2L956.4,1219.9L957.3,1212.2L958.2,1206.7L959.6,1206.7L961.0,1206.7L961.9,1213.3L962.8,1222.5L963.5,1231.4L964.2,1239.6L964.8,1231.4L965.5,1222.5L966.4,1213.3L967.4,1206.7L968.7,1206.7L970.1,1206.7L971.0,1212.6L971.9,1221.0L972.6,1229.0L973.3,1236.5L973.9,1229.0L974.7,1221.0L975.6,1212.6L976.5,1206.7L977.8,1206.7L979.2,1206.7L980.1,1214.8L981.0,1226.3L981.8,1237.3L982.4,1247.5L983.0,1237.3L983.8,1226.3L984.7,1214.8L985.6,1206.7L987.0,1206.7L988.3,1206.7L989.2,1212.6L990.2,1221.0L990.9,1229.0L991.5,1236.5L992.2,1229.0L992.9,1221.0L993.8,1212.6L994.7,1206.7L996.1,1206.7L997.5,1206.7L998.4,1212.5L999.3,1220.6L1000.0,1228.5L1000.6,1235.7L1001.3,1228.5L1002.0,1220.6L1002.9,1212.5L1003.8,1206.7L1005.2,1206.7L1006.6,1206.7L1007.5,1213.3L1008.4,1222.5L1009.1,1231.4L1009.8,1239.6L1010.4,1231.4L1011.1,1222.5L1012.0,1213.3L1013.0,1206.7L1014.3,1206.7L1015.7,1206.7L1016.6,1214.0L1017.5,1224.4L1018.2,1234.3L1018.9,1243.6L1019.5,1234.3L1020.3,1224.4L1021.2,1214.0L1022.1,1206.7L1023.4,1206.7L1024.8,1206.7L1025.7,1212.6L1026.6,1221.0L1027.4,1229.0L1028.0,1236.5L1028.6,1229.0L1029.4,1221.0L1030.3,1212.6L1031.2,1206.7L1032.6,1206.7L1033.9,1206.7L1034.8,1213.0L1035.8,1221.7L1036.5,1230.2L1037.1,1238.1L1037.8,1230.2L1038.5,1221.7L1039.4,1213.0L1040.3,1206.7L1041.7,1206.7L1043.1,1206.7L1044.0,1212.2L1044.9,1219.9L1045.6,1227.3L1046.2,1234.1L1046.9,1227.3L1047.6,1219.9L1048.5,1212.2L1049.4,1206.7L1050.8,1206.7L1052.2,1206.7L1053.1,1212.6L1054.0,1221.0L1054.7,1229.0L1055.4,1236.5L1056.0,1229.0L1056.7,1221.0L1057.6,1212.6L1058.6,1206.7L1059.9,1206.7L1061.3,1206.7L1062.2,1212.2L1063.1,1219.9L1063.8,1227.3L1064.5,1234.1L1065.1,1227.3L1065.9,1219.9L1066.8,1212.2L1067.7,1206.7L1069.0,1206.7L1070.4,1206.7L1071.3,1212.0L1072.2,1219.5L1073.0,1226.7L1073.6,1233.4L1074.2,1226.7L1075.0,1219.5L1075.9,1212.0L1076.8,1206.7L1078.2,1206.7L1079.5,1206.7L1080.4,1212.6L1081.4,1221.0L1082.1,1229.0L1082.7,1236.5L1083.4,1229.0L1084.1,1221.0L1085.0,1212.6L1085.9,1206.7L1087.3,1206.7L1088.7,1206.6L1089.6,1210.7L1090.5,1216.7L1091.2,1222.4L1091.8,1227.9L1092.5,1222.4L1093.2,1216.4L1094.1,1210.1L1095.0,1205.5L1096.4,1205.3L1097.8,1205.1L1098.7,1207.9L1099.6,1211.9L1100.3,1215.7L1101.0,1219.2L1101.6,1215.7L1102.3,1211.9L1103.2,1207.9L1104.2,1205.1L1105.5,1205.1L1106.9,1205.1L1107.8,1208.1L1108.7,1212.3L1109.4,1216.3L1110.1,1220.0L1110.7,1216.3L1111.5,1212.3L1112.4,1208.1L1113.3,1205.2L1114.6,1205.2L1116.0,1205.2L1116.9,1207.7L1117.8,1211.2L1118.6,1214.5L1119.2,1217.7L1119.8,1214.5L1120.6,1211.2L1121.5,1207.7L1122.4,1205.2L1123.8,1205.2L1125.1,1205.2L1126.0,1208.0L1127.0,1211.9L1127.7,1215.7L1128.3,1219.2L1129.0,1215.7L1129.7,1211.9L1130.6,1208.0L1131.5,1205.2L1132.9,1205.2L1134.3,1205.2L1135.2,1207.2L1136.1,1210.1L1136.8,1212.8L1137.4,1215.3L1138.1,1212.8L1138.8,1210.1L1139.7,1207.3L1140.6,1205.2L1142.0,1205.2L1143.4,1205.3L1144.3,1207.1L1145.2,1209.7L1145.9,1212.2L1146.6,1214.5L1147.2,1212.2L1147.9,1209.7L1148.8,1207.1L1149.8,1205.3L1151.1,1205.3L1152.5,1205.3L1153.4,1207.8L1154.3,1211.2L1155.0,1214.6L1155.7,1217.7L1156.3,1214.6L1157.1,1211.2L1158.0,1207.8L1158.9,1205.3L1160.2,1205.3L1161.6,1205.3L1162.5,1208.1L1163.4,1212.0L1164.2,1215.8L1164.8,1219.2L1165.4,1215.8L1166.2,1212.0L1167.1,1208.1L1168.0,1205.3L1169.4,1205.3L1170.7,1205.3L1171.6,1207.8L1172.6,1211.3L1173.3,1214.6L1173.9,1217.7L1174.6,1214.6L1175.3,1211.3L1176.2,1207.8L1177.1,1205.4L1178.5,1205.4L1179.9,1205.4L1180.8,1208.3L1181.7,1212.4L1182.4,1216.4L1183.0,1220.0L1183.7,1216.4L1184.4,1212.4L1185.3,1208.3L1186.2,1205.4L1187.6,1205.4L1189.0,1205.4L1189.9,1207.5L1190.8,1210.5L1191.5,1213.4L1192.2,1216.1L1192.8,1213.4L1193.5,1210.5L1194.4,1207.6L1195.4,1205.4L1196.7,1205.4L1198.1,1205.4L1199.0,1207.4L1199.9,1210.2L1200.6,1212.8L1201.3,1215.3L1201.9,1212.8L1202.7,1210.2L1203.6,1207.4L1204.5,1205.5L1205.8,1205.5L1207.2,1205.5L1208.1,1207.3L1209.0,1209.8L1209.8,1212.3L1210.4,1214.5L1211.0,1212.3L1211.8,1209.8L1212.7,1207.3L1213.6,1205.5L1215.0,1205.5L1216.3,1205.5L1217.2,1207.0L1218.2,1209.1L1218.9,1211.1L1219.5,1213.0L1220.2,1211.1L1220.9,1209.1L1221.8,1207.0L1222.7,1205.5L1224.1,1205.5L1225.5,1205.5L1226.4,1207.3L1227.3,1209.8L1228.0,1212.3L1228.6,1214.5L1229.3,1212.3L1230.0,1209.9L1230.9,1207.3L1231.8,1205.6L1233.2,1205.6L1234.6,1205.6L1235.5,1208.1L1236.4,1211.7L1237.1,1215.2L1237.8,1218.4L1238.4,1215.2L1239.1,1211.8L1240.0,1208.2L1241.0,1205.6L1242.3,1205.6L1243.7,1205.6L1244.6,1207.4L1245.5,1209.9L1246.2,1212.3L1246.9,1214.5L1247.5,1212.3L1248.3,1209.9L1249.2,1207.4L1250.1,1205.6L1251.4,1205.6L1252.8,1205.6L1253.7,1207.7L1254.6,1210.6L1255.4,1213.5L1256.0,1216.1L1256.6,1213.5L1257.4,1210.7L1258.3,1207.7L1259.2,1205.6L1260.6,1205.6L1261.9,1205.7L1262.8,1208.5L1263.8,1212.5L1264.5,1216.4L1265.1,1220.0L1265.8,1216.4L1266.5,1212.6L1267.4,1208.5L1268.3,1205.7L1269.7,1205.7L1271.1,1205.7L1272.0,1207.6L1272.9,1210.3L1273.6,1212.9L1274.2,1215.3L1274.9,1212.9L1275.6,1210.3L1276.5,1207.6L1277.4,1205.7L1278.8,1205.7L1280.2,1205.7L1281.1,1210.3L1282.0,1216.7L1282.7,1222.9L1283.4,1228.7L1284.0,1222.9L1284.7,1216.7L1285.6,1210.3L1286.6,1205.7L1287.9,1205.7L1289.3,1205.7L1290.2,1210.6L1291.1,1217.5L1291.8,1224.1L1292.5,1230.2L1293.1,1224.1L1293.9,1217.5L1294.8,1210.7L1295.7,1205.8L1297.0,1205.8L1298.4,1205.8L1299.3,1212.2L1300.2,1221.3L1301.0,1230.0L1301.6,1238.1L1302.2,1230.0L1303.0,1221.3L1303.9,1212.2L1304.8,1205.8L1306.2,1205.8L1307.5,1205.8L1308.4,1214.9L1309.4,1227.7L1310.1,1240.0L1310.7,1251.4L1311.4,1240.0L1312.1,1227.7L1313.0,1214.9L1313.9,1205.8L1315.3,1205.8L1316.7,1205.8L1317.6,1216.7L1318.5,1231.9L1319.2,1246.5L1319.8,1260.1L1320.5,1246.5L1321.2,1231.9L1322.1,1216.7L1323.0,1205.9L1324.4,1205.9L1325.8,1205.9L1326.7,1212.0L1327.6,1220.6L1328.3,1228.8L1329.0,1236.5L1329.6,1228.8L1330.3,1220.6L1331.0,1205.9L1331.0,1189.4Z" fill="#7fcdbb"/>
<path d="M869.5,1192.8L869.9,1191.6L871.1,1187.8L872.2,1184.0L873.3,1180.6L874.5,1183.9L875.6,1187.7L876.8,1191.4L877.9,1194.7L879.0,1191.4L880.2,1187.5L881.3,1183.7L882.5,1180.3L883.6,1183.6L884.7,1187.4L885.9,1191.2L887.0,1194.6L888.2,1191.1L889.3,1187.3L890.4,1183.4L891.6,1179.9L892.7,1183.3L893.9,1187.1L895.0,1191.0L896.1,1194.4L897.3,1190.9L898.4,1187.0L899.6,1183.1L900.7,1179.6L901.8,1183.0L903.0,1186.9L904.1,1190.8L905.3,1194.2L906.4,1190.7L907.5,1186.7L908.7,1182.8L909.8,1179.2L911.0,1182.7L912.1,1186.6L913.2,1190.5L914.4,1194.0L915.5,1190.5L916.7,1186.5L917.8,1182.4L918.9,1178.9L920.1,1182.4L921.2,1186.3L922.4,1190.3L923.5,1193.9L924.6,1190.3L925.8,1186.2L926.9,1182.1L928.1,1178.5L929.2,1182.1L930.3,1186.1L931.5,1190.1L932.6,1193.7L933.8,1190.1L934.9,1186.0L936.0,1181.8L937.2,1178.2L938.3,1181.8L939.5,1185.8L940.6,1189.9L941.7,1193.5L942.9,1189.8L944.0,1185.7L945.2,1181.5L946.3,1177.8L947.4,1181.4L948.6,1185.6L949.7,1189.7L950.9,1193.3L952.0,1189.6L953.1,1185.5L954.3,1181.3L955.4,1177.7L956.6,1181.3L957.7,1185.5L958.8,1189.7L960.0,1193.3L961.1,1189.7L962.3,1185.5L963.4,1181.4L964.5,1177.7L965.7,1181.4L966.8,1185.5L968.0,1189.7L969.1,1193.3L970.2,1189.7L971.4,1185.5L972.5,1181.4L973.7,1177.8L974.8,1181.4L975.9,1185.6L977.1,1189.7L978.2,1193.3L979.4,1189.7L980.5,1185.6L981.6,1181.5L982.8,1177.8L983.9,1181.5L985.1,1185.6L986.2,1189.7L987.3,1193.3L988.5,1189.7L989.6,1185.6L990.8,1181.5L991.9,1177.9L993.0,1181.5L994.2,1185.6L995.3,1189.7L996.5,1193.3L997.6,1189.7L998.7,1185.6L999.9,1181.6L1001.0,1178.0L1002.2,1181.6L1003.3,1185.7L1004.4,1189.7L1005.6,1193.4L1006.7,1189.8L1007.9,1185.7L1009.0,1181.6L1010.1,1178.0L1011.3,1181.6L1012.4,1185.7L1013.6,1189.8L1014.7,1193.4L1015.8,1189.8L1017.0,1185.7L1018.1,1181.7L1019.3,1178.1L1020.4,1181.7L1021.5,1185.7L1022.7,1189.8L1023.8,1193.4L1025.0,1189.8L1026.1,1185.7L1027.2,1181.7L1028.4,1178.1L1029.5,1181.7L1030.7,1185.8L1031.8,1189.8L1032.9,1193.4L1034.1,1189.8L1035.2,1185.8L1036.4,1181.7L1037.5,1178.2L1038.6,1181.8L1039.8,1185.8L1040.9,1189.8L1042.1,1193.4L1043.2,1189.8L1044.3,1185.8L1045.5,1181.8L1046.6,1178.3L1047.8,1181.8L1048.9,1185.8L1050.0,1189.8L1051.2,1193.4L1052.3,1189.8L1053.5,1185.8L1054.6,1181.8L1055.7,1178.3L1056.9,1181.9L1058.0,1185.9L1059.2,1189.9L1060.3,1193.4L1061.4,1189.9L1062.6,1185.9L1063.7,1181.9L1064.9,1178.4L1066.0,1181.9L1067.1,1185.9L1068.3,1189.9L1069.4,1193.4L1070.6,1189.9L1071.7,1185.9L1072.8,1181.9L1074.0,1178.4L1075.1,1182.0L1076.3,1185.9L1077.4,1189.9L1078.5,1193.4L1079.7,1189.9L1080.8,1185.9L1082.0,1182.0L1083.1,1178.5L1084.2,1182.0L1085.4,1186.0L1086.5,1189.9L1087.7,1193.4L1088.8,1189.9L1089.9,1186.0L1091.1,1182.0L1092.2,1178.6L1093.4,1182.0L1094.5,1186.0L1095.6,1189.9L1096.8,1193.4L1097.9,1189.9L1099.1,1186.0L1100.2,1182.1L1101.3,1178.6L1102.5,1182.1L1103.6,1186.0L1104.8,1189.9L1105.9,1193.4L1107.0,1189.9L1108.2,1186.0L1109.3,1182.1L1110.5,1178.7L1111.6,1182.1L1112.7,1186.1L1113.9,1190.0L1115.0,1193.4L1116.2,1190.0L1117.3,1186.1L1118.4,1182.2L1119.6,1178.7L1120.7,1182.2L1121.9,1186.1L1123.0,1190.0L1124.1,1193.4L1125.3,1190.0L1126.4,1186.1L1127.6,1182.2L1128.7,1178.8L1129.8,1182.2L1131.0,1186.1L1132.1,1190.0L1133.3,1193.4L1134.4,1190.0L1135.5,1186.1L1136.7,1182.3L1137.8,1178.9L1139.0,1182.3L1140.1,1186.2L1141.2,1190.0L1142.4,1193.4L1143.5,1190.0L1144.7,1186.2L1145.8,1182.3L1146.9,1178.9L1148.1,1182.3L1149.2,1186.2L1150.4,1190.0L1151.5,1193.4L1152.6,1190.0L1153.8,1186.2L1154.9,1182.4L1156.1,1179.0L1157.2,1182.4L1158.3,1186.2L1159.5,1190.0L1160.6,1193.4L1161.8,1190.1L1162.9,1186.2L1164.0,1182.4L1165.2,1179.1L1166.3,1182.4L1167.5,1186.2L1168.6,1190.1L1169.7,1193.4L1170.9,1190.1L1172.0,1186.3L1173.2,1182.5L1174.3,1179.1L1175.4,1182.5L1176.6,1186.3L1177.7,1190.1L1178.9,1193.4L1180.0,1190.1L1181.1,1186.3L1182.3,1182.5L1183.4,1179.2L1184.6,1182.5L1185.7,1186.3L1186.8,1190.1L1188.0,1193.4L1189.1,1190.1L1190.3,1186.3L1191.4,1182.6L1192.5,1179.2L1193.7,1182.6L1194.8,1186.3L1196.0,1190.1L1197.1,1193.4L1198.2,1190.1L1199.4,1186.4L1200.5,1182.6L1201.7,1179.3L1202.8,1182.6L1203.9,1186.4L1205.1,1190.1L1206.2,1193.4L1207.4,1190.1L1208.5,1186.4L1209.6,1182.7L1210.8,1179.4L1211.9,1182.7L1213.1,1186.4L1214.2,1190.2L1215.3,1193.5L1216.5,1190.2L1217.6,1186.4L1218.8,1182.7L1219.9,1179.4L1221.0,1182.7L1222.2,1186.4L1223.3,1190.2L1224.5,1193.5L1225.6,1190.2L1226.7,1186.5L1227.9,1182.8L1229.0,1179.5L1230.2,1182.8L1231.3,1186.5L1232.4,1190.2L1233.6,1193.5L1234.7,1190.2L1235.9,1186.5L1237.0,1182.8L1238.1,1179.5L1239.3,1182.8L1240.4,1186.5L1241.6,1190.2L1242.7,1193.5L1243.8,1190.2L1245.0,1186.5L1246.1,1182.8L1247.3,1179.6L1248.4,1182.9L1249.5,1186.5L1250.7,1190.2L1251.8,1193.5L1253.0,1190.2L1254.1,1186.6L1255.2,1182.9L1256.4,1179.7L1257.5,1182.9L1258.7,1186.6L1259.8,1190.2L1260.9,1193.5L1262.1,1190.2L1263.2,1186.6L1264.4,1182.9L1265.5,1179.7L1266.6,1183.0L1267.8,1186.6L1268.9,1190.3L1270.1,1193.5L1271.2,1190.3L1272.3,1186.6L1273.5,1183.0L1274.6,1179.8L1275.8,1183.0L1276.9,1186.6L1278.0,1190.3L1279.2,1193.5L1280.3,1190.2L1281.5,1186.5L1282.6,1182.8L1283.7,1179.5L1284.9,1182.5L1286.0,1186.0L1287.2,1189.5L1288.3,1192.6L1289.4,1189.3L1290.6,1185.6L1291.7,1181.9L1292.9,1178.6L1294.0,1181.6L1295.1,1185.1L1296.3,1188.6L1297.4,1191.7L1298.6,1188.4L1299.7,1184.7L1300.8,1181.0L1302.0,1177.7L1303.1,1180.7L1304.3,1184.2L1305.4,1187.7L1306.5,1190.7L1307.7,1187.5L1308.8,1183.8L1310.0,1180.1L1311.1,1176.8L1312.2,1179.8L1313.4,1183.3L1314.5,1186.8L1315.7,1189.8L1316.8,1186.5L1317.9,1182.9L1319.1,1179.2L1320.2,1175.9L1321.4,1179.0L1322.5,1182.4L1323.6,1185.8L1324.8,1188.9L1325.9,1185.6L1327.1,1181.9L1328.2,1178.3L1329.3,1175.0L1330.5,1178.1L1331.6,1181.5L1332.8,1185.0L1333.9,1188.2L1335.0,1184.8L1336.2,1180.9L1337.3,1176.9L1338.5,1173.3L1339.6,1176.6L1340.7,1180.4L1341.9,1184.4L1343.0,1187.9L1344.2,1184.2L1345.3,1179.9L1346.4,1175.4L1347.6,1171.4L1348.7,1175.0L1349.9,1179.3L1351.0,1183.7L1352.1,1187.7L1353.3,1183.6L1354.4,1178.8L1355.6,1173.9L1356.7,1169.4L1357.8,1173.5L1359.0,1178.3L1360.1,1183.1L1361.3,1187.5L1362.4,1183.0L1363.5,1177.7L1364.7,1172.4L1365.8,1167.5L1367.0,1172.0L1368.1,1177.2L1369.2,1182.5L1370.4,1187.3L1371.5,1182.3L1372.7,1176.5L1373.8,1170.6L1374.9,1165.3L1376.1,1170.1L1377.2,1175.7L1378.4,1181.4L1379.5,1186.5L1380.6,1181.1L1381.8,1174.8L1382.9,1168.5L1384.1,1162.7L1385.2,1167.9L1386.3,1174.0L1387.5,1180.1L1388.6,1185.7L1389.8,1179.8L1390.9,1173.1L1392.0,1166.3L1393.2,1160.1L1394.3,1165.7L1395.5,1172.2L1396.6,1178.9L1397.7,1184.8L1398.9,1178.5L1400.0,1171.4L1401.2,1164.1L1402.3,1157.5L1403.4,1163.5L1404.6,1170.5L1405.7,1177.6L1406.9,1183.9L1408.0,1177.3L1409.1,1169.6L1410.3,1161.9L1411.4,1154.9L1412.6,1161.3L1413.7,1168.8L1414.8,1176.3L1416.0,1183.1L1417.1,1175.9L1418.3,1167.7L1419.4,1159.3L1420.5,1151.7L1421.7,1158.4L1422.8,1166.1L1424.0,1173.9L1425.1,1180.9L1426.2,1173.2L1427.4,1164.5L1428.5,1155.7L1429.7,1147.7L1430.8,1154.7L1431.9,1162.9L1433.1,1171.2L1434.2,1178.6L1435.4,1170.5L1436.5,1161.3L1437.6,1152.0L1438.8,1143.7L1439.9,1151.1L1441.1,1159.7L1442.2,1168.5L1443.3,1176.2L1444.5,1167.8L1445.6,1158.1L1446.8,1148.4L1447.9,1139.6L1449.0,1147.5L1450.2,1156.6L1451.3,1165.8L1452.5,1173.9L1453.6,1165.1L1454.7,1155.0L1455.9,1144.8L1457.0,1135.6L1458.2,1143.8L1459.3,1153.4L1460.4,1163.3L1461.6,1171.9L1462.7,1163.1L1463.9,1153.3L1465.0,1143.6L1466.1,1135.1L1467.3,1143.7L1468.4,1153.3L1469.6,1162.8L1470.7,1171.0L1471.8,1162.7L1473.0,1153.3L1474.1,1144.0L1475.3,1136.0L1476.4,1144.2L1477.5,1153.3L1478.7,1162.3L1479.8,1170.2L1481.0,1162.2L1482.1,1153.3L1483.2,1144.5L1484.4,1136.9L1485.5,1144.6L1486.7,1153.3L1487.8,1161.8L1488.9,1169.3L1490.1,1161.7L1491.2,1153.3L1492.4,1145.0L1493.5,1137.8L1494.6,1145.1L1495.8,1153.3L1496.9,1161.4L1498.1,1168.4L1499.2,1161.2L1500.3,1153.3L1501.5,1145.5L1502.6,1138.6L1503.8,1145.6L1504.9,1153.3L1506.0,1160.9L1507.2,1167.5L1508.3,1160.8L1509.5,1153.3L1510.6,1145.9L1511.7,1139.5L1512.9,1146.0L1514.0,1153.3L1515.2,1160.5L1516.3,1166.7L1517.4,1160.4L1518.6,1153.3L1519.7,1146.3L1520.9,1140.3L1522.0,1146.4L1523.1,1153.3L1524.3,1160.0L1525.4,1165.9L1526.6,1159.9L1527.7,1153.3L1528.8,1146.7L1530.0,1141.1L1531.1,1146.8L1532.3,1153.3L1533.4,1159.6L1534.5,1165.1L1535.7,1159.5L1536.8,1153.3L1538.0,1147.2L1539.1,1141.8L1540.2,1147.3L1541.4,1153.3L1542.5,1159.2L1543.7,1164.3L1544.8,1159.1L1545.9,1153.3L1547.1,1147.6L1548.2,1142.6L1549.4,1147.7L1550.5,1153.3L1551.6,1158.8L1552.8,1163.6L1553.9,1158.7L1555.1,1153.3L1556.2,1148.0L1557.3,1143.4L1558.5,1148.1L1559.6,1153.3L1560.8,1158.4L1561.9,1162.8L1563.0,1158.3L1564.2,1153.3L1564.4,1152.1" fill="none" stroke="#4d4d4d" stroke-width="3.8" stroke-linejoin="round"/>
</g>
<line x1="1331.0" y1="1110.9" x2="1331.0" y2="1267.9" stroke="#c59fe0" stroke-width="12" stroke-dasharray="12.5 11.5"/>
<line x1="1503.6" y1="1110.9" x2="1503.6" y2="1267.9" stroke="#c59fe0" stroke-width="12"/>
<line x1="869.5" y1="1110.9" x2="1563.0" y2="1110.9" stroke="#262626" stroke-width="2" />
<line x1="869.5" y1="1109.9" x2="869.5" y2="1268.9" stroke="#262626" stroke-width="2" />
<line x1="869.5" y1="1267.9" x2="876.5" y2="1267.9" stroke="#262626" stroke-width="2" />
<line x1="1143.0" y1="1110.9" x2="1143.0" y2="1117.9" stroke="#262626" stroke-width="2" />
<line x1="1426.0" y1="1110.9" x2="1426.0" y2="1117.9" stroke="#262626" stroke-width="2" />
<text x="806.6" y="1122.7" font-size="31.4" fill="#262626" text-anchor="start" >0.78</text>
<text x="806.7" y="1201.0" font-size="31.4" fill="#262626" text-anchor="start" >0.00</text>
<text x="796.1" y="1279.9" font-size="31.4" fill="#262626" text-anchor="start" >-0.78</text>
<text x="889.3" y="1256.9" font-size="38.6" fill="#000" text-anchor="start" >L7</text>
<clipPath id="cp6"><rect x="869.5" y="1296.0" width="693.5" height="157"/></clipPath>
<g clip-path="url(#cp6)">
<path d="M869.5,1374.5L869.5,1374.5L869.8,1374.5L870.7,1364.1L871.6,1349.6L872.3,1335.6L873.0,1322.7L873.6,1335.6L874.3,1349.6L875.2,1364.1L876.2,1374.5L877.5,1374.5L878.9,1374.5L879.8,1366.5L880.7,1355.3L881.4,1344.5L882.1,1334.5L882.7,1344.5L883.5,1355.3L884.4,1366.5L885.3,1374.5L886.6,1374.5L888.0,1374.5L888.9,1365.6L889.8,1353.0L890.6,1340.9L891.2,1329.8L891.8,1340.9L892.6,1353.0L893.5,1365.6L894.4,1374.5L895.8,1374.5L897.1,1374.5L898.0,1366.0L899.0,1354.2L899.7,1342.7L900.3,1332.1L901.0,1342.7L901.7,1354.2L902.6,1366.0L903.5,1374.5L904.9,1374.5L906.3,1374.5L907.2,1364.0L908.1,1349.3L908.8,1335.1L909.4,1321.9L910.1,1335.1L910.8,1349.3L911.7,1364.0L912.6,1374.5L914.0,1374.5L915.4,1374.5L916.3,1365.4L917.2,1352.6L917.9,1340.4L918.6,1329.0L919.2,1340.4L919.9,1352.6L920.8,1365.4L921.8,1374.5L923.1,1374.5L924.5,1374.5L925.4,1363.8L926.3,1348.9L927.0,1334.5L927.7,1321.1L928.3,1334.5L929.1,1348.9L930.0,1363.8L930.9,1374.5L932.2,1374.5L933.6,1374.0L934.5,1363.1L935.4,1349.3L936.2,1336.8L936.8,1325.8L937.4,1336.2L938.2,1346.8L939.1,1357.1L940.0,1364.5L941.4,1363.8L942.7,1363.1L943.6,1354.4L944.6,1342.5L945.3,1331.3L945.9,1321.1L946.6,1331.1L947.3,1341.8L948.2,1352.5L949.1,1359.9L950.5,1359.3L951.9,1358.6L952.8,1349.6L953.7,1337.5L954.4,1326.0L955.0,1315.6L955.7,1325.9L956.4,1336.9L957.3,1348.3L958.2,1356.4L959.6,1356.4L961.0,1356.4L961.9,1347.2L962.8,1334.2L963.5,1321.7L964.2,1310.1L964.8,1321.7L965.5,1334.2L966.4,1347.2L967.4,1356.4L968.7,1356.4L970.1,1356.4L971.0,1348.3L971.9,1336.9L972.6,1325.8L973.3,1315.6L973.9,1325.8L974.7,1336.9L975.6,1348.3L976.5,1356.4L977.8,1356.4L979.2,1356.4L980.1,1345.4L981.0,1329.9L981.8,1314.9L982.4,1301.1L983.0,1314.9L983.8,1329.9L984.7,1345.4L985.6,1356.4L987.0,1356.4L988.3,1356.4L989.2,1347.5L990.2,1335.0L990.9,1322.9L991.5,1311.7L992.2,1322.9L992.9,1335.0L993.8,1347.5L994.7,1356.4L996.1,1356.4L997.5,1356.4L998.4,1348.4L999.3,1337.2L1000.0,1326.4L1000.6,1316.4L1001.3,1326.4L1002.0,1337.2L1002.9,1348.4L1003.8,1356.4L1005.2,1356.4L1006.6,1356.4L1007.5,1348.4L1008.4,1337.2L1009.1,1326.4L1009.8,1316.4L1010.4,1326.4L1011.1,1337.2L1012.0,1348.4L1013.0,1356.4L1014.3,1356.4L1015.7,1356.4L1016.6,1347.7L1017.5,1335.3L1018.2,1323.5L1018.9,1312.5L1019.5,1323.5L1020.3,1335.3L1021.2,1347.7L1022.1,1356.4L1023.4,1356.4L1024.8,1356.4L1025.7,1347.8L1026.6,1335.7L1027.4,1324.1L1028.0,1313.3L1028.6,1324.1L1029.4,1335.7L1030.3,1347.8L1031.2,1356.4L1032.6,1356.4L1033.9,1356.4L1034.8,1348.4L1035.8,1337.2L1036.5,1326.4L1037.1,1316.4L1037.8,1326.4L1038.5,1337.2L1039.4,1348.4L1040.3,1356.4L1041.7,1356.4L1043.1,1356.4L1044.0,1348.6L1044.9,1337.6L1045.6,1327.0L1046.2,1317.2L1046.9,1327.0L1047.6,1337.6L1048.5,1348.6L1049.4,1356.4L1050.8,1356.4L1052.2,1356.4L1053.1,1349.2L1054.0,1339.1L1054.7,1329.4L1055.4,1320.3L1056.0,1329.4L1056.7,1339.1L1057.6,1349.2L1058.6,1356.4L1059.9,1356.4L1061.3,1356.4L1062.2,1348.9L1063.1,1338.4L1063.8,1328.2L1064.5,1318.8L1065.1,1328.2L1065.9,1338.4L1066.8,1348.9L1067.7,1356.4L1069.0,1356.4L1070.4,1356.4L1071.3,1348.4L1072.2,1337.2L1073.0,1326.4L1073.6,1316.4L1074.2,1326.4L1075.0,1337.2L1075.9,1348.4L1076.8,1356.4L1078.2,1356.4L1079.5,1356.4L1080.4,1348.6L1081.4,1337.6L1082.1,1327.0L1082.7,1317.2L1083.4,1327.0L1084.1,1337.6L1085.0,1348.6L1085.9,1356.4L1087.3,1356.4L1088.7,1356.6L1089.6,1351.1L1090.5,1343.1L1091.2,1335.0L1091.8,1327.4L1092.5,1335.2L1093.2,1343.8L1094.1,1353.0L1095.0,1359.9L1096.4,1360.6L1097.8,1361.2L1098.7,1355.7L1099.6,1348.0L1100.3,1340.5L1101.0,1333.7L1101.6,1340.5L1102.3,1348.0L1103.2,1355.7L1104.2,1361.2L1105.5,1361.2L1106.9,1361.2L1107.8,1356.0L1108.7,1348.7L1109.4,1341.7L1110.1,1335.2L1110.7,1341.7L1111.5,1348.7L1112.4,1356.0L1113.3,1361.2L1114.6,1361.2L1116.0,1361.2L1116.9,1356.0L1117.8,1348.7L1118.6,1341.7L1119.2,1335.2L1119.8,1341.7L1120.6,1348.7L1121.5,1356.0L1122.4,1361.2L1123.8,1361.2L1125.1,1361.2L1126.0,1355.3L1127.0,1347.2L1127.7,1339.4L1128.3,1332.1L1129.0,1339.4L1129.7,1347.2L1130.6,1355.3L1131.5,1361.2L1132.9,1361.2L1134.3,1361.2L1135.2,1356.5L1136.1,1350.0L1136.8,1343.8L1137.4,1338.0L1138.1,1343.8L1138.8,1350.0L1139.7,1356.5L1140.6,1361.2L1142.0,1361.2L1143.4,1361.2L1144.3,1356.8L1145.2,1350.6L1145.9,1344.7L1146.6,1339.2L1147.2,1344.7L1147.9,1350.6L1148.8,1356.8L1149.8,1361.2L1151.1,1361.2L1152.5,1361.2L1153.4,1356.8L1154.3,1350.6L1155.0,1344.7L1155.7,1339.2L1156.3,1344.7L1157.1,1350.6L1158.0,1356.8L1158.9,1361.2L1160.2,1361.2L1161.6,1361.2L1162.5,1355.7L1163.4,1348.0L1164.2,1340.5L1164.8,1333.7L1165.4,1340.5L1166.2,1348.0L1167.1,1355.7L1168.0,1361.2L1169.4,1361.2L1170.7,1361.2L1171.6,1355.3L1172.6,1347.2L1173.3,1339.4L1173.9,1332.1L1174.6,1339.4L1175.3,1347.2L1176.2,1355.3L1177.1,1361.2L1178.5,1361.2L1179.9,1361.2L1180.8,1356.1L1181.7,1349.1L1182.4,1342.3L1183.0,1336.0L1183.7,1342.3L1184.4,1349.1L1185.3,1356.1L1186.2,1361.2L1187.6,1361.2L1189.0,1361.2L1189.9,1356.3L1190.8,1349.5L1191.5,1342.9L1192.2,1336.8L1192.8,1342.9L1193.5,1349.5L1194.4,1356.3L1195.4,1361.2L1196.7,1361.2L1198.1,1361.2L1199.0,1356.0L1199.9,1348.7L1200.6,1341.7L1201.3,1335.2L1201.9,1341.7L1202.7,1348.7L1203.6,1356.0L1204.5,1361.2L1205.8,1361.2L1207.2,1361.2L1208.1,1356.5L1209.0,1350.0L1209.8,1343.8L1210.4,1338.0L1211.0,1343.8L1211.8,1350.0L1212.7,1356.5L1213.6,1361.2L1215.0,1361.2L1216.3,1361.2L1217.2,1356.3L1218.2,1349.5L1218.9,1342.9L1219.5,1336.8L1220.2,1342.9L1220.9,1349.5L1221.8,1356.3L1222.7,1361.2L1224.1,1361.2L1225.5,1361.2L1226.4,1355.3L1227.3,1347.2L1228.0,1339.4L1228.6,1332.1L1229.3,1339.4L1230.0,1347.2L1230.9,1355.3L1231.8,1361.2L1233.2,1361.2L1234.6,1361.2L1235.5,1354.9L1236.4,1346.1L1237.1,1337.6L1237.8,1329.8L1238.4,1337.6L1239.1,1346.1L1240.0,1354.9L1241.0,1361.2L1242.3,1361.2L1243.7,1361.2L1244.6,1355.5L1245.5,1347.6L1246.2,1340.0L1246.9,1332.9L1247.5,1340.0L1248.3,1347.6L1249.2,1355.5L1250.1,1361.2L1251.4,1361.2L1252.8,1361.2L1253.7,1354.6L1254.6,1345.5L1255.4,1336.7L1256.0,1328.6L1256.6,1336.7L1257.4,1345.5L1258.3,1354.6L1259.2,1361.2L1260.6,1361.2L1261.9,1361.2L1262.8,1354.6L1263.8,1345.5L1264.5,1336.7L1265.1,1328.6L1265.8,1336.7L1266.5,1345.5L1267.4,1354.6L1268.3,1361.2L1269.7,1361.2L1271.1,1361.2L1272.0,1353.9L1272.9,1343.8L1273.6,1334.1L1274.2,1325.0L1274.9,1334.1L1275.6,1343.8L1276.5,1353.9L1277.4,1361.2L1278.8,1361.2L1280.2,1361.1L1281.1,1353.1L1282.0,1341.9L1282.7,1331.1L1283.4,1321.1L1284.0,1331.1L1284.7,1341.8L1285.6,1352.9L1286.6,1360.9L1287.9,1360.8L1289.3,1360.7L1290.2,1352.1L1291.1,1340.2L1291.8,1328.6L1292.5,1318.0L1293.1,1328.6L1293.9,1340.1L1294.8,1352.0L1295.7,1360.4L1297.0,1360.4L1298.4,1360.3L1299.3,1350.1L1300.2,1335.8L1301.0,1322.1L1301.6,1309.3L1302.2,1322.0L1303.0,1335.7L1303.9,1349.9L1304.8,1360.0L1306.2,1360.0L1307.5,1359.9L1308.4,1347.2L1309.4,1329.6L1310.1,1312.5L1310.7,1296.8L1311.4,1312.5L1312.1,1329.5L1313.0,1347.1L1313.9,1359.6L1315.3,1359.6L1316.7,1359.5L1317.6,1346.8L1318.5,1329.0L1319.2,1311.8L1319.8,1296.0L1320.5,1311.8L1321.2,1328.9L1322.1,1346.6L1323.0,1359.2L1324.4,1359.1L1325.8,1359.1L1326.7,1348.6L1327.6,1334.0L1328.3,1320.0L1329.0,1307.0L1329.6,1320.0L1330.3,1334.0L1331.2,1348.5L1332.0,1358.8L1332.0,1374.5Z" fill="#ff800e"/>
<path d="M869.5,1374.5L869.5,1376.1L869.8,1376.1L870.7,1383.8L871.6,1394.5L872.3,1404.9L873.0,1414.5L873.6,1404.9L874.3,1394.5L875.2,1383.8L876.2,1376.1L877.5,1376.1L878.9,1376.1L879.8,1381.7L880.7,1389.6L881.4,1397.3L882.1,1404.3L882.7,1397.3L883.5,1389.6L884.4,1381.7L885.3,1376.1L886.6,1376.1L888.0,1376.1L888.9,1382.5L889.8,1391.5L890.6,1400.2L891.2,1408.3L891.8,1400.2L892.6,1391.5L893.5,1382.5L894.4,1376.1L895.8,1376.1L897.1,1376.1L898.0,1381.6L899.0,1389.3L899.7,1396.7L900.3,1403.5L901.0,1396.7L901.7,1389.3L902.6,1381.6L903.5,1376.1L904.9,1376.1L906.3,1376.1L907.2,1382.7L908.1,1391.9L908.8,1400.8L909.4,1409.0L910.1,1400.8L910.8,1391.9L911.7,1382.7L912.6,1376.1L914.0,1376.1L915.4,1376.1L916.3,1382.5L917.2,1391.5L917.9,1400.2L918.6,1408.3L919.2,1400.2L919.9,1391.5L920.8,1382.5L921.8,1376.1L923.1,1376.1L924.5,1376.1L925.4,1383.4L926.3,1393.8L927.0,1403.7L927.7,1413.0L928.3,1403.7L929.1,1393.8L930.0,1383.4L930.9,1376.1L932.2,1376.1L933.6,1376.6L934.5,1385.2L935.4,1395.8L936.2,1405.1L936.8,1413.0L937.4,1405.7L938.2,1398.5L939.1,1391.7L940.0,1386.6L941.4,1387.0L942.7,1387.3L943.6,1393.1L944.6,1401.0L945.3,1408.5L945.9,1415.3L946.6,1408.6L947.3,1401.4L948.2,1394.1L949.1,1389.1L950.5,1389.4L951.9,1389.8L952.8,1395.9L953.7,1404.2L954.4,1412.1L955.0,1419.2L955.7,1412.1L956.4,1404.5L957.3,1396.6L958.2,1391.0L959.6,1391.0L961.0,1391.0L961.9,1397.7L962.8,1407.2L963.5,1416.3L964.2,1424.7L964.8,1416.3L965.5,1407.2L966.4,1397.7L967.4,1391.0L968.7,1391.0L970.1,1391.0L971.0,1397.1L971.9,1405.7L972.6,1413.9L973.3,1421.6L973.9,1413.9L974.7,1405.7L975.6,1397.1L976.5,1391.0L977.8,1391.0L979.2,1391.0L980.1,1399.3L981.0,1411.0L981.8,1422.2L982.4,1432.6L983.0,1422.2L983.8,1411.0L984.7,1399.3L985.6,1391.0L987.0,1391.0L988.3,1391.0L989.2,1397.1L990.2,1405.7L990.9,1413.9L991.5,1421.6L992.2,1413.9L992.9,1405.7L993.8,1397.1L994.7,1391.0L996.1,1391.0L997.5,1391.0L998.4,1397.0L999.3,1405.3L1000.0,1413.4L1000.6,1420.8L1001.3,1413.4L1002.0,1405.3L1002.9,1397.0L1003.8,1391.0L1005.2,1391.0L1006.6,1391.0L1007.5,1397.7L1008.4,1407.2L1009.1,1416.3L1009.8,1424.7L1010.4,1416.3L1011.1,1407.2L1012.0,1397.7L1013.0,1391.0L1014.3,1391.0L1015.7,1391.0L1016.6,1398.5L1017.5,1409.1L1018.2,1419.2L1018.9,1428.7L1019.5,1419.2L1020.3,1409.1L1021.2,1398.5L1022.1,1391.0L1023.4,1391.0L1024.8,1391.0L1025.7,1397.1L1026.6,1405.7L1027.4,1413.9L1028.0,1421.6L1028.6,1413.9L1029.4,1405.7L1030.3,1397.1L1031.2,1391.0L1032.6,1391.0L1033.9,1391.0L1034.8,1397.4L1035.8,1406.4L1036.5,1415.1L1037.1,1423.2L1037.8,1415.1L1038.5,1406.4L1039.4,1397.4L1040.3,1391.0L1041.7,1391.0L1043.1,1391.0L1044.0,1396.6L1044.9,1404.5L1045.6,1412.2L1046.2,1419.2L1046.9,1412.2L1047.6,1404.5L1048.5,1396.6L1049.4,1391.0L1050.8,1391.0L1052.2,1391.0L1053.1,1397.1L1054.0,1405.7L1054.7,1413.9L1055.4,1421.6L1056.0,1413.9L1056.7,1405.7L1057.6,1397.1L1058.6,1391.0L1059.9,1391.0L1061.3,1391.0L1062.2,1396.6L1063.1,1404.5L1063.8,1412.2L1064.5,1419.2L1065.1,1412.2L1065.9,1404.5L1066.8,1396.6L1067.7,1391.0L1069.0,1391.0L1070.4,1391.0L1071.3,1396.5L1072.2,1404.2L1073.0,1411.6L1073.6,1418.5L1074.2,1411.6L1075.0,1404.2L1075.9,1396.5L1076.8,1391.0L1078.2,1391.0L1079.5,1391.0L1080.4,1397.1L1081.4,1405.7L1082.1,1413.9L1082.7,1421.6L1083.4,1413.9L1084.1,1405.7L1085.0,1397.1L1085.9,1391.0L1087.3,1391.0L1088.7,1391.0L1089.6,1395.3L1090.5,1401.4L1091.2,1407.4L1091.8,1413.0L1092.5,1407.4L1093.2,1401.3L1094.1,1395.0L1095.0,1390.4L1096.4,1390.3L1097.8,1390.2L1098.7,1393.0L1099.6,1397.0L1100.3,1400.8L1101.0,1404.3L1101.6,1400.8L1102.3,1397.0L1103.2,1393.0L1104.2,1390.2L1105.5,1390.2L1106.9,1390.2L1107.8,1393.2L1108.7,1397.4L1109.4,1401.4L1110.1,1405.1L1110.7,1401.4L1111.5,1397.4L1112.4,1393.2L1113.3,1390.3L1114.6,1390.3L1116.0,1390.3L1116.9,1392.8L1117.8,1396.3L1118.6,1399.6L1119.2,1402.8L1119.8,1399.6L1120.6,1396.3L1121.5,1392.8L1122.4,1390.3L1123.8,1390.3L1125.1,1390.3L1126.0,1393.1L1127.0,1397.0L1127.7,1400.8L1128.3,1404.3L1129.0,1400.8L1129.7,1397.0L1130.6,1393.1L1131.5,1390.3L1132.9,1390.3L1134.3,1390.3L1135.2,1392.3L1136.1,1395.2L1136.8,1397.9L1137.4,1400.4L1138.1,1397.9L1138.8,1395.2L1139.7,1392.4L1140.6,1390.3L1142.0,1390.3L1143.4,1390.4L1144.3,1392.2L1145.2,1394.8L1145.9,1397.3L1146.6,1399.6L1147.2,1397.3L1147.9,1394.8L1148.8,1392.2L1149.8,1390.4L1151.1,1390.4L1152.5,1390.4L1153.4,1392.9L1154.3,1396.3L1155.0,1399.7L1155.7,1402.8L1156.3,1399.7L1157.1,1396.3L1158.0,1392.9L1158.9,1390.4L1160.2,1390.4L1161.6,1390.4L1162.5,1393.2L1163.4,1397.1L1164.2,1400.9L1164.8,1404.3L1165.4,1400.9L1166.2,1397.1L1167.1,1393.2L1168.0,1390.4L1169.4,1390.4L1170.7,1390.4L1171.6,1392.9L1172.6,1396.4L1173.3,1399.7L1173.9,1402.8L1174.6,1399.7L1175.3,1396.4L1176.2,1392.9L1177.1,1390.5L1178.5,1390.5L1179.9,1390.5L1180.8,1393.4L1181.7,1397.5L1182.4,1401.5L1183.0,1405.1L1183.7,1401.5L1184.4,1397.5L1185.3,1393.4L1186.2,1390.5L1187.6,1390.5L1189.0,1390.5L1189.9,1392.6L1190.8,1395.6L1191.5,1398.5L1192.2,1401.2L1192.8,1398.5L1193.5,1395.6L1194.4,1392.7L1195.4,1390.5L1196.7,1390.5L1198.1,1390.5L1199.0,1392.5L1199.9,1395.3L1200.6,1397.9L1201.3,1400.4L1201.9,1397.9L1202.7,1395.3L1203.6,1392.5L1204.5,1390.6L1205.8,1390.6L1207.2,1390.6L1208.1,1392.4L1209.0,1394.9L1209.8,1397.4L1210.4,1399.6L1211.0,1397.4L1211.8,1394.9L1212.7,1392.4L1213.6,1390.6L1215.0,1390.6L1216.3,1390.6L1217.2,1392.1L1218.2,1394.2L1218.9,1396.2L1219.5,1398.0L1220.2,1396.2L1220.9,1394.2L1221.8,1392.1L1222.7,1390.6L1224.1,1390.6L1225.5,1390.6L1226.4,1392.4L1227.3,1394.9L1228.0,1397.4L1228.6,1399.6L1229.3,1397.4L1230.0,1395.0L1230.9,1392.4L1231.8,1390.6L1233.2,1390.7L1234.6,1390.7L1235.5,1393.2L1236.4,1396.8L1237.1,1400.3L1237.8,1403.5L1238.4,1400.3L1239.1,1396.9L1240.0,1393.3L1241.0,1390.7L1242.3,1390.7L1243.7,1390.7L1244.6,1392.5L1245.5,1395.0L1246.2,1397.4L1246.9,1399.6L1247.5,1397.4L1248.3,1395.0L1249.2,1392.5L1250.1,1390.7L1251.4,1390.7L1252.8,1390.7L1253.7,1392.8L1254.6,1395.7L1255.4,1398.6L1256.0,1401.2L1256.6,1398.6L1257.4,1395.8L1258.3,1392.8L1259.2,1390.7L1260.6,1390.7L1261.9,1390.8L1262.8,1393.6L1263.8,1397.6L1264.5,1401.5L1265.1,1405.1L1265.8,1401.5L1266.5,1397.7L1267.4,1393.6L1268.3,1390.8L1269.7,1390.8L1271.1,1390.8L1272.0,1392.7L1272.9,1395.4L1273.6,1398.0L1274.2,1400.4L1274.9,1398.0L1275.6,1395.4L1276.5,1392.7L1277.4,1390.8L1278.8,1390.8L1280.2,1390.8L1281.1,1395.4L1282.0,1401.8L1282.7,1408.0L1283.4,1413.8L1284.0,1408.0L1284.7,1401.8L1285.6,1395.4L1286.6,1390.8L1287.9,1390.8L1289.3,1390.8L1290.2,1395.7L1291.1,1402.6L1291.8,1409.2L1292.5,1415.3L1293.1,1409.2L1293.9,1402.6L1294.8,1395.8L1295.7,1390.9L1297.0,1390.9L1298.4,1390.9L1299.3,1397.3L1300.2,1406.4L1301.0,1415.1L1301.6,1423.2L1302.2,1415.1L1303.0,1406.4L1303.9,1397.3L1304.8,1390.9L1306.2,1390.9L1307.5,1390.9L1308.4,1400.0L1309.4,1412.8L1310.1,1425.1L1310.7,1436.5L1311.4,1425.1L1312.1,1412.8L1313.0,1400.0L1313.9,1390.9L1315.3,1390.9L1316.7,1390.9L1317.6,1402.5L1318.5,1418.7L1319.2,1434.2L1319.8,1448.7L1320.5,1434.2L1321.2,1418.7L1322.1,1402.5L1323.0,1391.0L1324.4,1391.0L1325.8,1391.0L1326.7,1398.0L1327.6,1407.9L1328.3,1417.5L1329.0,1426.3L1329.6,1417.5L1330.3,1407.9L1331.2,1398.0L1332.0,1391.0L1332.0,1374.5Z" fill="#7fcdbb"/>
<path d="M869.5,1377.9L869.9,1376.7L871.1,1372.9L872.2,1369.1L873.3,1365.7L874.5,1369.0L875.6,1372.8L876.8,1376.5L877.9,1379.8L879.0,1376.5L880.2,1372.6L881.3,1368.8L882.5,1365.4L883.6,1368.7L884.7,1372.5L885.9,1376.3L887.0,1379.7L888.2,1376.2L889.3,1372.4L890.4,1368.5L891.6,1365.0L892.7,1368.4L893.9,1372.2L895.0,1376.1L896.1,1379.5L897.3,1376.0L898.4,1372.1L899.6,1368.2L900.7,1364.7L901.8,1368.1L903.0,1372.0L904.1,1375.9L905.3,1379.3L906.4,1375.8L907.5,1371.8L908.7,1367.9L909.8,1364.3L911.0,1367.8L912.1,1371.7L913.2,1375.6L914.4,1379.1L915.5,1375.6L916.7,1371.6L917.8,1367.5L918.9,1364.0L920.1,1367.5L921.2,1371.4L922.4,1375.4L923.5,1379.0L924.6,1375.4L925.8,1371.3L926.9,1367.2L928.1,1363.6L929.2,1367.2L930.3,1371.2L931.5,1375.2L932.6,1378.8L933.8,1375.2L934.9,1371.1L936.0,1366.9L937.2,1363.3L938.3,1366.9L939.5,1370.9L940.6,1375.0L941.7,1378.6L942.9,1374.9L944.0,1370.8L945.2,1366.6L946.3,1362.9L947.4,1366.5L948.6,1370.7L949.7,1374.8L950.9,1378.4L952.0,1374.7L953.1,1370.6L954.3,1366.4L955.4,1362.8L956.6,1366.4L957.7,1370.6L958.8,1374.7L960.0,1378.4L961.1,1374.7L962.3,1370.6L963.4,1366.5L964.5,1362.9L965.7,1366.5L966.8,1370.6L968.0,1374.7L969.1,1378.4L970.2,1374.7L971.4,1370.6L972.5,1366.6L973.7,1362.9L974.8,1366.6L975.9,1370.7L977.1,1374.8L978.2,1378.4L979.4,1374.8L980.5,1370.7L981.6,1366.6L982.8,1363.0L983.9,1366.6L985.1,1370.7L986.2,1374.8L987.3,1378.3L988.5,1374.8L989.6,1370.7L990.8,1366.7L991.9,1363.1L993.0,1366.7L994.2,1370.7L995.3,1374.8L996.5,1378.3L997.6,1374.8L998.7,1370.7L999.9,1366.7L1001.0,1363.2L1002.2,1366.8L1003.3,1370.8L1004.4,1374.8L1005.6,1378.3L1006.7,1374.8L1007.9,1370.8L1009.0,1366.8L1010.1,1363.3L1011.3,1366.8L1012.4,1370.8L1013.6,1374.8L1014.7,1378.3L1015.8,1374.8L1017.0,1370.8L1018.1,1366.9L1019.3,1363.4L1020.4,1366.9L1021.5,1370.8L1022.7,1374.8L1023.8,1378.2L1025.0,1374.8L1026.1,1370.8L1027.2,1366.9L1028.4,1363.5L1029.5,1366.9L1030.7,1370.9L1031.8,1374.8L1032.9,1378.2L1034.1,1374.8L1035.2,1370.9L1036.4,1367.0L1037.5,1363.6L1038.6,1367.0L1039.8,1370.9L1040.9,1374.8L1042.1,1378.2L1043.2,1374.8L1044.3,1370.9L1045.5,1367.1L1046.6,1363.7L1047.8,1367.1L1048.9,1370.9L1050.0,1374.8L1051.2,1378.2L1052.3,1374.8L1053.5,1370.9L1054.6,1367.1L1055.7,1363.7L1056.9,1367.1L1058.0,1371.0L1059.2,1374.8L1060.3,1378.1L1061.4,1374.8L1062.6,1371.0L1063.7,1367.2L1064.9,1363.8L1066.0,1367.2L1067.1,1371.0L1068.3,1374.8L1069.4,1378.1L1070.6,1374.8L1071.7,1371.0L1072.8,1367.2L1074.0,1363.9L1075.1,1367.3L1076.3,1371.0L1077.4,1374.8L1078.5,1378.1L1079.7,1374.8L1080.8,1371.0L1082.0,1367.3L1083.1,1364.0L1084.2,1367.3L1085.4,1371.1L1086.5,1374.8L1087.7,1378.1L1088.8,1374.8L1089.9,1371.1L1091.1,1367.4L1092.2,1364.1L1093.4,1367.4L1094.5,1371.1L1095.6,1374.8L1096.8,1378.0L1097.9,1374.8L1099.1,1371.1L1100.2,1367.4L1101.3,1364.2L1102.5,1367.4L1103.6,1371.1L1104.8,1374.8L1105.9,1378.0L1107.0,1374.8L1108.2,1371.1L1109.3,1367.5L1110.5,1364.3L1111.6,1367.5L1112.7,1371.2L1113.9,1374.8L1115.0,1378.0L1116.2,1374.8L1117.3,1371.2L1118.4,1367.6L1119.6,1364.4L1120.7,1367.6L1121.9,1371.2L1123.0,1374.8L1124.1,1378.0L1125.3,1374.8L1126.4,1371.2L1127.6,1367.6L1128.7,1364.5L1129.8,1367.6L1131.0,1371.2L1132.1,1374.8L1133.3,1378.0L1134.4,1374.8L1135.5,1371.2L1136.7,1367.7L1137.8,1364.5L1139.0,1367.7L1140.1,1371.3L1141.2,1374.8L1142.4,1377.9L1143.5,1374.8L1144.7,1371.3L1145.8,1367.7L1146.9,1364.6L1148.1,1367.8L1149.2,1371.3L1150.4,1374.8L1151.5,1377.9L1152.6,1374.8L1153.8,1371.3L1154.9,1367.8L1156.1,1364.7L1157.2,1367.8L1158.3,1371.3L1159.5,1374.8L1160.6,1377.9L1161.8,1374.8L1162.9,1371.3L1164.0,1367.9L1165.2,1364.8L1166.3,1367.9L1167.5,1371.3L1168.6,1374.8L1169.7,1377.9L1170.9,1374.8L1172.0,1371.4L1173.2,1367.9L1174.3,1364.9L1175.4,1367.9L1176.6,1371.4L1177.7,1374.8L1178.9,1377.8L1180.0,1374.8L1181.1,1371.4L1182.3,1368.0L1183.4,1365.0L1184.6,1368.0L1185.7,1371.4L1186.8,1374.8L1188.0,1377.8L1189.1,1374.8L1190.3,1371.4L1191.4,1368.1L1192.5,1365.1L1193.7,1368.1L1194.8,1371.4L1196.0,1374.8L1197.1,1377.8L1198.2,1374.8L1199.4,1371.5L1200.5,1368.1L1201.7,1365.2L1202.8,1368.1L1203.9,1371.5L1205.1,1374.8L1206.2,1377.8L1207.4,1374.8L1208.5,1371.5L1209.6,1368.2L1210.8,1365.3L1211.9,1368.2L1213.1,1371.5L1214.2,1374.8L1215.3,1377.7L1216.5,1374.8L1217.6,1371.5L1218.8,1368.2L1219.9,1365.3L1221.0,1368.3L1222.2,1371.5L1223.3,1374.8L1224.5,1377.7L1225.6,1374.8L1226.7,1371.6L1227.9,1368.3L1229.0,1365.4L1230.2,1368.3L1231.3,1371.6L1232.4,1374.8L1233.6,1377.7L1234.7,1374.8L1235.9,1371.6L1237.0,1368.4L1238.1,1365.5L1239.3,1368.4L1240.4,1371.6L1241.6,1374.8L1242.7,1377.7L1243.8,1374.8L1245.0,1371.6L1246.1,1368.4L1247.3,1365.6L1248.4,1368.4L1249.5,1371.6L1250.7,1374.8L1251.8,1377.6L1253.0,1374.8L1254.1,1371.7L1255.2,1368.5L1256.4,1365.7L1257.5,1368.5L1258.7,1371.7L1259.8,1374.8L1260.9,1377.6L1262.1,1374.8L1263.2,1371.7L1264.4,1368.6L1265.5,1365.8L1266.6,1368.6L1267.8,1371.7L1268.9,1374.8L1270.1,1377.6L1271.2,1374.8L1272.3,1371.7L1273.5,1368.6L1274.6,1365.9L1275.8,1368.6L1276.9,1371.7L1278.0,1374.8L1279.2,1377.6L1280.3,1374.8L1281.5,1371.6L1282.6,1368.5L1283.7,1365.7L1284.9,1368.3L1286.0,1371.3L1287.2,1374.2L1288.3,1376.9L1289.4,1374.1L1290.6,1370.9L1291.7,1367.8L1292.9,1365.0L1294.0,1367.6L1295.1,1370.6L1296.3,1373.5L1297.4,1376.1L1298.6,1373.3L1299.7,1370.2L1300.8,1367.1L1302.0,1364.3L1303.1,1366.9L1304.3,1369.8L1305.4,1372.8L1306.5,1375.3L1307.7,1372.6L1308.8,1369.5L1310.0,1366.4L1311.1,1363.7L1312.2,1366.2L1313.4,1369.1L1314.5,1372.0L1315.7,1374.5L1316.8,1371.8L1317.9,1368.8L1319.1,1365.7L1320.2,1363.0L1321.4,1365.5L1322.5,1368.4L1323.6,1371.3L1324.8,1373.8L1325.9,1371.1L1327.1,1368.1L1328.2,1365.0L1329.3,1362.4L1330.5,1364.9L1331.6,1367.7L1332.8,1370.5L1333.9,1373.1L1335.0,1370.4L1336.2,1367.2L1337.3,1363.9L1338.5,1360.9L1339.6,1363.6L1340.7,1366.7L1341.9,1370.0L1343.0,1372.9L1344.2,1369.8L1345.3,1366.2L1346.4,1362.5L1347.6,1359.2L1348.7,1362.2L1349.9,1365.8L1351.0,1369.4L1352.1,1372.8L1353.3,1369.3L1354.4,1365.3L1355.6,1361.2L1356.7,1357.4L1357.8,1360.8L1359.0,1364.8L1360.1,1368.9L1361.3,1372.6L1362.4,1368.7L1363.5,1364.3L1364.7,1359.8L1365.8,1355.7L1367.0,1359.4L1368.1,1363.8L1369.2,1368.3L1370.4,1372.4L1371.5,1368.2L1372.7,1363.2L1373.8,1358.2L1374.9,1353.7L1376.1,1357.7L1377.2,1362.5L1378.4,1367.3L1379.5,1371.7L1380.6,1367.0L1381.8,1361.7L1382.9,1356.2L1384.1,1351.3L1385.2,1355.7L1386.3,1360.9L1387.5,1366.2L1388.6,1370.9L1389.8,1365.9L1390.9,1360.1L1392.0,1354.2L1393.2,1348.9L1394.3,1353.7L1395.5,1359.3L1396.6,1365.0L1397.7,1370.1L1398.9,1364.7L1400.0,1358.5L1401.2,1352.3L1402.3,1346.6L1403.4,1351.8L1404.6,1357.7L1405.7,1363.8L1406.9,1369.3L1408.0,1363.6L1409.1,1357.0L1410.3,1350.3L1411.4,1344.2L1412.6,1349.8L1413.7,1356.2L1414.8,1362.7L1416.0,1368.5L1417.1,1362.4L1418.3,1355.2L1419.4,1348.0L1420.5,1341.4L1421.7,1347.2L1422.8,1353.9L1424.0,1360.7L1425.1,1366.7L1426.2,1360.1L1427.4,1352.5L1428.5,1344.9L1429.7,1338.0L1430.8,1344.1L1431.9,1351.2L1433.1,1358.4L1434.2,1364.8L1435.4,1357.8L1436.5,1349.9L1437.6,1341.8L1438.8,1334.5L1439.9,1341.0L1441.1,1348.5L1442.2,1356.2L1443.3,1362.9L1444.5,1355.6L1445.6,1347.2L1446.8,1338.7L1447.9,1331.0L1449.0,1337.9L1450.2,1345.9L1451.3,1353.9L1452.5,1361.1L1453.6,1353.3L1454.7,1344.5L1455.9,1335.6L1457.0,1327.6L1458.2,1334.8L1459.3,1343.2L1460.4,1351.8L1461.6,1359.4L1462.7,1351.6L1463.9,1343.0L1465.0,1334.5L1466.1,1327.0L1467.3,1334.5L1468.4,1342.9L1469.6,1351.2L1470.7,1358.4L1471.8,1351.0L1473.0,1342.8L1474.1,1334.6L1475.3,1327.5L1476.4,1334.7L1477.5,1342.7L1478.7,1350.6L1479.8,1357.5L1481.0,1350.4L1482.1,1342.6L1483.2,1334.8L1484.4,1328.1L1485.5,1334.9L1486.7,1342.5L1487.8,1350.0L1488.9,1356.5L1490.1,1349.8L1491.2,1342.4L1492.4,1335.0L1493.5,1328.6L1494.6,1335.1L1495.8,1342.3L1496.9,1349.4L1498.1,1355.6L1499.2,1349.2L1500.3,1342.2L1501.5,1335.2L1502.6,1329.1L1503.8,1335.2L1504.9,1342.1L1506.0,1348.8L1507.2,1354.6L1508.3,1348.6L1509.5,1342.0L1510.6,1335.3L1511.7,1329.6L1512.9,1335.4L1514.0,1341.9L1515.2,1348.3L1516.3,1353.9L1517.4,1348.2L1518.6,1341.8L1519.7,1335.4L1520.9,1329.9L1522.0,1335.4L1523.1,1341.6L1524.3,1347.8L1525.4,1353.2L1526.6,1347.7L1527.7,1341.5L1528.8,1335.5L1530.0,1330.2L1531.1,1335.5L1532.3,1341.4L1533.4,1347.3L1534.5,1352.4L1535.7,1347.2L1536.8,1341.3L1538.0,1335.6L1539.1,1330.5L1540.2,1335.6L1541.4,1341.2L1542.5,1346.8L1543.7,1351.7L1544.8,1346.7L1545.9,1341.1L1547.1,1335.6L1548.2,1330.8L1549.4,1335.6L1550.5,1341.0L1551.6,1346.3L1552.8,1351.0L1553.9,1346.2L1555.1,1340.9L1556.2,1335.7L1557.3,1331.1L1558.5,1335.7L1559.6,1340.8L1560.8,1345.8L1561.9,1350.2L1563.0,1345.7L1564.2,1340.7L1564.4,1339.5" fill="none" stroke="#4d4d4d" stroke-width="3.8" stroke-linejoin="round"/>
</g>
<line x1="1332.0" y1="1296.0" x2="1332.0" y2="1453.0" stroke="#c59fe0" stroke-width="12" stroke-dasharray="12.5 11.5"/>
<line x1="1512.3" y1="1296.0" x2="1512.3" y2="1453.0" stroke="#c59fe0" stroke-width="12"/>
<line x1="869.5" y1="1296.0" x2="1563.0" y2="1296.0" stroke="#262626" stroke-width="2" />
<line x1="869.5" y1="1295.0" x2="869.5" y2="1454.0" stroke="#262626" stroke-width="2" />
<line x1="869.5" y1="1453.0" x2="876.5" y2="1453.0" stroke="#262626" stroke-width="2" />
<line x1="1143.0" y1="1296.0" x2="1143.0" y2="1303.0" stroke="#262626" stroke-width="2" />
<line x1="1426.0" y1="1296.0" x2="1426.0" y2="1303.0" stroke="#262626" stroke-width="2" />
<text x="806.6" y="1307.8" font-size="31.4" fill="#262626" text-anchor="start" >0.68</text>
<text x="806.7" y="1386.1" font-size="31.4" fill="#262626" text-anchor="start" >0.00</text>
<text x="796.1" y="1465.0" font-size="31.4" fill="#262626" text-anchor="start" >-0.68</text>
<text x="889.3" y="1442.0" font-size="38.6" fill="#000" text-anchor="start" >L8</text>
<clipPath id="cp7"><rect x="869.5" y="1481.1000000000001" width="693.5" height="157"/></clipPath>
<g clip-path="url(#cp7)">
<path d="M869.5,1559.6L869.5,1558.8L869.8,1558.8L870.7,1549.3L871.6,1536.1L872.3,1523.3L873.0,1511.4L873.6,1523.3L874.3,1536.1L875.2,1549.3L876.2,1558.8L877.5,1558.8L878.9,1558.8L879.8,1551.5L880.7,1541.3L881.4,1531.5L882.1,1522.3L882.7,1531.5L883.5,1541.3L884.4,1551.5L885.3,1558.8L886.6,1558.8L888.0,1558.8L888.9,1550.6L889.8,1539.2L890.6,1528.1L891.2,1517.9L891.8,1528.1L892.6,1539.2L893.5,1550.6L894.4,1558.8L895.8,1558.8L897.1,1558.8L898.0,1551.1L899.0,1540.2L899.7,1529.8L900.3,1520.1L901.0,1529.8L901.7,1540.2L902.6,1551.1L903.5,1558.8L904.9,1558.8L906.3,1558.8L907.2,1549.2L908.1,1535.6L908.8,1522.6L909.4,1510.5L910.1,1522.6L910.8,1535.6L911.7,1549.2L912.6,1558.8L914.0,1558.8L915.4,1558.8L916.3,1550.5L917.2,1538.8L917.9,1527.5L918.6,1517.1L919.2,1527.5L919.9,1538.8L920.8,1550.5L921.8,1558.8L923.1,1558.8L924.5,1558.8L925.4,1549.0L926.3,1535.2L927.0,1522.0L927.7,1509.7L928.3,1522.0L929.1,1535.2L930.0,1549.0L930.9,1558.8L932.2,1558.8L933.6,1558.5L934.5,1548.6L935.4,1535.9L936.2,1524.3L936.8,1514.1L937.4,1523.9L938.2,1534.1L939.1,1544.1L940.0,1551.1L941.4,1550.4L942.7,1549.6L943.6,1541.2L944.6,1529.9L945.3,1519.3L945.9,1509.6L946.6,1519.1L947.3,1529.1L948.2,1539.2L949.1,1546.1L950.5,1545.4L951.9,1544.7L952.8,1536.2L953.7,1524.8L954.4,1514.1L955.0,1504.4L955.7,1513.9L956.4,1524.1L957.3,1534.7L958.2,1542.3L959.6,1542.3L961.0,1542.3L961.9,1533.7L962.8,1521.6L963.5,1510.0L964.2,1499.2L964.8,1510.0L965.5,1521.6L966.4,1533.7L967.4,1542.3L968.7,1542.3L970.1,1542.3L971.0,1534.7L971.9,1524.1L972.6,1513.8L973.3,1504.3L973.9,1513.8L974.7,1524.1L975.6,1534.7L976.5,1542.3L977.8,1542.3L979.2,1542.3L980.1,1532.0L981.0,1517.5L981.8,1503.5L982.4,1490.6L983.0,1503.5L983.8,1517.5L984.7,1532.0L985.6,1542.3L987.0,1542.3L988.3,1542.3L989.2,1534.0L990.2,1522.4L990.9,1511.2L991.5,1500.8L992.2,1511.2L992.9,1522.4L993.8,1534.0L994.7,1542.3L996.1,1542.3L997.5,1542.3L998.4,1534.9L999.3,1524.6L1000.0,1514.6L1000.6,1505.4L1001.3,1514.6L1002.0,1524.6L1002.9,1534.9L1003.8,1542.3L1005.2,1542.3L1006.6,1542.3L1007.5,1535.0L1008.4,1524.7L1009.1,1514.8L1009.8,1505.6L1010.4,1514.8L1011.1,1524.7L1012.0,1535.0L1013.0,1542.3L1014.3,1542.3L1015.7,1542.3L1016.6,1534.3L1017.5,1523.0L1018.2,1512.2L1018.9,1502.1L1019.5,1512.2L1020.3,1523.0L1021.2,1534.3L1022.1,1542.3L1023.4,1542.3L1024.8,1542.3L1025.7,1534.5L1026.6,1523.5L1027.4,1512.9L1028.0,1503.1L1028.6,1512.9L1029.4,1523.5L1030.3,1534.5L1031.2,1542.3L1032.6,1542.3L1033.9,1542.3L1034.8,1535.1L1035.8,1525.0L1036.5,1515.2L1037.1,1506.2L1037.8,1515.2L1038.5,1525.0L1039.4,1535.1L1040.3,1542.3L1041.7,1542.3L1043.1,1542.3L1044.0,1535.3L1044.9,1525.4L1045.6,1515.9L1046.2,1507.1L1046.9,1515.9L1047.6,1525.4L1048.5,1535.3L1049.4,1542.3L1050.8,1542.3L1052.2,1542.3L1053.1,1535.9L1054.0,1526.9L1054.7,1518.2L1055.4,1510.1L1056.0,1518.2L1056.7,1526.9L1057.6,1535.9L1058.6,1542.3L1059.9,1542.3L1061.3,1542.3L1062.2,1535.6L1063.1,1526.3L1063.8,1517.2L1064.5,1508.9L1065.1,1517.2L1065.9,1526.3L1066.8,1535.6L1067.7,1542.3L1069.0,1542.3L1070.4,1542.3L1071.3,1535.3L1072.2,1525.3L1073.0,1515.8L1073.6,1506.9L1074.2,1515.8L1075.0,1525.3L1075.9,1535.3L1076.8,1542.3L1078.2,1542.3L1079.5,1542.3L1080.4,1535.4L1081.4,1525.8L1082.1,1516.5L1082.7,1507.8L1083.4,1516.5L1084.1,1525.8L1085.0,1535.4L1085.9,1542.3L1087.3,1542.3L1088.7,1542.5L1089.6,1537.8L1090.5,1530.8L1091.2,1523.9L1091.8,1517.2L1092.5,1524.0L1093.2,1531.6L1094.1,1539.7L1095.0,1545.8L1096.4,1546.5L1097.8,1547.0L1098.7,1542.6L1099.6,1536.4L1100.3,1530.4L1101.0,1524.9L1101.6,1530.4L1102.3,1536.4L1103.2,1542.6L1104.2,1547.1L1105.5,1547.1L1106.9,1547.1L1107.8,1542.9L1108.7,1537.1L1109.4,1531.5L1110.1,1526.3L1110.7,1531.5L1111.5,1537.1L1112.4,1542.9L1113.3,1547.1L1114.6,1547.1L1116.0,1547.1L1116.9,1543.0L1117.8,1537.2L1118.6,1531.6L1119.2,1526.4L1119.8,1531.6L1120.6,1537.2L1121.5,1543.0L1122.4,1547.1L1123.8,1547.2L1125.1,1547.2L1126.0,1542.5L1127.0,1536.0L1127.7,1529.7L1128.3,1523.8L1129.0,1529.7L1129.7,1536.0L1130.6,1542.5L1131.5,1547.2L1132.9,1547.2L1134.3,1547.2L1135.2,1543.5L1136.1,1538.4L1136.8,1533.5L1137.4,1528.9L1138.1,1533.5L1138.8,1538.4L1139.7,1543.6L1140.6,1547.2L1142.0,1547.2L1143.4,1547.2L1144.3,1543.8L1145.2,1538.9L1145.9,1534.3L1146.6,1529.9L1147.2,1534.3L1147.9,1538.9L1148.8,1543.8L1149.8,1547.3L1151.1,1547.3L1152.5,1547.3L1153.4,1543.8L1154.3,1539.0L1155.0,1534.3L1155.7,1530.0L1156.3,1534.3L1157.1,1539.0L1158.0,1543.8L1158.9,1547.3L1160.2,1547.3L1161.6,1547.3L1162.5,1543.0L1163.4,1536.8L1164.2,1530.9L1164.8,1525.5L1165.4,1530.9L1166.2,1536.8L1167.1,1543.0L1168.0,1547.3L1169.4,1547.3L1170.7,1547.4L1171.6,1542.7L1172.6,1536.3L1173.3,1530.0L1173.9,1524.2L1174.6,1530.0L1175.3,1536.3L1176.2,1542.8L1177.1,1547.4L1178.5,1547.4L1179.9,1547.4L1180.8,1543.4L1181.7,1537.9L1182.4,1532.5L1183.0,1527.6L1183.7,1532.6L1184.4,1537.9L1185.3,1543.5L1186.2,1547.4L1187.6,1547.4L1189.0,1547.4L1189.9,1543.6L1190.8,1538.3L1191.5,1533.1L1192.2,1528.3L1192.8,1533.1L1193.5,1538.3L1194.4,1543.6L1195.4,1547.5L1196.7,1547.5L1198.1,1547.5L1199.0,1543.4L1199.9,1537.7L1200.6,1532.2L1201.3,1527.1L1201.9,1532.2L1202.7,1537.7L1203.6,1543.4L1204.5,1547.5L1205.8,1547.5L1207.2,1547.5L1208.1,1543.9L1209.0,1538.8L1209.8,1534.0L1210.4,1529.4L1211.0,1534.0L1211.8,1538.9L1212.7,1543.9L1213.6,1547.5L1215.0,1547.5L1216.3,1547.6L1217.2,1543.8L1218.2,1538.4L1218.9,1533.3L1219.5,1528.6L1220.2,1533.3L1220.9,1538.4L1221.8,1543.8L1222.7,1547.6L1224.1,1547.6L1225.5,1547.6L1226.4,1543.0L1227.3,1536.6L1228.0,1530.5L1228.6,1524.8L1229.3,1530.5L1230.0,1536.6L1230.9,1543.0L1231.8,1547.6L1233.2,1547.6L1234.6,1547.6L1235.5,1542.7L1236.4,1535.8L1237.1,1529.1L1237.8,1522.9L1238.4,1529.1L1239.1,1535.8L1240.0,1542.7L1241.0,1547.7L1242.3,1547.7L1243.7,1547.7L1244.6,1543.1L1245.5,1536.8L1246.2,1530.6L1246.9,1524.9L1247.5,1530.6L1248.3,1536.8L1249.2,1543.1L1250.1,1547.7L1251.4,1547.7L1252.8,1547.7L1253.7,1542.3L1254.6,1534.8L1255.4,1527.5L1256.0,1520.7L1256.6,1527.5L1257.4,1534.8L1258.3,1542.3L1259.2,1547.7L1260.6,1547.7L1261.9,1547.7L1262.8,1542.2L1263.8,1534.5L1264.5,1527.0L1265.1,1520.1L1265.8,1527.0L1266.5,1534.5L1267.4,1542.2L1268.3,1547.8L1269.7,1547.8L1271.1,1547.8L1272.0,1541.5L1272.9,1532.7L1273.6,1524.3L1274.2,1516.4L1274.9,1524.3L1275.6,1532.7L1276.5,1541.5L1277.4,1547.8L1278.8,1547.8L1280.2,1547.8L1281.1,1540.6L1282.0,1530.6L1282.7,1521.1L1283.4,1512.3L1284.0,1521.0L1284.7,1530.4L1285.6,1540.1L1286.6,1546.9L1287.9,1546.7L1289.3,1546.5L1290.2,1538.8L1291.1,1528.2L1291.8,1518.1L1292.5,1508.7L1293.1,1518.0L1293.9,1528.0L1294.8,1538.3L1295.7,1545.6L1297.0,1545.4L1298.4,1545.2L1299.3,1535.6L1300.2,1522.2L1301.0,1509.5L1301.6,1497.7L1302.2,1509.4L1303.0,1522.0L1303.9,1535.0L1304.8,1544.3L1306.2,1544.1L1307.5,1543.4L1308.4,1529.9L1309.4,1512.3L1310.1,1496.2L1310.7,1481.9L1311.4,1495.6L1312.1,1509.8L1313.0,1523.6L1313.9,1532.4L1315.3,1530.1L1316.7,1528.1L1317.6,1518.8L1318.5,1505.9L1319.2,1493.6L1319.8,1482.3L1320.5,1493.5L1321.2,1505.6L1322.1,1518.0L1323.0,1526.7L1324.4,1526.4L1325.8,1526.1L1326.7,1519.5L1327.6,1510.5L1328.3,1502.0L1329.0,1494.1L1329.6,1501.9L1330.3,1510.2L1331.2,1518.7L1332.2,1524.7L1333.5,1524.4L1334.9,1524.0L1335.8,1518.6L1336.7,1511.2L1337.2,1523.5L1337.2,1559.6Z" fill="#ff800e"/>
<path d="M869.5,1559.6L869.5,1561.2L869.8,1561.2L870.7,1568.9L871.6,1579.6L872.3,1590.0L873.0,1599.6L873.6,1590.0L874.3,1579.6L875.2,1568.9L876.2,1561.2L877.5,1561.2L878.9,1561.2L879.8,1566.8L880.7,1574.7L881.4,1582.4L882.1,1589.4L882.7,1582.4L883.5,1574.7L884.4,1566.8L885.3,1561.2L886.6,1561.2L888.0,1561.2L888.9,1567.6L889.8,1576.6L890.6,1585.3L891.2,1593.4L891.8,1585.3L892.6,1576.6L893.5,1567.6L894.4,1561.2L895.8,1561.2L897.1,1561.2L898.0,1566.7L899.0,1574.4L899.7,1581.8L900.3,1588.6L901.0,1581.8L901.7,1574.4L902.6,1566.7L903.5,1561.2L904.9,1561.2L906.3,1561.2L907.2,1567.8L908.1,1577.0L908.8,1585.9L909.4,1594.1L910.1,1585.9L910.8,1577.0L911.7,1567.8L912.6,1561.2L914.0,1561.2L915.4,1561.2L916.3,1567.6L917.2,1576.6L917.9,1585.3L918.6,1593.4L919.2,1585.3L919.9,1576.6L920.8,1567.6L921.8,1561.2L923.1,1561.2L924.5,1561.2L925.4,1568.5L926.3,1578.9L927.0,1588.8L927.7,1598.1L928.3,1588.8L929.1,1578.9L930.0,1568.5L930.9,1561.2L932.2,1561.2L933.6,1561.6L934.5,1569.9L935.4,1580.4L936.2,1589.9L936.8,1598.1L937.4,1590.3L938.2,1582.5L939.1,1574.9L940.0,1569.4L941.4,1569.9L942.7,1570.4L943.6,1576.7L944.6,1585.2L945.3,1593.2L945.9,1600.4L946.6,1593.3L947.3,1585.7L948.2,1578.0L949.1,1572.8L950.5,1573.3L951.9,1573.7L952.8,1580.1L953.7,1588.8L954.4,1596.9L955.0,1604.3L955.7,1597.0L956.4,1589.2L957.3,1581.1L958.2,1575.3L959.6,1575.3L961.0,1575.4L961.9,1582.3L962.8,1591.9L963.5,1601.2L964.2,1609.8L964.8,1601.2L965.5,1591.9L966.4,1582.3L967.4,1575.4L968.7,1575.4L970.1,1575.5L971.0,1581.7L971.9,1590.5L972.6,1598.9L973.3,1606.7L973.9,1598.9L974.7,1590.5L975.6,1581.8L976.5,1575.5L977.8,1575.6L979.2,1575.6L980.1,1584.0L981.0,1595.8L981.8,1607.2L982.4,1617.7L983.0,1607.2L983.8,1595.8L984.7,1584.0L985.6,1575.6L987.0,1575.7L988.3,1575.7L989.2,1581.9L990.2,1590.6L990.9,1599.0L991.5,1606.7L992.2,1599.0L992.9,1590.6L993.8,1581.9L994.7,1575.8L996.1,1575.8L997.5,1575.8L998.4,1581.8L999.3,1590.3L1000.0,1598.4L1000.6,1605.9L1001.3,1598.4L1002.0,1590.3L1002.9,1581.9L1003.8,1575.9L1005.2,1575.9L1006.6,1575.9L1007.5,1582.7L1008.4,1592.2L1009.1,1601.4L1009.8,1609.8L1010.4,1601.4L1011.1,1592.2L1012.0,1582.7L1013.0,1576.0L1014.3,1576.0L1015.7,1576.0L1016.6,1583.6L1017.5,1594.1L1018.2,1604.3L1018.9,1613.8L1019.5,1604.3L1020.3,1594.2L1021.2,1583.6L1022.1,1576.1L1023.4,1576.1L1024.8,1576.1L1025.7,1582.2L1026.6,1590.8L1027.4,1599.1L1028.0,1606.7L1028.6,1599.1L1029.4,1590.8L1030.3,1582.3L1031.2,1576.2L1032.6,1576.2L1033.9,1576.2L1034.8,1582.6L1035.8,1591.6L1036.5,1600.3L1037.1,1608.3L1037.8,1600.3L1038.5,1591.6L1039.4,1582.7L1040.3,1576.3L1041.7,1576.3L1043.1,1576.3L1044.0,1581.9L1044.9,1589.8L1045.6,1597.3L1046.2,1604.3L1046.9,1597.4L1047.6,1589.8L1048.5,1582.0L1049.4,1576.4L1050.8,1576.4L1052.2,1576.4L1053.1,1582.5L1054.0,1591.0L1054.7,1599.1L1055.4,1606.7L1056.0,1599.1L1056.7,1591.0L1057.6,1582.5L1058.6,1576.5L1059.9,1576.5L1061.3,1576.5L1062.2,1582.1L1063.1,1589.9L1063.8,1597.4L1064.5,1604.3L1065.1,1597.4L1065.9,1589.9L1066.8,1582.2L1067.7,1576.6L1069.0,1576.6L1070.4,1576.7L1071.3,1582.0L1072.2,1589.6L1073.0,1596.8L1073.6,1603.6L1074.2,1596.8L1075.0,1589.6L1075.9,1582.1L1076.8,1576.7L1078.2,1576.7L1079.5,1576.8L1080.4,1582.8L1081.4,1591.1L1082.1,1599.2L1082.7,1606.7L1083.4,1599.2L1084.1,1591.2L1085.0,1582.8L1085.9,1576.8L1087.3,1576.9L1088.7,1576.9L1089.6,1581.1L1090.5,1587.0L1091.2,1592.8L1091.8,1598.1L1092.5,1592.8L1093.2,1587.0L1094.1,1581.1L1095.0,1576.9L1096.4,1576.9L1097.8,1576.9L1098.7,1578.8L1099.6,1581.5L1100.3,1584.1L1101.0,1586.4L1101.6,1584.1L1102.3,1581.5L1103.2,1578.8L1104.2,1576.9L1105.5,1576.9L1106.9,1576.9L1107.8,1578.9L1108.7,1581.8L1109.4,1584.6L1110.1,1587.2L1110.7,1584.6L1111.5,1581.8L1112.4,1578.9L1113.3,1576.9L1114.6,1576.9L1116.0,1576.9L1116.9,1578.5L1117.8,1580.8L1118.6,1583.0L1119.2,1585.0L1119.8,1583.0L1120.6,1580.8L1121.5,1578.5L1122.4,1576.9L1123.8,1576.9L1125.1,1576.9L1126.0,1578.8L1127.0,1581.5L1127.7,1584.1L1128.3,1586.4L1129.0,1584.1L1129.7,1581.5L1130.6,1578.8L1131.5,1576.9L1132.9,1576.9L1134.3,1576.9L1135.2,1578.1L1136.1,1579.8L1136.8,1581.4L1137.4,1582.9L1138.1,1581.4L1138.8,1579.8L1139.7,1578.1L1140.6,1576.9L1142.0,1576.9L1143.4,1576.9L1144.3,1577.9L1145.2,1579.4L1145.9,1580.9L1146.6,1582.2L1147.2,1580.9L1147.9,1579.4L1148.8,1577.9L1149.8,1576.9L1151.1,1576.9L1152.5,1576.9L1153.4,1578.5L1154.3,1580.8L1155.0,1583.0L1155.7,1585.0L1156.3,1583.0L1157.1,1580.8L1158.0,1578.5L1158.9,1576.9L1160.2,1576.9L1161.6,1576.9L1162.5,1578.8L1163.4,1581.5L1164.2,1584.1L1164.8,1586.4L1165.4,1584.1L1166.2,1581.5L1167.1,1578.8L1168.0,1576.9L1169.4,1576.9L1170.7,1576.9L1171.6,1578.5L1172.6,1580.8L1173.3,1583.0L1173.9,1585.0L1174.6,1583.0L1175.3,1580.8L1176.2,1578.5L1177.1,1576.9L1178.5,1576.9L1179.9,1576.9L1180.8,1578.9L1181.7,1581.8L1182.4,1584.6L1183.0,1587.2L1183.7,1584.6L1184.4,1581.8L1185.3,1578.9L1186.2,1576.9L1187.6,1576.9L1189.0,1576.9L1189.9,1578.2L1190.8,1580.1L1191.5,1581.9L1192.2,1583.6L1192.8,1581.9L1193.5,1580.1L1194.4,1578.2L1195.4,1576.9L1196.7,1576.9L1198.1,1576.9L1199.0,1578.1L1199.9,1579.8L1200.6,1581.4L1201.3,1582.9L1201.9,1581.4L1202.7,1579.8L1203.6,1578.1L1204.5,1576.9L1205.8,1576.9L1207.2,1576.9L1208.1,1577.9L1209.0,1579.4L1209.8,1580.9L1210.4,1582.2L1211.0,1580.9L1211.8,1579.4L1212.7,1577.9L1213.6,1576.9L1215.0,1576.9L1216.3,1576.9L1217.2,1577.7L1218.2,1578.8L1218.9,1579.8L1219.5,1580.8L1220.2,1579.8L1220.9,1578.8L1221.8,1577.7L1222.7,1576.9L1224.1,1576.9L1225.5,1576.9L1226.4,1577.9L1227.3,1579.4L1228.0,1580.9L1228.6,1582.2L1229.3,1580.9L1230.0,1579.4L1230.9,1577.9L1231.8,1576.9L1233.2,1576.9L1234.6,1576.9L1235.5,1578.6L1236.4,1581.1L1237.1,1583.5L1237.8,1585.7L1238.4,1583.5L1239.1,1581.1L1240.0,1578.6L1241.0,1576.9L1242.3,1576.9L1243.7,1576.9L1244.6,1577.9L1245.5,1579.4L1246.2,1580.9L1246.9,1582.2L1247.5,1580.9L1248.3,1579.4L1249.2,1577.9L1250.1,1576.9L1251.4,1576.9L1252.8,1576.9L1253.7,1578.2L1254.6,1580.1L1255.4,1581.9L1256.0,1583.6L1256.6,1581.9L1257.4,1580.1L1258.3,1578.2L1259.2,1576.9L1260.6,1576.9L1261.9,1576.9L1262.8,1578.9L1263.8,1581.8L1264.5,1584.6L1265.1,1587.2L1265.8,1584.6L1266.5,1581.8L1267.4,1578.9L1268.3,1576.9L1269.7,1576.9L1271.1,1576.9L1272.0,1578.1L1272.9,1579.8L1273.6,1581.4L1274.2,1582.9L1274.9,1581.4L1275.6,1579.8L1276.5,1578.1L1277.4,1576.9L1278.8,1576.9L1280.2,1576.9L1281.1,1580.9L1282.0,1586.5L1282.7,1591.9L1283.4,1596.9L1284.0,1591.9L1284.7,1586.5L1285.6,1580.9L1286.6,1576.9L1287.9,1576.9L1289.3,1576.9L1290.2,1581.6L1291.1,1588.2L1291.8,1594.5L1292.5,1600.4L1293.1,1594.5L1293.9,1588.2L1294.8,1581.6L1295.7,1576.9L1297.0,1576.9L1298.4,1576.9L1299.3,1583.0L1300.2,1591.6L1301.0,1599.8L1301.6,1607.5L1302.2,1599.8L1303.0,1591.6L1303.9,1583.0L1304.8,1576.9L1306.2,1576.9L1307.5,1576.9L1308.4,1585.4L1309.4,1597.4L1310.1,1608.9L1310.7,1619.5L1311.4,1608.9L1312.1,1597.4L1313.0,1585.4L1313.9,1576.9L1315.3,1576.9L1316.7,1576.9L1317.6,1586.8L1318.5,1600.8L1319.2,1614.3L1319.8,1626.7L1320.5,1614.3L1321.2,1600.8L1322.1,1586.8L1323.0,1576.9L1324.4,1576.9L1325.8,1576.9L1326.7,1583.5L1327.6,1592.9L1328.3,1601.9L1329.0,1610.2L1329.6,1601.9L1330.3,1592.9L1331.2,1583.5L1332.2,1576.9L1333.5,1576.9L1334.9,1576.9L1335.8,1586.6L1336.7,1600.2L1337.2,1576.9L1337.2,1559.6Z" fill="#7fcdbb"/>
<path d="M869.5,1562.7L869.9,1561.7L871.1,1558.8L872.2,1555.8L873.3,1553.2L874.5,1555.7L875.6,1558.6L876.8,1561.6L877.9,1564.1L879.0,1561.5L880.2,1558.5L881.3,1555.5L882.5,1552.8L883.6,1555.4L884.7,1558.4L885.9,1561.3L887.0,1564.0L888.2,1561.3L889.3,1558.2L890.4,1555.2L891.6,1552.5L892.7,1555.1L893.9,1558.1L895.0,1561.1L896.1,1563.8L897.3,1561.1L898.4,1558.0L899.6,1554.9L900.7,1552.1L901.8,1554.8L903.0,1557.9L904.1,1560.9L905.3,1563.6L906.4,1560.9L907.5,1557.7L908.7,1554.6L909.8,1551.8L911.0,1554.5L912.1,1557.6L913.2,1560.7L914.4,1563.5L915.5,1560.6L916.7,1557.5L917.8,1554.3L918.9,1551.4L920.1,1554.2L921.2,1557.3L922.4,1560.5L923.5,1563.3L924.6,1560.4L925.8,1557.2L926.9,1554.0L928.1,1551.1L929.2,1553.9L930.3,1557.1L931.5,1560.3L932.6,1563.1L933.8,1560.2L934.9,1556.9L936.0,1553.7L937.2,1550.7L938.3,1553.6L939.5,1556.8L940.6,1560.1L941.7,1562.9L942.9,1560.0L944.0,1556.7L945.2,1553.3L946.3,1550.4L947.4,1553.3L948.6,1556.5L949.7,1559.8L950.9,1562.8L952.0,1559.8L953.1,1556.5L954.3,1553.1L955.4,1550.2L956.6,1553.1L957.7,1556.5L958.8,1559.8L960.0,1562.7L961.1,1559.8L962.3,1556.5L963.4,1553.2L964.5,1550.3L965.7,1553.2L966.8,1556.5L968.0,1559.8L969.1,1562.7L970.2,1559.8L971.4,1556.5L972.5,1553.2L973.7,1550.3L974.8,1553.2L975.9,1556.5L977.1,1559.8L978.2,1562.7L979.4,1559.8L980.5,1556.5L981.6,1553.3L982.8,1550.4L983.9,1553.3L985.1,1556.5L986.2,1559.8L987.3,1562.7L988.5,1559.8L989.6,1556.6L990.8,1553.3L991.9,1550.4L993.0,1553.3L994.2,1556.6L995.3,1559.8L996.5,1562.7L997.6,1559.8L998.7,1556.6L999.9,1553.3L1001.0,1550.5L1002.2,1553.4L1003.3,1556.6L1004.4,1559.8L1005.6,1562.6L1006.7,1559.8L1007.9,1556.6L1009.0,1553.4L1010.1,1550.6L1011.3,1553.4L1012.4,1556.6L1013.6,1559.8L1014.7,1562.6L1015.8,1559.8L1017.0,1556.6L1018.1,1553.4L1019.3,1550.6L1020.4,1553.4L1021.5,1556.6L1022.7,1559.8L1023.8,1562.6L1025.0,1559.8L1026.1,1556.6L1027.2,1553.5L1028.4,1550.7L1029.5,1553.5L1030.7,1556.6L1031.8,1559.8L1032.9,1562.6L1034.1,1559.8L1035.2,1556.7L1036.4,1553.5L1037.5,1550.7L1038.6,1553.5L1039.8,1556.7L1040.9,1559.8L1042.1,1562.6L1043.2,1559.8L1044.3,1556.7L1045.5,1553.6L1046.6,1550.8L1047.8,1553.6L1048.9,1556.7L1050.0,1559.8L1051.2,1562.6L1052.3,1559.8L1053.5,1556.7L1054.6,1553.6L1055.7,1550.9L1056.9,1553.6L1058.0,1556.7L1059.2,1559.8L1060.3,1562.6L1061.4,1559.8L1062.6,1556.7L1063.7,1553.6L1064.9,1550.9L1066.0,1553.6L1067.1,1556.7L1068.3,1559.8L1069.4,1562.5L1070.6,1559.8L1071.7,1556.7L1072.8,1553.7L1074.0,1551.0L1075.1,1553.7L1076.3,1556.8L1077.4,1559.8L1078.5,1562.5L1079.7,1559.8L1080.8,1556.8L1082.0,1553.7L1083.1,1551.0L1084.2,1553.7L1085.4,1556.8L1086.5,1559.8L1087.7,1562.5L1088.8,1559.8L1089.9,1556.8L1091.1,1553.8L1092.2,1551.1L1093.4,1553.8L1094.5,1556.8L1095.6,1559.8L1096.8,1562.5L1097.9,1559.8L1099.1,1556.8L1100.2,1553.8L1101.3,1551.1L1102.5,1553.8L1103.6,1556.8L1104.8,1559.8L1105.9,1562.5L1107.0,1559.8L1108.2,1556.8L1109.3,1553.8L1110.5,1551.2L1111.6,1553.9L1112.7,1556.8L1113.9,1559.8L1115.0,1562.5L1116.2,1559.8L1117.3,1556.9L1118.4,1553.9L1119.6,1551.3L1120.7,1553.9L1121.9,1556.9L1123.0,1559.8L1124.1,1562.5L1125.3,1559.8L1126.4,1556.9L1127.6,1553.9L1128.7,1551.3L1129.8,1553.9L1131.0,1556.9L1132.1,1559.8L1133.3,1562.4L1134.4,1559.8L1135.5,1556.9L1136.7,1554.0L1137.8,1551.4L1139.0,1554.0L1140.1,1556.9L1141.2,1559.8L1142.4,1562.4L1143.5,1559.8L1144.7,1556.9L1145.8,1554.0L1146.9,1551.4L1148.1,1554.0L1149.2,1556.9L1150.4,1559.8L1151.5,1562.4L1152.6,1559.8L1153.8,1556.9L1154.9,1554.1L1156.1,1551.5L1157.2,1554.1L1158.3,1557.0L1159.5,1559.8L1160.6,1562.4L1161.8,1559.8L1162.9,1557.0L1164.0,1554.1L1165.2,1551.6L1166.3,1554.1L1167.5,1557.0L1168.6,1559.8L1169.7,1562.4L1170.9,1559.8L1172.0,1557.0L1173.2,1554.1L1174.3,1551.6L1175.4,1554.1L1176.6,1557.0L1177.7,1559.8L1178.9,1562.4L1180.0,1559.8L1181.1,1557.0L1182.3,1554.2L1183.4,1551.7L1184.6,1554.2L1185.7,1557.0L1186.8,1559.8L1188.0,1562.3L1189.1,1559.8L1190.3,1557.0L1191.4,1554.2L1192.5,1551.7L1193.7,1554.2L1194.8,1557.0L1196.0,1559.9L1197.1,1562.3L1198.2,1559.9L1199.4,1557.1L1200.5,1554.3L1201.7,1551.8L1202.8,1554.3L1203.9,1557.1L1205.1,1559.9L1206.2,1562.3L1207.4,1559.9L1208.5,1557.1L1209.6,1554.3L1210.8,1551.9L1211.9,1554.3L1213.1,1557.1L1214.2,1559.9L1215.3,1562.3L1216.5,1559.9L1217.6,1557.1L1218.8,1554.3L1219.9,1551.9L1221.0,1554.4L1222.2,1557.1L1223.3,1559.9L1224.5,1562.3L1225.6,1559.9L1226.7,1557.1L1227.9,1554.4L1229.0,1552.0L1230.2,1554.4L1231.3,1557.1L1232.4,1559.9L1233.6,1562.3L1234.7,1559.9L1235.9,1557.1L1237.0,1554.4L1238.1,1552.0L1239.3,1554.4L1240.4,1557.2L1241.6,1559.9L1242.7,1562.3L1243.8,1559.9L1245.0,1557.2L1246.1,1554.5L1247.3,1552.1L1248.4,1554.5L1249.5,1557.2L1250.7,1559.9L1251.8,1562.2L1253.0,1559.9L1254.1,1557.2L1255.2,1554.5L1256.4,1552.1L1257.5,1554.5L1258.7,1557.2L1259.8,1559.9L1260.9,1562.2L1262.1,1559.9L1263.2,1557.2L1264.4,1554.5L1265.5,1552.2L1266.6,1554.6L1267.8,1557.2L1268.9,1559.9L1270.1,1562.2L1271.2,1559.9L1272.3,1557.2L1273.5,1554.6L1274.6,1552.3L1275.8,1554.6L1276.9,1557.2L1278.0,1559.9L1279.2,1562.2L1280.3,1559.8L1281.5,1557.1L1282.6,1554.4L1283.7,1552.1L1284.9,1554.3L1286.0,1556.8L1287.2,1559.4L1288.3,1561.6L1289.4,1559.2L1290.6,1556.5L1291.7,1553.8L1292.9,1551.5L1294.0,1553.7L1295.1,1556.2L1296.3,1558.7L1297.4,1560.9L1298.6,1558.6L1299.7,1555.9L1300.8,1553.2L1302.0,1550.9L1303.1,1553.1L1304.3,1555.6L1305.4,1558.1L1306.5,1560.3L1307.7,1557.9L1308.8,1555.3L1310.0,1552.6L1311.1,1550.3L1312.2,1552.5L1313.4,1555.0L1314.5,1557.4L1315.7,1559.6L1316.8,1557.3L1317.9,1554.6L1319.1,1552.0L1320.2,1549.7L1321.4,1551.9L1322.5,1554.3L1323.6,1556.8L1324.8,1558.9L1325.9,1556.6L1327.1,1554.0L1328.2,1551.4L1329.3,1549.1L1330.5,1551.3L1331.6,1553.7L1332.8,1556.1L1333.9,1558.3L1335.0,1556.0L1336.2,1553.4L1337.3,1550.8L1338.5,1548.5L1339.6,1550.6L1340.7,1553.1L1341.9,1555.6L1343.0,1558.0L1344.2,1555.6L1345.3,1552.7L1346.4,1549.8L1347.6,1547.2L1348.7,1549.6L1349.9,1552.4L1351.0,1555.3L1352.1,1557.9L1353.3,1555.2L1354.4,1552.1L1355.6,1548.9L1356.7,1546.0L1357.8,1548.6L1359.0,1551.7L1360.1,1554.9L1361.3,1557.8L1362.4,1554.8L1363.5,1551.4L1364.7,1547.9L1365.8,1544.7L1367.0,1547.6L1368.1,1551.1L1369.2,1554.6L1370.4,1557.7L1371.5,1554.5L1372.7,1550.7L1373.8,1546.9L1374.9,1543.4L1376.1,1546.7L1377.2,1550.4L1378.4,1554.2L1379.5,1557.6L1380.6,1554.1L1381.8,1550.0L1382.9,1545.8L1384.1,1542.0L1385.2,1545.4L1386.3,1549.4L1387.5,1553.5L1388.6,1557.1L1389.8,1553.2L1390.9,1548.8L1392.0,1544.3L1393.2,1540.2L1394.3,1543.9L1395.5,1548.2L1396.6,1552.6L1397.7,1556.5L1398.9,1552.4L1400.0,1547.6L1401.2,1542.8L1402.3,1538.4L1403.4,1542.4L1404.6,1547.0L1405.7,1551.7L1406.9,1555.9L1408.0,1551.5L1409.1,1546.4L1410.3,1541.3L1411.4,1536.7L1412.6,1540.9L1413.7,1545.9L1414.8,1550.9L1416.0,1555.3L1417.1,1550.6L1418.3,1545.2L1419.4,1539.6L1420.5,1534.6L1421.7,1539.1L1422.8,1544.2L1424.0,1549.5L1425.1,1554.1L1426.2,1549.1L1427.4,1543.3L1428.5,1537.5L1429.7,1532.2L1430.8,1536.9L1431.9,1542.4L1433.1,1547.9L1434.2,1552.9L1435.4,1547.6L1436.5,1541.5L1437.6,1535.3L1438.8,1529.8L1439.9,1534.8L1441.1,1540.6L1442.2,1546.4L1443.3,1551.6L1444.5,1546.0L1445.6,1539.6L1446.8,1533.2L1447.9,1527.4L1449.0,1532.6L1450.2,1538.7L1451.3,1544.9L1452.5,1550.4L1453.6,1544.5L1454.7,1537.8L1455.9,1531.0L1457.0,1525.0L1458.2,1530.5L1459.3,1536.9L1460.4,1543.5L1461.6,1549.3L1462.7,1543.4L1463.9,1536.7L1465.0,1530.2L1466.1,1524.4L1467.3,1530.2L1468.4,1536.6L1469.6,1543.0L1470.7,1548.6L1471.8,1542.9L1473.0,1536.5L1474.1,1530.2L1475.3,1524.6L1476.4,1530.2L1477.5,1536.4L1478.7,1542.6L1479.8,1548.0L1481.0,1542.5L1482.1,1536.3L1483.2,1530.2L1484.4,1524.8L1485.5,1530.2L1486.7,1536.2L1487.8,1542.2L1488.9,1547.4L1490.1,1542.1L1491.2,1536.1L1492.4,1530.2L1493.5,1525.1L1494.6,1530.2L1495.8,1536.0L1496.9,1541.7L1498.1,1546.8L1499.2,1541.6L1500.3,1535.9L1501.5,1530.2L1502.6,1525.3L1503.8,1530.2L1504.9,1535.8L1506.0,1541.3L1507.2,1546.1L1508.3,1541.2L1509.5,1535.7L1510.6,1530.2L1511.7,1525.5L1512.9,1530.2L1514.0,1535.6L1515.2,1540.9L1516.3,1545.5L1517.4,1540.8L1518.6,1535.5L1519.7,1530.3L1520.9,1525.7L1522.0,1530.3L1523.1,1535.4L1524.3,1540.5L1525.4,1544.9L1526.6,1540.3L1527.7,1535.3L1528.8,1530.3L1530.0,1525.9L1531.1,1530.3L1532.3,1535.2L1533.4,1540.0L1534.5,1544.3L1535.7,1539.9L1536.8,1535.1L1538.0,1530.3L1539.1,1526.1L1540.2,1530.3L1541.4,1535.0L1542.5,1539.6L1543.7,1543.6L1544.8,1539.5L1545.9,1534.9L1547.1,1530.3L1548.2,1526.3L1549.4,1530.3L1550.5,1534.8L1551.6,1539.2L1552.8,1543.0L1553.9,1539.1L1555.1,1534.7L1556.2,1530.3L1557.3,1526.5L1558.5,1530.3L1559.6,1534.5L1560.8,1538.7L1561.9,1542.4L1563.0,1538.6L1564.2,1534.5L1564.4,1533.5" fill="none" stroke="#4d4d4d" stroke-width="3.8" stroke-linejoin="round"/>
<line x1="921.5" y1="1557.3" x2="921.5" y2="1569.8" stroke="#4d4d4d" stroke-width="3.2" stroke-linecap="round"/>
<line x1="958.0" y1="1556.5" x2="958.0" y2="1545.5" stroke="#4d4d4d" stroke-width="3.2" stroke-linecap="round"/>
<line x1="1187.8" y1="1557.0" x2="1187.8" y2="1569.0" stroke="#4d4d4d" stroke-width="3.2" stroke-linecap="round"/>
</g>
<line x1="1337.2" y1="1481.1" x2="1337.2" y2="1638.1" stroke="#c59fe0" stroke-width="12" stroke-dasharray="12.5 11.5"/>
<line x1="1521.0" y1="1481.1" x2="1521.0" y2="1638.1" stroke="#c59fe0" stroke-width="12"/>
<line x1="869.5" y1="1481.1" x2="1563.0" y2="1481.1" stroke="#262626" stroke-width="2" />
<line x1="869.5" y1="1480.1" x2="869.5" y2="1639.1" stroke="#262626" stroke-width="2" />
<line x1="869.5" y1="1638.1" x2="876.5" y2="1638.1" stroke="#262626" stroke-width="2" />
<line x1="1143.0" y1="1481.1" x2="1143.0" y2="1488.1" stroke="#262626" stroke-width="2" />
<line x1="1426.0" y1="1481.1" x2="1426.0" y2="1488.1" stroke="#262626" stroke-width="2" />
<text x="807.2" y="1492.9" font-size="31.4" fill="#262626" text-anchor="start" >0.61</text>
<text x="806.7" y="1571.2" font-size="31.4" fill="#262626" text-anchor="start" >0.00</text>
<text x="796.7" y="1650.1" font-size="31.4" fill="#262626" text-anchor="start" >-0.61</text>
<text x="889.3" y="1627.1" font-size="38.6" fill="#000" text-anchor="start" >L9</text>
<clipPath id="cp8"><rect x="869.5" y="1666.2" width="693.5" height="157"/></clipPath>
<g clip-path="url(#cp8)">
<path d="M869.5,1744.7L869.5,1744.7L869.8,1744.7L870.7,1735.6L871.6,1722.8L872.3,1710.5L873.0,1699.1L873.6,1710.5L874.3,1722.8L875.2,1735.6L876.2,1744.7L877.5,1744.7L878.9,1744.7L879.8,1737.6L880.7,1727.8L881.4,1718.2L882.1,1709.4L882.7,1718.2L883.5,1727.8L884.4,1737.6L885.3,1744.7L886.6,1744.7L888.0,1744.7L888.9,1736.8L889.8,1725.7L890.6,1715.1L891.2,1705.2L891.8,1715.1L892.6,1725.7L893.5,1736.8L894.4,1744.7L895.8,1744.7L897.1,1744.7L898.0,1737.2L899.0,1726.7L899.7,1716.6L900.3,1707.2L901.0,1716.6L901.7,1726.7L902.6,1737.2L903.5,1744.7L904.9,1744.7L906.3,1744.7L907.2,1735.4L908.1,1722.3L908.8,1709.7L909.4,1698.1L910.1,1709.7L910.8,1722.3L911.7,1735.4L912.6,1744.7L914.0,1744.7L915.4,1744.7L916.3,1736.6L917.2,1725.3L917.9,1714.4L918.6,1704.3L919.2,1714.4L919.9,1725.3L920.8,1736.6L921.8,1744.7L923.1,1744.7L924.5,1744.7L925.4,1735.2L926.3,1721.9L927.0,1709.1L927.7,1697.2L928.3,1709.1L929.1,1721.9L930.0,1735.2L930.9,1744.7L932.2,1744.7L933.6,1744.7L934.5,1736.0L935.4,1723.9L936.2,1712.2L936.8,1701.3L937.4,1712.2L938.2,1723.9L939.1,1736.0L940.0,1744.7L941.4,1744.7L942.7,1744.7L943.6,1735.2L944.6,1721.8L945.3,1708.9L945.9,1697.0L946.6,1708.9L947.3,1721.8L948.2,1735.2L949.1,1744.7L950.5,1744.7L951.9,1743.7L952.8,1730.6L953.7,1715.3L954.4,1702.5L955.0,1692.0L955.7,1701.3L956.4,1710.4L957.3,1720.3L958.2,1727.4L959.6,1727.4L961.0,1727.4L961.9,1719.3L962.8,1708.0L963.5,1697.1L964.2,1687.0L964.8,1697.1L965.5,1708.0L966.4,1719.3L967.4,1727.4L968.7,1727.4L970.1,1727.4L971.0,1720.3L971.9,1710.3L972.6,1700.7L973.3,1691.8L973.9,1700.7L974.7,1710.3L975.6,1720.3L976.5,1727.4L977.8,1727.4L979.2,1727.4L980.1,1717.7L981.0,1704.0L981.8,1690.8L982.4,1678.6L983.0,1690.8L983.8,1704.0L984.7,1717.7L985.6,1727.4L987.0,1727.4L988.3,1727.4L989.2,1719.6L990.2,1708.7L990.9,1698.2L991.5,1688.4L992.2,1698.2L992.9,1708.7L993.8,1719.6L994.7,1727.4L996.1,1727.4L997.5,1727.4L998.4,1720.5L999.3,1710.9L1000.0,1701.5L1000.6,1692.9L1001.3,1701.5L1002.0,1710.9L1002.9,1720.5L1003.8,1727.4L1005.2,1727.4L1006.6,1727.4L1007.5,1720.6L1008.4,1711.0L1009.1,1701.7L1009.8,1693.1L1010.4,1701.7L1011.1,1711.0L1012.0,1720.6L1013.0,1727.4L1014.3,1727.4L1015.7,1727.4L1016.6,1719.9L1017.5,1709.4L1018.2,1699.3L1018.9,1689.9L1019.5,1699.3L1020.3,1709.4L1021.2,1719.9L1022.1,1727.4L1023.4,1727.4L1024.8,1727.4L1025.7,1720.1L1026.6,1709.9L1027.4,1700.0L1028.0,1690.9L1028.6,1700.0L1029.4,1709.9L1030.3,1720.1L1031.2,1727.4L1032.6,1727.4L1033.9,1727.4L1034.8,1720.7L1035.8,1711.3L1036.5,1702.3L1037.1,1693.9L1037.8,1702.3L1038.5,1711.3L1039.4,1720.7L1040.3,1727.4L1041.7,1727.4L1043.1,1727.4L1044.0,1720.9L1044.9,1711.8L1045.6,1703.0L1046.2,1694.8L1046.9,1703.0L1047.6,1711.8L1048.5,1720.9L1049.4,1727.4L1050.8,1727.4L1052.2,1727.4L1053.1,1721.5L1054.0,1713.2L1054.7,1705.2L1055.4,1697.8L1056.0,1705.2L1056.7,1713.2L1057.6,1721.5L1058.6,1727.4L1059.9,1727.4L1061.3,1727.4L1062.2,1721.3L1063.1,1712.6L1063.8,1704.3L1064.5,1696.6L1065.1,1704.3L1065.9,1712.6L1066.8,1721.3L1067.7,1727.4L1069.0,1727.4L1070.4,1727.4L1071.3,1720.9L1072.2,1711.8L1073.0,1703.0L1073.6,1694.8L1074.2,1703.0L1075.0,1711.8L1075.9,1720.9L1076.8,1727.4L1078.2,1727.4L1079.5,1727.4L1080.4,1721.1L1081.4,1712.2L1082.1,1703.7L1082.7,1695.8L1083.4,1703.7L1084.1,1712.2L1085.0,1721.1L1085.9,1727.4L1087.3,1727.4L1088.7,1727.6L1089.6,1723.4L1090.5,1717.2L1091.2,1710.8L1091.8,1704.7L1092.5,1711.0L1093.2,1718.0L1094.1,1725.6L1095.0,1731.4L1096.4,1732.3L1097.8,1732.9L1098.7,1728.8L1099.6,1722.9L1100.3,1717.3L1101.0,1712.0L1101.6,1717.3L1102.3,1722.9L1103.2,1728.8L1104.2,1733.0L1105.5,1733.0L1106.9,1733.0L1107.8,1729.1L1108.7,1723.6L1109.4,1718.3L1110.1,1713.4L1110.7,1718.3L1111.5,1723.6L1112.4,1729.1L1113.3,1733.0L1114.6,1733.0L1116.0,1733.0L1116.9,1729.1L1117.8,1723.7L1118.6,1718.4L1119.2,1713.6L1119.8,1718.4L1120.6,1723.7L1121.5,1729.1L1122.4,1733.0L1123.8,1733.0L1125.1,1733.0L1126.0,1728.7L1127.0,1722.6L1127.7,1716.7L1128.3,1711.2L1129.0,1716.7L1129.7,1722.6L1130.6,1728.7L1131.5,1733.1L1132.9,1733.1L1134.3,1733.1L1135.2,1729.7L1136.1,1724.9L1136.8,1720.3L1137.4,1716.0L1138.1,1720.3L1138.8,1724.9L1139.7,1729.7L1140.6,1733.1L1142.0,1733.1L1143.4,1733.1L1144.3,1729.9L1145.2,1725.4L1145.9,1721.1L1146.6,1717.0L1147.2,1721.1L1147.9,1725.4L1148.8,1729.9L1149.8,1733.1L1151.1,1733.2L1152.5,1733.2L1153.4,1730.0L1154.3,1725.5L1155.0,1721.2L1155.7,1717.1L1156.3,1721.2L1157.1,1725.5L1158.0,1730.0L1158.9,1733.2L1160.2,1733.2L1161.6,1733.2L1162.5,1729.2L1163.4,1723.5L1164.2,1718.1L1164.8,1713.0L1165.4,1718.1L1166.2,1723.5L1167.1,1729.2L1168.0,1733.2L1169.4,1733.2L1170.7,1733.2L1171.6,1729.0L1172.6,1723.0L1173.3,1717.3L1173.9,1711.9L1174.6,1717.3L1175.3,1723.0L1176.2,1729.0L1177.1,1733.3L1178.5,1733.3L1179.9,1733.3L1180.8,1729.6L1181.7,1724.5L1182.4,1719.6L1183.0,1715.1L1183.7,1719.6L1184.4,1724.6L1185.3,1729.7L1186.2,1733.3L1187.6,1733.3L1189.0,1733.3L1189.9,1729.8L1190.8,1724.9L1191.5,1720.2L1192.2,1715.8L1192.8,1720.2L1193.5,1724.9L1194.4,1729.8L1195.4,1733.3L1196.7,1733.4L1198.1,1733.4L1199.0,1729.6L1199.9,1724.4L1200.6,1719.4L1201.3,1714.7L1201.9,1719.4L1202.7,1724.4L1203.6,1729.7L1204.5,1733.4L1205.8,1733.4L1207.2,1733.4L1208.1,1730.1L1209.0,1725.5L1209.8,1721.1L1210.4,1717.0L1211.0,1721.1L1211.8,1725.5L1212.7,1730.1L1213.6,1733.4L1215.0,1733.4L1216.3,1733.4L1217.2,1730.0L1218.2,1725.2L1218.9,1720.5L1219.5,1716.2L1220.2,1720.5L1220.9,1725.2L1221.8,1730.0L1222.7,1733.5L1224.1,1733.5L1225.5,1733.5L1226.4,1729.3L1227.3,1723.5L1228.0,1717.9L1228.6,1712.8L1229.3,1717.9L1230.0,1723.5L1230.9,1729.4L1231.8,1733.5L1233.2,1733.5L1234.6,1733.5L1235.5,1729.0L1236.4,1722.8L1237.1,1716.7L1237.8,1711.1L1238.4,1716.7L1239.1,1722.8L1240.0,1729.1L1241.0,1733.5L1242.3,1733.5L1243.7,1733.6L1244.6,1729.4L1245.5,1723.6L1246.2,1718.0L1246.9,1712.8L1247.5,1718.0L1248.3,1723.6L1249.2,1729.4L1250.1,1733.6L1251.4,1733.6L1252.8,1733.6L1253.7,1728.6L1254.6,1721.7L1255.4,1714.9L1256.0,1708.7L1256.6,1714.9L1257.4,1721.7L1258.3,1728.6L1259.2,1733.6L1260.6,1733.6L1261.9,1733.6L1262.8,1728.5L1263.8,1721.3L1264.5,1714.4L1265.1,1708.0L1265.8,1714.4L1266.5,1721.3L1267.4,1728.5L1268.3,1733.7L1269.7,1733.7L1271.1,1733.7L1272.0,1727.8L1272.9,1719.6L1273.6,1711.7L1274.2,1704.3L1274.9,1711.7L1275.6,1719.6L1276.5,1727.8L1277.4,1733.7L1278.8,1733.7L1280.2,1733.7L1281.1,1726.8L1282.0,1717.4L1282.7,1708.5L1283.4,1700.2L1284.0,1708.4L1284.7,1717.2L1285.6,1726.2L1286.6,1732.6L1287.9,1732.3L1289.3,1732.1L1290.2,1724.9L1291.1,1714.9L1291.8,1705.4L1292.5,1696.7L1293.1,1705.4L1293.9,1714.7L1294.8,1724.3L1295.7,1731.0L1297.0,1730.8L1298.4,1730.5L1299.3,1721.2L1300.2,1708.2L1301.0,1695.8L1301.6,1684.4L1302.2,1695.8L1303.0,1708.0L1303.9,1720.6L1304.8,1729.4L1306.2,1729.2L1307.5,1728.4L1308.4,1714.6L1309.4,1696.9L1310.1,1681.0L1310.7,1667.0L1311.4,1680.3L1312.1,1693.8L1313.0,1706.7L1313.9,1714.7L1315.3,1711.7L1316.7,1709.4L1317.6,1700.9L1318.5,1689.2L1319.2,1677.9L1319.8,1667.4L1320.5,1677.8L1321.2,1689.1L1322.1,1700.8L1323.0,1709.2L1324.4,1709.2L1325.8,1709.1L1326.7,1703.1L1327.6,1694.7L1328.3,1686.7L1329.0,1679.2L1329.6,1686.7L1330.3,1694.7L1331.2,1703.0L1332.2,1708.9L1333.5,1708.9L1334.9,1708.9L1335.8,1703.6L1336.7,1696.3L1337.4,1689.3L1338.1,1682.8L1338.7,1689.3L1339.5,1696.3L1340.4,1703.5L1341.3,1708.7L1342.6,1708.6L1344.0,1708.6L1344.4,1708.6L1344.4,1744.7Z" fill="#ff800e"/>
<path d="M869.5,1744.7L869.5,1746.3L869.8,1746.3L870.7,1754.0L871.6,1764.7L872.3,1775.1L873.0,1784.7L873.6,1775.1L874.3,1764.7L875.2,1754.0L876.2,1746.3L877.5,1746.3L878.9,1746.3L879.8,1751.9L880.7,1759.8L881.4,1767.5L882.1,1774.5L882.7,1767.5L883.5,1759.8L884.4,1751.9L885.3,1746.3L886.6,1746.3L888.0,1746.3L888.9,1752.7L889.8,1761.7L890.6,1770.4L891.2,1778.5L891.8,1770.4L892.6,1761.7L893.5,1752.7L894.4,1746.3L895.8,1746.3L897.1,1746.3L898.0,1751.8L899.0,1759.5L899.7,1766.9L900.3,1773.7L901.0,1766.9L901.7,1759.5L902.6,1751.8L903.5,1746.3L904.9,1746.3L906.3,1746.3L907.2,1752.9L908.1,1762.1L908.8,1771.0L909.4,1779.2L910.1,1771.0L910.8,1762.1L911.7,1752.9L912.6,1746.3L914.0,1746.3L915.4,1746.3L916.3,1752.7L917.2,1761.7L917.9,1770.4L918.6,1778.5L919.2,1770.4L919.9,1761.7L920.8,1752.7L921.8,1746.3L923.1,1746.3L924.5,1746.3L925.4,1753.6L926.3,1764.0L927.0,1773.9L927.7,1783.2L928.3,1773.9L929.1,1764.0L930.0,1753.6L930.9,1746.3L932.2,1746.3L933.6,1746.3L934.5,1753.6L935.4,1764.0L936.2,1773.9L936.8,1783.2L937.4,1773.9L938.2,1764.0L939.1,1753.6L940.0,1746.3L941.4,1746.3L942.7,1746.3L943.6,1754.1L944.6,1765.1L945.3,1775.7L945.9,1785.5L946.6,1775.7L947.3,1765.1L948.2,1754.1L949.1,1746.3L950.5,1746.3L951.9,1747.2L952.8,1758.0L953.7,1770.6L954.4,1781.0L955.0,1789.4L955.7,1782.0L956.4,1774.8L957.3,1766.8L958.2,1761.2L959.6,1761.2L961.0,1761.2L961.9,1768.0L962.8,1777.4L963.5,1786.5L964.2,1794.9L964.8,1786.5L965.5,1777.4L966.4,1768.0L967.4,1761.3L968.7,1761.3L970.1,1761.3L971.0,1767.4L971.9,1775.9L972.6,1784.2L973.3,1791.8L973.9,1784.2L974.7,1775.9L975.6,1767.4L976.5,1761.3L977.8,1761.3L979.2,1761.3L980.1,1769.6L981.0,1781.2L981.8,1792.4L982.4,1802.8L983.0,1792.4L983.8,1781.2L984.7,1769.6L985.6,1761.4L987.0,1761.4L988.3,1761.4L989.2,1767.5L990.2,1776.0L990.9,1784.2L991.5,1791.8L992.2,1784.2L992.9,1776.0L993.8,1767.5L994.7,1761.4L996.1,1761.4L997.5,1761.4L998.4,1767.4L999.3,1775.6L1000.0,1783.6L1000.6,1791.0L1001.3,1783.6L1002.0,1775.6L1002.9,1767.4L1003.8,1761.5L1005.2,1761.5L1006.6,1761.5L1007.5,1768.2L1008.4,1777.5L1009.1,1786.6L1009.8,1794.9L1010.4,1786.6L1011.1,1777.6L1012.0,1768.2L1013.0,1761.5L1014.3,1761.5L1015.7,1761.5L1016.6,1769.0L1017.5,1779.5L1018.2,1789.5L1018.9,1798.9L1019.5,1789.5L1020.3,1779.5L1021.2,1769.0L1022.1,1761.6L1023.4,1761.6L1024.8,1761.6L1025.7,1767.6L1026.6,1776.1L1027.4,1784.3L1028.0,1791.8L1028.6,1784.3L1029.4,1776.1L1030.3,1767.7L1031.2,1761.6L1032.6,1761.6L1033.9,1761.6L1034.8,1768.0L1035.8,1776.9L1036.5,1785.4L1037.1,1793.4L1037.8,1785.4L1038.5,1776.9L1039.4,1768.0L1040.3,1761.7L1041.7,1761.7L1043.1,1761.7L1044.0,1767.3L1044.9,1775.0L1045.6,1782.5L1046.2,1789.4L1046.9,1782.5L1047.6,1775.0L1048.5,1767.3L1049.4,1761.7L1050.8,1761.7L1052.2,1761.8L1053.1,1767.8L1054.0,1776.2L1054.7,1784.3L1055.4,1791.8L1056.0,1784.3L1056.7,1776.2L1057.6,1767.8L1058.6,1761.8L1059.9,1761.8L1061.3,1761.8L1062.2,1767.3L1063.1,1775.1L1063.8,1782.5L1064.5,1789.4L1065.1,1782.5L1065.9,1775.1L1066.8,1767.4L1067.7,1761.8L1069.0,1761.9L1070.4,1761.9L1071.3,1767.2L1072.2,1774.7L1073.0,1782.0L1073.6,1788.7L1074.2,1782.0L1075.0,1774.7L1075.9,1767.2L1076.8,1761.9L1078.2,1761.9L1079.5,1761.9L1080.4,1767.9L1081.4,1776.3L1082.1,1784.3L1082.7,1791.8L1083.4,1784.3L1084.1,1776.3L1085.0,1767.9L1085.9,1762.0L1087.3,1762.0L1088.7,1761.9L1089.6,1766.1L1090.5,1772.0L1091.2,1777.8L1091.8,1783.2L1092.5,1777.8L1093.2,1771.9L1094.1,1765.8L1095.0,1761.4L1096.4,1761.3L1097.8,1761.2L1098.7,1763.3L1099.6,1766.2L1100.3,1769.0L1101.0,1771.5L1101.6,1769.0L1102.3,1766.2L1103.2,1763.3L1104.2,1761.2L1105.5,1761.2L1106.9,1761.2L1107.8,1763.4L1108.7,1766.5L1109.4,1769.5L1110.1,1772.3L1110.7,1769.5L1111.5,1766.5L1112.4,1763.4L1113.3,1761.2L1114.6,1761.2L1116.0,1761.2L1116.9,1763.0L1117.8,1765.5L1118.6,1767.9L1119.2,1770.1L1119.8,1767.9L1120.6,1765.5L1121.5,1763.0L1122.4,1761.3L1123.8,1761.3L1125.1,1761.3L1126.0,1763.3L1127.0,1766.2L1127.7,1769.0L1128.3,1771.5L1129.0,1769.0L1129.7,1766.2L1130.6,1763.3L1131.5,1761.3L1132.9,1761.3L1134.3,1761.3L1135.2,1762.6L1136.1,1764.5L1136.8,1766.3L1137.4,1768.0L1138.1,1766.3L1138.8,1764.5L1139.7,1762.7L1140.6,1761.3L1142.0,1761.3L1143.4,1761.3L1144.3,1762.5L1145.2,1764.2L1145.9,1765.8L1146.6,1767.3L1147.2,1765.8L1147.9,1764.2L1148.8,1762.5L1149.8,1761.4L1151.1,1761.4L1152.5,1761.4L1153.4,1763.1L1154.3,1765.6L1155.0,1767.9L1155.7,1770.1L1156.3,1767.9L1157.1,1765.6L1158.0,1763.1L1158.9,1761.4L1160.2,1761.4L1161.6,1761.4L1162.5,1763.4L1163.4,1766.3L1164.2,1769.0L1164.8,1771.5L1165.4,1769.0L1166.2,1766.3L1167.1,1763.4L1168.0,1761.4L1169.4,1761.4L1170.7,1761.4L1171.6,1763.2L1172.6,1765.6L1173.3,1768.0L1173.9,1770.1L1174.6,1768.0L1175.3,1765.6L1176.2,1763.2L1177.1,1761.4L1178.5,1761.4L1179.9,1761.4L1180.8,1763.6L1181.7,1766.6L1182.4,1769.6L1183.0,1772.3L1183.7,1769.6L1184.4,1766.6L1185.3,1763.6L1186.2,1761.5L1187.6,1761.5L1189.0,1761.5L1189.9,1762.9L1190.8,1765.0L1191.5,1766.9L1192.2,1768.7L1192.8,1766.9L1193.5,1765.0L1194.4,1762.9L1195.4,1761.5L1196.7,1761.5L1198.1,1761.5L1199.0,1762.8L1199.9,1764.6L1200.6,1766.4L1201.3,1768.0L1201.9,1766.4L1202.7,1764.6L1203.6,1762.8L1204.5,1761.5L1205.8,1761.5L1207.2,1761.5L1208.1,1762.7L1209.0,1764.3L1209.8,1765.9L1210.4,1767.3L1211.0,1765.9L1211.8,1764.3L1212.7,1762.7L1213.6,1761.6L1215.0,1761.6L1216.3,1761.6L1217.2,1762.4L1218.2,1763.6L1218.9,1764.8L1219.5,1765.9L1220.2,1764.8L1220.9,1763.6L1221.8,1762.4L1222.7,1761.6L1224.1,1761.6L1225.5,1761.6L1226.4,1762.7L1227.3,1764.3L1228.0,1765.9L1228.6,1767.3L1229.3,1765.9L1230.0,1764.3L1230.9,1762.7L1231.8,1761.6L1233.2,1761.6L1234.6,1761.6L1235.5,1763.5L1236.4,1766.0L1237.1,1768.5L1237.8,1770.8L1238.4,1768.5L1239.1,1766.1L1240.0,1763.5L1241.0,1761.6L1242.3,1761.6L1243.7,1761.6L1244.6,1762.8L1245.5,1764.4L1246.2,1765.9L1246.9,1767.3L1247.5,1765.9L1248.3,1764.4L1249.2,1762.8L1250.1,1761.7L1251.4,1761.7L1252.8,1761.7L1253.7,1763.1L1254.6,1765.1L1255.4,1767.0L1256.0,1768.7L1256.6,1767.0L1257.4,1765.1L1258.3,1763.1L1259.2,1761.7L1260.6,1761.7L1261.9,1761.7L1262.8,1763.8L1263.8,1766.8L1264.5,1769.6L1265.1,1772.3L1265.8,1769.6L1266.5,1766.8L1267.4,1763.8L1268.3,1761.7L1269.7,1761.7L1271.1,1761.7L1272.0,1763.0L1272.9,1764.8L1273.6,1766.4L1274.2,1768.0L1274.9,1766.4L1275.6,1764.8L1276.5,1763.0L1277.4,1761.8L1278.8,1761.8L1280.2,1761.8L1281.1,1765.8L1282.0,1771.5L1282.7,1776.9L1283.4,1782.0L1284.0,1776.9L1284.7,1771.5L1285.6,1765.8L1286.6,1761.8L1287.9,1761.8L1289.3,1761.8L1290.2,1766.5L1291.1,1773.2L1291.8,1779.6L1292.5,1785.5L1293.1,1779.6L1293.9,1773.2L1294.8,1766.6L1295.7,1761.8L1297.0,1761.8L1298.4,1761.8L1299.3,1768.1L1300.2,1777.0L1301.0,1785.5L1301.6,1793.4L1302.2,1785.5L1303.0,1777.0L1303.9,1768.1L1304.8,1761.8L1306.2,1761.8L1307.5,1761.9L1308.4,1770.8L1309.4,1783.4L1310.1,1795.5L1310.7,1806.7L1311.4,1795.5L1312.1,1783.4L1313.0,1770.8L1313.9,1761.9L1315.3,1761.9L1316.7,1761.9L1317.6,1772.6L1318.5,1787.5L1319.2,1802.0L1319.8,1815.4L1320.5,1802.0L1321.2,1787.6L1322.1,1772.6L1323.0,1761.9L1324.4,1761.9L1325.8,1761.9L1326.7,1768.5L1327.6,1777.8L1328.3,1786.7L1329.0,1794.9L1329.6,1786.7L1330.3,1777.8L1331.2,1768.5L1332.2,1761.9L1333.5,1761.9L1334.9,1761.9L1335.8,1770.9L1336.7,1783.6L1337.4,1795.7L1338.1,1807.0L1338.7,1795.7L1339.5,1783.6L1340.4,1771.0L1341.3,1762.0L1342.6,1762.0L1344.0,1762.0L1344.4,1762.0L1344.4,1744.7Z" fill="#7fcdbb"/>
<path d="M869.5,1747.3L869.9,1746.4L871.1,1743.9L872.2,1741.4L873.3,1739.1L874.5,1741.3L875.6,1743.8L876.8,1746.3L877.9,1748.5L879.0,1746.3L880.2,1743.7L881.3,1741.2L882.5,1738.9L883.6,1741.1L884.7,1743.6L885.9,1746.1L887.0,1748.4L888.2,1746.1L889.3,1743.5L890.4,1741.0L891.6,1738.7L892.7,1740.9L893.9,1743.4L895.0,1746.0L896.1,1748.2L897.3,1746.0L898.4,1743.4L899.6,1740.8L900.7,1738.5L901.8,1740.7L903.0,1743.3L904.1,1745.8L905.3,1748.1L906.4,1745.8L907.5,1743.2L908.7,1740.6L909.8,1738.2L911.0,1740.5L912.1,1743.1L913.2,1745.7L914.4,1748.0L915.5,1745.7L916.7,1743.0L917.8,1740.4L918.9,1738.0L920.1,1740.3L921.2,1742.9L922.4,1745.5L923.5,1747.9L924.6,1745.5L925.8,1742.8L926.9,1740.2L928.1,1737.8L929.2,1740.1L930.3,1742.8L931.5,1745.4L932.6,1747.7L933.8,1745.4L934.9,1742.7L936.0,1740.0L937.2,1737.6L938.3,1739.9L939.5,1742.6L940.6,1745.2L941.7,1747.6L942.9,1745.2L944.0,1742.5L945.2,1739.8L946.3,1737.4L947.4,1739.7L948.6,1742.4L949.7,1745.1L950.9,1747.5L952.0,1745.1L953.1,1742.3L954.3,1739.6L955.4,1737.2L956.6,1739.6L957.7,1742.3L958.8,1745.1L960.0,1747.4L961.1,1745.0L962.3,1742.3L963.4,1739.6L964.5,1737.3L965.7,1739.6L966.8,1742.3L968.0,1745.0L969.1,1747.4L970.2,1745.0L971.4,1742.3L972.5,1739.6L973.7,1737.3L974.8,1739.6L975.9,1742.3L977.1,1745.0L978.2,1747.4L979.4,1745.0L980.5,1742.3L981.6,1739.7L982.8,1737.3L983.9,1739.7L985.1,1742.3L986.2,1745.0L987.3,1747.4L988.5,1745.0L989.6,1742.3L990.8,1739.7L991.9,1737.3L993.0,1739.7L994.2,1742.3L995.3,1745.0L996.5,1747.4L997.6,1745.0L998.7,1742.3L999.9,1739.7L1001.0,1737.3L1002.2,1739.7L1003.3,1742.3L1004.4,1745.0L1005.6,1747.4L1006.7,1745.0L1007.9,1742.3L1009.0,1739.7L1010.1,1737.3L1011.3,1739.7L1012.4,1742.3L1013.6,1745.0L1014.7,1747.4L1015.8,1745.0L1017.0,1742.3L1018.1,1739.7L1019.3,1737.3L1020.4,1739.7L1021.5,1742.3L1022.7,1745.0L1023.8,1747.4L1025.0,1745.0L1026.1,1742.3L1027.2,1739.7L1028.4,1737.3L1029.5,1739.7L1030.7,1742.3L1031.8,1745.0L1032.9,1747.4L1034.1,1745.0L1035.2,1742.3L1036.4,1739.7L1037.5,1737.3L1038.6,1739.7L1039.8,1742.3L1040.9,1745.0L1042.1,1747.4L1043.2,1745.0L1044.3,1742.3L1045.5,1739.7L1046.6,1737.3L1047.8,1739.7L1048.9,1742.3L1050.0,1745.0L1051.2,1747.3L1052.3,1745.0L1053.5,1742.3L1054.6,1739.7L1055.7,1737.3L1056.9,1739.7L1058.0,1742.3L1059.2,1745.0L1060.3,1747.3L1061.4,1745.0L1062.6,1742.3L1063.7,1739.7L1064.9,1737.4L1066.0,1739.7L1067.1,1742.3L1068.3,1745.0L1069.4,1747.3L1070.6,1745.0L1071.7,1742.3L1072.8,1739.7L1074.0,1737.4L1075.1,1739.7L1076.3,1742.3L1077.4,1745.0L1078.5,1747.3L1079.7,1745.0L1080.8,1742.3L1082.0,1739.7L1083.1,1737.4L1084.2,1739.7L1085.4,1742.3L1086.5,1745.0L1087.7,1747.3L1088.8,1745.0L1089.9,1742.3L1091.1,1739.7L1092.2,1737.4L1093.4,1739.7L1094.5,1742.3L1095.6,1745.0L1096.8,1747.3L1097.9,1745.0L1099.1,1742.3L1100.2,1739.7L1101.3,1737.4L1102.5,1739.7L1103.6,1742.3L1104.8,1745.0L1105.9,1747.3L1107.0,1745.0L1108.2,1742.3L1109.3,1739.7L1110.5,1737.4L1111.6,1739.7L1112.7,1742.3L1113.9,1745.0L1115.0,1747.3L1116.2,1745.0L1117.3,1742.3L1118.4,1739.7L1119.6,1737.4L1120.7,1739.7L1121.9,1742.3L1123.0,1745.0L1124.1,1747.3L1125.3,1745.0L1126.4,1742.3L1127.6,1739.7L1128.7,1737.4L1129.8,1739.7L1131.0,1742.3L1132.1,1745.0L1133.3,1747.3L1134.4,1745.0L1135.5,1742.3L1136.7,1739.7L1137.8,1737.4L1139.0,1739.7L1140.1,1742.3L1141.2,1745.0L1142.4,1747.3L1143.5,1745.0L1144.7,1742.3L1145.8,1739.7L1146.9,1737.4L1148.1,1739.7L1149.2,1742.3L1150.4,1744.9L1151.5,1747.2L1152.6,1744.9L1153.8,1742.3L1154.9,1739.7L1156.1,1737.4L1157.2,1739.7L1158.3,1742.3L1159.5,1744.9L1160.6,1747.2L1161.8,1744.9L1162.9,1742.3L1164.0,1739.7L1165.2,1737.5L1166.3,1739.7L1167.5,1742.3L1168.6,1744.9L1169.7,1747.2L1170.9,1744.9L1172.0,1742.3L1173.2,1739.8L1174.3,1737.5L1175.4,1739.8L1176.6,1742.3L1177.7,1744.9L1178.9,1747.2L1180.0,1744.9L1181.1,1742.3L1182.3,1739.8L1183.4,1737.5L1184.6,1739.8L1185.7,1742.3L1186.8,1744.9L1188.0,1747.2L1189.1,1744.9L1190.3,1742.3L1191.4,1739.8L1192.5,1737.5L1193.7,1739.8L1194.8,1742.3L1196.0,1744.9L1197.1,1747.2L1198.2,1744.9L1199.4,1742.3L1200.5,1739.8L1201.7,1737.5L1202.8,1739.8L1203.9,1742.3L1205.1,1744.9L1206.2,1747.2L1207.4,1744.9L1208.5,1742.3L1209.6,1739.8L1210.8,1737.5L1211.9,1739.8L1213.1,1742.3L1214.2,1744.9L1215.3,1747.2L1216.5,1744.9L1217.6,1742.3L1218.8,1739.8L1219.9,1737.5L1221.0,1739.8L1222.2,1742.3L1223.3,1744.9L1224.5,1747.2L1225.6,1744.9L1226.7,1742.3L1227.9,1739.8L1229.0,1737.5L1230.2,1739.8L1231.3,1742.3L1232.4,1744.9L1233.6,1747.2L1234.7,1744.9L1235.9,1742.3L1237.0,1739.8L1238.1,1737.5L1239.3,1739.8L1240.4,1742.3L1241.6,1744.9L1242.7,1747.2L1243.8,1744.9L1245.0,1742.3L1246.1,1739.8L1247.3,1737.5L1248.4,1739.8L1249.5,1742.3L1250.7,1744.9L1251.8,1747.1L1253.0,1744.9L1254.1,1742.3L1255.2,1739.8L1256.4,1737.5L1257.5,1739.8L1258.7,1742.3L1259.8,1744.9L1260.9,1747.1L1262.1,1744.9L1263.2,1742.3L1264.4,1739.8L1265.5,1737.6L1266.6,1739.8L1267.8,1742.3L1268.9,1744.9L1270.1,1747.1L1271.2,1744.9L1272.3,1742.3L1273.5,1739.8L1274.6,1737.6L1275.8,1739.8L1276.9,1742.3L1278.0,1744.9L1279.2,1747.1L1280.3,1744.9L1281.5,1742.3L1282.6,1739.8L1283.7,1737.5L1284.9,1739.8L1286.0,1742.3L1287.2,1744.8L1288.3,1747.0L1289.4,1744.8L1290.6,1742.2L1291.7,1739.7L1292.9,1737.4L1294.0,1739.6L1295.1,1742.2L1296.3,1744.7L1297.4,1746.9L1298.6,1744.6L1299.7,1742.1L1300.8,1739.6L1302.0,1737.3L1303.1,1739.5L1304.3,1742.0L1305.4,1744.6L1306.5,1746.8L1307.7,1744.5L1308.8,1742.0L1310.0,1739.5L1311.1,1737.2L1312.2,1739.4L1313.4,1741.9L1314.5,1744.4L1315.7,1746.7L1316.8,1744.4L1317.9,1741.9L1319.1,1739.4L1320.2,1737.1L1321.4,1739.3L1322.5,1741.8L1323.6,1744.3L1324.8,1746.5L1325.9,1744.3L1327.1,1741.8L1328.2,1739.2L1329.3,1737.0L1330.5,1739.2L1331.6,1741.7L1332.8,1744.2L1333.9,1746.4L1335.0,1744.2L1336.2,1741.7L1337.3,1739.1L1338.5,1736.9L1339.6,1739.1L1340.7,1741.6L1341.9,1744.1L1343.0,1746.3L1344.2,1744.1L1345.3,1741.5L1346.4,1738.9L1347.6,1736.6L1348.7,1738.7L1349.9,1741.2L1351.0,1743.6L1352.1,1745.8L1353.3,1743.5L1354.4,1740.8L1355.6,1738.2L1356.7,1735.8L1357.8,1738.0L1359.0,1740.5L1360.1,1743.0L1361.3,1745.3L1362.4,1742.9L1363.5,1740.2L1364.7,1737.4L1365.8,1735.0L1367.0,1737.3L1368.1,1739.8L1369.2,1742.4L1370.4,1744.7L1371.5,1742.3L1372.7,1739.5L1373.8,1736.7L1374.9,1734.2L1376.1,1736.5L1377.2,1739.2L1378.4,1741.8L1379.5,1744.2L1380.6,1741.7L1381.8,1738.8L1382.9,1736.0L1384.1,1733.4L1385.2,1735.8L1386.3,1738.5L1387.5,1741.2L1388.6,1743.6L1389.8,1741.0L1390.9,1738.1L1392.0,1735.1L1393.2,1732.5L1394.3,1734.9L1395.5,1737.6L1396.6,1740.4L1397.7,1742.9L1398.9,1740.2L1400.0,1737.2L1401.2,1734.2L1402.3,1731.5L1403.4,1733.9L1404.6,1736.7L1405.7,1739.6L1406.9,1742.1L1408.0,1739.4L1409.1,1736.3L1410.3,1733.2L1411.4,1730.5L1412.6,1733.0L1413.7,1735.9L1414.8,1738.8L1416.0,1741.3L1417.1,1738.5L1418.3,1735.4L1419.4,1732.3L1420.5,1729.4L1421.7,1732.0L1422.8,1735.0L1424.0,1737.9L1425.1,1740.5L1426.2,1737.7L1427.4,1734.5L1428.5,1731.3L1429.7,1728.4L1430.8,1731.1L1431.9,1734.1L1433.1,1737.1L1434.2,1739.8L1435.4,1736.9L1436.5,1733.6L1437.6,1730.3L1438.8,1727.4L1439.9,1730.1L1441.1,1733.2L1442.2,1736.3L1443.3,1739.0L1444.5,1736.1L1445.6,1732.7L1446.8,1729.4L1447.9,1726.4L1449.0,1729.1L1450.2,1732.3L1451.3,1735.4L1452.5,1738.2L1453.6,1735.2L1454.7,1731.8L1455.9,1728.4L1457.0,1725.4L1458.2,1728.2L1459.3,1731.4L1460.4,1734.7L1461.6,1737.5L1462.7,1734.5L1463.9,1731.2L1465.0,1727.8L1466.1,1724.8L1467.3,1727.7L1468.4,1731.0L1469.6,1734.2L1470.7,1737.1L1471.8,1734.1L1473.0,1730.7L1474.1,1727.4L1475.3,1724.4L1476.4,1727.3L1477.5,1730.5L1478.7,1733.8L1479.8,1736.7L1481.0,1733.7L1482.1,1730.3L1483.2,1726.9L1484.4,1723.9L1485.5,1726.8L1486.7,1730.1L1487.8,1733.4L1488.9,1736.3L1490.1,1733.3L1491.2,1729.9L1492.4,1726.5L1493.5,1723.5L1494.6,1726.4L1495.8,1729.7L1496.9,1733.0L1498.1,1735.9L1499.2,1732.9L1500.3,1729.5L1501.5,1726.1L1502.6,1723.1L1503.8,1726.0L1504.9,1729.3L1506.0,1732.6L1507.2,1735.5L1508.3,1732.5L1509.5,1729.1L1510.6,1725.7L1511.7,1722.7L1512.9,1725.6L1514.0,1728.9L1515.2,1732.1L1516.3,1735.0L1517.4,1732.0L1518.6,1728.7L1519.7,1725.3L1520.9,1722.3L1522.0,1725.2L1523.1,1728.4L1524.3,1731.7L1525.4,1734.6L1526.6,1731.6L1527.7,1728.2L1528.8,1724.9L1530.0,1721.9L1531.1,1724.7L1532.3,1728.0L1533.4,1731.3L1534.5,1734.2L1535.7,1731.2L1536.8,1727.8L1538.0,1724.4L1539.1,1721.4L1540.2,1724.3L1541.4,1727.6L1542.5,1730.9L1543.7,1733.8L1544.8,1730.8L1545.9,1727.4L1547.1,1724.0L1548.2,1721.0L1549.4,1723.9L1550.5,1727.2L1551.6,1730.5L1552.8,1733.4L1553.9,1730.4L1555.1,1727.0L1556.2,1723.6L1557.3,1720.6L1558.5,1723.5L1559.6,1726.8L1560.8,1730.1L1561.9,1733.0L1563.0,1730.0L1564.2,1726.6L1564.4,1725.8" fill="none" stroke="#4d4d4d" stroke-width="3.8" stroke-linejoin="round"/>
<line x1="920.6" y1="1742.9" x2="920.6" y2="1755.7" stroke="#4d4d4d" stroke-width="3.2" stroke-linecap="round"/>
<line x1="958.9" y1="1742.3" x2="958.9" y2="1722.7" stroke="#4d4d4d" stroke-width="3.2" stroke-linecap="round"/>
<line x1="1049.2" y1="1742.3" x2="1049.2" y2="1756.5" stroke="#4d4d4d" stroke-width="3.2" stroke-linecap="round"/>
<line x1="1187.8" y1="1742.3" x2="1187.8" y2="1757.3" stroke="#4d4d4d" stroke-width="3.2" stroke-linecap="round"/>
</g>
<line x1="1344.4" y1="1666.2" x2="1344.4" y2="1823.2" stroke="#c59fe0" stroke-width="12" stroke-dasharray="12.5 11.5"/>
<line x1="1530.5" y1="1666.2" x2="1530.5" y2="1823.2" stroke="#c59fe0" stroke-width="12"/>
<line x1="869.5" y1="1666.2" x2="1563.0" y2="1666.2" stroke="#262626" stroke-width="2" />
<line x1="869.5" y1="1665.2" x2="869.5" y2="1824.2" stroke="#262626" stroke-width="2" />
<line x1="869.5" y1="1823.2" x2="876.5" y2="1823.2" stroke="#262626" stroke-width="2" />
<line x1="1143.0" y1="1666.2" x2="1143.0" y2="1673.2" stroke="#262626" stroke-width="2" />
<line x1="1426.0" y1="1666.2" x2="1426.0" y2="1673.2" stroke="#262626" stroke-width="2" />
<text x="806.7" y="1678.0" font-size="31.4" fill="#262626" text-anchor="start" >0.55</text>
<text x="806.7" y="1756.3" font-size="31.4" fill="#262626" text-anchor="start" >0.00</text>
<text x="796.2" y="1835.2" font-size="31.4" fill="#262626" text-anchor="start" >-0.55</text>
<text x="889.3" y="1812.2" font-size="38.6" fill="#000" text-anchor="start" >L10</text>
<line x1="788.0" y1="1863.6" x2="904.7" y2="1863.6" stroke="#ff800e" stroke-width="6.2" />
<line x1="1067.0" y1="1863.6" x2="1182.0" y2="1863.6" stroke="#7fcdbb" stroke-width="6.2" />
<line x1="1349.0" y1="1863.6" x2="1463.8" y2="1863.6" stroke="#4d4d4d" stroke-width="6.2" />
<line x1="788.0" y1="1924.3" x2="904.7" y2="1924.3" stroke="#c59fe0" stroke-width="6.2" />
<line x1="1067.0" y1="1924.3" x2="1182.0" y2="1924.3" stroke="#c59fe0" stroke-width="6.2" stroke-dasharray="22.7 5.4 11.5 5.4"/>
<text x="913.0" y="1869.6" font-size="38.6" fill="#000" text-anchor="start" >dT</text>
<text x="960.7" y="1886.7" font-size="31" fill="#000" text-anchor="start" >sw</text>
<text x="1190.1" y="1869.6" font-size="38.6" fill="#000" text-anchor="start" >dT</text>
<text x="1238.5" y="1886.7" font-size="31" fill="#000" text-anchor="start" >fc</text>
<text x="1473.2" y="1869.6" font-size="38.6" fill="#000" text-anchor="start" >dT</text>
<text x="1521.0" y="1886.7" font-size="31" fill="#000" text-anchor="start" >mol</text>
<text x="912.5" y="1929.5" font-size="38.6" fill="#000" text-anchor="start" >SMO</text>
<text x="999.4" y="1946.4" font-size="31" fill="#000" text-anchor="start" >obs</text>
<text x="1189.6" y="1929.5" font-size="38.6" fill="#000" text-anchor="start" >SMO</text>
<text x="1276.9" y="1946.4" font-size="31" fill="#000" text-anchor="start" >mol</text>
<text x="372.6" y="2000.8" font-size="46.7" fill="#000" text-anchor="start" >Multi-buoy SMO biases (Mol. - Obs.)</text>
<text x="1340.3" y="2004.3" font-size="52.9" fill="#000" text-anchor="start" >b</text>
<line x1="186.2" y1="2392.2" x2="223.3" y2="2392.2" stroke="#262626" stroke-width="1.6" />
<rect x="112.00" y="2021.80" width="37.10" height="37.04" fill="rgb(230,230,255)" stroke="#000" stroke-width="3.3"/>
<rect x="112.00" y="2058.84" width="37.10" height="37.04" fill="rgb(178,178,255)" stroke="#000" stroke-width="3.3"/>
<rect x="112.00" y="2095.88" width="37.10" height="37.04" fill="rgb(102,102,255)" stroke="#000" stroke-width="3.3"/>
<rect x="112.00" y="2132.92" width="37.10" height="37.04" fill="rgb(76,76,255)" stroke="#000" stroke-width="3.3"/>
<rect x="112.00" y="2169.96" width="37.10" height="37.04" fill="rgb(76,76,255)" stroke="#000" stroke-width="3.3"/>
<rect x="112.00" y="2207.00" width="37.10" height="37.04" fill="rgb(51,51,255)" stroke="#000" stroke-width="3.3"/>
<rect x="112.00" y="2244.04" width="37.10" height="37.04" fill="rgb(51,51,255)" stroke="#000" stroke-width="3.3"/>
<rect x="112.00" y="2281.08" width="37.10" height="37.04" fill="rgb(51,51,255)" stroke="#000" stroke-width="3.3"/>
<rect x="112.00" y="2318.12" width="37.10" height="37.04" fill="rgb(51,51,255)" stroke="#000" stroke-width="3.3"/>
<rect x="112.00" y="2355.16" width="37.10" height="37.04" fill="rgb(51,51,255)" stroke="#000" stroke-width="3.3"/>
<rect x="149.10" y="2021.80" width="37.10" height="37.04" fill="rgb(230,230,255)" stroke="#000" stroke-width="3.3"/>
<rect x="149.10" y="2058.84" width="37.10" height="37.04" fill="rgb(204,204,255)" stroke="#000" stroke-width="3.3"/>
<rect x="149.10" y="2095.88" width="37.10" height="37.04" fill="rgb(204,204,255)" stroke="#000" stroke-width="3.3"/>
<rect x="149.10" y="2132.92" width="37.10" height="37.04" fill="rgb(204,204,255)" stroke="#000" stroke-width="3.3"/>
<rect x="149.10" y="2169.96" width="37.10" height="37.04" fill="rgb(204,204,255)" stroke="#000" stroke-width="3.3"/>
<rect x="149.10" y="2207.00" width="37.10" height="37.04" fill="rgb(230,230,255)" stroke="#000" stroke-width="3.3"/>
<rect x="149.10" y="2244.04" width="37.10" height="37.04" fill="rgb(230,230,255)" stroke="#000" stroke-width="3.3"/>
<rect x="149.10" y="2281.08" width="37.10" height="37.04" fill="rgb(230,230,255)" stroke="#000" stroke-width="3.3"/>
<rect x="149.10" y="2318.12" width="37.10" height="37.04" fill="#ffffff" stroke="#000" stroke-width="3.3"/>
<rect x="149.10" y="2355.16" width="37.10" height="37.04" fill="rgb(255,230,230)" stroke="#000" stroke-width="3.3"/>
<rect x="223.30" y="2021.80" width="37.10" height="37.04" fill="rgb(204,204,255)" stroke="#000" stroke-width="3.3"/>
<rect x="223.30" y="2058.84" width="37.10" height="37.04" fill="rgb(178,178,255)" stroke="#000" stroke-width="3.3"/>
<rect x="223.30" y="2095.88" width="37.10" height="37.04" fill="rgb(178,178,255)" stroke="#000" stroke-width="3.3"/>
<rect x="223.30" y="2132.92" width="37.10" height="37.04" fill="rgb(178,178,255)" stroke="#000" stroke-width="3.3"/>
<rect x="223.30" y="2169.96" width="37.10" height="37.04" fill="rgb(178,178,255)" stroke="#000" stroke-width="3.3"/>
<rect x="223.30" y="2207.00" width="37.10" height="37.04" fill="rgb(178,178,255)" stroke="#000" stroke-width="3.3"/>
<rect x="223.30" y="2244.04" width="37.10" height="37.04" fill="rgb(178,178,255)" stroke="#000" stroke-width="3.3"/>
<rect x="223.30" y="2281.08" width="37.10" height="37.04" fill="rgb(153,153,255)" stroke="#000" stroke-width="3.3"/>
<rect x="223.30" y="2318.12" width="37.10" height="37.04" fill="rgb(153,153,255)" stroke="#000" stroke-width="3.3"/>
<rect x="223.30" y="2355.16" width="37.10" height="37.04" fill="rgb(153,153,255)" stroke="#000" stroke-width="3.3"/>
<rect x="260.40" y="2021.80" width="37.10" height="37.04" fill="rgb(204,204,255)" stroke="#000" stroke-width="3.3"/>
<rect x="260.40" y="2058.84" width="37.10" height="37.04" fill="rgb(178,178,255)" stroke="#000" stroke-width="3.3"/>
<rect x="260.40" y="2095.88" width="37.10" height="37.04" fill="rgb(178,178,255)" stroke="#000" stroke-width="3.3"/>
<rect x="260.40" y="2132.92" width="37.10" height="37.04" fill="rgb(178,178,255)" stroke="#000" stroke-width="3.3"/>
<rect x="260.40" y="2169.96" width="37.10" height="37.04" fill="rgb(153,153,255)" stroke="#000" stroke-width="3.3"/>
<rect x="260.40" y="2207.00" width="37.10" height="37.04" fill="rgb(153,153,255)" stroke="#000" stroke-width="3.3"/>
<rect x="260.40" y="2244.04" width="37.10" height="37.04" fill="rgb(153,153,255)" stroke="#000" stroke-width="3.3"/>
<rect x="260.40" y="2281.08" width="37.10" height="37.04" fill="rgb(153,153,255)" stroke="#000" stroke-width="3.3"/>
<rect x="260.40" y="2318.12" width="37.10" height="37.04" fill="rgb(128,128,255)" stroke="#000" stroke-width="3.3"/>
<rect x="260.40" y="2355.16" width="37.10" height="37.04" fill="rgb(128,128,255)" stroke="#000" stroke-width="3.3"/>
<rect x="297.50" y="2021.80" width="37.10" height="37.04" fill="rgb(230,230,255)" stroke="#000" stroke-width="3.3"/>
<rect x="297.50" y="2058.84" width="37.10" height="37.04" fill="rgb(178,178,255)" stroke="#000" stroke-width="3.3"/>
<rect x="297.50" y="2095.88" width="37.10" height="37.04" fill="rgb(153,153,255)" stroke="#000" stroke-width="3.3"/>
<rect x="297.50" y="2132.92" width="37.10" height="37.04" fill="rgb(153,153,255)" stroke="#000" stroke-width="3.3"/>
<rect x="297.50" y="2169.96" width="37.10" height="37.04" fill="rgb(153,153,255)" stroke="#000" stroke-width="3.3"/>
<rect x="297.50" y="2207.00" width="37.10" height="37.04" fill="rgb(153,153,255)" stroke="#000" stroke-width="3.3"/>
<rect x="297.50" y="2244.04" width="37.10" height="37.04" fill="rgb(153,153,255)" stroke="#000" stroke-width="3.3"/>
<rect x="297.50" y="2281.08" width="37.10" height="37.04" fill="rgb(153,153,255)" stroke="#000" stroke-width="3.3"/>
<rect x="297.50" y="2318.12" width="37.10" height="37.04" fill="rgb(153,153,255)" stroke="#000" stroke-width="3.3"/>
<rect x="297.50" y="2355.16" width="37.10" height="37.04" fill="rgb(153,153,255)" stroke="#000" stroke-width="3.3"/>
<rect x="334.60" y="2021.80" width="37.10" height="37.04" fill="rgb(255,230,230)" stroke="#000" stroke-width="3.3"/>
<rect x="334.60" y="2058.84" width="37.10" height="37.04" fill="rgb(178,178,255)" stroke="#000" stroke-width="3.3"/>
<rect x="334.60" y="2095.88" width="37.10" height="37.04" fill="rgb(178,178,255)" stroke="#000" stroke-width="3.3"/>
<rect x="334.60" y="2132.92" width="37.10" height="37.04" fill="rgb(153,153,255)" stroke="#000" stroke-width="3.3"/>
<rect x="334.60" y="2169.96" width="37.10" height="37.04" fill="rgb(153,153,255)" stroke="#000" stroke-width="3.3"/>
<rect x="334.60" y="2207.00" width="37.10" height="37.04" fill="rgb(153,153,255)" stroke="#000" stroke-width="3.3"/>
<rect x="334.60" y="2244.04" width="37.10" height="37.04" fill="rgb(153,153,255)" stroke="#000" stroke-width="3.3"/>
<rect x="334.60" y="2281.08" width="37.10" height="37.04" fill="rgb(153,153,255)" stroke="#000" stroke-width="3.3"/>
<rect x="334.60" y="2318.12" width="37.10" height="37.04" fill="rgb(153,153,255)" stroke="#000" stroke-width="3.3"/>
<rect x="334.60" y="2355.16" width="37.10" height="37.04" fill="rgb(153,153,255)" stroke="#000" stroke-width="3.3"/>
<rect x="371.70" y="2021.80" width="37.10" height="37.04" fill="rgb(204,204,255)" stroke="#000" stroke-width="3.3"/>
<rect x="371.70" y="2058.84" width="37.10" height="37.04" fill="rgb(153,153,255)" stroke="#000" stroke-width="3.3"/>
<rect x="371.70" y="2095.88" width="37.10" height="37.04" fill="rgb(153,153,255)" stroke="#000" stroke-width="3.3"/>
<rect x="371.70" y="2132.92" width="37.10" height="37.04" fill="rgb(153,153,255)" stroke="#000" stroke-width="3.3"/>
<rect x="371.70" y="2169.96" width="37.10" height="37.04" fill="rgb(153,153,255)" stroke="#000" stroke-width="3.3"/>
<rect x="371.70" y="2207.00" width="37.10" height="37.04" fill="rgb(153,153,255)" stroke="#000" stroke-width="3.3"/>
<rect x="371.70" y="2244.04" width="37.10" height="37.04" fill="rgb(153,153,255)" stroke="#000" stroke-width="3.3"/>
<rect x="371.70" y="2281.08" width="37.10" height="37.04" fill="rgb(153,153,255)" stroke="#000" stroke-width="3.3"/>
<rect x="371.70" y="2318.12" width="37.10" height="37.04" fill="rgb(153,153,255)" stroke="#000" stroke-width="3.3"/>
<rect x="371.70" y="2355.16" width="37.10" height="37.04" fill="rgb(153,153,255)" stroke="#000" stroke-width="3.3"/>
<rect x="408.80" y="2021.80" width="37.10" height="37.04" fill="rgb(230,230,255)" stroke="#000" stroke-width="3.3"/>
<rect x="408.80" y="2058.84" width="37.10" height="37.04" fill="rgb(204,204,255)" stroke="#000" stroke-width="3.3"/>
<rect x="408.80" y="2095.88" width="37.10" height="37.04" fill="rgb(178,178,255)" stroke="#000" stroke-width="3.3"/>
<rect x="408.80" y="2132.92" width="37.10" height="37.04" fill="rgb(178,178,255)" stroke="#000" stroke-width="3.3"/>
<rect x="408.80" y="2169.96" width="37.10" height="37.04" fill="rgb(153,153,255)" stroke="#000" stroke-width="3.3"/>
<rect x="408.80" y="2207.00" width="37.10" height="37.04" fill="rgb(153,153,255)" stroke="#000" stroke-width="3.3"/>
<rect x="408.80" y="2244.04" width="37.10" height="37.04" fill="rgb(153,153,255)" stroke="#000" stroke-width="3.3"/>
<rect x="408.80" y="2281.08" width="37.10" height="37.04" fill="rgb(153,153,255)" stroke="#000" stroke-width="3.3"/>
<rect x="408.80" y="2318.12" width="37.10" height="37.04" fill="rgb(153,153,255)" stroke="#000" stroke-width="3.3"/>
<rect x="408.80" y="2355.16" width="37.10" height="37.04" fill="rgb(153,153,255)" stroke="#000" stroke-width="3.3"/>
<rect x="445.90" y="2021.80" width="37.10" height="37.04" fill="rgb(230,230,255)" stroke="#000" stroke-width="3.3"/>
<rect x="445.90" y="2058.84" width="37.10" height="37.04" fill="rgb(178,178,255)" stroke="#000" stroke-width="3.3"/>
<rect x="445.90" y="2095.88" width="37.10" height="37.04" fill="rgb(153,153,255)" stroke="#000" stroke-width="3.3"/>
<rect x="445.90" y="2132.92" width="37.10" height="37.04" fill="rgb(153,153,255)" stroke="#000" stroke-width="3.3"/>
<rect x="445.90" y="2169.96" width="37.10" height="37.04" fill="rgb(153,153,255)" stroke="#000" stroke-width="3.3"/>
<rect x="445.90" y="2207.00" width="37.10" height="37.04" fill="rgb(128,128,255)" stroke="#000" stroke-width="3.3"/>
<rect x="445.90" y="2244.04" width="37.10" height="37.04" fill="rgb(128,128,255)" stroke="#000" stroke-width="3.3"/>
<rect x="445.90" y="2281.08" width="37.10" height="37.04" fill="rgb(128,128,255)" stroke="#000" stroke-width="3.3"/>
<rect x="445.90" y="2318.12" width="37.10" height="37.04" fill="rgb(102,102,255)" stroke="#000" stroke-width="3.3"/>
<rect x="445.90" y="2355.16" width="37.10" height="37.04" fill="rgb(102,102,255)" stroke="#000" stroke-width="3.3"/>
<rect x="483.00" y="2021.80" width="37.10" height="37.04" fill="rgb(204,204,255)" stroke="#000" stroke-width="3.3"/>
<rect x="483.00" y="2058.84" width="37.10" height="37.04" fill="rgb(153,153,255)" stroke="#000" stroke-width="3.3"/>
<rect x="483.00" y="2095.88" width="37.10" height="37.04" fill="rgb(153,153,255)" stroke="#000" stroke-width="3.3"/>
<rect x="483.00" y="2132.92" width="37.10" height="37.04" fill="rgb(178,178,255)" stroke="#000" stroke-width="3.3"/>
<rect x="483.00" y="2169.96" width="37.10" height="37.04" fill="rgb(178,178,255)" stroke="#000" stroke-width="3.3"/>
<rect x="483.00" y="2207.00" width="37.10" height="37.04" fill="rgb(178,178,255)" stroke="#000" stroke-width="3.3"/>
<rect x="483.00" y="2244.04" width="37.10" height="37.04" fill="rgb(178,178,255)" stroke="#000" stroke-width="3.3"/>
<rect x="483.00" y="2281.08" width="37.10" height="37.04" fill="rgb(178,178,255)" stroke="#000" stroke-width="3.3"/>
<rect x="483.00" y="2318.12" width="37.10" height="37.04" fill="rgb(153,153,255)" stroke="#000" stroke-width="3.3"/>
<rect x="483.00" y="2355.16" width="37.10" height="37.04" fill="rgb(153,153,255)" stroke="#000" stroke-width="3.3"/>
<rect x="520.10" y="2021.80" width="37.10" height="37.04" fill="rgb(230,230,255)" stroke="#000" stroke-width="3.3"/>
<rect x="520.10" y="2058.84" width="37.10" height="37.04" fill="rgb(153,153,255)" stroke="#000" stroke-width="3.3"/>
<rect x="520.10" y="2095.88" width="37.10" height="37.04" fill="rgb(128,128,255)" stroke="#000" stroke-width="3.3"/>
<rect x="520.10" y="2132.92" width="37.10" height="37.04" fill="rgb(128,128,255)" stroke="#000" stroke-width="3.3"/>
<rect x="520.10" y="2169.96" width="37.10" height="37.04" fill="rgb(128,128,255)" stroke="#000" stroke-width="3.3"/>
<rect x="520.10" y="2207.00" width="37.10" height="37.04" fill="rgb(128,128,255)" stroke="#000" stroke-width="3.3"/>
<rect x="520.10" y="2244.04" width="37.10" height="37.04" fill="rgb(128,128,255)" stroke="#000" stroke-width="3.3"/>
<rect x="520.10" y="2281.08" width="37.10" height="37.04" fill="rgb(128,128,255)" stroke="#000" stroke-width="3.3"/>
<rect x="520.10" y="2318.12" width="37.10" height="37.04" fill="rgb(128,128,255)" stroke="#000" stroke-width="3.3"/>
<rect x="520.10" y="2355.16" width="37.10" height="37.04" fill="rgb(128,128,255)" stroke="#000" stroke-width="3.3"/>
<rect x="557.20" y="2021.80" width="37.10" height="37.04" fill="rgb(255,204,204)" stroke="#000" stroke-width="3.3"/>
<rect x="557.20" y="2058.84" width="37.10" height="37.04" fill="rgb(178,178,255)" stroke="#000" stroke-width="3.3"/>
<rect x="557.20" y="2095.88" width="37.10" height="37.04" fill="rgb(153,153,255)" stroke="#000" stroke-width="3.3"/>
<rect x="557.20" y="2132.92" width="37.10" height="37.04" fill="rgb(128,128,255)" stroke="#000" stroke-width="3.3"/>
<rect x="557.20" y="2169.96" width="37.10" height="37.04" fill="rgb(128,128,255)" stroke="#000" stroke-width="3.3"/>
<rect x="557.20" y="2207.00" width="37.10" height="37.04" fill="rgb(128,128,255)" stroke="#000" stroke-width="3.3"/>
<rect x="557.20" y="2244.04" width="37.10" height="37.04" fill="rgb(128,128,255)" stroke="#000" stroke-width="3.3"/>
<rect x="557.20" y="2281.08" width="37.10" height="37.04" fill="rgb(128,128,255)" stroke="#000" stroke-width="3.3"/>
<rect x="557.20" y="2318.12" width="37.10" height="37.04" fill="rgb(128,128,255)" stroke="#000" stroke-width="3.3"/>
<rect x="557.20" y="2355.16" width="37.10" height="37.04" fill="rgb(128,128,255)" stroke="#000" stroke-width="3.3"/>
<rect x="594.30" y="2021.80" width="37.10" height="37.04" fill="rgb(153,153,255)" stroke="#000" stroke-width="3.3"/>
<rect x="594.30" y="2058.84" width="37.10" height="37.04" fill="rgb(76,76,255)" stroke="#000" stroke-width="3.3"/>
<rect x="594.30" y="2095.88" width="37.10" height="37.04" fill="rgb(51,51,255)" stroke="#000" stroke-width="3.3"/>
<rect x="594.30" y="2132.92" width="37.10" height="37.04" fill="rgb(26,26,255)" stroke="#000" stroke-width="3.3"/>
<rect x="594.30" y="2169.96" width="37.10" height="37.04" fill="rgb(0,0,255)" stroke="#000" stroke-width="3.3"/>
<rect x="594.30" y="2207.00" width="37.10" height="37.04" fill="rgb(0,0,255)" stroke="#000" stroke-width="3.3"/>
<rect x="594.30" y="2244.04" width="37.10" height="37.04" fill="rgb(0,0,255)" stroke="#000" stroke-width="3.3"/>
<rect x="594.30" y="2281.08" width="37.10" height="37.04" fill="rgb(0,0,255)" stroke="#000" stroke-width="3.3"/>
<rect x="594.30" y="2318.12" width="37.10" height="37.04" fill="rgb(0,0,255)" stroke="#000" stroke-width="3.3"/>
<rect x="594.30" y="2355.16" width="37.10" height="37.04" fill="rgb(0,0,255)" stroke="#000" stroke-width="3.3"/>
<rect x="631.40" y="2021.80" width="37.10" height="37.04" fill="rgb(255,230,230)" stroke="#000" stroke-width="3.3"/>
<rect x="631.40" y="2058.84" width="37.10" height="37.04" fill="rgb(178,178,255)" stroke="#000" stroke-width="3.3"/>
<rect x="631.40" y="2095.88" width="37.10" height="37.04" fill="rgb(178,178,255)" stroke="#000" stroke-width="3.3"/>
<rect x="631.40" y="2132.92" width="37.10" height="37.04" fill="rgb(178,178,255)" stroke="#000" stroke-width="3.3"/>
<rect x="631.40" y="2169.96" width="37.10" height="37.04" fill="rgb(204,204,255)" stroke="#000" stroke-width="3.3"/>
<rect x="631.40" y="2207.00" width="37.10" height="37.04" fill="rgb(204,204,255)" stroke="#000" stroke-width="3.3"/>
<rect x="631.40" y="2244.04" width="37.10" height="37.04" fill="rgb(230,230,255)" stroke="#000" stroke-width="3.3"/>
<rect x="631.40" y="2281.08" width="37.10" height="37.04" fill="rgb(230,230,255)" stroke="#000" stroke-width="3.3"/>
<rect x="631.40" y="2318.12" width="37.10" height="37.04" fill="rgb(230,230,255)" stroke="#000" stroke-width="3.3"/>
<rect x="631.40" y="2355.16" width="37.10" height="37.04" fill="rgb(255,230,230)" stroke="#000" stroke-width="3.3"/>
<rect x="668.50" y="2021.80" width="37.10" height="37.04" fill="rgb(255,230,230)" stroke="#000" stroke-width="3.3"/>
<rect x="668.50" y="2058.84" width="37.10" height="37.04" fill="rgb(153,153,255)" stroke="#000" stroke-width="3.3"/>
<rect x="668.50" y="2095.88" width="37.10" height="37.04" fill="rgb(153,153,255)" stroke="#000" stroke-width="3.3"/>
<rect x="668.50" y="2132.92" width="37.10" height="37.04" fill="rgb(153,153,255)" stroke="#000" stroke-width="3.3"/>
<rect x="668.50" y="2169.96" width="37.10" height="37.04" fill="rgb(153,153,255)" stroke="#000" stroke-width="3.3"/>
<rect x="668.50" y="2207.00" width="37.10" height="37.04" fill="rgb(178,178,255)" stroke="#000" stroke-width="3.3"/>
<rect x="668.50" y="2244.04" width="37.10" height="37.04" fill="rgb(178,178,255)" stroke="#000" stroke-width="3.3"/>
<rect x="668.50" y="2281.08" width="37.10" height="37.04" fill="rgb(178,178,255)" stroke="#000" stroke-width="3.3"/>
<rect x="668.50" y="2318.12" width="37.10" height="37.04" fill="rgb(178,178,255)" stroke="#000" stroke-width="3.3"/>
<rect x="668.50" y="2355.16" width="37.10" height="37.04" fill="rgb(178,178,255)" stroke="#000" stroke-width="3.3"/>
<rect x="705.60" y="2021.80" width="37.10" height="37.04" fill="rgb(230,230,255)" stroke="#000" stroke-width="3.3"/>
<rect x="705.60" y="2058.84" width="37.10" height="37.04" fill="rgb(204,204,255)" stroke="#000" stroke-width="3.3"/>
<rect x="705.60" y="2095.88" width="37.10" height="37.04" fill="rgb(178,178,255)" stroke="#000" stroke-width="3.3"/>
<rect x="705.60" y="2132.92" width="37.10" height="37.04" fill="rgb(153,153,255)" stroke="#000" stroke-width="3.3"/>
<rect x="705.60" y="2169.96" width="37.10" height="37.04" fill="rgb(153,153,255)" stroke="#000" stroke-width="3.3"/>
<rect x="705.60" y="2207.00" width="37.10" height="37.04" fill="rgb(153,153,255)" stroke="#000" stroke-width="3.3"/>
<rect x="705.60" y="2244.04" width="37.10" height="37.04" fill="rgb(153,153,255)" stroke="#000" stroke-width="3.3"/>
<rect x="705.60" y="2281.08" width="37.10" height="37.04" fill="rgb(153,153,255)" stroke="#000" stroke-width="3.3"/>
<rect x="705.60" y="2318.12" width="37.10" height="37.04" fill="rgb(153,153,255)" stroke="#000" stroke-width="3.3"/>
<rect x="705.60" y="2355.16" width="37.10" height="37.04" fill="rgb(153,153,255)" stroke="#000" stroke-width="3.3"/>
<rect x="742.70" y="2021.80" width="37.10" height="37.04" fill="rgb(178,178,255)" stroke="#000" stroke-width="3.3"/>
<rect x="742.70" y="2058.84" width="37.10" height="37.04" fill="rgb(153,153,255)" stroke="#000" stroke-width="3.3"/>
<rect x="742.70" y="2095.88" width="37.10" height="37.04" fill="rgb(128,128,255)" stroke="#000" stroke-width="3.3"/>
<rect x="742.70" y="2132.92" width="37.10" height="37.04" fill="rgb(102,102,255)" stroke="#000" stroke-width="3.3"/>
<rect x="742.70" y="2169.96" width="37.10" height="37.04" fill="rgb(102,102,255)" stroke="#000" stroke-width="3.3"/>
<rect x="742.70" y="2207.00" width="37.10" height="37.04" fill="rgb(102,102,255)" stroke="#000" stroke-width="3.3"/>
<rect x="742.70" y="2244.04" width="37.10" height="37.04" fill="rgb(102,102,255)" stroke="#000" stroke-width="3.3"/>
<rect x="742.70" y="2281.08" width="37.10" height="37.04" fill="rgb(102,102,255)" stroke="#000" stroke-width="3.3"/>
<rect x="742.70" y="2318.12" width="37.10" height="37.04" fill="rgb(76,76,255)" stroke="#000" stroke-width="3.3"/>
<rect x="742.70" y="2355.16" width="37.10" height="37.04" fill="rgb(76,76,255)" stroke="#000" stroke-width="3.3"/>
<rect x="779.80" y="2021.80" width="37.10" height="37.04" fill="rgb(230,230,255)" stroke="#000" stroke-width="3.3"/>
<rect x="779.80" y="2058.84" width="37.10" height="37.04" fill="rgb(178,178,255)" stroke="#000" stroke-width="3.3"/>
<rect x="779.80" y="2095.88" width="37.10" height="37.04" fill="rgb(178,178,255)" stroke="#000" stroke-width="3.3"/>
<rect x="779.80" y="2132.92" width="37.10" height="37.04" fill="rgb(153,153,255)" stroke="#000" stroke-width="3.3"/>
<rect x="779.80" y="2169.96" width="37.10" height="37.04" fill="rgb(153,153,255)" stroke="#000" stroke-width="3.3"/>
<rect x="779.80" y="2207.00" width="37.10" height="37.04" fill="rgb(153,153,255)" stroke="#000" stroke-width="3.3"/>
<rect x="779.80" y="2244.04" width="37.10" height="37.04" fill="rgb(153,153,255)" stroke="#000" stroke-width="3.3"/>
<rect x="779.80" y="2281.08" width="37.10" height="37.04" fill="rgb(153,153,255)" stroke="#000" stroke-width="3.3"/>
<rect x="779.80" y="2318.12" width="37.10" height="37.04" fill="rgb(153,153,255)" stroke="#000" stroke-width="3.3"/>
<rect x="779.80" y="2355.16" width="37.10" height="37.04" fill="rgb(153,153,255)" stroke="#000" stroke-width="3.3"/>
<rect x="816.90" y="2021.80" width="37.10" height="37.04" fill="rgb(178,178,255)" stroke="#000" stroke-width="3.3"/>
<rect x="816.90" y="2058.84" width="37.10" height="37.04" fill="rgb(178,178,255)" stroke="#000" stroke-width="3.3"/>
<rect x="816.90" y="2095.88" width="37.10" height="37.04" fill="rgb(153,153,255)" stroke="#000" stroke-width="3.3"/>
<rect x="816.90" y="2132.92" width="37.10" height="37.04" fill="rgb(153,153,255)" stroke="#000" stroke-width="3.3"/>
<rect x="816.90" y="2169.96" width="37.10" height="37.04" fill="rgb(128,128,255)" stroke="#000" stroke-width="3.3"/>
<rect x="816.90" y="2207.00" width="37.10" height="37.04" fill="rgb(128,128,255)" stroke="#000" stroke-width="3.3"/>
<rect x="816.90" y="2244.04" width="37.10" height="37.04" fill="rgb(102,102,255)" stroke="#000" stroke-width="3.3"/>
<rect x="816.90" y="2281.08" width="37.10" height="37.04" fill="rgb(76,76,255)" stroke="#000" stroke-width="3.3"/>
<rect x="816.90" y="2318.12" width="37.10" height="37.04" fill="rgb(76,76,255)" stroke="#000" stroke-width="3.3"/>
<rect x="816.90" y="2355.16" width="37.10" height="37.04" fill="rgb(51,51,255)" stroke="#000" stroke-width="3.3"/>
<rect x="854.00" y="2021.80" width="37.10" height="37.04" fill="rgb(178,178,255)" stroke="#000" stroke-width="3.3"/>
<rect x="854.00" y="2058.84" width="37.10" height="37.04" fill="rgb(178,178,255)" stroke="#000" stroke-width="3.3"/>
<rect x="854.00" y="2095.88" width="37.10" height="37.04" fill="rgb(76,76,255)" stroke="#000" stroke-width="3.3"/>
<rect x="854.00" y="2132.92" width="37.10" height="37.04" fill="rgb(76,76,255)" stroke="#000" stroke-width="3.3"/>
<rect x="854.00" y="2169.96" width="37.10" height="37.04" fill="rgb(76,76,255)" stroke="#000" stroke-width="3.3"/>
<rect x="854.00" y="2207.00" width="37.10" height="37.04" fill="rgb(76,76,255)" stroke="#000" stroke-width="3.3"/>
<rect x="854.00" y="2244.04" width="37.10" height="37.04" fill="rgb(76,76,255)" stroke="#000" stroke-width="3.3"/>
<rect x="854.00" y="2281.08" width="37.10" height="37.04" fill="rgb(76,76,255)" stroke="#000" stroke-width="3.3"/>
<rect x="854.00" y="2318.12" width="37.10" height="37.04" fill="rgb(76,76,255)" stroke="#000" stroke-width="3.3"/>
<rect x="854.00" y="2355.16" width="37.10" height="37.04" fill="rgb(51,51,255)" stroke="#000" stroke-width="3.3"/>
<rect x="891.10" y="2021.80" width="37.10" height="37.04" fill="rgb(255,230,230)" stroke="#000" stroke-width="3.3"/>
<rect x="891.10" y="2058.84" width="37.10" height="37.04" fill="rgb(230,230,255)" stroke="#000" stroke-width="3.3"/>
<rect x="891.10" y="2095.88" width="37.10" height="37.04" fill="rgb(204,204,255)" stroke="#000" stroke-width="3.3"/>
<rect x="891.10" y="2132.92" width="37.10" height="37.04" fill="rgb(204,204,255)" stroke="#000" stroke-width="3.3"/>
<rect x="891.10" y="2169.96" width="37.10" height="37.04" fill="rgb(204,204,255)" stroke="#000" stroke-width="3.3"/>
<rect x="891.10" y="2207.00" width="37.10" height="37.04" fill="rgb(204,204,255)" stroke="#000" stroke-width="3.3"/>
<rect x="891.10" y="2244.04" width="37.10" height="37.04" fill="rgb(204,204,255)" stroke="#000" stroke-width="3.3"/>
<rect x="891.10" y="2281.08" width="37.10" height="37.04" fill="rgb(204,204,255)" stroke="#000" stroke-width="3.3"/>
<rect x="891.10" y="2318.12" width="37.10" height="37.04" fill="rgb(204,204,255)" stroke="#000" stroke-width="3.3"/>
<rect x="891.10" y="2355.16" width="37.10" height="37.04" fill="rgb(204,204,255)" stroke="#000" stroke-width="3.3"/>
<rect x="928.20" y="2021.80" width="37.10" height="37.04" fill="rgb(230,230,255)" stroke="#000" stroke-width="3.3"/>
<rect x="928.20" y="2058.84" width="37.10" height="37.04" fill="rgb(204,204,255)" stroke="#000" stroke-width="3.3"/>
<rect x="928.20" y="2095.88" width="37.10" height="37.04" fill="rgb(204,204,255)" stroke="#000" stroke-width="3.3"/>
<rect x="928.20" y="2132.92" width="37.10" height="37.04" fill="rgb(204,204,255)" stroke="#000" stroke-width="3.3"/>
<rect x="928.20" y="2169.96" width="37.10" height="37.04" fill="rgb(204,204,255)" stroke="#000" stroke-width="3.3"/>
<rect x="928.20" y="2207.00" width="37.10" height="37.04" fill="rgb(178,178,255)" stroke="#000" stroke-width="3.3"/>
<rect x="928.20" y="2244.04" width="37.10" height="37.04" fill="rgb(178,178,255)" stroke="#000" stroke-width="3.3"/>
<rect x="928.20" y="2281.08" width="37.10" height="37.04" fill="rgb(76,76,255)" stroke="#000" stroke-width="3.3"/>
<rect x="928.20" y="2318.12" width="37.10" height="37.04" fill="rgb(76,76,255)" stroke="#000" stroke-width="3.3"/>
<rect x="928.20" y="2355.16" width="37.10" height="37.04" fill="rgb(76,76,255)" stroke="#000" stroke-width="3.3"/>
<rect x="965.30" y="2169.96" width="37.10" height="37.04" fill="rgb(102,102,255)" stroke="#000" stroke-width="3.3"/>
<rect x="965.30" y="2207.00" width="37.10" height="37.04" fill="rgb(76,76,255)" stroke="#000" stroke-width="3.3"/>
<rect x="965.30" y="2244.04" width="37.10" height="37.04" fill="rgb(76,76,255)" stroke="#000" stroke-width="3.3"/>
<rect x="965.30" y="2281.08" width="37.10" height="37.04" fill="rgb(76,76,255)" stroke="#000" stroke-width="3.3"/>
<rect x="965.30" y="2318.12" width="37.10" height="37.04" fill="rgb(76,76,255)" stroke="#000" stroke-width="3.3"/>
<rect x="965.30" y="2355.16" width="37.10" height="37.04" fill="rgb(76,76,255)" stroke="#000" stroke-width="3.3"/>
<rect x="1002.40" y="2021.80" width="37.10" height="37.04" fill="rgb(230,230,255)" stroke="#000" stroke-width="3.3"/>
<rect x="1002.40" y="2058.84" width="37.10" height="37.04" fill="rgb(128,128,255)" stroke="#000" stroke-width="3.3"/>
<rect x="1002.40" y="2095.88" width="37.10" height="37.04" fill="rgb(102,102,255)" stroke="#000" stroke-width="3.3"/>
<rect x="1002.40" y="2132.92" width="37.10" height="37.04" fill="rgb(102,102,255)" stroke="#000" stroke-width="3.3"/>
<rect x="1002.40" y="2169.96" width="37.10" height="37.04" fill="rgb(102,102,255)" stroke="#000" stroke-width="3.3"/>
<rect x="1002.40" y="2207.00" width="37.10" height="37.04" fill="rgb(128,128,255)" stroke="#000" stroke-width="3.3"/>
<rect x="1002.40" y="2244.04" width="37.10" height="37.04" fill="rgb(128,128,255)" stroke="#000" stroke-width="3.3"/>
<rect x="1002.40" y="2281.08" width="37.10" height="37.04" fill="rgb(128,128,255)" stroke="#000" stroke-width="3.3"/>
<rect x="1002.40" y="2318.12" width="37.10" height="37.04" fill="rgb(128,128,255)" stroke="#000" stroke-width="3.3"/>
<rect x="1002.40" y="2355.16" width="37.10" height="37.04" fill="rgb(128,128,255)" stroke="#000" stroke-width="3.3"/>
<rect x="1039.50" y="2021.80" width="37.10" height="37.04" fill="rgb(178,178,255)" stroke="#000" stroke-width="3.3"/>
<rect x="1039.50" y="2058.84" width="37.10" height="37.04" fill="rgb(128,128,255)" stroke="#000" stroke-width="3.3"/>
<rect x="1039.50" y="2095.88" width="37.10" height="37.04" fill="rgb(102,102,255)" stroke="#000" stroke-width="3.3"/>
<rect x="1039.50" y="2132.92" width="37.10" height="37.04" fill="rgb(76,76,255)" stroke="#000" stroke-width="3.3"/>
<rect x="1039.50" y="2169.96" width="37.10" height="37.04" fill="rgb(76,76,255)" stroke="#000" stroke-width="3.3"/>
<rect x="1039.50" y="2207.00" width="37.10" height="37.04" fill="rgb(76,76,255)" stroke="#000" stroke-width="3.3"/>
<rect x="1039.50" y="2244.04" width="37.10" height="37.04" fill="rgb(76,76,255)" stroke="#000" stroke-width="3.3"/>
<rect x="1039.50" y="2281.08" width="37.10" height="37.04" fill="rgb(76,76,255)" stroke="#000" stroke-width="3.3"/>
<rect x="1039.50" y="2318.12" width="37.10" height="37.04" fill="rgb(76,76,255)" stroke="#000" stroke-width="3.3"/>
<rect x="1039.50" y="2355.16" width="37.10" height="37.04" fill="rgb(76,76,255)" stroke="#000" stroke-width="3.3"/>
<rect x="1076.60" y="2021.80" width="37.10" height="37.04" fill="rgb(255,230,230)" stroke="#000" stroke-width="3.3"/>
<rect x="1076.60" y="2058.84" width="37.10" height="37.04" fill="rgb(230,230,255)" stroke="#000" stroke-width="3.3"/>
<rect x="1076.60" y="2095.88" width="37.10" height="37.04" fill="rgb(204,204,255)" stroke="#000" stroke-width="3.3"/>
<rect x="1076.60" y="2132.92" width="37.10" height="37.04" fill="rgb(204,204,255)" stroke="#000" stroke-width="3.3"/>
<rect x="1076.60" y="2169.96" width="37.10" height="37.04" fill="rgb(204,204,255)" stroke="#000" stroke-width="3.3"/>
<rect x="1076.60" y="2207.00" width="37.10" height="37.04" fill="rgb(204,204,255)" stroke="#000" stroke-width="3.3"/>
<rect x="1076.60" y="2244.04" width="37.10" height="37.04" fill="rgb(204,204,255)" stroke="#000" stroke-width="3.3"/>
<rect x="1076.60" y="2281.08" width="37.10" height="37.04" fill="rgb(204,204,255)" stroke="#000" stroke-width="3.3"/>
<rect x="1076.60" y="2318.12" width="37.10" height="37.04" fill="rgb(204,204,255)" stroke="#000" stroke-width="3.3"/>
<rect x="1076.60" y="2355.16" width="37.10" height="37.04" fill="rgb(204,204,255)" stroke="#000" stroke-width="3.3"/>
<rect x="1113.70" y="2021.80" width="37.10" height="37.04" fill="rgb(255,230,230)" stroke="#000" stroke-width="3.3"/>
<rect x="1113.70" y="2058.84" width="37.10" height="37.04" fill="rgb(230,230,255)" stroke="#000" stroke-width="3.3"/>
<rect x="1113.70" y="2095.88" width="37.10" height="37.04" fill="rgb(204,204,255)" stroke="#000" stroke-width="3.3"/>
<rect x="1113.70" y="2132.92" width="37.10" height="37.04" fill="rgb(204,204,255)" stroke="#000" stroke-width="3.3"/>
<rect x="1113.70" y="2169.96" width="37.10" height="37.04" fill="rgb(204,204,255)" stroke="#000" stroke-width="3.3"/>
<rect x="1113.70" y="2207.00" width="37.10" height="37.04" fill="rgb(230,230,255)" stroke="#000" stroke-width="3.3"/>
<rect x="1113.70" y="2244.04" width="37.10" height="37.04" fill="rgb(230,230,255)" stroke="#000" stroke-width="3.3"/>
<rect x="1113.70" y="2281.08" width="37.10" height="37.04" fill="rgb(230,230,255)" stroke="#000" stroke-width="3.3"/>
<rect x="1113.70" y="2318.12" width="37.10" height="37.04" fill="rgb(230,230,255)" stroke="#000" stroke-width="3.3"/>
<rect x="1113.70" y="2355.16" width="37.10" height="37.04" fill="rgb(230,230,255)" stroke="#000" stroke-width="3.3"/>
<rect x="1150.80" y="2021.80" width="37.10" height="37.04" fill="rgb(255,230,230)" stroke="#000" stroke-width="3.3"/>
<rect x="1150.80" y="2058.84" width="37.10" height="37.04" fill="rgb(230,230,255)" stroke="#000" stroke-width="3.3"/>
<rect x="1150.80" y="2095.88" width="37.10" height="37.04" fill="rgb(230,230,255)" stroke="#000" stroke-width="3.3"/>
<rect x="1150.80" y="2132.92" width="37.10" height="37.04" fill="rgb(230,230,255)" stroke="#000" stroke-width="3.3"/>
<rect x="1150.80" y="2169.96" width="37.10" height="37.04" fill="rgb(204,204,255)" stroke="#000" stroke-width="3.3"/>
<rect x="1150.80" y="2207.00" width="37.10" height="37.04" fill="rgb(204,204,255)" stroke="#000" stroke-width="3.3"/>
<rect x="1150.80" y="2244.04" width="37.10" height="37.04" fill="rgb(204,204,255)" stroke="#000" stroke-width="3.3"/>
<rect x="1150.80" y="2281.08" width="37.10" height="37.04" fill="rgb(204,204,255)" stroke="#000" stroke-width="3.3"/>
<rect x="1150.80" y="2318.12" width="37.10" height="37.04" fill="rgb(204,204,255)" stroke="#000" stroke-width="3.3"/>
<rect x="1150.80" y="2355.16" width="37.10" height="37.04" fill="rgb(204,204,255)" stroke="#000" stroke-width="3.3"/>
<rect x="1187.90" y="2021.80" width="37.10" height="37.04" fill="rgb(230,230,255)" stroke="#000" stroke-width="3.3"/>
<rect x="1187.90" y="2058.84" width="37.10" height="37.04" fill="rgb(230,230,255)" stroke="#000" stroke-width="3.3"/>
<rect x="1187.90" y="2095.88" width="37.10" height="37.04" fill="rgb(230,230,255)" stroke="#000" stroke-width="3.3"/>
<rect x="1187.90" y="2132.92" width="37.10" height="37.04" fill="rgb(230,230,255)" stroke="#000" stroke-width="3.3"/>
<rect x="1187.90" y="2169.96" width="37.10" height="37.04" fill="rgb(230,230,255)" stroke="#000" stroke-width="3.3"/>
<rect x="1187.90" y="2207.00" width="37.10" height="37.04" fill="rgb(230,230,255)" stroke="#000" stroke-width="3.3"/>
<rect x="1187.90" y="2244.04" width="37.10" height="37.04" fill="rgb(230,230,255)" stroke="#000" stroke-width="3.3"/>
<rect x="1187.90" y="2281.08" width="37.10" height="37.04" fill="rgb(230,230,255)" stroke="#000" stroke-width="3.3"/>
<rect x="1187.90" y="2318.12" width="37.10" height="37.04" fill="rgb(230,230,255)" stroke="#000" stroke-width="3.3"/>
<rect x="1187.90" y="2355.16" width="37.10" height="37.04" fill="rgb(230,230,255)" stroke="#000" stroke-width="3.3"/>
<rect x="1225.00" y="2021.80" width="37.10" height="37.04" fill="rgb(153,153,255)" stroke="#000" stroke-width="3.3"/>
<rect x="1225.00" y="2058.84" width="37.10" height="37.04" fill="rgb(128,128,255)" stroke="#000" stroke-width="3.3"/>
<rect x="1225.00" y="2095.88" width="37.10" height="37.04" fill="rgb(128,128,255)" stroke="#000" stroke-width="3.3"/>
<rect x="1225.00" y="2132.92" width="37.10" height="37.04" fill="rgb(128,128,255)" stroke="#000" stroke-width="3.3"/>
<rect x="1225.00" y="2169.96" width="37.10" height="37.04" fill="rgb(128,128,255)" stroke="#000" stroke-width="3.3"/>
<rect x="1225.00" y="2207.00" width="37.10" height="37.04" fill="rgb(128,128,255)" stroke="#000" stroke-width="3.3"/>
<rect x="1225.00" y="2244.04" width="37.10" height="37.04" fill="rgb(128,128,255)" stroke="#000" stroke-width="3.3"/>
<rect x="1225.00" y="2281.08" width="37.10" height="37.04" fill="rgb(128,128,255)" stroke="#000" stroke-width="3.3"/>
<rect x="1225.00" y="2318.12" width="37.10" height="37.04" fill="rgb(128,128,255)" stroke="#000" stroke-width="3.3"/>
<rect x="1225.00" y="2355.16" width="37.10" height="37.04" fill="rgb(128,128,255)" stroke="#000" stroke-width="3.3"/>
<rect x="1262.10" y="2021.80" width="37.10" height="37.04" fill="rgb(230,230,255)" stroke="#000" stroke-width="3.3"/>
<rect x="1262.10" y="2058.84" width="37.10" height="37.04" fill="rgb(204,204,255)" stroke="#000" stroke-width="3.3"/>
<rect x="1262.10" y="2095.88" width="37.10" height="37.04" fill="rgb(204,204,255)" stroke="#000" stroke-width="3.3"/>
<rect x="1262.10" y="2132.92" width="37.10" height="37.04" fill="rgb(178,178,255)" stroke="#000" stroke-width="3.3"/>
<rect x="1262.10" y="2169.96" width="37.10" height="37.04" fill="rgb(178,178,255)" stroke="#000" stroke-width="3.3"/>
<rect x="1262.10" y="2207.00" width="37.10" height="37.04" fill="rgb(178,178,255)" stroke="#000" stroke-width="3.3"/>
<rect x="1262.10" y="2244.04" width="37.10" height="37.04" fill="rgb(153,153,255)" stroke="#000" stroke-width="3.3"/>
<rect x="1262.10" y="2281.08" width="37.10" height="37.04" fill="rgb(153,153,255)" stroke="#000" stroke-width="3.3"/>
<rect x="1262.10" y="2318.12" width="37.10" height="37.04" fill="rgb(128,128,255)" stroke="#000" stroke-width="3.3"/>
<rect x="1262.10" y="2355.16" width="37.10" height="37.04" fill="rgb(128,128,255)" stroke="#000" stroke-width="3.3"/>
<rect x="1299.20" y="2021.80" width="37.10" height="37.04" fill="rgb(204,204,255)" stroke="#000" stroke-width="3.3"/>
<rect x="1299.20" y="2058.84" width="37.10" height="37.04" fill="rgb(102,102,255)" stroke="#000" stroke-width="3.3"/>
<rect x="1299.20" y="2095.88" width="37.10" height="37.04" fill="rgb(102,102,255)" stroke="#000" stroke-width="3.3"/>
<rect x="1299.20" y="2132.92" width="37.10" height="37.04" fill="rgb(102,102,255)" stroke="#000" stroke-width="3.3"/>
<rect x="1299.20" y="2169.96" width="37.10" height="37.04" fill="rgb(102,102,255)" stroke="#000" stroke-width="3.3"/>
<rect x="1299.20" y="2207.00" width="37.10" height="37.04" fill="rgb(102,102,255)" stroke="#000" stroke-width="3.3"/>
<rect x="1299.20" y="2244.04" width="37.10" height="37.04" fill="rgb(102,102,255)" stroke="#000" stroke-width="3.3"/>
<rect x="1299.20" y="2281.08" width="37.10" height="37.04" fill="rgb(76,76,255)" stroke="#000" stroke-width="3.3"/>
<rect x="1299.20" y="2318.12" width="37.10" height="37.04" fill="rgb(76,76,255)" stroke="#000" stroke-width="3.3"/>
<rect x="1299.20" y="2355.16" width="37.10" height="37.04" fill="rgb(76,76,255)" stroke="#000" stroke-width="3.3"/>
<rect x="1336.30" y="2021.80" width="37.10" height="37.04" fill="rgb(255,230,230)" stroke="#000" stroke-width="3.3"/>
<rect x="1336.30" y="2058.84" width="37.10" height="37.04" fill="rgb(230,230,255)" stroke="#000" stroke-width="3.3"/>
<rect x="1336.30" y="2095.88" width="37.10" height="37.04" fill="rgb(178,178,255)" stroke="#000" stroke-width="3.3"/>
<rect x="1336.30" y="2132.92" width="37.10" height="37.04" fill="rgb(178,178,255)" stroke="#000" stroke-width="3.3"/>
<rect x="1336.30" y="2169.96" width="37.10" height="37.04" fill="rgb(153,153,255)" stroke="#000" stroke-width="3.3"/>
<rect x="1336.30" y="2207.00" width="37.10" height="37.04" fill="rgb(153,153,255)" stroke="#000" stroke-width="3.3"/>
<rect x="1336.30" y="2244.04" width="37.10" height="37.04" fill="rgb(153,153,255)" stroke="#000" stroke-width="3.3"/>
<rect x="1336.30" y="2281.08" width="37.10" height="37.04" fill="rgb(153,153,255)" stroke="#000" stroke-width="3.3"/>
<rect x="1336.30" y="2318.12" width="37.10" height="37.04" fill="rgb(153,153,255)" stroke="#000" stroke-width="3.3"/>
<rect x="1336.30" y="2355.16" width="37.10" height="37.04" fill="rgb(153,153,255)" stroke="#000" stroke-width="3.3"/>
<text x="16.7" y="2053.9" font-size="38.5" fill="#000" text-anchor="start" >L1</text>
<text x="16.5" y="2091.0" font-size="38.5" fill="#000" text-anchor="start" >L2</text>
<text x="16.4" y="2128.0" font-size="38.5" fill="#000" text-anchor="start" >L3</text>
<text x="16.1" y="2165.0" font-size="38.5" fill="#000" text-anchor="start" >L4</text>
<text x="16.4" y="2202.1" font-size="38.5" fill="#000" text-anchor="start" >L5</text>
<text x="16.3" y="2239.1" font-size="38.5" fill="#000" text-anchor="start" >L6</text>
<text x="16.2" y="2276.2" font-size="38.5" fill="#000" text-anchor="start" >L7</text>
<text x="16.3" y="2313.2" font-size="38.5" fill="#000" text-anchor="start" >L8</text>
<text x="16.4" y="2350.2" font-size="38.5" fill="#000" text-anchor="start" >L9</text>
<text x="6.8" y="2387.3" font-size="38.5" fill="#000" text-anchor="start" >L10</text>
<text x="121.4" y="2424.0" font-size="36.5" fill="#000" text-anchor="start" >2</text>
<text x="121.4" y="2457.5" font-size="36.5" fill="#000" text-anchor="start" >0</text>
<text x="120.9" y="2491.0" font-size="36.5" fill="#000" text-anchor="start" >1</text>
<text x="121.4" y="2524.5" font-size="36.5" fill="#000" text-anchor="start" >0</text>
<text x="117.3" y="2558.0" font-size="36.5" fill="#000" text-anchor="start" >A</text>
<text x="158.5" y="2424.0" font-size="36.5" fill="#000" text-anchor="start" >2</text>
<text x="158.5" y="2457.5" font-size="36.5" fill="#000" text-anchor="start" >0</text>
<text x="158.0" y="2491.0" font-size="36.5" fill="#000" text-anchor="start" >1</text>
<text x="158.5" y="2524.5" font-size="36.5" fill="#000" text-anchor="start" >0</text>
<text x="157.1" y="2558.0" font-size="36.5" fill="#000" text-anchor="start" >F</text>
<text x="195.6" y="2424.0" font-size="36.5" fill="#000" text-anchor="start" >2</text>
<text x="195.6" y="2457.5" font-size="36.5" fill="#000" text-anchor="start" >0</text>
<text x="195.1" y="2491.0" font-size="36.5" fill="#000" text-anchor="start" >1</text>
<text x="195.6" y="2524.5" font-size="36.5" fill="#000" text-anchor="start" >0</text>
<text x="190.2" y="2558.0" font-size="36.5" fill="#000" text-anchor="start" >G</text>
<text x="232.7" y="2424.0" font-size="36.5" fill="#000" text-anchor="start" >2</text>
<text x="232.7" y="2457.5" font-size="36.5" fill="#000" text-anchor="start" >0</text>
<text x="232.2" y="2491.0" font-size="36.5" fill="#000" text-anchor="start" >1</text>
<text x="232.2" y="2524.5" font-size="36.5" fill="#000" text-anchor="start" >1</text>
<text x="229.2" y="2558.0" font-size="36.5" fill="#000" text-anchor="start" >C</text>
<text x="269.8" y="2424.0" font-size="36.5" fill="#000" text-anchor="start" >2</text>
<text x="269.8" y="2457.5" font-size="36.5" fill="#000" text-anchor="start" >0</text>
<text x="269.3" y="2491.0" font-size="36.5" fill="#000" text-anchor="start" >1</text>
<text x="269.3" y="2524.5" font-size="36.5" fill="#000" text-anchor="start" >1</text>
<text x="266.3" y="2558.0" font-size="36.5" fill="#000" text-anchor="start" >D</text>
<text x="306.9" y="2424.0" font-size="36.5" fill="#000" text-anchor="start" >2</text>
<text x="306.9" y="2457.5" font-size="36.5" fill="#000" text-anchor="start" >0</text>
<text x="306.4" y="2491.0" font-size="36.5" fill="#000" text-anchor="start" >1</text>
<text x="306.4" y="2524.5" font-size="36.5" fill="#000" text-anchor="start" >1</text>
<text x="304.5" y="2558.0" font-size="36.5" fill="#000" text-anchor="start" >E</text>
<text x="344.0" y="2424.0" font-size="36.5" fill="#000" text-anchor="start" >2</text>
<text x="344.0" y="2457.5" font-size="36.5" fill="#000" text-anchor="start" >0</text>
<text x="343.5" y="2491.0" font-size="36.5" fill="#000" text-anchor="start" >1</text>
<text x="343.5" y="2524.5" font-size="36.5" fill="#000" text-anchor="start" >1</text>
<text x="342.6" y="2558.0" font-size="36.5" fill="#000" text-anchor="start" >F</text>
<text x="381.1" y="2424.0" font-size="36.5" fill="#000" text-anchor="start" >2</text>
<text x="381.1" y="2457.5" font-size="36.5" fill="#000" text-anchor="start" >0</text>
<text x="380.6" y="2491.0" font-size="36.5" fill="#000" text-anchor="start" >1</text>
<text x="380.6" y="2524.5" font-size="36.5" fill="#000" text-anchor="start" >1</text>
<text x="373.2" y="2558.0" font-size="36.5" fill="#000" text-anchor="start" >M</text>
<text x="418.2" y="2424.0" font-size="36.5" fill="#000" text-anchor="start" >2</text>
<text x="418.2" y="2457.5" font-size="36.5" fill="#000" text-anchor="start" >0</text>
<text x="417.7" y="2491.0" font-size="36.5" fill="#000" text-anchor="start" >1</text>
<text x="418.2" y="2524.5" font-size="36.5" fill="#000" text-anchor="start" >2</text>
<text x="415.4" y="2558.0" font-size="36.5" fill="#000" text-anchor="start" >B</text>
<text x="455.3" y="2424.0" font-size="36.5" fill="#000" text-anchor="start" >2</text>
<text x="455.3" y="2457.5" font-size="36.5" fill="#000" text-anchor="start" >0</text>
<text x="454.8" y="2491.0" font-size="36.5" fill="#000" text-anchor="start" >1</text>
<text x="455.3" y="2524.5" font-size="36.5" fill="#000" text-anchor="start" >2</text>
<text x="451.8" y="2558.0" font-size="36.5" fill="#000" text-anchor="start" >C</text>
<text x="492.4" y="2424.0" font-size="36.5" fill="#000" text-anchor="start" >2</text>
<text x="492.4" y="2457.5" font-size="36.5" fill="#000" text-anchor="start" >0</text>
<text x="491.9" y="2491.0" font-size="36.5" fill="#000" text-anchor="start" >1</text>
<text x="492.4" y="2524.5" font-size="36.5" fill="#000" text-anchor="start" >2</text>
<text x="488.9" y="2558.0" font-size="36.5" fill="#000" text-anchor="start" >D</text>
<text x="529.5" y="2424.0" font-size="36.5" fill="#000" text-anchor="start" >2</text>
<text x="529.5" y="2457.5" font-size="36.5" fill="#000" text-anchor="start" >0</text>
<text x="529.0" y="2491.0" font-size="36.5" fill="#000" text-anchor="start" >1</text>
<text x="529.5" y="2524.5" font-size="36.5" fill="#000" text-anchor="start" >2</text>
<text x="524.1" y="2558.0" font-size="36.5" fill="#000" text-anchor="start" >G</text>
<text x="566.6" y="2424.0" font-size="36.5" fill="#000" text-anchor="start" >2</text>
<text x="566.6" y="2457.5" font-size="36.5" fill="#000" text-anchor="start" >0</text>
<text x="566.1" y="2491.0" font-size="36.5" fill="#000" text-anchor="start" >1</text>
<text x="566.6" y="2524.5" font-size="36.5" fill="#000" text-anchor="start" >2</text>
<text x="561.5" y="2558.0" font-size="36.5" fill="#000" text-anchor="start" >H</text>
<text x="603.7" y="2424.0" font-size="36.5" fill="#000" text-anchor="start" >2</text>
<text x="603.7" y="2457.5" font-size="36.5" fill="#000" text-anchor="start" >0</text>
<text x="603.2" y="2491.0" font-size="36.5" fill="#000" text-anchor="start" >1</text>
<text x="603.7" y="2524.5" font-size="36.5" fill="#000" text-anchor="start" >2</text>
<text x="603.4" y="2558.0" font-size="36.5" fill="#000" text-anchor="start" >J</text>
<text x="640.8" y="2424.0" font-size="36.5" fill="#000" text-anchor="start" >2</text>
<text x="640.8" y="2457.5" font-size="36.5" fill="#000" text-anchor="start" >0</text>
<text x="640.3" y="2491.0" font-size="36.5" fill="#000" text-anchor="start" >1</text>
<text x="640.8" y="2524.5" font-size="36.5" fill="#000" text-anchor="start" >2</text>
<text x="638.2" y="2558.0" font-size="36.5" fill="#000" text-anchor="start" >L</text>
<text x="677.9" y="2424.0" font-size="36.5" fill="#000" text-anchor="start" >2</text>
<text x="677.9" y="2457.5" font-size="36.5" fill="#000" text-anchor="start" >0</text>
<text x="677.4" y="2491.0" font-size="36.5" fill="#000" text-anchor="start" >1</text>
<text x="677.9" y="2524.5" font-size="36.5" fill="#000" text-anchor="start" >2</text>
<text x="670.0" y="2558.0" font-size="36.5" fill="#000" text-anchor="start" >M</text>
<text x="715.0" y="2424.0" font-size="36.5" fill="#000" text-anchor="start" >2</text>
<text x="715.0" y="2457.5" font-size="36.5" fill="#000" text-anchor="start" >0</text>
<text x="714.5" y="2491.0" font-size="36.5" fill="#000" text-anchor="start" >1</text>
<text x="715.0" y="2524.5" font-size="36.5" fill="#000" text-anchor="start" >3</text>
<text x="710.9" y="2558.0" font-size="36.5" fill="#000" text-anchor="start" >A</text>
<text x="752.1" y="2424.0" font-size="36.5" fill="#000" text-anchor="start" >2</text>
<text x="752.1" y="2457.5" font-size="36.5" fill="#000" text-anchor="start" >0</text>
<text x="751.6" y="2491.0" font-size="36.5" fill="#000" text-anchor="start" >1</text>
<text x="752.1" y="2524.5" font-size="36.5" fill="#000" text-anchor="start" >3</text>
<text x="749.3" y="2558.0" font-size="36.5" fill="#000" text-anchor="start" >B</text>
<text x="789.2" y="2424.0" font-size="36.5" fill="#000" text-anchor="start" >2</text>
<text x="789.2" y="2457.5" font-size="36.5" fill="#000" text-anchor="start" >0</text>
<text x="788.7" y="2491.0" font-size="36.5" fill="#000" text-anchor="start" >1</text>
<text x="789.2" y="2524.5" font-size="36.5" fill="#000" text-anchor="start" >3</text>
<text x="785.7" y="2558.0" font-size="36.5" fill="#000" text-anchor="start" >C</text>
<text x="826.3" y="2424.0" font-size="36.5" fill="#000" text-anchor="start" >2</text>
<text x="826.3" y="2457.5" font-size="36.5" fill="#000" text-anchor="start" >0</text>
<text x="825.8" y="2491.0" font-size="36.5" fill="#000" text-anchor="start" >1</text>
<text x="826.3" y="2524.5" font-size="36.5" fill="#000" text-anchor="start" >3</text>
<text x="823.9" y="2558.0" font-size="36.5" fill="#000" text-anchor="start" >E</text>
<text x="863.4" y="2424.0" font-size="36.5" fill="#000" text-anchor="start" >2</text>
<text x="863.4" y="2457.5" font-size="36.5" fill="#000" text-anchor="start" >0</text>
<text x="862.9" y="2491.0" font-size="36.5" fill="#000" text-anchor="start" >1</text>
<text x="863.4" y="2524.5" font-size="36.5" fill="#000" text-anchor="start" >3</text>
<text x="862.0" y="2558.0" font-size="36.5" fill="#000" text-anchor="start" >F</text>
<text x="862.9" y="2591.5" font-size="36.5" fill="#000" text-anchor="start" >1</text>
<text x="900.5" y="2424.0" font-size="36.5" fill="#000" text-anchor="start" >2</text>
<text x="900.5" y="2457.5" font-size="36.5" fill="#000" text-anchor="start" >0</text>
<text x="900.0" y="2491.0" font-size="36.5" fill="#000" text-anchor="start" >1</text>
<text x="900.5" y="2524.5" font-size="36.5" fill="#000" text-anchor="start" >3</text>
<text x="899.1" y="2558.0" font-size="36.5" fill="#000" text-anchor="start" >F</text>
<text x="900.5" y="2591.5" font-size="36.5" fill="#000" text-anchor="start" >2</text>
<text x="937.6" y="2424.0" font-size="36.5" fill="#000" text-anchor="start" >2</text>
<text x="937.6" y="2457.5" font-size="36.5" fill="#000" text-anchor="start" >0</text>
<text x="937.1" y="2491.0" font-size="36.5" fill="#000" text-anchor="start" >1</text>
<text x="937.7" y="2524.5" font-size="36.5" fill="#000" text-anchor="start" >4</text>
<text x="934.8" y="2558.0" font-size="36.5" fill="#000" text-anchor="start" >B</text>
<text x="974.7" y="2424.0" font-size="36.5" fill="#000" text-anchor="start" >2</text>
<text x="974.7" y="2457.5" font-size="36.5" fill="#000" text-anchor="start" >0</text>
<text x="974.2" y="2491.0" font-size="36.5" fill="#000" text-anchor="start" >1</text>
<text x="974.8" y="2524.5" font-size="36.5" fill="#000" text-anchor="start" >4</text>
<text x="971.2" y="2558.0" font-size="36.5" fill="#000" text-anchor="start" >C</text>
<text x="1011.8" y="2424.0" font-size="36.5" fill="#000" text-anchor="start" >2</text>
<text x="1011.8" y="2457.5" font-size="36.5" fill="#000" text-anchor="start" >0</text>
<text x="1011.3" y="2491.0" font-size="36.5" fill="#000" text-anchor="start" >1</text>
<text x="1011.9" y="2524.5" font-size="36.5" fill="#000" text-anchor="start" >4</text>
<text x="1008.3" y="2558.0" font-size="36.5" fill="#000" text-anchor="start" >D</text>
<text x="1048.9" y="2424.0" font-size="36.5" fill="#000" text-anchor="start" >2</text>
<text x="1048.9" y="2457.5" font-size="36.5" fill="#000" text-anchor="start" >0</text>
<text x="1048.4" y="2491.0" font-size="36.5" fill="#000" text-anchor="start" >1</text>
<text x="1049.0" y="2524.5" font-size="36.5" fill="#000" text-anchor="start" >4</text>
<text x="1046.5" y="2558.0" font-size="36.5" fill="#000" text-anchor="start" >E</text>
<text x="1086.0" y="2424.0" font-size="36.5" fill="#000" text-anchor="start" >2</text>
<text x="1086.0" y="2457.5" font-size="36.5" fill="#000" text-anchor="start" >0</text>
<text x="1085.5" y="2491.0" font-size="36.5" fill="#000" text-anchor="start" >1</text>
<text x="1086.1" y="2524.5" font-size="36.5" fill="#000" text-anchor="start" >4</text>
<text x="1084.6" y="2558.0" font-size="36.5" fill="#000" text-anchor="start" >F</text>
<text x="1123.1" y="2424.0" font-size="36.5" fill="#000" text-anchor="start" >2</text>
<text x="1123.1" y="2457.5" font-size="36.5" fill="#000" text-anchor="start" >0</text>
<text x="1122.6" y="2491.0" font-size="36.5" fill="#000" text-anchor="start" >1</text>
<text x="1123.2" y="2524.5" font-size="36.5" fill="#000" text-anchor="start" >4</text>
<text x="1125.1" y="2558.0" font-size="36.5" fill="#000" text-anchor="start" >I</text>
<text x="1160.2" y="2424.0" font-size="36.5" fill="#000" text-anchor="start" >2</text>
<text x="1160.2" y="2457.5" font-size="36.5" fill="#000" text-anchor="start" >0</text>
<text x="1159.7" y="2491.0" font-size="36.5" fill="#000" text-anchor="start" >1</text>
<text x="1160.2" y="2524.5" font-size="36.5" fill="#000" text-anchor="start" >5</text>
<text x="1156.1" y="2558.0" font-size="36.5" fill="#000" text-anchor="start" >A</text>
<text x="1197.3" y="2424.0" font-size="36.5" fill="#000" text-anchor="start" >2</text>
<text x="1197.3" y="2457.5" font-size="36.5" fill="#000" text-anchor="start" >0</text>
<text x="1196.8" y="2491.0" font-size="36.5" fill="#000" text-anchor="start" >1</text>
<text x="1197.3" y="2524.5" font-size="36.5" fill="#000" text-anchor="start" >5</text>
<text x="1194.5" y="2558.0" font-size="36.5" fill="#000" text-anchor="start" >B</text>
<text x="1234.4" y="2424.0" font-size="36.5" fill="#000" text-anchor="start" >2</text>
<text x="1234.4" y="2457.5" font-size="36.5" fill="#000" text-anchor="start" >0</text>
<text x="1233.9" y="2491.0" font-size="36.5" fill="#000" text-anchor="start" >1</text>
<text x="1234.4" y="2524.5" font-size="36.5" fill="#000" text-anchor="start" >5</text>
<text x="1230.9" y="2558.0" font-size="36.5" fill="#000" text-anchor="start" >D</text>
<text x="1271.5" y="2424.0" font-size="36.5" fill="#000" text-anchor="start" >2</text>
<text x="1271.5" y="2457.5" font-size="36.5" fill="#000" text-anchor="start" >0</text>
<text x="1271.0" y="2491.0" font-size="36.5" fill="#000" text-anchor="start" >1</text>
<text x="1271.5" y="2524.5" font-size="36.5" fill="#000" text-anchor="start" >5</text>
<text x="1269.1" y="2558.0" font-size="36.5" fill="#000" text-anchor="start" >E</text>
<text x="1308.6" y="2424.0" font-size="36.5" fill="#000" text-anchor="start" >2</text>
<text x="1308.6" y="2457.5" font-size="36.5" fill="#000" text-anchor="start" >0</text>
<text x="1308.1" y="2491.0" font-size="36.5" fill="#000" text-anchor="start" >1</text>
<text x="1308.6" y="2524.5" font-size="36.5" fill="#000" text-anchor="start" >5</text>
<text x="1307.2" y="2558.0" font-size="36.5" fill="#000" text-anchor="start" >F</text>
<text x="1345.7" y="2424.0" font-size="36.5" fill="#000" text-anchor="start" >2</text>
<text x="1345.7" y="2457.5" font-size="36.5" fill="#000" text-anchor="start" >0</text>
<text x="1345.2" y="2491.0" font-size="36.5" fill="#000" text-anchor="start" >1</text>
<text x="1345.7" y="2524.5" font-size="36.5" fill="#000" text-anchor="start" >5</text>
<text x="1345.4" y="2558.0" font-size="36.5" fill="#000" text-anchor="start" >J</text>
<rect x="1411.7" y="2019.00" width="32.30" height="18.21" fill="rgb(0,0,255)"/>
<rect x="1411.7" y="2036.81" width="32.30" height="18.21" fill="rgb(26,26,255)"/>
<rect x="1411.7" y="2054.62" width="32.30" height="18.21" fill="rgb(51,51,255)"/>
<rect x="1411.7" y="2072.43" width="32.30" height="18.21" fill="rgb(76,76,255)"/>
<rect x="1411.7" y="2090.24" width="32.30" height="18.21" fill="rgb(102,102,255)"/>
<rect x="1411.7" y="2108.05" width="32.30" height="18.21" fill="rgb(128,128,255)"/>
<rect x="1411.7" y="2125.86" width="32.30" height="18.21" fill="rgb(153,153,255)"/>
<rect x="1411.7" y="2143.67" width="32.30" height="18.21" fill="rgb(178,178,255)"/>
<rect x="1411.7" y="2161.48" width="32.30" height="18.21" fill="rgb(204,204,255)"/>
<rect x="1411.7" y="2179.29" width="32.30" height="18.21" fill="rgb(230,230,255)"/>
<rect x="1411.7" y="2197.10" width="32.30" height="18.21" fill="#ffffff"/>
<rect x="1411.7" y="2214.90" width="32.30" height="18.21" fill="rgb(255,230,230)"/>
<rect x="1411.7" y="2232.71" width="32.30" height="18.21" fill="rgb(255,204,204)"/>
<rect x="1411.7" y="2250.52" width="32.30" height="18.21" fill="rgb(255,178,178)"/>
<rect x="1411.7" y="2268.33" width="32.30" height="18.21" fill="rgb(255,153,153)"/>
<rect x="1411.7" y="2286.14" width="32.30" height="18.21" fill="rgb(255,128,128)"/>
<rect x="1411.7" y="2303.95" width="32.30" height="18.21" fill="rgb(255,102,102)"/>
<rect x="1411.7" y="2321.76" width="32.30" height="18.21" fill="rgb(255,76,76)"/>
<rect x="1411.7" y="2339.57" width="32.30" height="18.21" fill="rgb(255,51,51)"/>
<rect x="1411.7" y="2357.38" width="32.30" height="18.21" fill="rgb(255,26,26)"/>
<rect x="1411.7" y="2375.19" width="32.30" height="18.21" fill="rgb(255,0,0)"/>
<line x1="1444.6" y1="2019.0" x2="1444.6" y2="2393.0" stroke="#262626" stroke-width="1.6" />
<line x1="1441.0" y1="2019.0" x2="1444.6" y2="2019.0" stroke="#262626" stroke-width="1.6" />
<text x="1460.5" y="2032.3" font-size="39.7" fill="#262626" text-anchor="start" >-50</text>
<line x1="1441.0" y1="2093.8" x2="1444.6" y2="2093.8" stroke="#262626" stroke-width="1.6" />
<text x="1460.5" y="2107.1" font-size="39.7" fill="#262626" text-anchor="start" >-30</text>
<line x1="1441.0" y1="2168.6" x2="1444.6" y2="2168.6" stroke="#262626" stroke-width="1.6" />
<text x="1460.5" y="2181.9" font-size="39.7" fill="#262626" text-anchor="start" >-10</text>
<line x1="1441.0" y1="2243.4" x2="1444.6" y2="2243.4" stroke="#262626" stroke-width="1.6" />
<text x="1458.8" y="2256.7" font-size="39.7" fill="#262626" text-anchor="start" >10</text>
<line x1="1441.0" y1="2318.2" x2="1444.6" y2="2318.2" stroke="#262626" stroke-width="1.6" />
<text x="1460.5" y="2331.5" font-size="39.7" fill="#262626" text-anchor="start" >30</text>
<line x1="1441.0" y1="2393.0" x2="1444.6" y2="2393.0" stroke="#262626" stroke-width="1.6" />
<text x="1460.4" y="2406.3" font-size="39.7" fill="#262626" text-anchor="start" >50</text>
<text x="1456.9" y="2468.5" font-size="39" fill="#000" text-anchor="start" >(days)</text>
</svg>
</body></html>
